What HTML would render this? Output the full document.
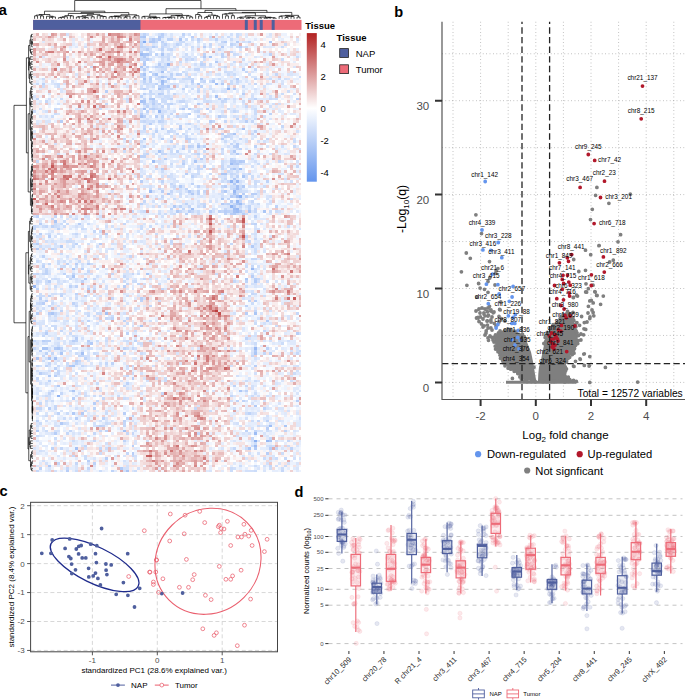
<!DOCTYPE html>
<html><head><meta charset="utf-8"><style>html,body{margin:0;padding:0;background:#fff;width:685px;height:700px;overflow:hidden}svg{display:block}</style></head><body>
<svg width="685" height="700" viewBox="0 0 685 700" font-family='"Liberation Sans", sans-serif'>
<g transform="translate(33.1,33.1) scale(2.98222,2.49432)" shape-rendering="crispEdges" fill="none">
<path stroke="#84abf1" d="M37 3.5h1"/>
<path stroke="#8bb0f2" d="M69 65.5h1M74 163.5h1"/>
<path stroke="#91b4f2" d="M65 22.5h1M66 59.5h1M66 69.5h1M8 145.5h1"/>
<path stroke="#98b8f3" d="M45 12.5h1M42 31.5h1M68 59.5h1M67 63.5h1M68 67.5h1M68 70.5h1M73 94.5h1M0 101.5h1M74 126.5h1M78 163.5h1"/>
<path stroke="#9ebdf4" d="M36 8.5h1M43 19.5h1M61 20.5h1M40 51.5h1M66 52.5h1M69 54.5h1M39 63.5h1M69 68.5h1M53 70.5h1M67 70.5h1M68 71.5h1M79 157.5h1M74 160.5h1M74 165.5h1"/>
<path stroke="#a5c1f4" d="M43 15.5h1M43 20.5h1M42 22.5h1M61 25.5h1M36 27.5h1M37 30.5h1M36 33.5h1M70 38.5h1M68 61.5h1M68 62.5h1M68 65.5h1M67 71.5h1M24 112.5h1M16 128.5h1M7 130.5h1M30 159.5h1M14 166.5h1"/>
<path stroke="#abc6f5" d="M37 1.5h1M49 2.5h1M37 8.5h2M43 8.5h1M59 9.5h1M36 13.5h1M37 16.5h1M41 16.5h1M43 17.5h1M37 18.5h1M45 18.5h1M40 26.5h1M37 27.5h1M67 40.5h1M37 42.5h1M55 45.5h1M42 47.5h1M54 51.5h1M67 54.5h1M63 56.5h2M70 57.5h1M45 64.5h1M67 64.5h1M68 68.5h1M72 71.5h1M77 71.5h1M7 75.5h1M13 94.5h1M38 96.5h1M13 97.5h1M71 98.5h1M6 112.5h1M74 112.5h1M36 117.5h1M3 126.5h2M8 126.5h1M9 128.5h1M74 128.5h1M1 130.5h1M5 130.5h1M13 133.5h1M13 143.5h1M69 143.5h1M84 157.5h1M79 163.5h1M72 166.5h1M31 175.5h1"/>
<path stroke="#b2caf6" d="M36 1.5h1M42 1.5h1M40 2.5h1M42 2.5h1M39 3.5h2M79 3.5h1M63 5.5h1M37 9.5h1M57 9.5h1M61 11.5h1M37 12.5h1M56 18.5h1M68 18.5h1M60 19.5h1M55 20.5h1M63 20.5h1M45 21.5h1M67 22.5h1M39 26.5h1M50 30.5h1M49 38.5h1M67 47.5h1M68 48.5h1M66 51.5h2M69 51.5h1M68 52.5h1M67 58.5h1M67 60.5h1M49 61.5h1M70 61.5h1M52 63.5h1M64 63.5h1M53 64.5h1M63 66.5h1M66 67.5h1M63 68.5h1M47 69.5h1M67 69.5h1M48 71.5h1M69 71.5h1M67 72.5h1M9 85.5h1M73 85.5h1M1 86.5h1M17 98.5h1M74 99.5h1M78 115.5h1M19 124.5h1M7 126.5h1M74 127.5h1M14 131.5h1M12 133.5h1M5 137.5h1M8 141.5h1M74 149.5h1M13 152.5h1M16 152.5h1M9 156.5h1M1 159.5h1M74 166.5h1M5 173.5h1M29 174.5h1"/>
<path stroke="#b8cef7" d="M43 0.5h1M53 1.5h1M64 3.5h1M68 3.5h1M40 5.5h1M57 5.5h1M69 5.5h1M38 6.5h1M38 10.5h1M37 11.5h1M42 12.5h1M37 14.5h1M70 14.5h1M39 18.5h1M53 19.5h1M43 21.5h1M37 22.5h1M24 23.5h1M42 24.5h1M70 24.5h1M62 26.5h1M37 28.5h1M40 28.5h1M55 28.5h1M40 30.5h1M52 30.5h1M58 30.5h1M36 32.5h1M52 32.5h1M37 33.5h1M41 33.5h1M62 33.5h1M9 35.5h1M59 35.5h1M71 35.5h1M39 36.5h1M49 37.5h1M43 38.5h1M63 40.5h1M43 42.5h1M63 42.5h1M68 44.5h1M68 45.5h1M50 46.5h1M44 50.5h1M56 50.5h1M70 51.5h1M50 52.5h1M67 52.5h1M57 53.5h1M43 54.5h1M51 56.5h1M36 59.5h1M64 61.5h1M43 63.5h1M70 64.5h1M73 64.5h2M66 65.5h1M52 71.5h1M59 71.5h1M64 71.5h1M66 72.5h1M70 72.5h1M2 76.5h1M15 76.5h1M2 80.5h1M24 80.5h1M5 81.5h1M1 84.5h1M22 84.5h1M14 92.5h1M18 92.5h1M16 94.5h1M73 97.5h1M74 98.5h1M5 99.5h1M30 101.5h1M18 102.5h1M2 106.5h1M36 106.5h1M4 107.5h1M74 107.5h1M3 108.5h1M1 112.5h1M5 112.5h1M71 112.5h1M0 115.5h1M4 120.5h1M88 120.5h1M14 122.5h1M3 123.5h1M13 123.5h1M18 123.5h1M2 127.5h1M74 133.5h1M2 136.5h1M7 137.5h1M33 138.5h1M6 143.5h1M13 146.5h1M88 147.5h1M20 148.5h1M5 150.5h1M30 152.5h1M14 154.5h1M78 158.5h1M7 160.5h1M33 165.5h1M79 166.5h1M33 168.5h1M78 168.5h1M24 170.5h1M18 171.5h1M11 175.5h1"/>
<path stroke="#bed3f8" d="M37 0.5h1M50 0.5h1M43 1.5h1M45 2.5h2M55 2.5h1M61 2.5h1M43 3.5h1M44 4.5h1M48 4.5h1M66 4.5h1M36 5.5h1M43 6.5h1M36 7.5h1M41 8.5h1M57 8.5h1M63 8.5h1M79 8.5h1M63 9.5h1M56 12.5h1M38 13.5h1M41 13.5h1M43 13.5h1M39 15.5h1M36 16.5h1M40 16.5h1M46 16.5h1M48 16.5h1M39 17.5h1M44 17.5h1M47 18.5h1M74 18.5h1M37 19.5h1M39 19.5h1M44 19.5h1M3 20.5h1M41 20.5h1M42 21.5h1M44 21.5h1M56 21.5h1M43 22.5h1M50 22.5h1M37 24.5h1M43 24.5h1M36 25.5h1M46 26.5h1M54 26.5h1M64 26.5h1M74 26.5h1M88 26.5h1M40 27.5h1M46 28.5h1M38 29.5h1M39 30.5h1M38 31.5h1M79 32.5h1M43 33.5h1M68 34.5h1M42 35.5h1M37 38.5h1M41 39.5h1M74 39.5h1M64 41.5h1M51 42.5h2M46 43.5h1M37 45.5h1M52 45.5h1M57 45.5h1M67 45.5h1M74 45.5h1M69 46.5h1M48 47.5h1M55 48.5h1M36 49.5h2M66 50.5h1M68 51.5h1M66 54.5h1M53 57.5h1M68 57.5h1M43 59.5h1M78 59.5h1M53 60.5h1M55 61.5h1M51 62.5h1M67 62.5h1M55 63.5h1M55 64.5h1M71 65.5h1M36 68.5h1M51 68.5h1M65 68.5h1M49 69.5h1M57 69.5h1M72 69.5h1M81 69.5h1M46 70.5h1M72 70.5h1M62 71.5h1M65 71.5h1M51 72.5h1M64 72.5h1M1 73.5h1M74 73.5h1M74 76.5h1M6 77.5h1M8 78.5h1M14 84.5h1M6 86.5h1M3 89.5h1M11 92.5h1M3 93.5h1M4 95.5h1M4 96.5h1M10 96.5h1M45 98.5h1M16 99.5h1M71 99.5h1M12 101.5h1M14 101.5h1M1 102.5h1M14 104.5h1M5 105.5h1M9 105.5h1M17 105.5h1M36 107.5h1M72 107.5h1M13 108.5h1M71 109.5h1M9 111.5h1M26 114.5h1M18 115.5h1M30 115.5h1M31 120.5h1M71 122.5h1M4 123.5h2M14 123.5h1M34 123.5h1M9 126.5h1M30 126.5h1M78 126.5h1M4 128.5h1M79 128.5h1M17 130.5h1M14 132.5h1M26 132.5h1M4 133.5h1M7 134.5h1M5 139.5h1M31 140.5h1M67 141.5h1M71 143.5h1M68 147.5h1M70 147.5h1M20 150.5h1M77 150.5h1M8 152.5h1M72 152.5h1M33 153.5h1M23 154.5h1M31 154.5h1M1 155.5h1M30 155.5h1M78 155.5h1M22 157.5h1M24 159.5h1M71 159.5h1M84 159.5h1M30 163.5h1M6 166.5h1M86 166.5h1M20 172.5h1M2 174.5h1M26 175.5h1"/>
<path stroke="#c5d7f8" d="M39 2.5h1M41 2.5h1M36 3.5h1M41 3.5h1M63 3.5h1M72 3.5h1M36 4.5h1M59 4.5h1M37 5.5h1M43 5.5h1M46 6.5h1M62 6.5h1M66 7.5h1M39 8.5h1M36 10.5h2M45 10.5h1M51 10.5h1M53 10.5h1M57 12.5h1M42 13.5h1M64 13.5h1M54 14.5h2M74 14.5h1M71 15.5h1M49 16.5h1M81 16.5h1M36 17.5h2M42 17.5h1M46 17.5h1M52 17.5h1M53 18.5h1M57 19.5h1M68 19.5h1M74 20.5h1M65 21.5h1M70 21.5h1M36 22.5h1M39 23.5h1M55 23.5h1M47 24.5h1M1 26.5h1M37 26.5h1M4 27.5h1M49 27.5h2M63 27.5h1M24 28.5h1M42 28.5h1M45 28.5h1M43 29.5h1M71 29.5h1M41 30.5h1M49 30.5h1M55 31.5h1M67 31.5h1M46 32.5h1M48 33.5h1M55 33.5h1M37 35.5h1M43 35.5h1M60 35.5h1M64 35.5h1M73 35.5h1M52 36.5h1M37 37.5h1M83 37.5h1M39 38.5h1M52 38.5h1M63 38.5h1M45 39.5h1M48 40.5h1M66 40.5h1M73 40.5h1M51 41.5h1M65 41.5h1M30 42.5h1M69 42.5h1M78 42.5h1M55 44.5h1M66 44.5h1M50 45.5h1M53 45.5h1M87 45.5h1M63 46.5h1M38 48.5h1M43 48.5h2M1 51.5h1M50 51.5h1M82 51.5h1M55 53.5h1M63 53.5h1M88 53.5h1M52 54.5h1M55 54.5h1M59 54.5h1M63 54.5h1M66 56.5h1M72 56.5h1M64 58.5h1M65 59.5h1M46 60.5h1M47 61.5h1M63 61.5h1M34 62.5h1M42 62.5h1M69 62.5h1M46 63.5h1M57 63.5h1M63 63.5h1M37 65.5h1M43 65.5h1M67 65.5h1M65 66.5h1M37 67.5h1M69 67.5h1M73 67.5h1M57 68.5h1M64 68.5h1M67 68.5h1M52 69.5h1M69 69.5h1M50 70.5h1M64 70.5h1M74 70.5h1M33 71.5h1M49 71.5h1M53 71.5h1M63 71.5h1M66 71.5h1M74 71.5h1M7 73.5h1M6 74.5h1M30 76.5h1M73 76.5h1M0 77.5h1M4 77.5h1M0 78.5h1M20 79.5h1M14 80.5h1M71 81.5h1M74 82.5h1M46 83.5h1M72 83.5h1M66 84.5h1M32 89.5h1M73 90.5h2M5 92.5h1M73 93.5h1M4 94.5h1M21 94.5h1M18 95.5h1M1 96.5h1M3 96.5h1M13 96.5h1M26 96.5h1M33 96.5h1M30 97.5h1M12 98.5h1M20 98.5h1M37 98.5h1M75 98.5h1M1 99.5h1M67 99.5h1M31 100.5h1M35 100.5h1M20 102.5h1M43 102.5h1M9 104.5h1M73 104.5h1M26 106.5h1M2 108.5h1M5 109.5h1M14 109.5h1M39 109.5h1M74 111.5h1M7 112.5h1M88 112.5h1M18 113.5h1M24 114.5h1M31 114.5h1M7 115.5h1M18 117.5h1M9 119.5h1M77 119.5h1M3 121.5h1M8 122.5h1M0 123.5h1M39 123.5h1M18 124.5h1M0 126.5h1M33 126.5h1M6 128.5h1M30 128.5h1M77 128.5h1M88 128.5h1M3 129.5h1M15 129.5h2M73 129.5h1M15 131.5h1M5 132.5h1M24 132.5h1M1 133.5h1M16 133.5h1M8 135.5h1M8 136.5h1M31 137.5h1M1 138.5h1M30 141.5h1M71 141.5h1M5 144.5h1M9 144.5h1M43 144.5h1M66 145.5h1M23 146.5h1M21 147.5h1M2 148.5h1M7 149.5h1M1 150.5h2M7 150.5h1M54 150.5h1M75 155.5h1M30 156.5h1M23 157.5h1M30 157.5h1M12 159.5h1M22 159.5h1M74 159.5h1M11 160.5h1M20 160.5h1M31 160.5h1M33 160.5h1M55 160.5h1M73 162.5h1M79 162.5h1M20 163.5h1M85 163.5h1M17 165.5h1M9 166.5h1M22 166.5h1M67 166.5h1M81 166.5h1M31 168.5h1M13 169.5h1M33 169.5h1M84 170.5h1M8 172.5h1M14 172.5h1M79 173.5h1M11 174.5h1M18 174.5h1M1 175.5h1M83 175.5h1"/>
<path stroke="#cbdcf9" d="M42 0.5h1M68 0.5h1M59 1.5h1M65 1.5h1M68 1.5h1M37 2.5h1M51 2.5h1M53 2.5h1M66 2.5h1M49 3.5h2M55 3.5h1M43 4.5h1M49 4.5h1M67 4.5h1M84 4.5h1M38 5.5h1M41 5.5h1M53 5.5h1M59 5.5h1M68 5.5h1M71 5.5h1M83 5.5h1M37 6.5h1M45 6.5h1M39 7.5h1M45 8.5h1M51 8.5h1M67 8.5h1M36 9.5h1M43 9.5h1M45 9.5h1M88 9.5h1M39 10.5h1M70 10.5h1M83 10.5h1M49 11.5h1M56 11.5h1M67 11.5h1M44 12.5h1M59 12.5h1M19 13.5h1M44 13.5h1M43 14.5h2M50 15.5h1M64 15.5h1M51 16.5h1M65 16.5h1M67 16.5h1M89 17.5h1M3 18.5h1M41 18.5h2M46 18.5h1M50 18.5h3M62 18.5h1M79 18.5h1M82 18.5h1M56 19.5h1M59 19.5h1M66 19.5h1M1 20.5h1M8 20.5h1M37 20.5h2M53 20.5h1M66 20.5h1M3 21.5h1M8 21.5h1M40 21.5h1M51 21.5h1M44 22.5h1M46 22.5h1M53 22.5h1M55 22.5h1M85 23.5h1M39 24.5h2M83 24.5h1M44 25.5h2M9 26.5h1M31 26.5h1M43 26.5h1M45 26.5h1M79 26.5h1M81 26.5h1M43 27.5h2M58 27.5h1M64 27.5h1M70 27.5h1M38 28.5h1M40 29.5h1M45 29.5h1M51 29.5h1M7 30.5h1M22 30.5h1M42 30.5h1M45 30.5h1M65 30.5h1M74 30.5h1M0 31.5h1M34 31.5h1M54 31.5h1M74 31.5h1M7 32.5h1M74 32.5h1M6 33.5h1M51 33.5h1M63 33.5h2M70 33.5h1M43 34.5h1M74 34.5h1M30 35.5h1M36 35.5h1M40 35.5h1M46 38.5h1M55 38.5h1M46 39.5h1M40 40.5h1M50 40.5h1M65 40.5h1M46 41.5h1M36 43.5h1M52 43.5h1M64 43.5h1M87 43.5h1M47 45.5h1M68 46.5h1M30 47.5h1M43 47.5h1M46 47.5h1M57 47.5h1M37 48.5h1M41 48.5h1M54 48.5h1M63 48.5h1M66 48.5h1M74 48.5h1M57 49.5h1M67 50.5h1M63 51.5h1M46 52.5h1M63 52.5h1M69 52.5h1M75 52.5h1M65 53.5h1M41 54.5h1M56 54.5h1M68 54.5h1M43 55.5h1M65 55.5h1M68 55.5h1M55 56.5h1M59 56.5h1M67 56.5h1M36 57.5h1M39 57.5h1M45 57.5h1M66 57.5h1M73 57.5h1M63 59.5h1M67 59.5h1M74 59.5h1M74 60.5h1M66 61.5h2M69 61.5h1M77 61.5h1M39 62.5h1M66 62.5h1M53 63.5h1M68 63.5h2M49 64.5h1M68 64.5h1M73 65.5h1M47 66.5h1M86 66.5h1M56 68.5h1M70 68.5h1M75 68.5h1M42 69.5h1M55 69.5h1M37 71.5h1M55 71.5h1M70 71.5h1M79 71.5h1M81 71.5h1M42 72.5h1M44 72.5h1M47 72.5h1M55 72.5h1M68 72.5h1M71 72.5h1M12 73.5h1M14 74.5h1M10 75.5h1M7 76.5h1M9 76.5h1M11 76.5h1M18 76.5h1M3 77.5h1M7 77.5h1M10 77.5h1M36 77.5h1M39 77.5h1M85 77.5h1M16 78.5h1M36 78.5h1M22 79.5h1M5 80.5h1M41 80.5h1M17 81.5h1M11 83.5h2M55 83.5h1M0 84.5h1M46 84.5h1M74 84.5h1M2 85.5h1M13 85.5h1M30 85.5h1M3 86.5h1M7 86.5h1M26 86.5h1M74 86.5h1M74 87.5h1M9 88.5h1M17 89.5h1M14 90.5h1M1 91.5h1M8 91.5h1M15 91.5h1M3 92.5h1M8 92.5h1M19 92.5h1M10 93.5h1M14 93.5h1M71 93.5h1M8 94.5h1M0 96.5h1M17 96.5h1M35 96.5h1M61 96.5h1M11 97.5h1M7 98.5h1M31 98.5h1M4 99.5h1M30 99.5h1M33 99.5h2M78 99.5h1M1 100.5h1M42 100.5h1M7 101.5h1M71 101.5h1M2 104.5h1M63 104.5h1M74 104.5h1M2 105.5h2M31 105.5h1M72 105.5h1M77 105.5h1M14 106.5h1M1 108.5h1M6 108.5h1M73 108.5h1M7 110.5h1M2 111.5h1M18 112.5h1M21 112.5h2M5 113.5h1M7 113.5h1M26 113.5h1M25 114.5h1M31 116.5h1M74 116.5h1M6 117.5h2M81 117.5h1M7 118.5h1M4 119.5h1M34 119.5h1M12 120.5h1M13 121.5h1M21 123.5h1M24 123.5h1M31 123.5h1M36 124.5h1M74 124.5h1M83 124.5h1M8 125.5h1M18 126.5h1M31 126.5h1M5 127.5h1M9 127.5h1M89 127.5h1M14 128.5h1M20 128.5h1M36 128.5h1M3 131.5h1M11 132.5h1M8 133.5h1M11 133.5h1M31 133.5h1M33 133.5h1M3 136.5h1M33 136.5h1M87 136.5h1M41 138.5h1M44 138.5h1M44 139.5h1M71 139.5h1M74 139.5h1M21 140.5h1M12 143.5h1M74 144.5h1M4 145.5h1M17 145.5h1M20 145.5h1M22 145.5h1M28 145.5h1M73 145.5h1M30 146.5h1M4 147.5h1M6 147.5h1M33 150.5h1M67 150.5h1M17 151.5h1M59 151.5h1M1 152.5h1M11 152.5h1M24 152.5h1M71 152.5h1M4 153.5h1M10 154.5h1M73 155.5h1M2 156.5h1M10 156.5h1M24 156.5h1M21 157.5h1M75 157.5h1M4 159.5h1M78 159.5h1M1 161.5h1M7 162.5h1M13 163.5h1M74 164.5h1M73 165.5h1M79 165.5h1M85 165.5h1M24 166.5h1M71 166.5h1M22 168.5h1M83 168.5h1M17 169.5h1M17 170.5h1M77 170.5h1M81 170.5h1M69 173.5h1M74 173.5h1M84 173.5h1M66 174.5h1M79 174.5h1M83 174.5h1M14 175.5h1M22 175.5h1M34 175.5h1M66 175.5h1M74 175.5h1"/>
<path stroke="#d2e0fa" d="M11 0.5h1M36 0.5h1M38 0.5h1M52 0.5h1M66 0.5h1M50 1.5h1M63 1.5h1M36 2.5h1M70 3.5h1M51 4.5h1M17 5.5h1M39 5.5h1M44 5.5h1M47 5.5h1M55 5.5h1M66 5.5h1M36 6.5h1M39 6.5h1M43 7.5h1M68 8.5h1M44 9.5h1M47 9.5h1M50 9.5h1M52 9.5h1M64 9.5h1M43 10.5h1M52 10.5h1M57 10.5h1M43 11.5h1M54 12.5h1M40 13.5h1M48 13.5h1M56 13.5h2M59 13.5h1M73 13.5h1M45 15.5h1M59 15.5h1M65 15.5h2M18 16.5h1M62 16.5h1M72 16.5h1M60 18.5h1M84 18.5h1M63 19.5h1M7 20.5h1M27 20.5h1M39 20.5h2M46 20.5h2M68 20.5h1M78 20.5h1M83 20.5h1M36 21.5h1M38 21.5h1M48 21.5h1M77 21.5h1M38 22.5h1M45 22.5h1M59 22.5h1M74 22.5h1M43 23.5h1M45 23.5h1M60 23.5h1M63 23.5h2M78 24.5h1M87 24.5h1M39 25.5h1M42 25.5h1M57 25.5h1M73 25.5h1M79 25.5h1M5 26.5h1M44 26.5h1M57 26.5h1M65 26.5h1M67 26.5h1M72 26.5h2M80 26.5h1M31 27.5h1M39 27.5h1M41 27.5h1M57 27.5h1M59 27.5h1M8 28.5h1M41 28.5h1M44 28.5h1M56 28.5h1M80 28.5h1M82 28.5h1M41 29.5h1M79 29.5h1M2 30.5h1M8 30.5h1M33 30.5h1M36 30.5h1M53 30.5h1M55 30.5h1M4 31.5h1M36 31.5h1M43 31.5h2M47 31.5h1M63 31.5h1M68 31.5h1M43 32.5h1M51 32.5h1M45 33.5h1M49 33.5h2M67 33.5h1M77 33.5h1M38 34.5h1M70 34.5h1M38 35.5h2M51 36.5h1M54 37.5h1M67 37.5h1M41 38.5h1M59 38.5h1M62 38.5h1M36 39.5h2M47 39.5h1M88 39.5h1M53 40.5h1M40 41.5h1M66 41.5h1M33 42.5h1M53 42.5h1M66 42.5h1M87 42.5h1M67 43.5h1M71 43.5h1M75 43.5h1M77 43.5h1M7 44.5h1M36 45.5h1M56 45.5h1M65 45.5h1M83 45.5h1M46 46.5h1M89 46.5h1M52 47.5h1M63 47.5h1M66 47.5h1M8 48.5h1M46 48.5h2M49 48.5h1M79 48.5h1M73 50.5h1M42 51.5h1M74 51.5h1M88 51.5h1M67 53.5h2M73 53.5h1M36 54.5h1M55 55.5h1M66 55.5h1M46 56.5h1M53 56.5h2M70 56.5h1M83 56.5h1M43 57.5h1M46 57.5h1M54 57.5h1M64 57.5h1M71 57.5h1M47 58.5h1M73 58.5h1M84 58.5h1M69 59.5h1M75 59.5h1M86 59.5h1M24 60.5h1M43 60.5h1M39 61.5h1M46 61.5h1M50 61.5h1M74 61.5h1M47 62.5h1M49 62.5h1M40 63.5h1M49 63.5h1M51 63.5h1M70 63.5h2M75 63.5h1M77 63.5h1M46 64.5h1M52 64.5h1M57 64.5h1M49 65.5h1M63 65.5h1M79 65.5h1M42 66.5h2M69 66.5h1M74 66.5h1M78 66.5h1M40 67.5h1M59 67.5h1M79 67.5h1M73 68.5h1M40 69.5h1M71 69.5h1M60 70.5h1M69 70.5h1M36 71.5h1M42 71.5h1M46 71.5h1M60 71.5h1M82 71.5h1M46 72.5h1M0 73.5h1M9 73.5h1M17 73.5h1M22 73.5h1M43 73.5h1M63 75.5h1M41 76.5h1M1 77.5h1M8 77.5h1M14 77.5h1M24 77.5h1M26 77.5h1M43 77.5h1M45 77.5h1M65 77.5h1M17 78.5h1M28 78.5h1M74 78.5h2M8 80.5h1M13 80.5h1M31 80.5h1M74 80.5h1M1 81.5h2M22 81.5h1M48 81.5h1M52 81.5h1M12 82.5h1M71 82.5h1M4 83.5h1M6 83.5h1M13 83.5h1M33 83.5h1M71 83.5h1M7 84.5h1M13 84.5h1M18 84.5h1M26 84.5h1M50 84.5h1M21 85.5h1M28 88.5h1M71 88.5h1M11 89.5h1M37 90.5h1M41 90.5h1M10 91.5h1M16 92.5h1M60 92.5h1M71 92.5h1M9 93.5h1M75 93.5h1M37 94.5h1M74 94.5h1M71 95.5h1M5 96.5h1M19 96.5h1M73 96.5h1M21 97.5h1M6 98.5h1M8 98.5h1M14 98.5h1M39 98.5h1M2 99.5h1M8 99.5h1M10 99.5h1M75 99.5h1M4 100.5h1M37 100.5h1M73 100.5h2M18 101.5h1M20 101.5h1M24 101.5h1M28 101.5h1M5 102.5h1M24 102.5h1M77 102.5h1M73 103.5h1M6 104.5h2M10 104.5h1M1 105.5h1M14 105.5h1M20 105.5h1M22 105.5h1M37 106.5h1M70 106.5h1M2 107.5h1M42 107.5h1M14 108.5h1M8 109.5h1M18 109.5h1M1 110.5h1M3 110.5h1M18 110.5h1M34 110.5h1M15 111.5h1M79 111.5h1M17 112.5h1M30 112.5h1M67 112.5h1M11 113.5h1M20 113.5h1M21 114.5h1M75 114.5h1M6 115.5h1M11 115.5h1M16 115.5h1M22 115.5h1M39 115.5h1M21 116.5h1M77 116.5h1M14 117.5h1M30 117.5h1M33 117.5h1M2 118.5h1M14 118.5h1M13 119.5h1M45 119.5h1M3 120.5h1M89 120.5h1M14 121.5h1M74 121.5h1M16 122.5h1M24 122.5h1M72 122.5h1M12 123.5h1M26 123.5h1M30 123.5h1M79 123.5h1M85 123.5h1M1 124.5h1M3 124.5h2M8 124.5h1M12 124.5h2M35 124.5h1M5 126.5h1M14 126.5h1M19 126.5h1M34 126.5h1M43 126.5h1M66 126.5h1M10 127.5h1M12 127.5h1M16 127.5h1M86 127.5h1M21 128.5h1M73 128.5h1M17 129.5h2M4 130.5h1M18 130.5h1M21 130.5h1M74 130.5h1M8 131.5h1M15 132.5h1M22 132.5h1M2 133.5h1M5 133.5h1M17 133.5h1M24 133.5h1M40 133.5h1M66 133.5h1M88 133.5h1M31 134.5h1M1 135.5h1M5 135.5h1M88 135.5h1M4 136.5h1M7 136.5h1M14 136.5h1M36 136.5h1M74 136.5h1M68 137.5h1M17 138.5h1M1 139.5h1M38 139.5h1M86 139.5h1M2 140.5h1M4 140.5h1M7 141.5h1M73 141.5h1M77 141.5h1M31 142.5h1M73 142.5h1M20 143.5h1M1 144.5h1M15 144.5h1M17 144.5h1M5 145.5h1M14 145.5h1M75 145.5h1M78 145.5h1M1 146.5h1M31 146.5h1M11 147.5h1M66 147.5h1M71 147.5h1M77 147.5h1M73 148.5h1M12 149.5h1M14 150.5h1M24 151.5h1M85 151.5h1M73 152.5h1M16 153.5h1M78 153.5h1M18 154.5h1M71 154.5h1M89 154.5h1M4 155.5h1M18 155.5h1M22 155.5h1M33 155.5h1M82 155.5h1M11 156.5h1M20 156.5h1M25 156.5h1M68 156.5h1M79 156.5h1M1 157.5h1M7 157.5h2M20 157.5h1M78 157.5h1M73 158.5h1M81 158.5h1M7 159.5h2M34 159.5h1M6 160.5h1M72 160.5h1M18 161.5h1M68 161.5h1M38 163.5h1M73 163.5h1M81 163.5h1M7 164.5h1M24 164.5h1M78 165.5h1M80 165.5h1M17 166.5h1M2 167.5h1M72 168.5h1M75 168.5h1M34 169.5h1M87 170.5h1M3 171.5h1M30 171.5h1M74 171.5h1M4 172.5h1M18 172.5h1M78 172.5h1M85 172.5h1M31 173.5h1M77 173.5h1M81 173.5h1M30 174.5h2M35 174.5h1M67 174.5h1M7 175.5h1M30 175.5h1M71 175.5h3"/>
<path stroke="#d8e4fa" d="M44 0.5h1M46 0.5h1M61 0.5h1M69 0.5h1M79 0.5h1M46 1.5h1M49 1.5h1M56 2.5h1M59 2.5h1M88 2.5h1M71 3.5h1M40 4.5h1M45 4.5h1M47 4.5h1M57 4.5h1M62 4.5h2M45 5.5h1M70 5.5h1M77 5.5h1M42 6.5h1M53 6.5h1M69 6.5h1M46 8.5h1M61 8.5h1M3 9.5h1M11 9.5h1M38 9.5h1M42 9.5h1M51 9.5h1M54 9.5h1M56 9.5h1M74 9.5h1M54 10.5h1M42 11.5h1M46 11.5h1M51 11.5h1M66 12.5h1M69 12.5h1M71 12.5h1M78 12.5h1M63 13.5h1M87 13.5h1M36 14.5h1M42 14.5h1M47 14.5h1M52 14.5h1M67 14.5h1M37 15.5h1M42 15.5h1M51 15.5h1M73 15.5h1M86 15.5h1M14 16.5h1M54 16.5h1M58 16.5h1M61 16.5h1M66 16.5h1M78 16.5h1M85 16.5h2M41 17.5h1M45 17.5h1M73 17.5h2M67 18.5h1M78 18.5h1M85 18.5h1M6 19.5h1M31 19.5h1M36 19.5h1M42 19.5h1M49 19.5h2M69 19.5h1M71 19.5h1M83 19.5h1M10 20.5h1M24 20.5h1M48 20.5h1M72 20.5h1M79 20.5h1M31 21.5h1M39 21.5h1M59 21.5h1M9 22.5h1M64 22.5h1M9 23.5h1M57 23.5h1M70 23.5h1M5 24.5h1M38 24.5h1M45 24.5h1M73 24.5h1M0 25.5h1M41 25.5h1M43 25.5h1M46 25.5h1M59 25.5h1M50 26.5h1M48 27.5h1M51 27.5h1M67 27.5h1M5 28.5h1M39 28.5h1M47 28.5h1M51 28.5h1M63 28.5h1M70 28.5h1M37 29.5h1M50 29.5h1M63 29.5h1M73 29.5h1M14 30.5h1M43 30.5h1M56 30.5h1M67 30.5h1M73 30.5h1M40 31.5h1M59 31.5h1M66 31.5h1M8 32.5h1M38 32.5h1M42 32.5h1M50 32.5h1M2 33.5h1M4 33.5h1M39 33.5h1M57 33.5h1M68 33.5h1M71 33.5h1M74 33.5h1M72 34.5h1M79 34.5h1M4 35.5h2M44 35.5h1M55 35.5h1M66 35.5h1M69 35.5h2M1 36.5h1M24 36.5h1M38 36.5h1M43 36.5h1M48 36.5h1M59 36.5h1M74 36.5h1M43 37.5h1M54 38.5h1M69 38.5h1M79 38.5h1M51 39.5h1M38 40.5h1M45 40.5h1M55 40.5h1M42 41.5h1M49 41.5h1M74 41.5h1M54 42.5h1M71 42.5h1M73 42.5h1M32 43.5h1M40 43.5h1M48 44.5h1M45 45.5h1M78 45.5h1M52 46.5h1M55 46.5h1M71 46.5h1M81 46.5h1M75 47.5h1M53 48.5h1M67 48.5h1M69 48.5h1M84 48.5h1M42 49.5h1M52 49.5h1M55 49.5h1M54 50.5h1M36 51.5h1M41 51.5h1M43 51.5h1M56 51.5h1M64 51.5h1M78 51.5h1M83 51.5h1M42 52.5h1M53 52.5h1M70 52.5h1M46 53.5h1M48 53.5h3M52 53.5h1M66 53.5h1M85 53.5h1M54 54.5h1M64 54.5h1M36 55.5h1M52 55.5h1M37 56.5h1M68 56.5h1M71 56.5h1M82 56.5h1M38 57.5h1M50 57.5h1M62 57.5h2M75 57.5h1M46 58.5h1M63 58.5h1M71 58.5h1M47 59.5h2M64 59.5h1M47 60.5h1M69 60.5h1M37 61.5h2M72 61.5h1M43 62.5h1M58 62.5h1M26 63.5h1M48 63.5h1M62 64.5h2M66 64.5h1M75 64.5h1M41 65.5h1M51 65.5h1M56 65.5h1M72 65.5h1M75 65.5h1M78 65.5h1M70 66.5h1M55 67.5h1M61 67.5h1M72 67.5h1M24 68.5h1M37 68.5h1M50 68.5h1M53 68.5h1M55 68.5h1M66 68.5h1M78 68.5h2M48 69.5h1M56 69.5h1M65 69.5h1M68 69.5h1M65 70.5h2M50 71.5h1M54 71.5h1M73 71.5h1M59 72.5h1M69 72.5h1M79 72.5h1M14 73.5h1M18 73.5h1M33 73.5h1M11 74.5h1M13 74.5h1M18 74.5h1M74 74.5h1M2 75.5h1M31 75.5h1M8 76.5h1M37 76.5h1M46 76.5h1M71 76.5h1M76 76.5h1M16 77.5h1M48 77.5h1M74 77.5h1M27 78.5h1M89 78.5h1M6 79.5h1M35 79.5h1M74 79.5h1M0 80.5h1M4 80.5h1M73 80.5h1M7 81.5h1M14 81.5h1M24 81.5h1M31 81.5h1M74 81.5h1M79 81.5h1M3 82.5h1M9 82.5h1M1 83.5h1M30 83.5h1M36 83.5h1M27 84.5h1M42 84.5h1M4 85.5h2M7 85.5h2M15 85.5h1M43 85.5h1M74 85.5h1M12 86.5h1M25 86.5h1M17 87.5h1M24 87.5h1M64 87.5h1M77 87.5h1M74 88.5h1M21 89.5h1M24 89.5h1M4 90.5h1M17 90.5h1M24 90.5h1M44 90.5h1M2 91.5h1M12 91.5h1M18 91.5h1M39 92.5h1M16 93.5h1M2 94.5h1M24 94.5h1M77 94.5h1M3 95.5h1M5 95.5h1M31 95.5h1M74 95.5h1M2 96.5h1M18 96.5h1M24 96.5h1M30 96.5h3M39 96.5h1M12 97.5h1M31 97.5h1M1 98.5h1M3 98.5h2M26 98.5h2M34 98.5h1M36 98.5h1M41 98.5h1M14 99.5h1M23 99.5h1M68 99.5h1M81 99.5h1M5 100.5h1M8 100.5h2M13 101.5h1M39 101.5h1M74 101.5h1M7 102.5h1M9 102.5h1M33 102.5h1M44 102.5h1M71 103.5h1M30 104.5h1M35 105.5h1M12 106.5h1M3 107.5h1M6 107.5h1M16 107.5h1M30 107.5h1M25 108.5h1M31 108.5h1M0 109.5h1M21 109.5h1M28 109.5h1M20 110.5h1M35 110.5h1M74 110.5h1M20 111.5h1M8 112.5h1M14 112.5h1M76 112.5h1M72 113.5h1M85 113.5h1M5 114.5h1M7 114.5h1M85 114.5h1M3 115.5h1M10 115.5h1M14 115.5h1M68 115.5h1M74 115.5h1M1 116.5h3M10 116.5h1M79 116.5h1M2 117.5h1M4 117.5h1M10 118.5h1M70 118.5h1M19 119.5h1M1 120.5h1M74 120.5h1M5 121.5h1M49 121.5h1M73 121.5h1M79 121.5h1M34 122.5h1M1 123.5h1M10 123.5h1M77 123.5h1M82 123.5h1M7 124.5h1M10 124.5h1M24 124.5h1M31 124.5h1M40 124.5h1M73 124.5h1M6 125.5h1M36 125.5h1M74 125.5h1M1 126.5h1M13 126.5h1M22 126.5h1M55 126.5h1M64 126.5h1M73 126.5h1M81 126.5h1M88 126.5h1M68 127.5h1M73 127.5h1M88 127.5h1M15 128.5h1M18 128.5h1M24 128.5h2M37 128.5h1M48 128.5h1M34 130.5h1M18 131.5h1M7 132.5h1M13 132.5h1M19 132.5h1M22 133.5h1M83 133.5h2M87 133.5h1M33 134.5h1M73 134.5h1M8 137.5h1M30 137.5h1M86 137.5h1M12 138.5h1M37 138.5h1M72 138.5h1M7 139.5h1M29 139.5h1M75 139.5h1M83 139.5h1M66 140.5h1M81 140.5h1M14 141.5h2M24 141.5h1M36 141.5h1M1 142.5h1M1 143.5h2M22 143.5h1M33 143.5h1M58 143.5h1M60 143.5h1M70 143.5h1M81 143.5h1M89 143.5h1M36 144.5h1M88 144.5h1M3 145.5h1M18 145.5h1M67 145.5h1M5 146.5h1M72 146.5h1M37 147.5h1M74 147.5h1M4 148.5h1M82 148.5h1M4 149.5h1M10 149.5h1M55 149.5h1M88 149.5h1M16 150.5h1M78 150.5h1M82 150.5h2M2 151.5h1M9 151.5h1M4 152.5h1M7 152.5h1M74 152.5h1M88 152.5h1M3 153.5h1M6 153.5h1M19 153.5h1M21 153.5h1M26 153.5h1M12 154.5h1M24 154.5h1M77 154.5h2M24 155.5h1M26 155.5h1M66 155.5h1M83 155.5h1M1 156.5h1M7 156.5h1M14 156.5h1M34 156.5h1M67 156.5h1M33 157.5h1M69 157.5h1M76 157.5h2M3 158.5h1M15 158.5h1M75 159.5h2M79 159.5h1M87 159.5h1M13 160.5h1M15 160.5h1M70 160.5h1M77 160.5h1M2 161.5h1M78 161.5h1M83 161.5h1M10 162.5h1M1 163.5h1M34 163.5h1M67 163.5h1M75 163.5h1M34 164.5h1M16 165.5h1M25 165.5h1M88 165.5h1M0 166.5h1M26 166.5h2M63 166.5h1M66 166.5h1M83 166.5h1M3 167.5h1M11 167.5h1M79 167.5h1M8 169.5h1M27 169.5h1M30 169.5h1M70 169.5h1M73 169.5h1M80 169.5h1M20 170.5h1M34 170.5h1M71 170.5h1M80 170.5h1M89 170.5h1M79 171.5h1M82 172.5h1M88 172.5h1M1 173.5h1M14 173.5h1M20 173.5h1M26 173.5h1M5 174.5h1M14 174.5h1M75 174.5h1M88 174.5h1M5 175.5h1M18 175.5h1M33 175.5h1M59 175.5h1M77 175.5h1"/>
<path stroke="#dfe9fb" d="M41 0.5h1M54 0.5h1M71 0.5h1M39 1.5h1M71 1.5h1M78 1.5h2M82 1.5h1M13 2.5h1M43 2.5h1M60 2.5h1M63 2.5h1M74 2.5h1M3 3.5h1M44 3.5h1M48 3.5h1M61 3.5h1M66 3.5h1M13 4.5h1M41 4.5h1M52 4.5h1M55 4.5h1M64 4.5h1M68 4.5h1M6 5.5h1M12 5.5h1M14 5.5h1M48 5.5h1M78 5.5h2M47 6.5h1M51 6.5h1M63 6.5h1M40 7.5h1M46 7.5h1M67 7.5h1M44 8.5h1M53 8.5h1M71 8.5h1M77 8.5h1M40 9.5h1M40 10.5h1M44 10.5h1M61 10.5h1M44 11.5h2M62 11.5h1M72 11.5h1M43 12.5h1M49 12.5h1M74 12.5h1M45 13.5h1M47 13.5h1M50 13.5h1M55 13.5h1M58 13.5h1M62 13.5h1M70 13.5h1M38 14.5h1M41 14.5h1M46 14.5h1M48 14.5h1M64 14.5h1M78 14.5h1M40 15.5h1M46 15.5h1M55 15.5h1M43 16.5h1M53 16.5h1M59 16.5h1M87 16.5h1M51 17.5h1M70 17.5h1M79 17.5h1M8 18.5h1M43 18.5h1M48 18.5h2M57 18.5h1M61 18.5h1M64 18.5h1M71 18.5h1M75 18.5h1M3 19.5h1M34 19.5h1M38 19.5h1M51 19.5h1M81 19.5h1M6 20.5h1M36 20.5h1M45 20.5h1M51 20.5h1M67 20.5h1M7 21.5h1M52 21.5h3M2 22.5h1M47 22.5h1M57 22.5h1M60 22.5h1M63 22.5h1M71 22.5h1M41 23.5h2M50 23.5h1M52 23.5h1M61 23.5h1M68 23.5h1M74 23.5h1M41 24.5h1M48 24.5h1M51 24.5h1M69 25.5h2M82 25.5h1M22 26.5h1M30 26.5h1M52 26.5h1M55 26.5h1M63 26.5h1M75 26.5h4M2 27.5h1M5 27.5h1M52 27.5h1M60 27.5h2M73 27.5h1M1 28.5h1M78 28.5h1M39 29.5h1M42 29.5h1M62 29.5h1M68 29.5h1M70 29.5h1M74 29.5h1M81 29.5h1M15 30.5h1M54 30.5h1M66 30.5h1M71 30.5h1M77 30.5h1M80 30.5h1M3 31.5h1M46 31.5h1M82 31.5h1M37 32.5h1M63 32.5h1M86 32.5h2M47 33.5h1M61 33.5h1M73 33.5h1M37 34.5h1M41 34.5h1M46 34.5h1M54 34.5h1M1 35.5h1M4 36.5h1M31 36.5h1M42 36.5h1M44 36.5h1M46 36.5h1M53 36.5h1M76 36.5h1M31 37.5h1M44 38.5h1M48 38.5h1M57 38.5h1M68 38.5h1M75 38.5h1M83 38.5h1M0 39.5h1M27 39.5h1M34 39.5h1M61 39.5h1M68 39.5h1M73 39.5h1M36 40.5h1M42 40.5h1M44 40.5h1M47 40.5h1M51 40.5h1M4 41.5h1M63 41.5h1M68 41.5h1M73 41.5h1M18 42.5h1M42 42.5h1M56 42.5h1M30 43.5h1M37 43.5h1M45 43.5h1M78 43.5h1M36 44.5h1M41 44.5h1M53 44.5h1M69 44.5h1M30 45.5h1M32 45.5h1M40 45.5h1M43 45.5h1M46 45.5h1M81 45.5h1M88 45.5h1M36 46.5h1M43 46.5h1M49 46.5h1M53 46.5h1M56 46.5h1M66 46.5h2M26 47.5h1M37 47.5h1M40 47.5h1M55 47.5h1M18 48.5h1M34 48.5h1M45 48.5h1M48 48.5h1M50 48.5h1M85 48.5h1M46 49.5h3M51 49.5h1M38 50.5h1M43 50.5h1M51 50.5h1M57 50.5h1M46 51.5h3M51 51.5h1M53 51.5h1M55 51.5h1M57 51.5h1M65 51.5h1M73 51.5h1M37 52.5h1M39 52.5h1M43 52.5h1M64 52.5h1M71 52.5h2M77 52.5h1M88 52.5h1M53 53.5h1M60 53.5h1M42 54.5h1M70 54.5h1M37 55.5h1M40 55.5h1M63 55.5h1M78 55.5h1M88 55.5h1M33 56.5h1M36 56.5h1M43 56.5h2M65 56.5h1M34 57.5h1M47 57.5h1M55 57.5h2M58 57.5h1M67 57.5h1M53 58.5h1M68 58.5h1M32 59.5h1M38 59.5h1M42 59.5h1M45 59.5h1M70 59.5h1M66 60.5h1M36 61.5h1M40 61.5h1M54 61.5h1M56 61.5h2M73 61.5h1M50 62.5h1M63 62.5h1M70 62.5h1M80 62.5h1M82 62.5h1M54 63.5h1M60 63.5h1M65 63.5h1M54 64.5h1M65 64.5h1M24 65.5h1M27 65.5h1M39 65.5h1M46 65.5h1M53 65.5h1M55 65.5h1M57 65.5h1M60 65.5h1M64 65.5h1M70 65.5h1M45 66.5h1M48 66.5h1M61 66.5h1M49 67.5h1M51 67.5h1M53 67.5h1M31 68.5h1M38 68.5h1M41 68.5h1M43 68.5h2M46 68.5h1M72 68.5h1M74 68.5h1M38 69.5h1M50 69.5h2M62 69.5h3M74 69.5h2M78 69.5h1M52 70.5h1M61 70.5h1M71 70.5h1M35 71.5h1M45 71.5h1M51 71.5h1M57 71.5h1M83 71.5h1M88 71.5h1M40 72.5h1M53 72.5h1M65 72.5h1M82 72.5h1M26 73.5h1M34 73.5h1M2 74.5h2M22 74.5h1M72 74.5h1M76 74.5h2M73 75.5h1M78 75.5h1M16 76.5h1M24 76.5h1M53 76.5h1M2 77.5h1M13 77.5h1M15 77.5h1M21 77.5h1M35 77.5h1M9 78.5h1M12 78.5h1M14 78.5h1M24 78.5h1M38 78.5h1M50 78.5h1M62 78.5h1M77 78.5h1M9 80.5h1M15 80.5h1M36 80.5h1M52 80.5h1M29 81.5h1M43 81.5h1M68 81.5h1M6 82.5h1M26 82.5h1M31 82.5h1M41 82.5h1M43 82.5h1M76 82.5h1M5 83.5h1M7 83.5h1M9 83.5h2M16 83.5h1M19 83.5h1M37 83.5h1M74 83.5h2M33 84.5h1M37 84.5h1M75 84.5h1M0 85.5h1M3 85.5h1M11 85.5h1M72 85.5h1M75 85.5h1M24 86.5h1M77 86.5h1M7 87.5h1M36 87.5h1M71 87.5h1M2 89.5h1M20 89.5h1M31 89.5h1M64 89.5h1M88 89.5h1M9 90.5h1M11 90.5h1M13 90.5h1M29 90.5h2M71 90.5h1M75 90.5h1M9 91.5h1M31 91.5h1M61 91.5h1M41 92.5h1M73 92.5h2M12 93.5h1M31 93.5h1M56 93.5h1M77 93.5h1M3 94.5h1M5 94.5h1M14 94.5h1M18 94.5h1M30 94.5h1M68 94.5h1M75 94.5h1M9 95.5h1M13 95.5h1M35 95.5h1M44 95.5h1M56 95.5h1M8 96.5h2M14 96.5h1M16 96.5h1M68 96.5h1M75 96.5h1M2 97.5h1M32 97.5h1M13 98.5h1M15 98.5h1M33 98.5h1M67 98.5h1M73 98.5h1M76 98.5h1M9 99.5h1M11 99.5h1M15 99.5h1M44 99.5h1M59 99.5h1M83 99.5h1M12 100.5h1M22 100.5h1M76 100.5h1M87 100.5h1M1 101.5h1M5 101.5h1M16 101.5h1M33 101.5h1M36 101.5h1M75 101.5h2M82 101.5h1M84 101.5h1M12 102.5h1M31 102.5h1M12 103.5h1M72 103.5h1M8 104.5h1M18 104.5h1M24 104.5h1M31 104.5h1M33 104.5h1M89 104.5h1M6 105.5h1M24 105.5h1M74 105.5h1M85 105.5h1M4 106.5h1M10 106.5h1M21 106.5h1M34 106.5h1M63 106.5h1M71 106.5h2M9 107.5h1M17 107.5h1M53 107.5h1M84 107.5h1M7 108.5h1M20 108.5h1M83 108.5h1M1 109.5h2M6 109.5h1M13 109.5h1M24 109.5h1M30 109.5h1M37 109.5h1M9 110.5h1M72 110.5h1M11 111.5h1M34 111.5h1M11 112.5h1M29 112.5h1M66 112.5h1M0 113.5h1M13 113.5h1M25 113.5h1M78 113.5h1M6 114.5h1M14 114.5h1M66 114.5h1M88 114.5h1M2 115.5h1M5 115.5h1M8 115.5h1M41 115.5h1M14 116.5h1M33 116.5h1M76 116.5h1M0 117.5h1M35 117.5h1M75 117.5h1M5 118.5h1M18 118.5h1M14 119.5h1M37 119.5h1M70 119.5h1M78 119.5h1M85 119.5h1M2 120.5h1M7 120.5h1M10 120.5h1M19 120.5h1M33 120.5h2M84 120.5h1M1 121.5h1M6 121.5h2M11 121.5h1M71 121.5h1M7 122.5h1M42 122.5h1M73 122.5h2M2 123.5h1M7 123.5h2M19 123.5h1M32 123.5h1M46 123.5h1M73 123.5h1M83 123.5h1M86 123.5h2M0 124.5h1M14 124.5h1M21 124.5h1M33 124.5h1M71 124.5h1M80 124.5h1M82 124.5h1M86 124.5h2M7 125.5h1M24 125.5h1M33 125.5h1M76 125.5h1M11 126.5h1M16 126.5h2M21 126.5h1M26 126.5h1M32 126.5h1M53 126.5h1M71 126.5h1M75 126.5h1M79 126.5h1M83 126.5h1M18 127.5h1M71 127.5h1M80 127.5h1M1 128.5h1M3 128.5h1M8 128.5h1M12 128.5h1M87 128.5h1M89 128.5h1M6 129.5h1M11 129.5h2M42 129.5h1M66 129.5h1M6 130.5h1M8 130.5h2M33 130.5h1M45 130.5h1M54 130.5h1M75 130.5h1M86 130.5h1M0 131.5h1M7 131.5h1M41 131.5h1M68 131.5h1M74 131.5h1M4 132.5h1M30 132.5h1M49 132.5h1M73 132.5h1M18 133.5h2M26 133.5h1M71 133.5h2M8 134.5h1M10 134.5h1M15 134.5h1M9 135.5h2M13 135.5h1M5 136.5h1M18 136.5h1M78 136.5h1M82 136.5h1M85 136.5h1M88 136.5h2M9 137.5h1M12 137.5h1M20 137.5h1M9 138.5h1M14 138.5h1M20 138.5h1M2 139.5h1M25 139.5h1M43 139.5h1M67 139.5h1M72 139.5h1M5 140.5h1M14 140.5h1M32 140.5h1M82 140.5h1M4 141.5h1M26 141.5h1M31 141.5h1M37 141.5h1M74 141.5h1M89 141.5h1M7 142.5h1M9 142.5h1M11 142.5h1M22 142.5h1M32 142.5h1M87 142.5h2M5 143.5h1M7 143.5h1M27 143.5h1M74 143.5h1M87 143.5h1M0 144.5h1M6 144.5h1M66 144.5h1M71 144.5h1M79 144.5h1M26 145.5h1M72 145.5h1M79 145.5h1M81 145.5h1M37 146.5h1M69 146.5h1M5 147.5h1M9 147.5h1M12 147.5h1M14 147.5h1M78 149.5h1M15 150.5h1M18 150.5h1M25 150.5h1M71 150.5h1M73 150.5h1M79 150.5h1M6 151.5h1M71 151.5h1M75 151.5h1M83 151.5h1M88 151.5h1M14 152.5h1M18 152.5h1M20 152.5h1M27 152.5h1M67 152.5h1M84 152.5h1M15 153.5h1M18 153.5h1M66 153.5h1M8 154.5h1M59 154.5h1M7 155.5h1M77 155.5h1M89 155.5h1M17 156.5h1M23 156.5h1M55 156.5h1M80 156.5h1M88 156.5h2M26 157.5h1M60 157.5h1M63 157.5h1M71 157.5h2M88 157.5h2M1 158.5h1M33 158.5h1M3 159.5h1M88 159.5h1M4 160.5h2M8 160.5h1M71 160.5h1M3 161.5h1M13 161.5h1M24 161.5h1M33 161.5h2M71 161.5h1M77 161.5h1M78 162.5h1M14 163.5h1M16 163.5h1M19 163.5h1M31 163.5h1M56 163.5h1M83 163.5h1M89 163.5h1M2 164.5h1M13 164.5h2M30 164.5h1M73 164.5h1M87 164.5h1M3 165.5h2M11 166.5h1M34 166.5h1M59 166.5h1M78 166.5h1M13 167.5h1M23 167.5h2M88 167.5h1M1 168.5h1M4 168.5h1M89 168.5h1M79 169.5h1M87 169.5h1M10 170.5h1M14 170.5h1M23 171.5h1M59 171.5h1M63 171.5h1M72 171.5h1M2 172.5h1M30 172.5h2M33 172.5h1M67 172.5h1M8 173.5h1M75 173.5h1M88 173.5h1M77 174.5h1M87 174.5h1M4 175.5h1M9 175.5h1M17 175.5h1M27 175.5h1M58 175.5h1M63 175.5h1M88 175.5h1"/>
<path stroke="#e5edfc" d="M51 0.5h1M59 0.5h1M64 0.5h1M40 1.5h1M44 1.5h2M66 1.5h1M47 2.5h1M54 2.5h1M62 2.5h1M64 2.5h1M67 2.5h2M83 2.5h1M13 3.5h1M19 3.5h1M38 3.5h1M53 3.5h1M69 3.5h1M88 3.5h1M17 4.5h1M37 4.5h1M46 4.5h1M74 4.5h1M50 5.5h2M58 5.5h1M65 5.5h1M80 5.5h1M57 6.5h1M61 6.5h1M88 6.5h1M50 7.5h1M53 7.5h1M61 7.5h1M63 7.5h1M76 7.5h1M42 8.5h1M50 8.5h1M55 8.5h1M62 8.5h1M69 8.5h1M78 8.5h1M88 8.5h1M41 9.5h1M53 9.5h1M58 9.5h1M67 9.5h1M75 9.5h1M11 10.5h1M78 11.5h1M87 11.5h1M31 12.5h1M41 12.5h1M53 12.5h1M55 12.5h1M67 12.5h1M70 12.5h1M1 13.5h1M37 13.5h1M39 13.5h1M54 13.5h1M60 13.5h1M79 13.5h1M81 13.5h1M51 14.5h1M53 14.5h1M57 14.5h1M41 15.5h1M56 15.5h1M67 15.5h2M74 15.5h1M78 15.5h1M44 16.5h2M47 16.5h1M64 16.5h1M68 16.5h1M80 16.5h1M83 16.5h1M88 16.5h1M0 17.5h1M38 17.5h1M40 17.5h1M63 17.5h1M65 17.5h1M67 17.5h1M2 18.5h1M38 18.5h1M59 18.5h1M63 18.5h1M65 18.5h2M70 18.5h1M81 18.5h1M87 18.5h2M1 19.5h1M14 19.5h1M19 19.5h1M22 19.5h1M45 19.5h1M52 19.5h1M67 19.5h1M0 20.5h1M14 20.5h1M54 20.5h1M57 20.5h1M62 20.5h1M30 21.5h1M73 21.5h1M83 21.5h2M40 22.5h1M58 22.5h1M66 22.5h1M68 22.5h1M70 22.5h1M73 22.5h1M75 22.5h1M87 22.5h1M10 23.5h1M40 23.5h1M62 23.5h1M66 23.5h1M49 24.5h1M53 24.5h1M57 24.5h1M74 24.5h1M31 25.5h1M37 25.5h1M51 25.5h1M86 25.5h1M0 26.5h1M7 26.5h1M17 26.5h1M23 26.5h1M53 26.5h1M59 26.5h1M66 26.5h1M68 26.5h1M10 27.5h1M46 27.5h1M62 27.5h1M87 27.5h1M36 28.5h1M61 28.5h2M66 28.5h2M16 29.5h1M21 29.5h1M49 29.5h1M59 29.5h1M66 29.5h1M24 30.5h1M44 30.5h1M47 30.5h1M61 30.5h2M82 30.5h1M45 31.5h1M53 31.5h1M62 31.5h1M78 31.5h1M83 31.5h1M34 32.5h1M44 32.5h2M49 32.5h1M55 32.5h1M58 32.5h1M83 32.5h1M3 33.5h1M42 33.5h1M56 33.5h1M59 33.5h1M66 33.5h1M5 34.5h1M36 34.5h1M39 34.5h1M42 34.5h1M62 34.5h1M73 34.5h1M2 35.5h1M7 35.5h1M21 35.5h1M31 35.5h1M41 35.5h1M46 35.5h1M72 35.5h1M78 35.5h1M83 35.5h1M26 36.5h1M37 36.5h1M40 36.5h1M49 36.5h1M20 37.5h1M22 37.5h1M41 37.5h1M53 37.5h1M55 37.5h1M72 37.5h1M2 38.5h1M24 38.5h1M72 38.5h1M13 39.5h1M22 39.5h1M40 39.5h1M54 39.5h2M71 39.5h1M77 39.5h1M32 40.5h1M37 40.5h1M39 40.5h1M69 40.5h1M71 40.5h1M79 40.5h1M0 41.5h1M43 41.5h1M48 41.5h1M50 41.5h1M52 41.5h1M67 41.5h1M45 42.5h1M64 42.5h1M70 42.5h1M4 43.5h1M22 43.5h1M54 43.5h1M63 43.5h1M65 43.5h1M68 43.5h1M70 43.5h1M40 44.5h1M64 44.5h1M67 44.5h1M19 45.5h1M22 45.5h1M28 45.5h2M38 45.5h1M44 45.5h1M64 45.5h1M66 45.5h1M14 46.5h1M74 46.5h1M84 46.5h1M20 47.5h1M41 47.5h1M82 47.5h1M85 47.5h1M3 48.5h1M51 48.5h1M56 48.5h1M59 48.5h1M61 48.5h1M76 48.5h1M43 49.5h1M45 49.5h1M73 49.5h2M25 50.5h1M39 50.5h1M45 50.5h1M49 50.5h1M53 50.5h1M64 50.5h1M37 51.5h1M72 51.5h1M44 52.5h1M51 52.5h1M57 52.5h1M59 52.5h1M74 52.5h1M40 53.5h1M45 53.5h1M54 53.5h1M64 53.5h1M76 53.5h1M39 54.5h1M74 54.5h1M77 54.5h1M18 55.5h1M42 55.5h1M44 55.5h1M48 55.5h1M67 55.5h1M69 55.5h2M73 55.5h2M28 56.5h2M47 56.5h1M89 56.5h1M48 57.5h1M77 57.5h1M37 58.5h1M40 58.5h1M58 58.5h2M66 58.5h1M88 58.5h1M37 59.5h1M40 59.5h1M46 59.5h1M53 59.5h1M57 59.5h1M62 59.5h1M84 59.5h1M22 60.5h1M27 60.5h1M49 60.5h2M52 60.5h1M68 60.5h1M14 61.5h1M30 61.5h1M48 61.5h1M52 61.5h1M60 61.5h2M65 61.5h1M75 61.5h2M55 62.5h1M71 62.5h1M41 63.5h1M47 63.5h1M50 63.5h1M72 63.5h1M74 63.5h1M87 63.5h1M36 64.5h2M50 64.5h1M60 64.5h2M47 65.5h1M52 65.5h1M59 65.5h1M61 65.5h2M65 65.5h1M31 66.5h1M40 66.5h1M54 66.5h1M59 66.5h1M68 66.5h1M89 66.5h1M48 67.5h1M52 67.5h1M67 67.5h1M83 67.5h1M52 68.5h1M85 68.5h2M36 69.5h1M39 69.5h1M45 69.5h2M60 69.5h1M70 69.5h1M84 69.5h1M63 70.5h1M22 71.5h1M43 71.5h1M47 71.5h1M86 71.5h1M22 72.5h1M36 72.5h4M43 72.5h1M54 72.5h1M56 72.5h1M60 72.5h2M74 72.5h2M78 72.5h1M21 73.5h1M37 73.5h1M62 73.5h1M72 73.5h1M75 73.5h1M9 74.5h1M17 74.5h1M23 74.5h1M40 74.5h1M75 74.5h1M16 75.5h2M26 75.5h1M43 75.5h1M3 76.5h1M14 76.5h1M19 76.5h1M43 76.5h2M63 76.5h1M5 77.5h1M9 77.5h1M12 77.5h1M37 77.5h1M68 77.5h1M3 78.5h1M5 78.5h1M7 78.5h1M19 78.5h1M30 78.5h1M43 78.5h1M66 78.5h1M79 78.5h1M5 79.5h1M16 79.5h2M30 79.5h1M37 79.5h1M20 80.5h3M33 80.5h1M45 80.5h1M55 80.5h1M62 80.5h1M9 81.5h1M13 81.5h1M20 81.5h1M54 81.5h1M1 82.5h1M5 82.5h1M22 82.5h1M67 82.5h1M8 83.5h1M15 83.5h1M20 83.5h1M35 83.5h1M79 83.5h1M82 83.5h1M5 84.5h1M11 84.5h1M21 84.5h1M31 84.5h1M40 84.5h1M73 84.5h1M1 85.5h1M12 85.5h1M38 85.5h1M41 85.5h1M50 85.5h1M19 86.5h1M22 86.5h1M30 86.5h2M39 86.5h1M54 86.5h1M73 86.5h1M75 86.5h1M2 87.5h1M22 87.5h1M30 87.5h2M73 87.5h1M73 88.5h1M0 89.5h1M34 89.5h1M1 90.5h1M6 90.5h1M22 90.5h1M59 90.5h1M14 91.5h1M33 91.5h1M48 91.5h1M73 91.5h1M77 91.5h1M0 92.5h1M4 92.5h1M17 92.5h1M20 92.5h1M27 92.5h1M63 92.5h1M76 92.5h1M79 92.5h1M2 93.5h1M22 93.5h1M46 93.5h1M55 93.5h1M42 94.5h1M45 94.5h1M10 95.5h1M27 95.5h1M43 95.5h1M15 96.5h1M55 96.5h1M67 96.5h1M72 96.5h1M3 97.5h1M5 97.5h1M7 97.5h1M22 97.5h1M40 97.5h1M44 97.5h1M74 97.5h1M76 97.5h1M2 98.5h1M21 98.5h1M53 98.5h1M0 99.5h1M17 99.5h1M43 99.5h1M52 99.5h1M73 99.5h1M2 100.5h1M8 101.5h1M52 101.5h2M72 101.5h2M3 102.5h1M23 102.5h1M46 102.5h1M82 102.5h1M11 103.5h1M17 103.5h1M19 103.5h1M77 103.5h1M20 104.5h1M35 104.5h1M11 105.5h1M18 105.5h1M21 105.5h1M39 105.5h1M16 106.5h2M30 106.5h1M83 106.5h1M1 107.5h1M15 107.5h1M39 107.5h1M83 107.5h1M85 107.5h1M10 108.5h1M16 108.5h1M24 108.5h1M75 108.5h1M10 109.5h1M68 109.5h1M88 109.5h1M2 110.5h1M14 110.5h1M21 110.5h1M78 110.5h1M4 111.5h1M6 111.5h1M14 111.5h1M22 111.5h1M24 111.5h1M84 111.5h1M6 113.5h1M8 113.5h1M29 113.5h1M73 113.5h1M79 113.5h1M84 113.5h1M10 114.5h1M17 114.5h1M20 114.5h1M29 114.5h1M41 114.5h1M71 114.5h1M78 114.5h1M82 114.5h1M13 115.5h1M19 115.5h1M33 115.5h1M37 115.5h1M45 115.5h1M70 115.5h1M82 115.5h1M9 116.5h1M11 116.5h1M17 116.5h1M20 116.5h1M78 116.5h1M10 117.5h1M20 117.5h1M39 117.5h1M43 117.5h1M53 117.5h1M15 118.5h1M78 118.5h1M17 119.5h1M24 119.5h1M26 119.5h1M31 119.5h1M75 119.5h1M5 120.5h2M39 120.5h1M42 120.5h1M64 120.5h1M69 120.5h1M72 120.5h1M85 120.5h1M0 121.5h1M12 121.5h1M15 121.5h2M27 121.5h2M33 121.5h1M35 121.5h1M11 122.5h1M13 122.5h1M30 122.5h1M83 122.5h1M9 123.5h1M16 123.5h1M29 123.5h1M43 123.5h1M70 123.5h2M75 123.5h1M84 123.5h1M2 124.5h1M15 124.5h1M17 124.5h1M45 124.5h1M72 124.5h1M81 124.5h1M85 124.5h1M1 125.5h2M9 125.5h1M29 125.5h1M40 125.5h1M50 125.5h1M89 125.5h1M6 126.5h1M29 126.5h1M69 126.5h1M72 126.5h1M84 126.5h1M7 127.5h2M79 127.5h1M84 127.5h1M2 128.5h1M32 128.5h2M75 128.5h2M85 128.5h1M7 129.5h1M10 129.5h1M26 129.5h1M29 129.5h1M41 129.5h1M3 130.5h1M11 130.5h1M19 130.5h1M24 130.5h1M26 130.5h1M37 130.5h1M24 131.5h1M73 131.5h1M79 131.5h1M82 131.5h1M9 132.5h1M16 132.5h1M77 132.5h2M89 132.5h1M9 133.5h1M14 133.5h1M20 133.5h1M36 133.5h1M5 134.5h1M16 134.5h1M2 135.5h3M33 135.5h1M51 135.5h1M1 136.5h1M12 136.5h1M20 136.5h1M83 136.5h1M0 137.5h1M10 137.5h1M69 137.5h1M71 137.5h1M3 138.5h1M13 138.5h1M22 138.5h1M8 139.5h1M13 139.5h2M24 139.5h1M63 139.5h1M70 139.5h1M81 139.5h1M87 139.5h1M3 140.5h1M17 140.5h1M30 140.5h1M68 140.5h1M73 140.5h2M0 141.5h1M12 141.5h1M18 141.5h1M32 141.5h1M81 141.5h1M71 142.5h1M79 142.5h1M0 143.5h1M9 143.5h1M15 143.5h1M17 143.5h1M37 143.5h1M48 143.5h1M4 144.5h1M10 144.5h1M13 144.5h1M28 144.5h1M1 145.5h2M33 145.5h1M74 145.5h1M82 145.5h1M85 145.5h1M87 145.5h1M9 146.5h1M11 146.5h1M81 146.5h1M88 146.5h1M2 147.5h1M10 147.5h1M16 147.5h1M73 147.5h1M75 147.5h1M6 148.5h1M22 148.5h1M75 148.5h1M6 149.5h1M14 149.5h1M30 149.5h1M36 149.5h1M40 149.5h1M71 149.5h1M81 149.5h1M87 149.5h1M3 150.5h1M6 150.5h1M26 150.5h1M30 150.5h1M66 150.5h1M72 150.5h1M74 150.5h2M5 151.5h1M7 151.5h1M12 151.5h1M21 151.5h1M26 151.5h2M31 151.5h1M68 151.5h1M73 151.5h1M77 151.5h1M82 151.5h1M10 152.5h1M81 152.5h1M83 152.5h1M2 153.5h1M9 153.5h1M27 153.5h1M73 153.5h1M84 153.5h1M86 153.5h1M89 153.5h1M1 154.5h1M3 154.5h1M9 154.5h1M15 154.5h1M33 154.5h2M67 154.5h1M69 154.5h1M79 154.5h1M81 154.5h1M6 155.5h1M15 155.5h1M17 155.5h1M21 155.5h1M31 155.5h2M88 155.5h1M5 156.5h1M8 156.5h1M72 156.5h3M76 156.5h1M83 156.5h1M2 157.5h1M11 157.5h2M24 157.5h1M45 157.5h1M73 157.5h1M28 158.5h1M47 158.5h1M10 159.5h1M13 159.5h1M29 159.5h1M67 159.5h1M81 159.5h1M85 159.5h1M2 160.5h1M14 160.5h1M17 160.5h1M26 160.5h1M59 160.5h1M69 160.5h1M79 160.5h1M87 160.5h1M22 161.5h1M70 161.5h1M82 161.5h1M87 161.5h1M59 162.5h1M7 163.5h1M12 163.5h1M27 163.5h1M54 163.5h1M66 163.5h1M69 163.5h1M72 163.5h1M82 163.5h1M86 163.5h1M10 164.5h1M16 164.5h1M58 164.5h1M63 164.5h1M78 164.5h2M84 164.5h1M89 164.5h1M1 165.5h1M7 165.5h1M22 165.5h1M24 165.5h1M83 165.5h1M1 166.5h1M8 166.5h1M10 166.5h1M30 166.5h2M35 166.5h1M62 166.5h1M70 166.5h1M76 166.5h2M84 166.5h1M87 166.5h1M1 167.5h1M16 167.5h1M66 167.5h1M2 168.5h1M12 168.5h1M87 168.5h1M16 169.5h1M59 169.5h1M78 169.5h1M5 170.5h1M19 170.5h1M23 170.5h1M78 170.5h1M7 171.5h1M31 171.5h1M86 171.5h1M16 172.5h1M24 172.5h1M34 172.5h1M69 172.5h1M13 173.5h1M59 173.5h1M64 173.5h1M66 173.5h1M72 173.5h2M78 173.5h1M4 174.5h1M10 174.5h1M12 174.5h2M20 174.5h1M24 174.5h1M42 174.5h1M59 174.5h1M69 174.5h1M71 174.5h1M74 174.5h1M82 174.5h1M85 174.5h1M2 175.5h1M13 175.5h1M23 175.5h1M70 175.5h1M80 175.5h2"/>
<path stroke="#ecf2fd" d="M40 0.5h1M45 0.5h1M47 0.5h2M57 0.5h1M78 0.5h1M83 0.5h2M57 1.5h1M61 1.5h1M16 2.5h1M19 2.5h1M31 2.5h1M44 2.5h1M72 2.5h1M77 2.5h1M82 2.5h1M47 3.5h1M51 3.5h2M56 3.5h1M67 3.5h1M73 3.5h1M14 4.5h1M53 4.5h1M61 4.5h1M79 4.5h1M13 5.5h1M19 5.5h1M46 5.5h1M54 5.5h1M72 5.5h1M74 5.5h1M82 5.5h1M12 6.5h1M33 6.5h1M41 6.5h1M44 6.5h1M54 6.5h1M59 6.5h1M64 6.5h1M85 6.5h1M38 7.5h1M78 7.5h1M85 7.5h1M60 8.5h1M64 8.5h1M72 8.5h1M85 8.5h1M89 8.5h1M1 9.5h1M46 9.5h1M49 9.5h1M66 9.5h1M77 9.5h1M81 9.5h1M87 9.5h1M89 9.5h1M19 10.5h1M50 10.5h1M62 10.5h2M52 11.5h1M63 11.5h1M70 11.5h1M3 12.5h1M5 12.5h1M17 12.5h1M61 12.5h1M64 12.5h1M77 12.5h1M3 13.5h1M8 13.5h1M16 13.5h1M46 13.5h1M82 13.5h2M5 14.5h1M8 14.5h1M13 14.5h1M26 14.5h1M61 14.5h1M68 14.5h1M73 14.5h1M80 14.5h1M48 15.5h1M54 15.5h1M62 15.5h1M69 15.5h1M77 15.5h1M42 16.5h1M69 16.5h1M14 17.5h1M56 17.5h1M69 17.5h1M83 17.5h1M86 17.5h1M5 18.5h1M24 18.5h1M54 18.5h1M58 18.5h1M80 18.5h1M7 19.5h1M62 19.5h1M70 19.5h1M72 19.5h1M87 19.5h1M4 20.5h2M31 20.5h1M42 20.5h1M44 20.5h1M49 20.5h2M58 20.5h1M69 20.5h2M22 21.5h1M46 21.5h1M50 21.5h1M63 21.5h1M71 21.5h2M75 21.5h1M5 22.5h1M39 22.5h1M49 22.5h1M61 22.5h2M78 22.5h1M86 22.5h1M48 23.5h1M54 23.5h1M75 23.5h1M79 23.5h1M23 24.5h1M26 24.5h1M36 24.5h1M46 24.5h1M50 24.5h1M55 24.5h1M75 24.5h1M82 24.5h1M2 25.5h1M8 25.5h1M49 25.5h1M52 25.5h1M67 25.5h1M78 25.5h1M80 25.5h1M4 26.5h1M36 26.5h1M38 26.5h1M42 26.5h1M48 26.5h2M51 26.5h1M58 26.5h1M61 26.5h1M70 26.5h1M83 26.5h1M86 26.5h1M1 27.5h1M8 27.5h1M22 27.5h1M38 27.5h1M53 27.5h1M55 27.5h1M66 27.5h1M69 27.5h1M77 27.5h1M9 28.5h1M43 28.5h1M48 28.5h2M53 28.5h1M59 28.5h1M79 28.5h1M84 28.5h1M5 29.5h1M57 29.5h1M69 29.5h1M25 30.5h1M29 30.5h1M46 30.5h1M63 30.5h1M68 30.5h3M79 30.5h1M87 30.5h2M61 31.5h1M71 31.5h1M73 31.5h1M1 32.5h1M40 32.5h2M54 32.5h1M66 32.5h1M70 32.5h1M73 32.5h1M76 32.5h1M5 33.5h1M24 33.5h1M38 33.5h1M88 33.5h1M3 34.5h2M8 34.5h1M40 34.5h1M52 34.5h1M56 34.5h1M17 35.5h1M34 35.5h1M47 35.5h1M54 35.5h1M67 35.5h2M30 36.5h1M50 36.5h1M55 36.5h1M57 36.5h1M66 36.5h1M79 36.5h2M51 37.5h1M59 37.5h1M64 37.5h1M50 38.5h1M56 38.5h1M81 38.5h1M42 39.5h3M52 39.5h1M75 39.5h2M89 39.5h1M33 41.5h2M54 41.5h1M56 41.5h1M85 41.5h1M4 42.5h1M25 42.5h1M46 42.5h1M68 42.5h1M20 43.5h1M42 43.5h1M50 43.5h1M55 43.5h1M60 43.5h1M69 43.5h1M76 43.5h1M88 43.5h1M13 44.5h1M24 44.5h1M30 44.5h1M37 44.5h1M39 44.5h1M52 44.5h1M57 44.5h1M59 44.5h1M70 44.5h1M86 44.5h1M21 45.5h1M48 45.5h2M54 45.5h1M59 45.5h1M63 45.5h1M71 45.5h1M76 45.5h1M44 46.5h1M47 46.5h1M54 46.5h1M61 46.5h1M65 46.5h1M72 46.5h1M83 46.5h1M5 47.5h1M12 47.5h1M39 47.5h1M45 47.5h1M49 47.5h1M58 47.5h1M10 48.5h1M14 48.5h1M82 48.5h2M53 49.5h1M64 49.5h1M67 49.5h1M4 50.5h1M37 50.5h1M46 50.5h1M68 50.5h1M71 50.5h1M74 50.5h1M78 50.5h2M44 51.5h1M59 51.5h2M75 51.5h1M80 51.5h1M86 51.5h1M65 52.5h1M79 52.5h1M39 53.5h1M42 53.5h1M70 53.5h1M74 53.5h1M87 53.5h1M22 54.5h1M37 54.5h1M40 54.5h1M53 54.5h1M62 54.5h1M78 54.5h1M83 54.5h2M89 54.5h1M45 55.5h1M50 55.5h1M83 55.5h1M22 56.5h1M24 56.5h1M30 56.5h1M42 56.5h1M52 56.5h1M61 56.5h1M73 56.5h1M75 56.5h1M80 56.5h1M84 57.5h1M4 58.5h1M51 58.5h1M69 58.5h1M44 59.5h1M61 59.5h1M73 59.5h1M76 59.5h1M61 60.5h1M70 60.5h2M77 60.5h2M88 60.5h1M62 61.5h1M88 61.5h1M41 62.5h1M46 62.5h1M53 62.5h1M56 62.5h1M61 62.5h1M74 62.5h1M87 62.5h1M25 63.5h1M42 63.5h1M45 63.5h1M42 64.5h2M59 64.5h1M77 64.5h2M84 64.5h1M87 64.5h1M31 65.5h1M40 65.5h1M54 65.5h1M74 65.5h1M77 65.5h1M88 65.5h2M55 66.5h1M57 66.5h1M62 66.5h1M64 66.5h1M79 66.5h1M39 67.5h1M54 67.5h1M62 67.5h1M82 67.5h1M1 68.5h1M40 68.5h1M54 68.5h1M60 68.5h1M82 68.5h1M54 69.5h1M73 69.5h1M83 69.5h1M31 70.5h1M36 70.5h1M54 70.5h1M70 70.5h1M73 70.5h1M87 70.5h1M39 71.5h1M56 71.5h1M61 71.5h1M76 71.5h1M32 72.5h1M41 72.5h1M45 72.5h1M73 72.5h1M85 72.5h1M3 73.5h3M13 73.5h1M15 73.5h1M29 73.5h1M31 73.5h1M35 73.5h1M42 73.5h1M73 73.5h1M28 74.5h1M34 74.5h1M42 74.5h3M5 75.5h1M9 75.5h1M20 75.5h1M28 75.5h2M32 75.5h2M36 75.5h1M41 75.5h1M46 75.5h1M20 76.5h1M42 76.5h1M45 76.5h1M50 76.5h2M77 76.5h1M88 76.5h1M19 77.5h1M28 77.5h1M32 77.5h3M54 77.5h1M64 77.5h1M77 77.5h1M83 77.5h1M4 78.5h1M22 78.5h1M25 78.5h1M55 78.5h1M71 78.5h2M14 79.5h1M34 79.5h1M6 80.5h1M12 80.5h1M50 80.5h1M67 80.5h1M71 80.5h1M76 80.5h1M0 81.5h1M10 81.5h1M15 81.5h1M18 81.5h2M33 81.5h1M37 81.5h1M39 81.5h1M64 81.5h1M73 81.5h1M8 82.5h1M10 82.5h1M24 82.5h1M37 82.5h1M39 82.5h1M51 82.5h1M56 82.5h1M75 82.5h1M84 82.5h1M14 83.5h1M27 83.5h1M51 83.5h2M81 83.5h1M3 84.5h1M35 84.5h1M6 85.5h1M27 85.5h1M89 85.5h1M4 86.5h1M10 86.5h1M13 86.5h1M15 86.5h1M21 86.5h1M27 86.5h1M71 86.5h2M1 87.5h1M3 87.5h1M38 87.5h1M42 87.5h2M66 87.5h1M86 87.5h1M2 88.5h2M12 88.5h1M4 89.5h1M9 89.5h2M12 89.5h1M27 89.5h2M30 89.5h1M36 89.5h1M46 89.5h1M33 90.5h1M61 90.5h1M69 90.5h1M72 90.5h1M83 90.5h1M30 91.5h1M72 91.5h1M74 91.5h1M81 91.5h1M2 92.5h1M9 92.5h1M12 92.5h1M15 92.5h1M34 92.5h1M50 92.5h1M52 92.5h1M75 92.5h1M77 92.5h2M5 93.5h1M17 93.5h1M39 93.5h1M62 93.5h1M6 94.5h1M19 94.5h1M67 94.5h1M22 95.5h2M39 95.5h1M55 95.5h1M73 95.5h1M34 96.5h1M49 96.5h1M51 96.5h1M1 97.5h1M33 97.5h1M43 97.5h1M9 98.5h1M16 98.5h1M18 98.5h2M23 98.5h3M43 98.5h1M63 98.5h1M86 98.5h1M6 99.5h1M13 99.5h1M18 99.5h1M21 99.5h1M31 99.5h1M39 99.5h1M42 99.5h1M47 99.5h1M53 99.5h1M24 100.5h1M33 100.5h1M66 100.5h1M71 100.5h1M3 101.5h1M44 101.5h1M11 102.5h1M13 102.5h1M19 102.5h1M40 102.5h1M7 103.5h1M5 104.5h1M11 104.5h2M23 104.5h1M32 104.5h1M45 104.5h1M64 104.5h1M76 104.5h2M12 105.5h1M15 105.5h1M30 105.5h1M63 105.5h1M73 105.5h1M75 105.5h1M19 106.5h1M27 106.5h1M68 106.5h1M74 106.5h1M0 107.5h1M12 107.5h1M14 107.5h1M75 107.5h1M35 108.5h1M46 108.5h1M4 109.5h1M9 109.5h1M12 109.5h1M15 109.5h1M20 109.5h1M25 109.5h1M54 109.5h1M66 109.5h1M69 109.5h2M72 109.5h1M74 109.5h1M86 109.5h1M4 110.5h1M19 110.5h1M22 110.5h1M26 110.5h1M51 110.5h1M71 110.5h1M76 110.5h1M1 111.5h1M7 111.5h1M27 111.5h1M30 111.5h1M67 111.5h1M4 112.5h1M19 112.5h1M33 112.5h1M81 112.5h1M9 113.5h2M71 113.5h1M75 113.5h1M3 114.5h1M12 114.5h1M30 114.5h1M51 114.5h1M73 114.5h2M1 115.5h1M17 115.5h1M38 115.5h1M71 115.5h1M79 115.5h1M5 116.5h1M25 116.5h1M8 117.5h2M12 117.5h2M28 117.5h1M51 117.5h1M77 117.5h1M83 117.5h2M20 118.5h1M24 118.5h1M53 118.5h1M71 118.5h1M10 119.5h2M30 119.5h1M43 119.5h1M67 119.5h1M71 119.5h1M74 119.5h1M0 120.5h1M14 120.5h1M18 120.5h1M54 120.5h1M77 120.5h1M4 121.5h1M39 121.5h1M44 121.5h1M82 121.5h1M4 122.5h1M37 122.5h1M15 123.5h1M20 123.5h1M33 123.5h1M38 123.5h1M40 123.5h1M78 123.5h1M6 124.5h1M11 124.5h1M28 124.5h1M5 125.5h1M32 125.5h1M78 125.5h1M85 125.5h1M87 125.5h1M41 126.5h2M70 126.5h1M87 126.5h1M0 127.5h2M4 127.5h1M11 127.5h1M15 127.5h1M17 127.5h1M34 127.5h1M75 127.5h1M78 127.5h1M44 128.5h1M66 128.5h1M82 128.5h1M0 129.5h2M15 130.5h1M20 130.5h1M22 130.5h1M30 130.5h1M44 130.5h1M49 130.5h1M71 130.5h1M73 130.5h1M4 131.5h1M9 131.5h1M22 131.5h1M29 131.5h1M40 131.5h1M81 131.5h1M6 132.5h1M0 133.5h1M10 133.5h1M15 133.5h1M25 133.5h1M30 133.5h1M43 133.5h1M45 133.5h1M78 133.5h2M85 133.5h1M1 134.5h1M6 134.5h1M13 134.5h1M17 134.5h1M20 134.5h1M30 134.5h1M22 135.5h1M34 135.5h1M43 135.5h1M81 135.5h1M10 136.5h1M37 136.5h1M41 136.5h1M69 136.5h1M72 136.5h1M33 137.5h1M43 137.5h1M70 137.5h1M77 137.5h2M83 137.5h1M5 138.5h1M23 138.5h1M71 138.5h1M77 138.5h1M79 138.5h1M3 139.5h2M9 139.5h2M18 139.5h1M31 139.5h1M59 139.5h1M68 139.5h1M73 139.5h1M79 139.5h1M20 140.5h1M33 140.5h1M37 140.5h1M77 140.5h1M11 141.5h1M16 141.5h1M19 141.5h1M21 141.5h1M55 141.5h1M66 141.5h1M78 141.5h1M80 141.5h1M84 141.5h1M88 141.5h1M0 142.5h1M2 142.5h1M10 142.5h1M13 142.5h1M18 142.5h1M27 142.5h1M67 142.5h2M76 142.5h1M84 142.5h1M14 143.5h1M18 143.5h1M34 143.5h1M66 143.5h1M68 143.5h1M77 143.5h1M82 143.5h1M24 144.5h1M27 144.5h1M29 144.5h1M69 144.5h1M73 144.5h1M75 144.5h1M9 145.5h1M15 145.5h1M24 145.5h2M30 145.5h1M32 145.5h1M57 145.5h1M64 145.5h1M70 145.5h1M84 145.5h1M89 145.5h1M3 146.5h1M6 146.5h1M67 146.5h1M8 147.5h1M17 147.5h2M67 147.5h1M87 147.5h1M14 148.5h1M69 148.5h1M71 148.5h1M74 148.5h1M79 148.5h1M1 149.5h1M26 149.5h1M31 149.5h1M51 149.5h1M66 149.5h1M80 149.5h1M12 150.5h2M17 150.5h1M24 150.5h1M31 150.5h1M34 150.5h1M61 150.5h1M85 150.5h1M89 150.5h1M3 151.5h1M72 151.5h1M74 151.5h1M80 151.5h1M12 152.5h1M19 152.5h1M23 152.5h1M49 152.5h1M66 152.5h1M1 153.5h1M8 153.5h1M14 153.5h1M30 153.5h1M32 153.5h1M71 153.5h1M79 153.5h1M19 154.5h1M73 154.5h1M88 154.5h1M11 155.5h1M13 155.5h1M25 155.5h1M27 155.5h1M34 155.5h2M85 155.5h1M87 155.5h1M4 156.5h1M15 156.5h1M22 156.5h1M60 156.5h1M78 156.5h1M38 157.5h1M43 157.5h1M68 157.5h1M74 157.5h1M80 157.5h1M82 157.5h1M8 158.5h1M10 158.5h1M18 158.5h1M30 158.5h1M11 159.5h1M15 159.5h1M23 159.5h1M33 159.5h1M50 159.5h1M68 159.5h2M3 160.5h1M12 160.5h1M21 160.5h1M34 160.5h1M43 160.5h1M61 160.5h2M67 160.5h1M73 160.5h1M76 160.5h1M78 160.5h1M80 160.5h1M5 161.5h1M15 161.5h1M19 161.5h2M69 161.5h1M74 161.5h1M1 162.5h1M28 162.5h1M68 162.5h1M0 163.5h1M2 163.5h1M9 163.5h1M15 163.5h1M17 163.5h2M21 163.5h1M45 163.5h1M68 163.5h1M71 163.5h1M88 163.5h1M5 164.5h1M9 164.5h1M11 164.5h1M15 164.5h1M22 164.5h1M27 164.5h1M31 164.5h1M13 165.5h1M21 165.5h1M70 165.5h1M89 165.5h1M4 166.5h1M13 166.5h1M60 166.5h1M82 166.5h1M88 166.5h1M4 167.5h1M14 167.5h1M59 167.5h1M77 167.5h1M85 167.5h1M3 168.5h1M6 168.5h2M9 168.5h1M11 168.5h1M28 168.5h1M34 168.5h1M57 168.5h1M73 168.5h1M3 169.5h2M8 170.5h2M18 170.5h1M27 170.5h1M2 171.5h1M4 171.5h1M10 171.5h1M21 171.5h1M26 171.5h1M80 171.5h1M89 171.5h1M5 172.5h1M11 172.5h1M76 172.5h1M86 172.5h2M3 173.5h1M6 173.5h1M18 173.5h1M23 173.5h1M28 173.5h1M63 173.5h1M70 173.5h1M0 174.5h1M6 174.5h1M33 174.5h1M62 174.5h1M68 174.5h1M16 175.5h1M21 175.5h1M24 175.5h1M82 175.5h1M89 175.5h1"/>
<path stroke="#f2f6fe" d="M5 0.5h1M24 0.5h1M49 0.5h1M58 0.5h1M65 0.5h1M67 0.5h1M74 0.5h1M8 1.5h1M11 1.5h1M15 1.5h1M52 1.5h1M64 1.5h1M73 1.5h2M84 1.5h2M50 2.5h1M65 2.5h1M71 2.5h1M73 2.5h1M75 2.5h1M42 3.5h1M62 3.5h1M50 4.5h1M58 4.5h1M71 4.5h1M0 5.5h1M61 5.5h1M64 5.5h1M67 5.5h1M4 6.5h1M40 6.5h1M67 6.5h1M74 6.5h1M44 7.5h2M49 7.5h1M52 7.5h1M54 7.5h1M13 8.5h1M49 8.5h1M52 8.5h1M58 8.5h2M76 8.5h1M81 8.5h1M4 9.5h1M13 9.5h1M39 9.5h1M60 9.5h1M71 9.5h1M78 9.5h1M8 10.5h1M42 10.5h1M46 10.5h2M60 10.5h1M73 10.5h1M86 10.5h1M39 11.5h1M47 11.5h1M50 11.5h1M54 11.5h1M58 11.5h1M66 11.5h1M71 11.5h1M80 11.5h1M4 12.5h1M20 12.5h1M40 12.5h1M60 12.5h1M82 12.5h1M14 13.5h1M49 13.5h1M53 13.5h1M66 13.5h1M68 13.5h1M40 14.5h1M63 14.5h1M66 14.5h1M69 14.5h1M71 14.5h1M83 14.5h1M0 15.5h1M38 15.5h1M47 15.5h1M52 15.5h2M70 15.5h1M82 15.5h3M88 15.5h1M11 16.5h1M23 16.5h1M38 16.5h1M50 16.5h1M55 16.5h1M57 16.5h1M63 16.5h1M77 16.5h1M84 16.5h1M6 17.5h1M34 17.5h1M47 17.5h1M54 17.5h1M59 17.5h1M61 17.5h2M88 17.5h1M1 18.5h1M10 18.5h1M22 18.5h1M31 18.5h1M44 18.5h1M69 18.5h1M83 18.5h1M2 19.5h1M24 19.5h1M30 19.5h1M40 19.5h2M47 19.5h1M65 19.5h1M79 19.5h1M82 19.5h1M84 19.5h1M88 19.5h2M2 20.5h1M17 20.5h1M22 20.5h1M52 20.5h1M56 20.5h1M59 20.5h1M80 20.5h2M5 21.5h1M9 21.5h2M24 21.5h1M29 21.5h1M37 21.5h1M62 21.5h1M78 21.5h1M81 21.5h1M85 21.5h1M89 21.5h1M0 22.5h1M16 22.5h1M25 22.5h2M31 22.5h1M52 22.5h1M72 22.5h1M76 22.5h1M82 22.5h1M89 22.5h1M4 23.5h1M33 23.5h1M37 23.5h1M44 23.5h1M49 23.5h1M53 23.5h1M59 23.5h1M71 23.5h1M78 23.5h1M87 23.5h1M0 24.5h2M3 24.5h1M21 24.5h1M44 24.5h1M54 24.5h1M59 24.5h1M61 24.5h1M67 24.5h1M5 25.5h1M11 25.5h1M38 25.5h1M60 25.5h1M74 25.5h1M10 26.5h1M12 26.5h1M41 26.5h1M71 26.5h1M47 27.5h1M56 27.5h1M65 27.5h1M68 27.5h1M71 27.5h1M86 27.5h1M7 28.5h1M54 28.5h1M73 28.5h1M85 28.5h1M2 29.5h1M13 29.5h1M36 29.5h1M47 29.5h1M75 29.5h1M11 30.5h1M16 30.5h1M30 30.5h1M32 30.5h1M38 30.5h1M51 30.5h1M59 30.5h1M72 30.5h1M75 30.5h1M1 31.5h1M6 31.5h1M41 31.5h1M50 31.5h1M79 31.5h1M4 32.5h1M6 32.5h1M61 32.5h1M75 32.5h1M85 32.5h1M88 32.5h1M9 33.5h1M12 33.5h1M25 33.5h1M31 33.5h1M46 33.5h1M54 33.5h1M72 33.5h1M78 33.5h2M82 33.5h1M84 33.5h1M7 34.5h1M30 34.5h1M48 34.5h1M51 34.5h1M53 34.5h1M64 34.5h1M66 34.5h1M78 34.5h1M45 35.5h1M48 35.5h2M51 35.5h1M61 35.5h1M63 35.5h1M74 35.5h1M34 36.5h1M36 36.5h1M41 36.5h1M67 36.5h1M72 36.5h2M13 37.5h1M36 37.5h1M52 37.5h1M71 37.5h1M79 37.5h1M81 37.5h1M88 37.5h1M5 38.5h1M14 38.5h1M35 38.5h2M47 38.5h1M51 38.5h1M53 38.5h1M65 38.5h2M74 38.5h1M82 38.5h1M87 38.5h1M48 39.5h1M53 39.5h1M59 39.5h1M67 39.5h1M69 39.5h1M79 39.5h1M83 39.5h1M22 40.5h1M25 40.5h1M34 40.5h1M43 40.5h1M70 40.5h1M74 40.5h1M17 41.5h1M30 41.5h1M38 41.5h1M41 41.5h1M53 41.5h1M57 41.5h1M79 41.5h1M84 41.5h1M88 41.5h1M1 42.5h1M22 42.5h1M32 42.5h1M34 42.5h1M36 42.5h1M40 42.5h2M44 42.5h1M49 42.5h1M55 42.5h1M67 42.5h1M89 42.5h1M21 43.5h1M56 43.5h1M59 43.5h1M66 43.5h1M9 44.5h1M33 44.5h1M44 44.5h2M50 44.5h1M54 44.5h1M9 45.5h1M25 45.5h1M27 45.5h1M39 45.5h1M58 45.5h1M70 45.5h1M75 45.5h1M82 45.5h1M84 45.5h1M31 46.5h1M37 46.5h1M41 46.5h1M48 46.5h1M33 47.5h1M50 47.5h1M68 47.5h2M78 47.5h1M83 47.5h1M88 47.5h1M9 48.5h1M24 48.5h1M40 48.5h1M42 48.5h1M52 48.5h1M64 48.5h1M73 48.5h1M77 48.5h1M65 49.5h2M70 49.5h1M88 49.5h1M36 50.5h1M48 50.5h1M65 50.5h1M69 50.5h2M22 51.5h1M77 51.5h1M9 52.5h1M49 52.5h1M55 52.5h1M27 53.5h1M31 53.5h1M36 53.5h1M47 53.5h1M89 53.5h1M47 54.5h1M57 54.5h1M79 54.5h1M88 54.5h1M25 55.5h1M35 55.5h1M38 55.5h1M46 55.5h1M49 55.5h1M53 55.5h1M56 55.5h2M14 56.5h1M45 56.5h1M50 56.5h1M58 56.5h1M74 56.5h1M81 56.5h1M88 56.5h1M74 57.5h1M78 57.5h1M89 57.5h1M52 58.5h1M56 58.5h1M70 58.5h1M76 58.5h1M79 58.5h1M81 58.5h1M17 59.5h1M27 59.5h1M51 59.5h2M55 59.5h2M77 59.5h1M79 59.5h1M82 59.5h1M85 59.5h1M37 60.5h2M45 60.5h1M51 60.5h1M64 60.5h1M79 60.5h1M57 62.5h1M65 62.5h1M30 63.5h1M33 63.5h1M37 63.5h1M61 63.5h1M66 63.5h1M79 63.5h1M29 64.5h1M33 64.5h1M40 64.5h1M47 64.5h1M51 64.5h1M82 64.5h1M42 65.5h1M44 65.5h1M28 66.5h1M32 66.5h1M37 66.5h1M50 66.5h1M52 66.5h1M60 66.5h1M42 67.5h1M45 67.5h1M78 67.5h1M30 68.5h1M33 68.5h1M49 68.5h1M61 68.5h1M71 68.5h1M81 68.5h1M27 69.5h1M33 69.5h1M43 69.5h1M53 69.5h1M76 69.5h1M82 69.5h1M86 69.5h1M49 70.5h1M55 70.5h1M59 70.5h1M79 70.5h1M84 70.5h1M5 71.5h1M13 71.5h2M24 71.5h1M31 71.5h1M34 71.5h1M89 71.5h1M12 72.5h1M16 73.5h1M27 73.5h1M36 73.5h1M38 73.5h1M46 73.5h1M51 73.5h1M77 73.5h2M88 73.5h1M1 74.5h1M5 74.5h1M7 74.5h1M15 74.5h1M24 74.5h1M33 74.5h1M45 74.5h1M84 74.5h2M18 75.5h1M52 75.5h1M57 75.5h1M60 75.5h1M74 75.5h1M81 75.5h1M87 75.5h1M4 76.5h1M39 76.5h1M55 76.5h1M61 76.5h1M82 76.5h1M18 77.5h1M31 77.5h1M40 77.5h1M42 77.5h1M52 77.5h1M86 77.5h1M88 77.5h1M2 78.5h1M13 78.5h1M33 78.5h1M45 78.5h1M48 78.5h1M51 78.5h1M53 78.5h1M84 78.5h1M19 79.5h1M27 79.5h1M1 80.5h1M3 80.5h1M7 80.5h1M17 80.5h2M34 80.5h1M37 80.5h1M44 80.5h1M63 80.5h1M75 80.5h1M79 80.5h1M84 80.5h1M6 81.5h1M11 81.5h2M26 81.5h1M38 81.5h1M57 81.5h1M62 81.5h1M75 81.5h1M82 81.5h1M84 81.5h1M88 81.5h1M14 82.5h2M34 82.5h1M42 82.5h1M61 82.5h1M88 82.5h1M23 83.5h2M48 83.5h1M8 84.5h1M34 84.5h1M36 84.5h1M65 84.5h1M71 84.5h1M81 84.5h1M88 84.5h1M14 85.5h1M26 85.5h1M63 85.5h1M77 85.5h1M79 85.5h1M82 85.5h1M86 85.5h1M88 85.5h1M9 86.5h1M11 86.5h1M37 86.5h1M20 87.5h1M26 87.5h1M29 87.5h1M32 87.5h1M50 87.5h1M63 87.5h1M1 88.5h1M10 88.5h1M18 88.5h1M26 88.5h1M44 88.5h1M75 88.5h1M5 89.5h1M8 89.5h1M26 89.5h1M38 89.5h1M42 89.5h1M68 89.5h1M3 90.5h1M34 90.5h1M48 90.5h1M57 90.5h1M7 91.5h1M11 91.5h1M13 91.5h1M21 91.5h1M58 91.5h1M1 92.5h1M7 92.5h1M36 92.5h2M42 92.5h1M58 92.5h1M8 93.5h1M18 93.5h1M10 94.5h1M23 94.5h1M31 94.5h1M33 94.5h1M41 94.5h1M46 94.5h1M71 94.5h2M6 95.5h1M14 95.5h1M17 95.5h1M24 95.5h1M38 95.5h1M45 95.5h1M54 95.5h1M75 95.5h1M77 95.5h1M7 96.5h1M12 96.5h1M21 96.5h3M63 96.5h1M77 96.5h1M6 97.5h1M8 97.5h1M17 97.5h1M20 97.5h1M26 97.5h1M29 97.5h1M61 97.5h1M79 97.5h1M82 97.5h1M0 98.5h1M10 98.5h1M28 98.5h1M30 98.5h1M44 98.5h1M48 98.5h1M51 98.5h1M79 98.5h1M88 98.5h1M3 99.5h1M7 99.5h1M36 99.5h1M50 99.5h1M62 99.5h1M14 100.5h1M25 100.5h1M43 100.5h1M83 100.5h2M11 101.5h1M17 101.5h1M21 101.5h1M77 101.5h1M85 101.5h1M88 101.5h1M14 102.5h1M21 102.5h1M68 102.5h1M71 102.5h1M74 102.5h1M5 103.5h1M9 103.5h1M15 103.5h1M76 103.5h1M0 104.5h1M13 104.5h1M50 104.5h1M58 104.5h1M75 104.5h1M79 104.5h1M82 104.5h1M10 105.5h1M33 105.5h1M82 105.5h1M86 105.5h1M1 106.5h1M3 106.5h1M15 106.5h1M32 106.5h1M75 106.5h1M13 107.5h1M31 107.5h1M0 108.5h1M8 108.5h1M15 108.5h1M32 108.5h1M72 108.5h1M76 108.5h1M79 108.5h1M23 109.5h1M27 109.5h1M36 109.5h1M62 109.5h1M73 109.5h1M75 109.5h2M84 109.5h1M5 110.5h1M50 110.5h1M8 111.5h1M19 111.5h1M31 111.5h1M37 111.5h1M43 111.5h1M45 111.5h1M70 111.5h1M86 111.5h2M0 112.5h1M26 112.5h1M44 112.5h1M54 112.5h1M79 112.5h1M1 113.5h1M3 113.5h1M12 113.5h1M14 113.5h2M17 113.5h1M19 113.5h1M52 113.5h1M55 113.5h1M74 113.5h1M1 114.5h1M16 114.5h1M18 114.5h1M39 114.5h2M28 115.5h1M50 115.5h1M63 115.5h1M87 115.5h1M7 116.5h2M15 116.5h1M19 116.5h1M22 116.5h1M88 116.5h1M1 117.5h1M17 117.5h1M23 117.5h2M29 117.5h1M66 117.5h1M71 117.5h1M73 117.5h1M3 118.5h2M32 118.5h1M38 118.5h1M66 118.5h1M88 118.5h1M3 119.5h1M21 119.5h1M86 119.5h1M15 120.5h1M81 120.5h1M2 121.5h1M9 121.5h1M20 121.5h1M38 121.5h1M78 121.5h1M15 122.5h1M17 122.5h2M20 122.5h1M22 122.5h1M33 122.5h1M66 122.5h1M70 122.5h1M87 122.5h1M6 123.5h1M11 123.5h1M22 123.5h2M28 123.5h1M48 123.5h1M69 123.5h1M74 123.5h1M5 124.5h1M26 124.5h1M79 124.5h1M45 125.5h1M51 125.5h1M66 125.5h1M73 125.5h1M86 125.5h1M10 126.5h1M12 126.5h1M15 126.5h1M20 126.5h1M24 126.5h2M39 126.5h1M46 126.5h1M62 126.5h1M67 126.5h1M77 126.5h1M85 126.5h1M3 127.5h1M21 127.5h1M5 128.5h1M13 128.5h1M19 128.5h1M23 128.5h1M28 128.5h1M35 128.5h1M67 128.5h1M72 128.5h1M84 128.5h1M4 129.5h1M37 129.5h1M54 129.5h1M35 130.5h1M79 130.5h1M81 130.5h1M84 130.5h1M88 130.5h1M36 131.5h1M38 131.5h1M3 132.5h1M21 132.5h1M23 132.5h1M25 132.5h1M27 132.5h1M37 132.5h1M53 132.5h1M74 132.5h1M3 133.5h1M6 133.5h1M27 133.5h2M70 133.5h1M73 133.5h1M82 133.5h1M86 133.5h1M89 133.5h1M28 134.5h1M55 134.5h1M78 134.5h1M80 134.5h1M0 135.5h1M67 135.5h1M71 135.5h2M0 136.5h1M9 136.5h1M19 136.5h1M21 136.5h1M24 136.5h1M4 137.5h1M14 137.5h1M18 137.5h1M25 137.5h1M32 137.5h1M87 137.5h2M0 138.5h1M26 138.5h1M31 138.5h1M74 138.5h1M76 138.5h1M6 139.5h1M21 139.5h1M27 139.5h1M50 139.5h1M60 139.5h1M6 140.5h1M41 140.5h1M65 140.5h1M71 140.5h1M75 140.5h1M83 140.5h1M5 141.5h1M28 141.5h1M39 141.5h1M61 141.5h1M64 141.5h1M70 141.5h1M76 141.5h1M79 141.5h1M85 141.5h1M6 142.5h1M8 142.5h1M12 142.5h1M16 142.5h1M24 142.5h1M36 142.5h1M74 142.5h1M83 142.5h1M89 142.5h1M3 143.5h1M8 143.5h1M10 143.5h2M21 143.5h1M46 143.5h1M73 143.5h1M84 143.5h2M88 143.5h1M3 144.5h1M11 144.5h1M14 144.5h1M18 144.5h1M37 144.5h1M52 144.5h1M61 144.5h2M68 144.5h1M70 144.5h1M87 144.5h1M6 145.5h2M12 145.5h2M19 145.5h1M21 145.5h1M27 145.5h1M36 145.5h1M40 145.5h2M62 145.5h1M69 145.5h1M88 145.5h1M14 146.5h1M33 146.5h1M43 146.5h1M82 146.5h1M1 147.5h1M7 147.5h1M19 147.5h1M24 147.5h1M5 148.5h1M8 148.5h1M19 148.5h1M25 148.5h1M81 148.5h1M83 148.5h1M88 148.5h1M5 149.5h1M15 149.5h1M17 149.5h2M20 149.5h1M68 149.5h2M11 150.5h1M41 150.5h1M65 150.5h1M68 150.5h1M88 150.5h1M29 151.5h2M34 151.5h1M60 151.5h1M65 151.5h1M70 151.5h1M22 152.5h1M25 152.5h1M35 152.5h1M37 152.5h1M10 153.5h1M24 153.5h1M72 153.5h1M74 153.5h1M88 153.5h1M11 154.5h1M13 154.5h1M46 154.5h1M52 154.5h1M70 154.5h1M76 154.5h1M84 154.5h3M0 155.5h1M2 155.5h1M5 155.5h1M14 155.5h1M23 155.5h1M60 155.5h1M67 155.5h1M74 155.5h1M84 155.5h1M6 156.5h1M12 156.5h1M66 156.5h1M71 156.5h1M84 156.5h1M86 156.5h1M0 157.5h1M9 157.5h1M40 157.5h1M64 157.5h1M67 157.5h1M26 158.5h1M56 158.5h1M2 159.5h1M16 159.5h1M28 159.5h1M73 159.5h1M77 159.5h1M80 159.5h1M35 160.5h1M75 160.5h1M85 160.5h1M0 161.5h1M6 161.5h1M10 161.5h1M14 161.5h1M37 161.5h1M63 161.5h1M79 161.5h1M84 161.5h3M5 162.5h1M14 162.5h1M22 162.5h1M36 162.5h1M67 162.5h1M70 162.5h2M3 163.5h2M25 163.5h1M28 163.5h1M1 164.5h1M26 164.5h1M59 164.5h1M66 164.5h1M72 164.5h1M6 165.5h1M14 165.5h1M68 165.5h1M12 166.5h1M68 166.5h1M73 166.5h1M89 166.5h1M32 167.5h1M34 167.5h1M64 167.5h1M67 167.5h1M75 167.5h1M82 167.5h1M87 167.5h1M18 168.5h1M25 168.5h2M67 168.5h1M80 168.5h1M85 168.5h1M7 169.5h1M69 169.5h1M75 169.5h1M11 170.5h3M21 170.5h1M59 170.5h1M75 170.5h1M5 171.5h1M8 171.5h1M29 171.5h1M57 171.5h1M77 171.5h1M83 171.5h1M13 172.5h1M17 172.5h1M26 172.5h1M35 172.5h1M46 172.5h1M68 172.5h1M71 172.5h1M74 172.5h1M10 173.5h1M24 173.5h1M29 173.5h1M37 173.5h1M46 173.5h1M55 173.5h1M68 173.5h1M86 173.5h1M89 173.5h1M17 174.5h1M70 174.5h1M78 174.5h1M84 174.5h1M3 175.5h1M8 175.5h1M10 175.5h1M20 175.5h1M37 175.5h1M41 175.5h1M43 175.5h1M84 175.5h1M87 175.5h1"/>
<path stroke="#f9fbfe" d="M55 0.5h1M60 0.5h1M62 0.5h1M10 1.5h1M38 1.5h1M41 1.5h1M48 1.5h1M55 1.5h1M58 1.5h1M70 1.5h1M72 1.5h1M75 1.5h1M87 1.5h1M89 1.5h1M7 2.5h1M15 2.5h1M20 2.5h1M79 2.5h1M84 2.5h2M9 3.5h1M45 3.5h1M59 3.5h2M65 3.5h1M42 4.5h1M54 4.5h1M56 4.5h1M75 4.5h1M89 4.5h1M73 5.5h1M8 6.5h1M11 6.5h1M49 6.5h1M65 6.5h1M37 7.5h1M48 7.5h1M51 7.5h1M74 7.5h1M81 7.5h1M83 7.5h2M29 8.5h1M75 8.5h1M17 9.5h1M62 9.5h1M79 9.5h1M82 9.5h2M86 9.5h1M41 10.5h1M56 10.5h1M71 10.5h1M84 10.5h1M36 11.5h1M41 11.5h1M59 11.5h1M86 11.5h1M89 11.5h1M1 12.5h1M9 12.5h1M16 12.5h1M35 12.5h1M38 12.5h1M84 12.5h1M89 12.5h1M5 13.5h1M35 13.5h1M51 13.5h1M61 13.5h1M84 13.5h1M50 14.5h1M72 14.5h1M75 14.5h1M84 14.5h1M14 15.5h1M36 15.5h1M44 15.5h1M57 15.5h1M63 15.5h1M89 15.5h1M21 16.5h1M27 16.5h1M31 16.5h1M73 16.5h2M2 17.5h2M72 17.5h1M75 17.5h1M36 18.5h1M27 19.5h1M32 19.5h1M61 19.5h1M74 19.5h1M26 20.5h1M60 20.5h1M64 20.5h1M75 20.5h1M6 21.5h1M12 21.5h1M33 21.5h1M41 21.5h1M57 21.5h1M60 21.5h1M79 21.5h2M17 22.5h1M22 22.5h1M29 22.5h1M41 22.5h1M48 22.5h1M54 22.5h1M80 22.5h2M8 23.5h1M14 23.5h1M17 23.5h1M35 23.5h1M38 23.5h1M46 23.5h2M67 23.5h1M73 23.5h1M4 24.5h1M69 24.5h1M10 25.5h1M17 25.5h1M33 25.5h1M40 25.5h1M53 25.5h2M56 25.5h1M63 25.5h1M75 25.5h2M87 25.5h2M6 26.5h1M8 26.5h1M24 26.5h1M28 26.5h1M82 26.5h1M7 27.5h1M25 27.5h1M45 27.5h1M54 27.5h1M79 27.5h1M81 27.5h1M84 27.5h1M25 28.5h1M30 28.5h1M68 28.5h1M7 29.5h1M10 29.5h1M19 29.5h1M35 29.5h1M44 29.5h1M46 29.5h1M52 29.5h1M56 29.5h1M78 29.5h1M4 30.5h1M48 30.5h1M84 30.5h1M9 31.5h1M33 31.5h1M37 31.5h1M60 31.5h1M65 31.5h1M70 31.5h1M81 31.5h1M5 32.5h1M22 32.5h1M24 32.5h1M47 32.5h1M59 32.5h1M62 32.5h1M68 32.5h2M78 32.5h1M1 33.5h1M7 33.5h1M44 33.5h1M65 33.5h1M81 33.5h1M50 34.5h1M76 34.5h1M6 35.5h1M33 35.5h1M50 35.5h1M57 35.5h2M80 35.5h1M86 35.5h1M89 35.5h1M11 36.5h1M17 36.5h1M25 36.5h1M45 36.5h1M47 36.5h1M70 36.5h2M83 36.5h1M86 36.5h1M88 36.5h2M5 37.5h1M9 37.5h1M32 37.5h1M39 37.5h1M42 37.5h1M61 37.5h1M63 37.5h1M69 37.5h1M78 37.5h1M17 38.5h1M25 38.5h1M31 38.5h1M38 38.5h1M42 38.5h1M71 38.5h1M73 38.5h1M80 38.5h1M31 39.5h1M57 39.5h1M27 40.5h1M59 40.5h1M64 40.5h1M84 40.5h1M5 41.5h1M7 41.5h1M26 41.5h1M29 41.5h1M36 41.5h1M55 41.5h1M58 41.5h1M60 41.5h1M69 41.5h1M75 41.5h1M78 41.5h1M89 41.5h1M23 42.5h2M27 42.5h1M31 42.5h1M48 42.5h1M65 42.5h1M74 42.5h1M77 42.5h1M80 42.5h1M15 43.5h1M29 43.5h1M84 43.5h1M31 44.5h1M43 44.5h1M56 44.5h1M61 44.5h3M79 44.5h1M13 45.5h1M20 45.5h1M24 45.5h1M41 45.5h2M69 45.5h1M20 46.5h1M34 46.5h1M57 46.5h1M73 46.5h1M22 47.5h1M36 47.5h1M47 47.5h1M51 47.5h1M62 47.5h1M64 47.5h1M71 47.5h1M73 47.5h2M77 47.5h1M80 47.5h1M2 48.5h1M65 48.5h1M78 48.5h1M88 48.5h1M30 49.5h1M41 49.5h1M61 49.5h1M12 50.5h1M41 50.5h1M59 50.5h1M88 50.5h1M31 51.5h1M45 51.5h1M62 51.5h1M76 51.5h1M85 51.5h1M89 51.5h1M8 52.5h1M19 52.5h1M40 52.5h1M47 52.5h1M52 52.5h1M56 52.5h1M58 52.5h1M73 52.5h1M82 52.5h1M58 53.5h1M69 53.5h1M80 53.5h1M83 53.5h1M38 54.5h1M46 54.5h1M50 54.5h2M65 54.5h1M72 54.5h2M28 55.5h1M39 55.5h1M62 55.5h1M75 55.5h1M85 55.5h1M40 56.5h1M49 56.5h1M77 56.5h1M42 57.5h1M51 57.5h2M57 57.5h1M61 57.5h1M65 57.5h1M69 57.5h1M50 58.5h1M65 58.5h1M24 59.5h1M30 59.5h1M35 59.5h1M49 59.5h2M54 59.5h1M60 59.5h1M83 59.5h1M28 60.5h1M40 60.5h1M42 60.5h1M54 60.5h2M73 60.5h1M80 60.5h1M13 61.5h1M17 61.5h1M29 61.5h1M41 61.5h1M45 61.5h1M53 61.5h1M71 61.5h1M79 61.5h1M82 61.5h1M1 62.5h1M5 62.5h1M24 62.5h1M38 62.5h1M62 62.5h1M72 62.5h1M78 62.5h1M5 63.5h1M22 63.5h1M36 63.5h1M59 63.5h1M73 63.5h1M83 63.5h1M30 64.5h2M41 64.5h1M56 64.5h1M86 64.5h1M30 65.5h1M50 65.5h1M27 66.5h1M35 66.5h1M38 66.5h1M44 66.5h1M49 66.5h1M67 66.5h1M76 66.5h1M81 66.5h2M30 67.5h2M46 67.5h1M63 67.5h1M65 67.5h1M74 67.5h2M81 67.5h1M85 67.5h1M11 68.5h1M32 68.5h1M34 68.5h1M42 68.5h1M48 68.5h1M76 68.5h2M83 68.5h2M34 69.5h1M58 69.5h1M61 69.5h1M77 69.5h1M79 69.5h1M13 70.5h1M24 70.5h1M33 70.5h1M40 70.5h1M42 70.5h3M56 70.5h1M88 70.5h2M18 71.5h1M30 71.5h1M58 71.5h1M75 71.5h1M80 71.5h1M48 72.5h1M50 72.5h1M52 72.5h1M63 72.5h1M76 72.5h1M87 72.5h1M44 73.5h1M65 73.5h1M76 73.5h1M4 74.5h1M29 74.5h2M41 74.5h1M62 74.5h1M73 74.5h1M88 74.5h1M3 75.5h1M15 75.5h1M21 75.5h1M27 75.5h1M35 75.5h1M48 75.5h1M51 75.5h1M62 75.5h1M77 75.5h1M13 76.5h1M17 76.5h1M22 76.5h1M26 76.5h1M32 76.5h1M34 76.5h1M40 76.5h1M65 76.5h2M81 76.5h1M83 76.5h1M53 77.5h1M71 77.5h1M75 77.5h1M11 78.5h1M18 78.5h1M20 78.5h1M26 78.5h1M41 78.5h1M47 78.5h1M54 78.5h1M83 78.5h1M88 78.5h1M0 79.5h1M2 79.5h1M4 79.5h1M12 79.5h2M26 79.5h1M31 79.5h1M36 79.5h1M78 79.5h1M40 80.5h1M49 80.5h1M64 80.5h1M77 80.5h1M89 80.5h1M4 81.5h1M23 81.5h1M30 81.5h1M32 81.5h1M42 81.5h1M45 81.5h1M67 81.5h1M76 81.5h1M89 81.5h1M4 82.5h1M19 82.5h1M25 82.5h1M33 82.5h1M50 82.5h1M2 83.5h1M17 83.5h1M40 83.5h1M45 83.5h1M66 83.5h1M76 83.5h1M30 84.5h1M43 84.5h1M51 84.5h1M53 84.5h1M55 84.5h1M77 84.5h1M16 85.5h1M20 85.5h1M24 85.5h1M31 85.5h1M34 85.5h1M46 85.5h1M69 85.5h1M84 85.5h1M16 86.5h1M34 86.5h1M43 86.5h1M63 86.5h1M8 87.5h1M13 87.5h1M15 87.5h1M19 87.5h1M41 87.5h1M45 87.5h1M51 87.5h1M76 87.5h1M4 88.5h1M11 88.5h1M19 88.5h1M31 88.5h1M76 88.5h1M1 89.5h1M14 89.5h1M16 89.5h1M43 89.5h1M56 89.5h1M72 89.5h1M74 89.5h1M0 90.5h1M2 90.5h1M10 90.5h1M19 90.5h1M35 90.5h1M62 90.5h1M70 90.5h1M32 91.5h1M67 91.5h1M76 91.5h1M86 91.5h1M21 92.5h2M31 92.5h1M43 92.5h1M46 92.5h1M48 92.5h1M88 92.5h1M6 93.5h1M11 93.5h1M13 93.5h1M15 93.5h1M21 93.5h1M32 93.5h2M42 93.5h1M1 94.5h1M20 94.5h1M22 94.5h1M35 94.5h1M43 94.5h1M62 94.5h1M64 94.5h1M76 94.5h1M79 94.5h1M2 95.5h1M7 95.5h1M36 95.5h1M41 95.5h1M11 96.5h1M20 96.5h1M29 96.5h1M64 96.5h1M74 96.5h1M79 96.5h1M82 96.5h1M84 96.5h1M88 96.5h1M4 97.5h1M9 97.5h1M14 97.5h1M19 97.5h1M23 97.5h1M34 97.5h1M38 97.5h1M65 97.5h1M70 97.5h1M35 98.5h1M42 98.5h1M46 98.5h1M60 98.5h1M62 98.5h1M70 98.5h1M72 98.5h1M78 98.5h1M12 99.5h1M22 99.5h1M24 99.5h1M35 99.5h1M37 99.5h1M51 99.5h1M70 99.5h1M84 99.5h1M11 100.5h1M13 100.5h1M15 100.5h1M29 100.5h1M38 100.5h1M40 100.5h1M52 100.5h1M81 100.5h1M6 101.5h1M10 101.5h1M32 101.5h1M0 102.5h1M26 102.5h1M87 102.5h2M21 103.5h1M24 103.5h1M36 103.5h1M27 104.5h1M37 104.5h1M43 104.5h1M60 104.5h1M78 104.5h1M8 105.5h1M13 105.5h1M28 105.5h1M43 105.5h1M45 105.5h1M52 105.5h1M62 105.5h1M65 105.5h1M71 105.5h1M87 105.5h1M11 106.5h1M23 106.5h1M31 106.5h1M40 106.5h1M47 106.5h1M78 106.5h1M7 107.5h2M10 107.5h2M18 107.5h1M32 107.5h1M46 107.5h1M70 107.5h1M76 107.5h1M11 108.5h1M19 108.5h1M23 108.5h1M26 108.5h1M44 108.5h1M66 108.5h1M71 108.5h1M74 108.5h1M3 109.5h1M22 109.5h1M26 109.5h1M34 109.5h1M42 109.5h1M67 109.5h1M77 109.5h1M13 110.5h1M28 110.5h1M33 110.5h1M44 110.5h1M67 110.5h1M89 110.5h1M3 111.5h1M17 111.5h1M21 111.5h1M25 111.5h1M75 111.5h1M16 112.5h1M32 112.5h1M37 112.5h1M68 112.5h1M84 112.5h1M27 113.5h1M30 113.5h2M38 113.5h1M42 113.5h1M77 113.5h1M80 113.5h1M87 113.5h2M19 114.5h1M27 114.5h1M70 114.5h1M9 115.5h1M25 115.5h1M44 115.5h1M51 115.5h1M62 115.5h1M86 115.5h1M88 115.5h1M6 116.5h1M12 116.5h2M23 116.5h1M67 116.5h1M71 116.5h1M89 116.5h1M19 117.5h1M21 117.5h1M27 117.5h1M34 117.5h1M40 117.5h1M42 117.5h1M44 117.5h2M67 117.5h2M70 117.5h1M72 117.5h1M79 117.5h1M21 118.5h1M30 118.5h1M76 118.5h1M1 119.5h1M7 119.5h1M40 119.5h1M44 119.5h1M46 119.5h1M50 119.5h1M57 119.5h1M72 119.5h1M9 120.5h1M21 120.5h1M25 120.5h1M35 120.5h2M8 121.5h1M17 121.5h2M22 121.5h1M30 121.5h2M36 121.5h2M40 121.5h1M42 121.5h1M66 121.5h1M68 121.5h1M77 121.5h1M5 122.5h1M12 122.5h1M27 122.5h1M31 122.5h1M35 122.5h1M43 122.5h1M55 122.5h2M81 122.5h1M84 122.5h1M89 122.5h1M17 123.5h1M41 123.5h1M44 123.5h2M51 123.5h1M64 123.5h1M68 123.5h1M16 124.5h1M50 124.5h1M57 124.5h1M75 124.5h1M77 124.5h1M89 124.5h1M3 125.5h2M10 125.5h1M34 125.5h1M72 125.5h1M81 125.5h1M83 125.5h2M2 126.5h1M68 126.5h1M28 127.5h1M31 127.5h1M33 127.5h1M10 128.5h1M26 128.5h1M29 128.5h1M38 128.5h1M41 128.5h1M54 128.5h1M62 128.5h2M68 128.5h1M71 128.5h1M2 129.5h1M25 129.5h1M78 129.5h1M25 130.5h1M42 130.5h1M46 130.5h1M80 130.5h1M5 131.5h1M72 131.5h1M80 131.5h1M89 131.5h1M8 132.5h1M20 132.5h1M28 132.5h2M38 132.5h1M76 132.5h1M7 133.5h1M34 133.5h1M49 133.5h1M51 133.5h2M81 133.5h1M19 134.5h1M32 134.5h1M72 134.5h1M77 134.5h1M79 134.5h1M7 135.5h1M31 135.5h1M69 135.5h2M83 135.5h1M89 135.5h1M6 136.5h1M16 136.5h2M73 136.5h1M1 137.5h2M6 137.5h1M22 137.5h1M24 137.5h1M42 137.5h1M54 137.5h1M67 137.5h1M73 137.5h1M11 138.5h1M19 138.5h1M35 138.5h1M45 138.5h1M55 138.5h1M68 138.5h2M73 138.5h1M88 138.5h1M12 139.5h1M19 139.5h1M28 139.5h1M33 139.5h1M37 139.5h1M47 139.5h1M82 139.5h1M11 140.5h1M38 140.5h2M78 140.5h1M1 141.5h3M9 141.5h1M17 141.5h1M20 141.5h1M22 141.5h1M34 141.5h1M62 141.5h1M68 141.5h1M83 141.5h1M5 142.5h1M60 142.5h1M69 142.5h2M82 142.5h1M4 143.5h1M24 143.5h1M40 143.5h1M42 143.5h1M62 143.5h1M64 143.5h1M79 143.5h1M83 143.5h1M86 143.5h1M7 144.5h1M12 144.5h1M32 144.5h2M59 144.5h1M63 144.5h1M76 144.5h1M78 144.5h1M0 145.5h1M16 145.5h1M29 145.5h1M47 145.5h1M63 145.5h1M65 145.5h1M83 145.5h1M0 146.5h1M8 146.5h1M10 146.5h1M18 146.5h1M20 146.5h1M27 146.5h1M54 146.5h1M70 146.5h1M78 146.5h1M83 146.5h1M29 147.5h2M33 147.5h1M35 147.5h1M0 148.5h1M7 148.5h1M18 148.5h1M29 148.5h1M66 148.5h1M70 148.5h1M72 148.5h1M80 148.5h1M85 148.5h1M34 149.5h1M37 149.5h1M42 149.5h1M67 149.5h1M82 149.5h1M89 149.5h1M9 150.5h2M32 150.5h1M76 150.5h1M80 150.5h1M86 150.5h1M13 151.5h2M37 151.5h1M44 151.5h1M78 151.5h2M81 151.5h1M3 152.5h1M5 152.5h1M9 152.5h1M17 152.5h1M32 152.5h1M50 152.5h1M62 152.5h1M64 152.5h1M11 153.5h1M31 153.5h1M35 153.5h1M49 153.5h1M59 153.5h1M61 153.5h1M69 153.5h2M77 153.5h1M83 153.5h1M4 154.5h1M6 154.5h1M17 154.5h1M22 154.5h1M61 154.5h1M72 154.5h1M74 154.5h1M80 154.5h1M87 154.5h1M16 155.5h1M68 155.5h1M3 156.5h1M19 156.5h1M21 156.5h1M82 156.5h1M5 157.5h2M10 157.5h1M14 157.5h2M19 157.5h1M35 157.5h2M61 157.5h1M85 157.5h1M2 158.5h1M5 158.5h1M20 158.5h1M27 158.5h1M66 158.5h1M68 158.5h1M71 158.5h1M74 158.5h1M83 158.5h1M88 158.5h1M26 159.5h2M32 159.5h1M35 159.5h1M45 159.5h1M64 159.5h1M72 159.5h1M65 160.5h1M82 160.5h2M88 160.5h1M16 161.5h1M25 161.5h1M32 161.5h1M42 161.5h1M66 161.5h1M81 161.5h1M3 162.5h2M8 162.5h1M18 162.5h2M63 162.5h1M74 162.5h1M10 163.5h2M32 163.5h1M36 163.5h2M52 163.5h1M80 163.5h1M84 163.5h1M23 164.5h1M28 164.5h1M60 164.5h1M64 164.5h1M71 164.5h1M2 165.5h1M18 165.5h1M31 165.5h2M35 165.5h1M62 165.5h1M65 165.5h3M77 165.5h1M64 166.5h1M75 166.5h1M21 167.5h1M27 167.5h2M80 167.5h1M5 168.5h1M24 168.5h1M27 168.5h1M29 168.5h1M32 168.5h1M68 168.5h1M74 168.5h1M81 168.5h1M2 169.5h1M9 169.5h1M20 169.5h1M35 169.5h1M68 169.5h1M88 169.5h1M0 170.5h1M16 170.5h1M25 170.5h1M29 170.5h1M32 170.5h1M36 170.5h1M66 170.5h1M76 170.5h1M85 170.5h1M1 171.5h1M6 171.5h1M13 171.5h1M19 171.5h1M25 171.5h1M27 171.5h1M35 171.5h1M76 171.5h1M82 171.5h1M84 171.5h1M87 171.5h2M0 172.5h2M9 172.5h1M21 172.5h1M25 172.5h1M52 172.5h1M59 172.5h1M64 172.5h1M15 173.5h1M17 173.5h1M21 173.5h1M25 173.5h1M58 173.5h1M61 173.5h1M67 173.5h1M21 174.5h1M81 174.5h1M86 174.5h1M25 175.5h1M75 175.5h2M78 175.5h2"/>
<path stroke="#ffffff" d="M2 0.5h1M15 0.5h1M53 0.5h1M85 0.5h1M87 0.5h2M17 1.5h1M51 1.5h1M76 1.5h1M11 2.5h1M30 2.5h1M52 2.5h1M81 2.5h1M87 2.5h1M0 3.5h2M11 3.5h1M17 3.5h1M34 3.5h1M46 3.5h1M54 3.5h1M57 3.5h1M74 3.5h1M76 3.5h2M80 3.5h1M89 3.5h1M8 4.5h1M31 4.5h1M65 4.5h1M70 4.5h1M86 4.5h1M2 5.5h1M4 5.5h1M26 5.5h1M49 5.5h1M60 5.5h1M85 5.5h1M87 5.5h3M17 6.5h1M52 6.5h1M58 6.5h1M68 6.5h1M70 6.5h1M73 6.5h1M76 6.5h1M80 6.5h1M82 6.5h1M84 6.5h1M89 6.5h1M12 7.5h1M41 7.5h2M56 7.5h1M59 7.5h1M71 7.5h1M9 8.5h1M27 8.5h1M40 8.5h1M47 8.5h1M54 8.5h1M70 8.5h1M74 8.5h1M16 9.5h1M20 9.5h1M55 9.5h1M68 9.5h1M9 10.5h1M14 10.5h1M48 10.5h1M64 10.5h1M75 10.5h2M85 10.5h1M89 10.5h1M3 11.5h1M33 11.5h1M38 11.5h1M53 11.5h1M55 11.5h1M60 11.5h1M65 11.5h1M81 11.5h1M88 11.5h1M21 12.5h1M39 12.5h1M68 12.5h1M76 12.5h1M9 13.5h1M18 13.5h1M26 13.5h1M71 13.5h1M21 14.5h1M31 14.5h1M39 14.5h1M59 14.5h1M81 14.5h1M86 14.5h3M49 15.5h1M75 15.5h2M79 15.5h1M12 16.5h1M39 16.5h1M70 16.5h2M8 17.5h1M16 17.5h2M53 17.5h1M55 17.5h1M60 17.5h1M64 17.5h1M68 17.5h1M87 17.5h1M9 18.5h1M19 18.5h1M30 18.5h1M40 18.5h1M55 18.5h1M5 19.5h1M8 19.5h2M23 19.5h1M46 19.5h1M48 19.5h1M54 19.5h2M58 19.5h1M13 20.5h1M84 20.5h1M87 20.5h1M64 21.5h1M68 21.5h1M74 21.5h1M88 21.5h1M7 22.5h1M14 22.5h2M33 22.5h2M51 22.5h1M0 23.5h1M36 23.5h1M51 23.5h1M69 23.5h1M82 23.5h1M6 24.5h1M22 24.5h1M32 24.5h1M52 24.5h1M60 24.5h1M62 24.5h2M66 24.5h1M85 24.5h2M4 25.5h1M14 25.5h1M16 25.5h1M22 25.5h1M25 25.5h1M27 25.5h1M64 25.5h1M68 25.5h1M2 26.5h2M14 26.5h1M33 26.5h1M60 26.5h1M87 26.5h1M3 27.5h1M13 27.5h1M21 27.5h1M27 27.5h1M35 27.5h1M42 27.5h1M80 27.5h1M83 27.5h1M26 28.5h1M32 28.5h1M50 28.5h1M52 28.5h1M65 28.5h1M69 28.5h1M86 28.5h1M4 29.5h1M6 29.5h1M8 29.5h1M32 29.5h1M53 29.5h1M65 29.5h1M88 29.5h1M6 30.5h1M10 30.5h1M26 30.5h1M76 30.5h1M83 30.5h1M86 30.5h1M22 31.5h1M24 31.5h1M48 31.5h2M51 31.5h2M57 31.5h2M72 31.5h1M84 31.5h1M86 31.5h1M0 32.5h1M27 32.5h1M33 32.5h1M53 32.5h1M60 32.5h1M65 32.5h1M77 32.5h1M82 32.5h1M13 33.5h1M32 33.5h1M40 33.5h1M52 33.5h2M60 33.5h1M85 33.5h3M11 34.5h1M22 34.5h1M55 34.5h1M60 34.5h1M63 34.5h1M12 35.5h2M53 35.5h1M56 35.5h1M62 35.5h1M75 35.5h1M79 35.5h1M84 35.5h1M7 36.5h1M9 36.5h1M60 36.5h1M68 36.5h1M81 36.5h1M40 37.5h1M46 37.5h1M82 37.5h1M0 38.5h2M15 38.5h1M33 38.5h1M45 38.5h1M1 39.5h1M30 39.5h1M50 39.5h1M66 39.5h1M70 39.5h1M46 40.5h1M49 40.5h1M52 40.5h1M60 40.5h1M89 40.5h1M3 41.5h1M37 41.5h1M44 41.5h2M59 41.5h1M61 41.5h1M13 42.5h1M35 42.5h1M38 42.5h1M60 42.5h1M82 42.5h1M88 42.5h1M24 43.5h1M33 43.5h1M43 43.5h1M47 43.5h1M53 43.5h1M62 43.5h1M73 43.5h1M81 43.5h1M10 44.5h1M18 44.5h1M23 44.5h1M42 44.5h1M49 44.5h1M73 44.5h1M78 44.5h1M81 44.5h1M88 44.5h1M1 45.5h1M3 45.5h2M14 45.5h1M35 45.5h1M73 45.5h1M77 45.5h1M86 45.5h1M89 45.5h1M2 46.5h1M11 46.5h1M38 46.5h1M40 46.5h1M64 46.5h1M78 46.5h2M86 46.5h1M6 47.5h1M53 47.5h1M70 47.5h1M79 47.5h1M4 48.5h1M13 48.5h1M29 48.5h1M25 49.5h1M27 49.5h1M34 49.5h1M50 49.5h1M56 49.5h1M63 49.5h1M68 49.5h1M76 49.5h1M28 50.5h1M32 50.5h1M47 50.5h1M52 50.5h1M39 51.5h1M52 51.5h1M61 51.5h1M71 51.5h1M87 51.5h1M0 52.5h1M36 52.5h1M41 52.5h1M45 52.5h1M60 52.5h3M80 52.5h1M83 52.5h1M24 53.5h1M33 53.5h1M51 53.5h1M59 53.5h1M78 53.5h1M13 54.5h2M33 54.5h1M48 54.5h1M71 54.5h1M85 54.5h1M22 55.5h1M31 55.5h1M47 55.5h1M54 55.5h1M58 55.5h2M71 55.5h1M76 55.5h2M38 56.5h1M41 56.5h1M48 56.5h1M57 56.5h1M60 56.5h1M79 56.5h1M87 56.5h1M5 57.5h1M40 57.5h1M59 57.5h1M79 57.5h1M81 57.5h1M20 58.5h1M34 58.5h1M36 58.5h1M44 58.5h1M48 58.5h2M54 58.5h2M22 59.5h2M26 59.5h1M31 59.5h1M33 59.5h1M39 59.5h1M41 59.5h1M71 59.5h1M87 59.5h1M89 59.5h1M25 60.5h1M48 60.5h1M56 60.5h1M59 60.5h1M63 60.5h1M75 60.5h1M15 61.5h1M26 61.5h1M34 61.5h1M43 61.5h1M84 61.5h1M12 62.5h1M22 62.5h1M52 62.5h1M54 62.5h1M73 62.5h1M75 62.5h1M77 62.5h1M84 62.5h1M23 63.5h1M34 63.5h1M38 63.5h1M56 63.5h1M78 63.5h1M81 63.5h1M35 64.5h1M48 64.5h1M64 64.5h1M71 64.5h1M86 65.5h1M30 66.5h1M51 66.5h1M66 66.5h1M72 66.5h2M77 66.5h1M11 67.5h1M35 67.5h1M41 67.5h1M71 67.5h1M76 67.5h1M89 67.5h1M5 68.5h1M23 68.5h1M59 68.5h1M87 68.5h1M31 69.5h1M80 69.5h1M89 69.5h1M37 70.5h1M39 70.5h1M41 70.5h1M45 70.5h1M62 70.5h1M25 71.5h1M87 71.5h1M24 72.5h1M62 72.5h1M77 72.5h1M86 72.5h1M88 72.5h1M2 73.5h1M8 73.5h1M10 73.5h1M19 73.5h1M39 73.5h2M52 73.5h1M60 73.5h1M63 73.5h2M67 73.5h1M83 73.5h1M0 74.5h1M10 74.5h1M20 74.5h1M81 74.5h1M14 75.5h1M19 75.5h1M30 75.5h1M42 75.5h1M55 75.5h1M72 75.5h1M88 75.5h1M5 76.5h1M10 76.5h1M25 76.5h1M28 76.5h1M38 76.5h1M68 76.5h1M75 76.5h1M79 76.5h1M87 76.5h1M17 77.5h1M22 77.5h2M57 77.5h1M72 77.5h2M81 77.5h1M15 78.5h1M31 78.5h2M39 78.5h1M76 78.5h1M86 78.5h1M3 79.5h1M9 79.5h1M21 79.5h1M56 79.5h1M68 79.5h1M71 79.5h1M82 79.5h1M89 79.5h1M10 80.5h2M16 80.5h1M25 80.5h1M27 80.5h1M30 80.5h1M35 80.5h1M47 80.5h1M57 80.5h1M61 80.5h1M72 80.5h1M78 80.5h1M80 80.5h1M8 81.5h1M16 81.5h1M21 81.5h1M27 81.5h1M44 81.5h1M46 81.5h2M83 81.5h1M18 82.5h1M32 82.5h1M35 82.5h1M40 82.5h1M82 82.5h1M18 83.5h1M21 83.5h2M25 83.5h1M42 83.5h1M53 83.5h1M60 83.5h1M15 84.5h1M17 84.5h1M20 84.5h1M24 84.5h1M58 84.5h1M63 84.5h1M86 84.5h1M17 85.5h1M32 85.5h2M71 85.5h1M78 85.5h1M81 85.5h1M20 86.5h1M23 86.5h1M35 86.5h1M47 86.5h1M5 87.5h1M10 87.5h1M16 87.5h1M23 87.5h1M25 87.5h1M28 87.5h1M35 87.5h1M57 87.5h1M72 87.5h1M78 87.5h1M80 87.5h1M84 87.5h1M0 88.5h1M5 88.5h1M14 88.5h2M25 88.5h1M34 88.5h1M58 88.5h1M60 88.5h1M77 88.5h1M86 88.5h2M22 89.5h1M25 89.5h1M35 89.5h1M73 89.5h1M77 89.5h1M7 90.5h1M23 90.5h1M26 90.5h1M36 90.5h1M39 90.5h1M53 90.5h1M55 90.5h1M78 90.5h1M0 91.5h1M3 91.5h1M5 91.5h1M19 91.5h1M26 91.5h1M36 91.5h2M43 91.5h1M46 91.5h1M80 91.5h1M28 92.5h1M44 92.5h1M67 92.5h1M70 92.5h1M24 93.5h1M52 93.5h1M74 93.5h1M0 94.5h1M7 94.5h1M17 94.5h1M50 94.5h2M63 94.5h1M78 94.5h1M0 95.5h1M21 95.5h1M25 95.5h1M34 95.5h1M50 95.5h1M70 95.5h1M42 96.5h2M66 96.5h1M71 96.5h1M81 96.5h1M10 97.5h1M35 97.5h2M46 97.5h1M53 97.5h1M63 97.5h1M67 97.5h1M69 97.5h1M71 97.5h1M78 97.5h1M5 98.5h1M11 98.5h1M69 98.5h1M19 99.5h1M27 99.5h2M40 99.5h1M79 99.5h1M82 99.5h1M3 100.5h1M10 100.5h1M26 100.5h1M30 100.5h1M34 100.5h1M41 100.5h1M50 100.5h1M61 100.5h1M63 100.5h1M69 100.5h1M77 100.5h1M79 100.5h1M2 101.5h1M38 101.5h1M59 101.5h1M67 101.5h1M89 101.5h1M2 102.5h1M32 102.5h1M34 102.5h1M37 102.5h3M48 102.5h1M75 102.5h2M8 103.5h1M14 103.5h1M45 103.5h1M51 103.5h1M59 103.5h1M1 104.5h1M17 104.5h1M34 104.5h1M46 104.5h1M52 104.5h1M57 104.5h1M59 104.5h1M72 104.5h1M83 104.5h1M0 105.5h1M19 105.5h1M27 105.5h1M50 105.5h1M58 105.5h1M67 105.5h1M8 106.5h1M18 106.5h1M20 106.5h1M33 106.5h1M27 107.5h1M35 107.5h1M50 107.5h1M58 107.5h1M71 107.5h1M5 108.5h1M40 108.5h1M68 108.5h1M82 108.5h1M17 109.5h1M33 109.5h1M40 109.5h1M46 109.5h1M79 109.5h1M10 110.5h1M15 110.5h2M70 110.5h1M16 111.5h1M35 111.5h1M76 111.5h1M88 111.5h2M3 112.5h1M13 112.5h1M34 112.5h1M38 112.5h1M50 112.5h1M55 112.5h1M69 112.5h1M72 112.5h1M82 112.5h1M85 112.5h1M89 112.5h1M24 113.5h1M35 113.5h1M50 113.5h1M68 113.5h1M81 113.5h2M4 114.5h1M33 114.5h1M43 114.5h1M72 114.5h1M87 114.5h1M4 115.5h1M12 115.5h1M20 115.5h1M24 115.5h1M27 115.5h1M40 115.5h1M42 115.5h1M54 115.5h1M57 115.5h1M4 116.5h1M18 116.5h1M26 116.5h1M32 116.5h1M49 116.5h1M75 116.5h1M82 116.5h3M5 117.5h1M26 117.5h1M32 117.5h1M46 117.5h1M59 117.5h1M74 117.5h1M80 117.5h1M0 118.5h2M6 118.5h1M11 118.5h1M13 118.5h1M19 118.5h1M43 118.5h2M72 118.5h1M83 118.5h2M38 119.5h1M41 119.5h1M69 119.5h1M76 119.5h1M23 120.5h2M27 120.5h2M30 120.5h1M32 120.5h1M37 120.5h2M40 120.5h1M45 120.5h1M60 120.5h1M70 120.5h1M73 120.5h1M75 120.5h1M79 120.5h1M83 120.5h1M24 121.5h1M26 121.5h1M32 121.5h1M48 121.5h1M62 121.5h1M88 121.5h2M0 122.5h4M10 122.5h1M21 122.5h1M23 122.5h1M29 122.5h1M67 122.5h2M78 122.5h1M85 122.5h1M42 123.5h1M81 123.5h1M88 123.5h1M27 124.5h1M34 124.5h1M43 124.5h1M47 124.5h1M70 124.5h1M76 124.5h1M78 124.5h1M84 124.5h1M13 125.5h3M19 125.5h1M47 125.5h1M68 125.5h1M70 125.5h2M75 125.5h1M79 125.5h1M80 126.5h1M82 126.5h1M13 127.5h2M19 127.5h2M25 127.5h1M70 127.5h1M72 127.5h1M81 127.5h1M85 127.5h1M0 128.5h1M17 128.5h1M8 129.5h1M14 129.5h1M20 129.5h1M32 129.5h3M45 129.5h1M52 129.5h1M67 129.5h1M71 129.5h1M75 129.5h1M77 129.5h1M79 129.5h1M84 129.5h1M86 129.5h1M88 129.5h1M13 130.5h1M40 130.5h1M53 130.5h1M76 130.5h1M83 130.5h1M87 130.5h1M89 130.5h1M11 131.5h2M20 131.5h2M0 132.5h3M10 132.5h1M32 132.5h2M39 132.5h1M69 132.5h1M71 132.5h1M85 132.5h1M88 132.5h1M42 133.5h1M50 133.5h1M58 133.5h1M68 133.5h1M4 134.5h1M9 134.5h1M18 134.5h1M48 134.5h1M52 134.5h1M57 134.5h1M76 134.5h1M14 135.5h2M21 135.5h1M24 135.5h1M28 135.5h1M37 135.5h1M73 135.5h1M13 136.5h1M15 136.5h1M30 136.5h1M55 136.5h1M64 136.5h1M66 136.5h1M70 136.5h1M75 136.5h1M79 136.5h1M84 136.5h1M3 137.5h1M11 137.5h1M35 137.5h1M44 137.5h1M2 138.5h1M7 138.5h2M29 138.5h1M64 138.5h3M78 138.5h1M89 138.5h1M32 139.5h1M34 139.5h1M64 139.5h1M76 139.5h1M78 139.5h1M85 139.5h1M7 140.5h1M12 140.5h1M15 140.5h1M23 140.5h1M35 140.5h1M43 140.5h1M58 140.5h1M79 140.5h1M10 141.5h1M29 141.5h1M46 141.5h1M75 141.5h1M87 141.5h1M4 142.5h1M17 142.5h1M28 142.5h1M37 142.5h1M43 142.5h1M66 142.5h1M78 142.5h1M16 143.5h1M26 143.5h1M35 143.5h1M43 143.5h1M59 143.5h1M75 143.5h1M80 143.5h1M2 144.5h1M8 144.5h1M19 144.5h1M56 144.5h1M67 144.5h1M72 144.5h1M80 144.5h2M83 144.5h1M85 144.5h1M89 144.5h1M56 145.5h1M7 146.5h1M12 146.5h1M21 146.5h1M35 146.5h1M38 146.5h1M40 146.5h1M68 146.5h1M71 146.5h1M87 146.5h1M26 147.5h1M36 147.5h1M41 147.5h1M54 147.5h1M64 147.5h1M72 147.5h1M76 147.5h1M78 147.5h1M81 147.5h1M10 148.5h1M13 148.5h1M16 148.5h1M30 148.5h2M84 148.5h1M22 149.5h1M32 149.5h1M53 149.5h1M63 149.5h1M75 149.5h1M79 149.5h1M4 150.5h1M21 150.5h1M28 150.5h2M37 150.5h1M45 150.5h1M51 150.5h1M70 150.5h1M87 150.5h1M8 151.5h1M10 151.5h2M33 151.5h1M66 151.5h1M2 152.5h1M31 152.5h1M38 152.5h1M79 152.5h2M86 152.5h1M7 153.5h1M13 153.5h1M45 153.5h1M68 153.5h1M76 153.5h1M82 153.5h1M87 153.5h1M0 154.5h1M2 154.5h1M7 154.5h1M16 154.5h1M26 154.5h1M30 154.5h1M41 154.5h1M64 154.5h1M75 154.5h1M3 155.5h1M12 155.5h1M55 155.5h1M62 155.5h1M71 155.5h1M80 155.5h1M86 155.5h1M18 156.5h1M31 156.5h1M58 156.5h1M63 156.5h1M69 156.5h1M77 156.5h1M16 157.5h1M18 157.5h1M25 157.5h1M29 157.5h1M37 157.5h1M49 157.5h1M65 157.5h2M4 158.5h1M9 158.5h1M12 158.5h1M59 158.5h1M64 158.5h1M76 158.5h1M79 158.5h1M9 159.5h1M14 159.5h1M70 159.5h1M86 159.5h1M89 159.5h1M1 160.5h1M9 160.5h1M18 160.5h1M23 160.5h3M27 160.5h1M53 160.5h1M89 160.5h1M4 161.5h1M7 161.5h1M17 161.5h1M21 161.5h1M36 161.5h1M50 161.5h2M62 161.5h1M65 161.5h1M73 161.5h1M75 161.5h1M2 162.5h1M6 162.5h1M11 162.5h1M24 162.5h1M26 162.5h1M33 162.5h1M75 162.5h1M81 162.5h1M6 163.5h1M24 163.5h1M35 163.5h1M39 163.5h1M46 163.5h1M49 163.5h1M59 163.5h1M65 163.5h1M76 163.5h2M3 164.5h2M8 164.5h1M32 164.5h1M36 164.5h1M82 164.5h2M5 165.5h1M9 165.5h3M20 165.5h1M34 165.5h1M60 165.5h1M3 166.5h1M5 166.5h1M36 166.5h1M39 166.5h1M41 166.5h1M54 166.5h1M61 166.5h1M8 167.5h2M17 167.5h1M31 167.5h1M33 167.5h1M70 167.5h1M8 168.5h1M15 168.5h1M17 168.5h1M59 168.5h1M65 168.5h1M71 168.5h1M86 168.5h1M1 169.5h1M11 169.5h1M15 169.5h1M21 169.5h3M26 169.5h1M29 169.5h1M36 169.5h1M64 169.5h1M66 169.5h1M81 169.5h1M2 170.5h1M4 170.5h1M30 170.5h1M35 170.5h1M45 170.5h1M63 170.5h1M83 170.5h1M86 170.5h1M88 170.5h1M11 171.5h1M16 171.5h2M33 171.5h1M66 171.5h2M70 171.5h1M73 171.5h1M6 172.5h1M73 172.5h1M75 172.5h1M43 173.5h1M50 173.5h1M57 173.5h1M62 173.5h1M65 173.5h1M71 173.5h1M76 173.5h1M3 174.5h1M7 174.5h2M22 174.5h1M25 174.5h1M45 174.5h1M51 174.5h1M61 174.5h1M64 174.5h1M73 174.5h1M89 174.5h1M38 175.5h1M53 175.5h1M60 175.5h1M64 175.5h1M67 175.5h1"/>
<path stroke="#fcf6f6" d="M14 0.5h1M39 0.5h1M77 0.5h1M14 1.5h1M21 1.5h1M67 1.5h1M77 1.5h1M83 1.5h1M2 2.5h1M21 2.5h2M78 2.5h1M89 2.5h1M7 3.5h2M14 3.5h1M24 3.5h1M58 3.5h1M75 3.5h1M78 3.5h1M86 3.5h1M16 4.5h1M21 4.5h1M78 4.5h1M88 4.5h1M5 5.5h1M15 5.5h1M42 5.5h1M52 5.5h1M76 5.5h1M81 5.5h1M86 5.5h1M13 6.5h3M19 6.5h1M31 6.5h1M34 6.5h1M50 6.5h1M56 6.5h1M77 6.5h2M83 6.5h1M86 6.5h1M1 7.5h1M47 7.5h1M68 7.5h1M70 7.5h1M11 8.5h1M21 8.5h1M31 8.5h1M66 8.5h1M14 9.5h1M61 9.5h1M70 9.5h1M72 9.5h2M84 9.5h1M2 10.5h1M15 10.5h1M21 10.5h1M59 10.5h1M74 10.5h1M79 10.5h1M9 11.5h1M12 11.5h1M14 11.5h1M0 12.5h1M13 12.5h1M27 12.5h1M47 12.5h1M58 12.5h1M63 12.5h1M72 12.5h1M10 13.5h1M22 13.5h1M33 13.5h1M74 13.5h1M85 13.5h1M14 14.5h1M17 14.5h1M45 14.5h1M49 14.5h1M56 14.5h1M58 14.5h1M60 14.5h1M65 14.5h1M1 15.5h5M7 15.5h1M16 15.5h1M19 15.5h1M61 15.5h1M19 16.5h1M75 16.5h1M79 16.5h1M89 16.5h1M12 17.5h1M48 17.5h2M0 18.5h1M13 18.5h1M17 18.5h1M20 18.5h1M33 18.5h1M72 18.5h2M89 18.5h1M12 19.5h1M20 19.5h1M26 19.5h1M29 19.5h1M77 19.5h1M71 20.5h1M77 20.5h1M86 20.5h1M89 20.5h1M1 21.5h1M17 21.5h2M35 21.5h1M49 21.5h1M61 21.5h1M1 22.5h1M6 22.5h1M12 22.5h1M24 22.5h1M30 22.5h1M56 22.5h1M69 22.5h1M79 22.5h1M83 22.5h1M85 22.5h1M15 23.5h1M22 23.5h1M89 23.5h1M2 24.5h1M56 24.5h1M64 24.5h2M72 24.5h1M80 24.5h1M84 24.5h1M88 24.5h1M7 25.5h1M30 25.5h1M72 25.5h1M83 25.5h1M13 26.5h1M15 26.5h1M47 26.5h1M84 26.5h1M15 27.5h1M17 27.5h1M19 27.5h1M34 27.5h1M74 27.5h1M3 28.5h1M6 28.5h1M23 28.5h1M31 28.5h1M34 28.5h1M57 28.5h1M64 28.5h1M72 28.5h1M88 28.5h1M9 29.5h1M14 29.5h1M27 29.5h1M29 29.5h2M33 29.5h1M48 29.5h1M77 29.5h1M84 29.5h1M89 29.5h1M1 30.5h1M5 30.5h1M13 30.5h1M57 30.5h1M85 30.5h1M2 31.5h1M8 31.5h1M18 31.5h1M23 31.5h1M69 31.5h1M2 32.5h1M9 32.5h2M19 32.5h1M39 32.5h1M67 32.5h1M72 32.5h1M80 32.5h1M8 33.5h1M11 33.5h1M23 33.5h1M75 33.5h1M80 33.5h1M1 34.5h2M47 34.5h1M57 34.5h1M65 34.5h1M69 34.5h1M82 34.5h1M84 34.5h1M86 34.5h1M0 35.5h1M10 35.5h1M16 35.5h1M26 35.5h2M77 35.5h1M82 35.5h1M85 35.5h1M20 36.5h1M33 36.5h1M63 36.5h1M65 36.5h1M69 36.5h1M77 36.5h1M85 36.5h1M25 37.5h1M27 37.5h1M47 37.5h2M50 37.5h1M80 37.5h1M10 38.5h2M30 38.5h1M34 38.5h1M40 38.5h1M64 38.5h1M67 38.5h1M78 38.5h1M84 38.5h3M89 38.5h1M9 39.5h1M24 39.5h1M26 39.5h1M39 39.5h1M49 39.5h1M62 39.5h1M86 39.5h1M14 40.5h2M31 40.5h1M41 40.5h1M54 40.5h1M78 40.5h1M82 40.5h2M86 40.5h1M13 41.5h1M18 41.5h1M27 41.5h1M62 41.5h1M71 41.5h2M81 41.5h3M14 42.5h1M50 42.5h1M59 42.5h1M72 42.5h1M75 42.5h1M83 42.5h1M85 42.5h1M13 43.5h1M38 43.5h1M41 43.5h1M49 43.5h1M58 43.5h1M74 43.5h1M82 43.5h1M86 43.5h1M20 44.5h1M25 44.5h1M51 44.5h1M65 44.5h1M85 44.5h1M26 45.5h1M72 45.5h1M80 45.5h1M85 45.5h1M4 46.5h1M10 46.5h1M29 46.5h1M70 46.5h1M9 47.5h1M13 47.5h1M19 47.5h1M24 47.5h1M44 47.5h1M56 47.5h1M76 47.5h1M84 47.5h1M5 48.5h1M12 48.5h1M27 48.5h1M35 48.5h2M70 48.5h1M86 48.5h1M89 48.5h1M2 49.5h1M14 49.5h1M28 49.5h1M62 49.5h1M69 49.5h1M71 49.5h1M79 49.5h1M83 49.5h1M7 50.5h1M14 50.5h1M40 50.5h1M62 50.5h1M75 50.5h2M83 50.5h1M2 51.5h1M25 51.5h1M38 51.5h1M79 51.5h1M14 52.5h1M24 52.5h1M27 52.5h1M38 52.5h1M54 52.5h1M76 52.5h1M81 52.5h1M61 53.5h1M72 53.5h1M75 53.5h1M79 53.5h1M81 53.5h1M84 53.5h1M24 54.5h1M26 54.5h1M30 54.5h1M75 54.5h2M82 54.5h1M87 54.5h1M41 55.5h1M86 55.5h1M7 56.5h1M56 56.5h1M69 56.5h1M84 56.5h1M18 57.5h1M24 57.5h1M31 57.5h1M33 57.5h1M37 57.5h1M41 57.5h1M49 57.5h1M72 57.5h1M83 57.5h1M62 58.5h1M75 58.5h1M5 59.5h1M58 59.5h1M80 59.5h1M17 60.5h1M31 60.5h2M35 60.5h1M41 60.5h1M5 61.5h1M32 61.5h2M51 61.5h1M87 61.5h1M89 61.5h1M25 62.5h1M30 62.5h1M36 62.5h1M40 62.5h1M59 62.5h1M64 62.5h1M79 62.5h1M86 62.5h1M15 63.5h1M27 63.5h1M31 63.5h1M85 63.5h1M89 63.5h1M3 64.5h2M20 64.5h1M34 64.5h1M39 64.5h1M69 64.5h1M79 64.5h3M88 64.5h1M0 65.5h1M25 65.5h1M36 65.5h1M45 65.5h1M84 65.5h1M87 65.5h1M1 66.5h1M34 66.5h1M46 66.5h1M56 66.5h1M58 66.5h1M84 66.5h1M34 67.5h1M38 67.5h1M56 67.5h1M58 67.5h1M60 67.5h1M87 67.5h1M2 68.5h1M29 68.5h1M45 68.5h1M80 68.5h1M88 68.5h1M13 69.5h1M16 69.5h1M22 69.5h1M25 69.5h2M37 69.5h1M85 69.5h1M87 69.5h1M47 70.5h1M51 70.5h1M76 70.5h2M11 71.5h1M20 71.5h1M28 71.5h1M41 71.5h1M78 71.5h1M84 71.5h1M29 72.5h1M35 72.5h1M57 72.5h1M80 72.5h1M20 73.5h1M24 73.5h2M32 73.5h1M48 73.5h1M57 73.5h1M68 73.5h1M71 73.5h1M79 73.5h1M81 73.5h2M19 74.5h1M31 74.5h1M38 74.5h1M57 74.5h1M63 74.5h1M71 74.5h1M79 74.5h1M0 75.5h1M11 75.5h1M37 75.5h1M53 75.5h1M64 75.5h1M0 76.5h2M12 76.5h1M21 76.5h1M23 76.5h1M31 76.5h1M33 76.5h1M56 76.5h1M69 76.5h1M80 76.5h1M11 77.5h1M20 77.5h1M38 77.5h1M41 77.5h1M55 77.5h1M58 77.5h1M63 77.5h1M69 77.5h1M76 77.5h1M1 78.5h1M23 78.5h1M34 78.5h1M37 78.5h1M44 78.5h1M46 78.5h1M57 78.5h1M61 78.5h1M63 78.5h1M68 78.5h1M73 78.5h1M78 78.5h1M81 78.5h2M7 79.5h1M10 79.5h2M15 79.5h1M18 79.5h1M33 79.5h1M44 79.5h2M51 79.5h1M63 79.5h1M72 79.5h2M77 79.5h1M87 79.5h1M26 80.5h1M32 80.5h1M43 80.5h1M51 80.5h1M53 80.5h1M34 81.5h1M40 81.5h1M49 81.5h1M53 81.5h1M78 81.5h1M7 82.5h1M23 82.5h1M36 82.5h1M45 82.5h1M53 82.5h3M65 82.5h2M72 82.5h1M81 82.5h1M87 82.5h1M31 83.5h1M47 83.5h1M50 83.5h1M73 83.5h1M87 83.5h2M12 84.5h1M19 84.5h1M32 84.5h1M52 84.5h1M67 84.5h1M10 85.5h1M37 85.5h1M40 85.5h1M66 85.5h1M83 85.5h1M14 86.5h1M33 86.5h1M38 86.5h1M41 86.5h1M52 86.5h1M57 86.5h1M69 86.5h1M76 86.5h1M79 86.5h4M86 86.5h1M6 87.5h1M14 87.5h1M33 87.5h2M37 87.5h1M40 87.5h1M46 87.5h1M59 87.5h1M62 87.5h1M67 87.5h1M87 87.5h1M16 88.5h1M32 88.5h1M45 88.5h1M82 88.5h1M6 89.5h2M13 89.5h1M71 89.5h1M83 89.5h2M25 90.5h1M77 90.5h1M79 90.5h1M81 90.5h1M4 91.5h1M17 91.5h1M34 91.5h2M41 91.5h1M45 91.5h1M47 91.5h1M51 91.5h1M55 91.5h1M68 91.5h1M75 91.5h1M82 91.5h1M6 92.5h1M24 92.5h1M33 92.5h1M45 92.5h1M55 92.5h1M62 92.5h1M4 93.5h1M34 93.5h2M37 93.5h1M47 93.5h1M50 93.5h1M59 93.5h1M69 93.5h2M72 93.5h1M27 94.5h1M29 94.5h1M58 94.5h2M8 95.5h1M16 95.5h1M68 95.5h1M72 95.5h1M6 96.5h1M28 96.5h1M36 96.5h1M40 96.5h2M50 96.5h1M78 96.5h1M83 96.5h1M87 96.5h1M89 96.5h1M24 97.5h1M60 97.5h1M68 98.5h1M81 98.5h1M87 98.5h1M25 99.5h1M32 99.5h1M45 99.5h1M72 99.5h1M76 99.5h1M80 99.5h1M88 99.5h1M18 100.5h1M27 100.5h2M46 100.5h1M59 100.5h1M67 100.5h1M72 100.5h1M86 100.5h1M89 100.5h1M15 101.5h1M23 101.5h1M25 101.5h1M29 101.5h1M34 101.5h2M43 101.5h1M49 101.5h1M54 101.5h1M63 101.5h1M78 101.5h1M81 101.5h1M8 102.5h1M15 102.5h1M17 102.5h1M22 102.5h1M25 102.5h1M59 102.5h1M72 102.5h2M79 102.5h1M0 103.5h1M2 103.5h3M6 103.5h1M16 103.5h1M28 103.5h1M31 103.5h1M89 103.5h1M3 104.5h1M28 104.5h2M81 104.5h1M7 105.5h1M23 105.5h1M29 105.5h1M40 105.5h3M53 105.5h1M56 105.5h1M80 105.5h1M5 106.5h1M9 106.5h1M13 106.5h1M28 106.5h1M44 106.5h1M52 106.5h2M62 106.5h1M79 106.5h1M86 106.5h1M21 107.5h1M25 107.5h1M4 108.5h1M22 108.5h1M30 108.5h1M34 108.5h1M43 108.5h1M54 108.5h1M61 108.5h1M31 109.5h1M45 109.5h1M48 109.5h1M82 109.5h1M12 110.5h1M31 110.5h1M36 110.5h1M43 110.5h1M48 110.5h1M65 110.5h1M73 110.5h1M80 110.5h1M82 110.5h1M84 110.5h1M10 111.5h1M26 111.5h1M28 111.5h1M33 111.5h1M81 111.5h1M83 111.5h1M85 111.5h1M12 112.5h1M20 112.5h1M39 112.5h1M42 112.5h1M49 112.5h1M73 112.5h1M75 112.5h1M77 112.5h1M86 112.5h1M2 113.5h1M4 113.5h1M28 113.5h1M36 113.5h1M57 113.5h1M2 114.5h1M13 114.5h1M23 114.5h1M34 114.5h1M38 114.5h1M53 114.5h1M67 114.5h1M69 114.5h1M84 114.5h1M89 114.5h1M34 115.5h1M43 115.5h1M67 115.5h1M75 115.5h1M81 115.5h1M85 115.5h1M35 116.5h1M63 116.5h1M72 116.5h2M85 116.5h1M3 117.5h1M16 117.5h1M31 117.5h1M78 117.5h1M86 117.5h1M8 118.5h1M26 118.5h1M36 118.5h2M54 118.5h2M75 118.5h1M79 118.5h1M81 118.5h1M87 118.5h1M0 119.5h1M16 119.5h1M20 119.5h1M23 119.5h1M28 119.5h1M47 119.5h1M63 119.5h1M68 119.5h1M73 119.5h1M11 120.5h1M13 120.5h1M16 120.5h1M52 120.5h1M55 120.5h1M71 120.5h1M82 120.5h1M87 120.5h1M10 121.5h1M19 121.5h1M41 121.5h1M52 121.5h1M56 121.5h1M67 121.5h1M81 121.5h1M83 121.5h1M26 122.5h1M45 122.5h1M69 122.5h1M80 122.5h1M36 123.5h1M52 123.5h1M59 123.5h1M9 124.5h1M20 124.5h1M23 124.5h1M30 124.5h1M46 124.5h1M52 124.5h1M68 124.5h1M88 124.5h1M20 125.5h1M22 125.5h1M30 125.5h1M35 125.5h1M39 125.5h1M80 125.5h1M36 126.5h1M54 126.5h1M63 126.5h1M89 126.5h1M22 127.5h1M27 127.5h1M30 127.5h1M42 127.5h1M82 127.5h1M7 128.5h1M22 128.5h1M31 128.5h1M40 128.5h1M51 128.5h1M80 128.5h2M19 129.5h1M44 129.5h1M46 129.5h2M56 129.5h1M62 129.5h1M12 130.5h1M16 130.5h1M39 130.5h1M43 130.5h1M48 130.5h1M77 130.5h1M1 131.5h1M17 131.5h1M19 131.5h1M23 131.5h1M26 131.5h1M30 131.5h1M34 131.5h1M43 131.5h1M75 131.5h1M83 131.5h1M18 132.5h1M40 132.5h1M42 132.5h1M83 132.5h1M23 133.5h1M29 133.5h1M75 133.5h1M80 133.5h1M2 134.5h1M14 134.5h1M26 134.5h2M40 134.5h1M42 134.5h1M44 134.5h1M66 134.5h2M75 134.5h1M84 134.5h1M20 135.5h1M25 135.5h1M52 135.5h1M55 135.5h1M68 135.5h1M77 135.5h1M85 135.5h1M87 135.5h1M26 136.5h1M34 136.5h2M39 136.5h1M45 136.5h1M63 136.5h1M67 136.5h2M77 136.5h1M17 137.5h1M21 137.5h1M23 137.5h1M57 137.5h1M72 137.5h1M79 137.5h2M82 137.5h1M4 138.5h1M6 138.5h1M15 138.5h1M18 138.5h1M24 138.5h1M67 138.5h1M70 138.5h1M80 138.5h1M84 138.5h1M16 139.5h1M35 139.5h1M56 139.5h1M0 140.5h2M13 140.5h1M22 140.5h1M24 140.5h2M36 140.5h1M61 140.5h1M84 140.5h1M23 141.5h1M25 141.5h1M41 141.5h1M59 141.5h1M72 141.5h1M86 141.5h1M3 142.5h1M15 142.5h1M23 142.5h1M44 142.5h3M59 142.5h1M61 142.5h1M75 142.5h1M86 142.5h1M23 143.5h1M30 143.5h1M44 143.5h1M50 143.5h1M53 143.5h2M67 143.5h1M72 143.5h1M76 143.5h1M21 144.5h1M31 144.5h1M34 144.5h1M77 144.5h1M10 145.5h1M23 145.5h1M31 145.5h1M44 145.5h1M48 145.5h1M54 145.5h1M60 145.5h2M76 145.5h1M22 146.5h1M34 146.5h1M55 146.5h1M3 147.5h1M25 147.5h1M31 147.5h1M34 147.5h1M51 147.5h1M59 147.5h1M69 147.5h1M83 147.5h1M86 147.5h1M3 148.5h1M9 148.5h1M17 148.5h1M35 148.5h1M59 148.5h1M76 148.5h1M87 148.5h1M0 149.5h1M11 149.5h1M13 149.5h1M24 149.5h1M83 149.5h1M8 150.5h1M19 150.5h1M22 150.5h1M38 150.5h1M42 150.5h1M59 150.5h1M63 150.5h1M84 150.5h1M4 151.5h1M19 151.5h1M22 151.5h1M32 151.5h1M62 151.5h1M86 151.5h1M6 152.5h1M21 152.5h1M29 152.5h1M63 152.5h1M69 152.5h1M75 152.5h1M82 152.5h1M0 153.5h1M22 153.5h1M28 153.5h2M34 153.5h1M60 153.5h1M63 153.5h1M85 153.5h1M27 154.5h1M29 154.5h1M45 154.5h1M51 154.5h1M58 154.5h1M63 154.5h1M68 154.5h1M9 155.5h2M28 155.5h1M46 155.5h1M76 155.5h1M79 155.5h1M13 156.5h1M36 156.5h1M38 156.5h1M40 156.5h1M46 156.5h1M54 156.5h1M27 157.5h1M31 157.5h1M59 157.5h1M70 157.5h1M7 158.5h1M13 158.5h1M24 158.5h1M77 158.5h1M80 158.5h1M85 158.5h1M5 159.5h1M20 159.5h1M37 159.5h1M39 159.5h1M48 159.5h1M51 159.5h1M58 159.5h1M63 159.5h1M82 159.5h1M10 160.5h1M19 160.5h1M39 160.5h1M57 160.5h1M81 160.5h1M8 161.5h1M29 161.5h1M40 161.5h1M43 161.5h1M53 161.5h1M60 161.5h1M64 161.5h1M25 162.5h1M27 162.5h1M32 162.5h1M88 162.5h1M29 163.5h1M61 163.5h1M63 163.5h1M70 163.5h1M87 163.5h1M0 164.5h1M20 164.5h1M29 164.5h1M35 164.5h1M37 164.5h1M52 164.5h1M55 164.5h1M75 164.5h1M80 164.5h1M85 164.5h2M8 165.5h1M15 165.5h1M27 165.5h1M46 165.5h1M49 165.5h1M59 165.5h1M76 165.5h1M87 165.5h1M32 166.5h1M37 166.5h1M55 166.5h1M6 167.5h1M19 167.5h2M29 167.5h1M58 167.5h1M73 167.5h2M76 167.5h1M78 167.5h1M83 167.5h1M89 167.5h1M20 168.5h1M30 168.5h1M76 168.5h2M84 168.5h1M6 169.5h1M44 169.5h1M71 169.5h1M74 169.5h1M82 169.5h1M84 169.5h2M7 170.5h1M15 170.5h1M40 170.5h1M68 170.5h2M82 170.5h1M14 171.5h1M45 171.5h1M71 171.5h1M15 172.5h1M28 172.5h2M55 172.5h1M62 172.5h2M72 172.5h1M80 172.5h2M22 173.5h1M80 173.5h1M82 173.5h1M1 174.5h1M23 174.5h1M26 174.5h2M34 174.5h1M58 174.5h1M60 174.5h1M72 174.5h1M76 174.5h1M12 175.5h1M28 175.5h1M35 175.5h1M56 175.5h1M85 175.5h1"/>
<path stroke="#f9eded" d="M8 0.5h1M13 0.5h1M17 0.5h1M70 0.5h1M80 0.5h1M86 0.5h1M89 0.5h1M22 1.5h1M47 1.5h1M80 1.5h1M1 2.5h1M17 2.5h1M24 2.5h1M38 2.5h1M48 2.5h1M86 2.5h1M2 3.5h1M12 3.5h1M16 3.5h1M29 3.5h1M81 3.5h2M85 3.5h1M39 4.5h1M60 4.5h1M82 4.5h2M87 4.5h1M3 5.5h1M11 5.5h1M21 5.5h1M24 5.5h1M56 5.5h1M62 5.5h1M84 5.5h1M30 6.5h1M66 6.5h1M79 6.5h1M81 6.5h1M3 7.5h1M14 7.5h1M17 7.5h1M23 7.5h1M33 7.5h1M55 7.5h1M62 7.5h1M89 7.5h1M5 8.5h1M7 8.5h1M14 8.5h1M16 8.5h1M35 8.5h1M73 8.5h1M82 8.5h1M5 9.5h1M12 9.5h1M23 9.5h1M31 9.5h1M35 9.5h1M48 9.5h1M12 10.5h1M34 10.5h1M55 10.5h1M66 10.5h4M72 10.5h1M78 10.5h1M87 10.5h1M0 11.5h1M8 11.5h1M16 11.5h1M40 11.5h1M82 11.5h1M12 12.5h1M50 12.5h1M52 12.5h1M75 12.5h1M86 12.5h3M2 13.5h1M4 13.5h1M80 13.5h1M86 13.5h1M1 14.5h1M19 14.5h1M77 14.5h1M79 14.5h1M24 15.5h1M4 16.5h1M7 16.5h1M17 16.5h1M34 16.5h1M60 16.5h1M50 17.5h1M57 17.5h1M77 17.5h2M84 17.5h2M4 18.5h1M6 18.5h2M12 18.5h1M23 18.5h1M35 18.5h1M86 18.5h1M13 19.5h1M35 19.5h1M75 19.5h1M85 19.5h1M18 20.5h1M29 20.5h1M32 20.5h2M35 20.5h1M73 20.5h1M85 20.5h1M58 21.5h1M66 21.5h1M69 21.5h1M76 21.5h1M11 22.5h1M84 22.5h1M3 23.5h1M6 23.5h2M23 23.5h1M25 23.5h1M34 23.5h1M56 23.5h1M65 23.5h1M83 23.5h2M86 23.5h1M7 24.5h1M9 24.5h2M24 24.5h1M68 24.5h1M79 24.5h1M9 25.5h1M13 25.5h1M50 25.5h1M62 25.5h1M65 25.5h1M71 25.5h1M11 26.5h1M18 26.5h1M85 26.5h1M6 27.5h1M9 27.5h1M12 27.5h1M82 27.5h1M88 27.5h1M12 28.5h1M33 28.5h1M60 28.5h1M74 28.5h1M76 28.5h1M87 28.5h1M1 29.5h1M3 29.5h1M17 29.5h1M55 29.5h1M58 29.5h1M61 29.5h1M67 29.5h1M80 29.5h1M82 29.5h2M3 30.5h1M23 30.5h1M27 30.5h2M34 30.5h1M64 30.5h1M10 31.5h1M39 31.5h1M56 31.5h1M85 31.5h1M88 31.5h2M3 32.5h1M16 32.5h2M25 32.5h2M31 32.5h1M64 32.5h1M81 32.5h1M10 33.5h1M29 33.5h1M6 34.5h1M9 34.5h1M26 34.5h1M44 34.5h1M58 34.5h2M67 34.5h1M80 34.5h1M52 35.5h1M65 35.5h1M81 35.5h1M3 36.5h1M8 36.5h1M14 36.5h1M54 36.5h1M64 36.5h1M84 36.5h1M16 37.5h3M34 37.5h1M38 37.5h1M44 37.5h2M56 37.5h1M73 37.5h2M84 37.5h2M4 39.5h3M8 39.5h1M10 39.5h1M12 39.5h1M15 39.5h1M20 39.5h1M33 39.5h1M80 39.5h1M85 39.5h1M87 39.5h1M8 40.5h1M12 40.5h1M33 40.5h1M58 40.5h1M61 40.5h1M68 40.5h1M76 40.5h2M80 40.5h1M85 40.5h1M88 40.5h1M8 41.5h1M20 41.5h1M22 41.5h1M32 41.5h1M39 41.5h1M70 41.5h1M87 41.5h1M2 42.5h1M5 42.5h1M12 42.5h1M61 42.5h1M6 43.5h1M8 43.5h1M14 43.5h1M18 43.5h1M23 43.5h1M25 43.5h2M28 43.5h1M39 43.5h1M6 44.5h1M19 44.5h1M21 44.5h1M29 44.5h1M46 44.5h1M74 44.5h1M87 44.5h1M0 45.5h1M8 45.5h1M15 45.5h1M60 45.5h1M62 45.5h1M79 45.5h1M8 46.5h1M15 46.5h1M24 46.5h1M42 46.5h1M51 46.5h1M62 46.5h1M82 46.5h1M85 46.5h1M18 47.5h1M28 47.5h1M34 47.5h1M59 47.5h1M61 47.5h1M6 48.5h1M16 48.5h1M23 48.5h1M30 48.5h3M39 48.5h1M72 48.5h1M87 48.5h1M10 49.5h1M23 49.5h1M26 49.5h1M33 49.5h1M39 49.5h1M44 49.5h1M54 49.5h1M58 49.5h1M78 49.5h1M84 49.5h2M89 49.5h1M21 50.5h1M26 50.5h1M61 50.5h1M12 51.5h1M27 51.5h2M32 51.5h2M49 51.5h1M84 51.5h1M22 52.5h1M48 52.5h1M85 52.5h1M22 53.5h1M32 53.5h1M71 53.5h1M82 53.5h1M16 54.5h1M19 54.5h1M34 54.5h1M49 54.5h1M20 55.5h1M32 55.5h1M34 55.5h1M17 56.5h1M21 56.5h1M26 56.5h1M13 57.5h1M26 57.5h1M29 57.5h1M76 57.5h1M80 57.5h1M7 58.5h1M12 58.5h1M27 58.5h1M30 58.5h2M41 58.5h1M57 58.5h1M72 58.5h1M74 58.5h1M86 58.5h2M1 59.5h1M3 59.5h1M25 59.5h1M34 59.5h1M81 59.5h1M26 60.5h1M30 60.5h1M44 60.5h1M81 60.5h1M80 61.5h1M83 61.5h1M86 61.5h1M45 62.5h1M89 62.5h1M19 63.5h1M24 63.5h1M28 63.5h1M32 63.5h1M44 63.5h1M62 63.5h1M88 63.5h1M6 64.5h1M38 64.5h1M72 64.5h1M89 64.5h1M2 65.5h1M34 65.5h1M48 65.5h1M76 65.5h1M81 65.5h1M85 65.5h1M39 66.5h1M71 66.5h1M88 66.5h1M16 67.5h1M26 67.5h1M36 67.5h1M47 67.5h1M70 67.5h1M77 67.5h1M84 67.5h1M6 68.5h1M39 68.5h1M47 68.5h1M58 68.5h1M62 68.5h1M7 69.5h1M30 69.5h1M32 69.5h1M88 69.5h1M22 70.5h1M57 70.5h1M75 70.5h1M78 70.5h1M82 70.5h1M16 71.5h1M40 71.5h1M44 71.5h1M85 71.5h1M15 72.5h1M19 72.5h1M26 72.5h1M28 72.5h1M58 72.5h1M72 72.5h1M84 72.5h1M89 72.5h1M28 73.5h1M50 73.5h1M61 73.5h1M89 73.5h1M8 74.5h1M12 74.5h1M26 74.5h1M36 74.5h1M46 74.5h1M82 74.5h2M8 75.5h1M12 75.5h2M22 75.5h1M38 75.5h2M45 75.5h1M67 75.5h1M71 75.5h1M76 75.5h1M84 75.5h1M27 76.5h1M52 76.5h1M64 76.5h1M84 76.5h1M25 77.5h1M27 77.5h1M29 77.5h2M44 77.5h1M46 77.5h1M50 77.5h2M61 77.5h2M79 77.5h1M89 77.5h1M6 78.5h1M10 78.5h1M35 78.5h1M64 78.5h1M80 78.5h1M85 78.5h1M87 78.5h1M8 79.5h1M24 79.5h1M28 79.5h1M41 79.5h1M48 79.5h2M53 79.5h1M76 79.5h1M84 79.5h1M19 80.5h1M42 80.5h1M46 80.5h1M60 80.5h1M25 81.5h1M28 81.5h1M35 81.5h1M51 81.5h1M66 81.5h1M0 82.5h1M11 82.5h1M13 82.5h1M28 82.5h2M52 82.5h1M58 82.5h1M64 82.5h1M73 82.5h1M77 82.5h2M29 83.5h1M38 83.5h2M54 83.5h1M69 83.5h1M83 83.5h1M4 84.5h1M9 84.5h2M25 84.5h1M39 84.5h1M60 84.5h1M69 84.5h1M87 84.5h1M19 85.5h1M22 85.5h1M25 85.5h1M36 85.5h1M42 85.5h1M52 85.5h1M68 85.5h1M87 85.5h1M8 86.5h1M17 86.5h1M28 86.5h1M51 86.5h1M53 86.5h1M61 86.5h1M66 86.5h1M70 86.5h1M0 87.5h1M11 87.5h2M27 87.5h1M39 87.5h1M53 87.5h1M69 87.5h1M88 87.5h1M6 88.5h2M13 88.5h1M21 88.5h1M24 88.5h1M27 88.5h1M66 88.5h1M18 89.5h1M29 89.5h1M37 89.5h1M40 89.5h1M44 89.5h1M48 89.5h1M59 89.5h1M81 89.5h1M12 90.5h1M16 90.5h1M18 90.5h1M28 90.5h1M31 90.5h1M40 90.5h1M42 90.5h1M47 90.5h1M52 90.5h1M82 90.5h1M6 91.5h1M16 91.5h1M20 91.5h1M22 91.5h4M44 91.5h1M53 91.5h1M63 91.5h1M66 91.5h1M13 92.5h1M23 92.5h1M25 92.5h2M32 92.5h1M54 92.5h1M83 92.5h1M89 92.5h1M7 93.5h1M19 93.5h1M30 93.5h1M36 93.5h1M38 93.5h1M45 93.5h1M53 93.5h1M63 93.5h1M66 93.5h1M68 93.5h1M76 93.5h1M78 93.5h1M12 94.5h1M34 94.5h1M44 94.5h1M49 94.5h1M61 94.5h1M66 94.5h1M69 94.5h1M82 94.5h1M84 94.5h1M86 94.5h1M1 95.5h1M11 95.5h1M20 95.5h1M29 95.5h1M32 95.5h1M37 95.5h1M47 95.5h1M65 95.5h1M67 95.5h1M85 95.5h1M37 96.5h1M45 96.5h1M56 96.5h1M86 96.5h1M27 97.5h1M37 97.5h1M59 97.5h1M75 97.5h1M77 97.5h1M81 97.5h1M84 97.5h2M22 98.5h1M32 98.5h1M40 98.5h1M47 98.5h1M49 98.5h1M52 98.5h1M77 98.5h1M82 98.5h1M84 98.5h1M89 98.5h1M26 99.5h1M38 99.5h1M54 99.5h1M56 99.5h1M64 99.5h2M0 100.5h1M6 100.5h2M17 100.5h1M19 100.5h1M21 100.5h1M23 100.5h1M44 100.5h1M49 100.5h1M56 100.5h1M68 100.5h1M75 100.5h1M78 100.5h1M4 101.5h1M9 101.5h1M26 101.5h2M55 101.5h1M65 101.5h1M83 101.5h1M6 102.5h1M10 102.5h1M57 102.5h1M62 102.5h1M13 103.5h1M27 103.5h1M32 103.5h3M64 103.5h1M66 103.5h1M74 103.5h1M87 103.5h1M16 104.5h1M22 104.5h1M36 104.5h1M56 104.5h1M71 104.5h1M34 105.5h1M46 105.5h2M68 105.5h1M78 105.5h2M0 106.5h1M24 106.5h1M66 106.5h2M76 106.5h2M88 106.5h1M5 107.5h1M23 107.5h1M26 107.5h1M28 107.5h1M33 107.5h1M40 107.5h1M48 107.5h1M60 107.5h1M64 107.5h2M88 107.5h1M12 108.5h1M18 108.5h1M21 108.5h1M33 108.5h1M36 108.5h1M39 108.5h1M45 108.5h1M53 108.5h1M62 108.5h1M65 108.5h1M80 108.5h2M87 108.5h2M16 109.5h1M32 109.5h1M53 109.5h1M81 109.5h1M0 110.5h1M8 110.5h1M27 110.5h1M39 110.5h1M66 110.5h1M68 110.5h1M75 110.5h1M18 111.5h1M29 111.5h1M42 111.5h1M53 111.5h3M10 112.5h1M15 112.5h1M40 112.5h1M45 112.5h1M51 112.5h1M53 112.5h1M58 112.5h1M80 112.5h1M21 113.5h1M23 113.5h1M37 113.5h1M41 113.5h1M67 113.5h1M70 113.5h1M45 114.5h1M21 115.5h1M29 115.5h1M35 115.5h1M53 115.5h1M55 115.5h2M76 115.5h2M80 115.5h1M24 116.5h1M28 116.5h1M30 116.5h1M38 116.5h1M41 116.5h1M45 116.5h2M86 116.5h1M22 117.5h1M41 117.5h1M49 117.5h1M63 117.5h1M69 117.5h1M22 118.5h1M27 118.5h1M45 118.5h1M67 118.5h1M74 118.5h1M6 119.5h1M8 119.5h1M22 119.5h1M25 119.5h1M35 119.5h1M66 119.5h1M82 119.5h1M89 119.5h1M49 120.5h1M56 120.5h1M68 120.5h1M86 120.5h1M21 121.5h1M45 121.5h1M59 121.5h1M69 121.5h1M6 122.5h1M39 122.5h1M41 122.5h1M58 122.5h1M62 122.5h1M88 122.5h1M27 123.5h1M54 123.5h1M67 123.5h1M72 123.5h1M80 123.5h1M25 124.5h1M41 124.5h2M44 124.5h1M48 124.5h1M51 124.5h1M62 124.5h1M66 124.5h1M0 125.5h1M26 125.5h1M28 125.5h1M64 125.5h1M23 126.5h1M27 126.5h1M35 126.5h1M45 126.5h1M47 126.5h2M51 126.5h1M65 126.5h1M76 126.5h1M37 127.5h1M40 127.5h1M44 127.5h1M76 127.5h1M83 127.5h1M87 127.5h1M27 128.5h1M42 128.5h1M53 128.5h1M70 128.5h1M9 129.5h1M13 129.5h1M27 129.5h1M31 129.5h1M35 129.5h1M50 129.5h1M72 129.5h1M29 130.5h1M32 130.5h1M52 130.5h1M66 130.5h4M72 130.5h1M25 131.5h1M52 131.5h1M56 131.5h1M66 131.5h1M77 131.5h2M87 131.5h1M12 132.5h1M17 132.5h1M44 132.5h1M59 132.5h1M67 132.5h1M72 132.5h1M75 132.5h1M82 132.5h1M84 132.5h1M87 132.5h1M39 133.5h1M47 133.5h1M59 133.5h1M76 133.5h1M3 134.5h1M22 134.5h1M43 134.5h1M68 134.5h1M11 135.5h1M18 135.5h1M26 135.5h2M29 135.5h1M59 135.5h1M79 135.5h1M11 136.5h1M22 136.5h1M38 136.5h1M53 136.5h1M71 136.5h1M80 136.5h1M16 137.5h1M28 137.5h1M59 137.5h1M62 137.5h1M74 137.5h2M81 137.5h1M10 138.5h1M16 138.5h1M21 138.5h1M32 138.5h1M34 138.5h1M48 138.5h1M52 138.5h1M75 138.5h1M82 138.5h1M11 139.5h1M15 139.5h1M17 139.5h1M26 139.5h1M30 139.5h1M69 139.5h1M84 139.5h1M8 140.5h2M18 140.5h1M29 140.5h1M34 140.5h1M62 140.5h1M35 141.5h1M38 141.5h1M42 141.5h3M51 141.5h1M82 141.5h1M20 142.5h1M25 142.5h1M30 142.5h1M52 142.5h1M63 142.5h1M77 142.5h1M85 142.5h1M25 143.5h1M28 143.5h1M32 143.5h1M45 143.5h1M56 143.5h1M20 144.5h1M22 144.5h1M38 144.5h1M41 144.5h1M47 144.5h1M65 144.5h1M11 145.5h1M52 145.5h1M2 146.5h1M17 146.5h1M19 146.5h1M39 146.5h1M60 146.5h2M13 147.5h1M20 147.5h1M22 147.5h1M28 147.5h1M32 147.5h1M40 147.5h1M43 147.5h1M48 147.5h1M62 147.5h2M79 147.5h1M85 147.5h1M11 148.5h1M27 148.5h1M34 148.5h1M37 148.5h1M42 148.5h1M68 148.5h1M3 149.5h1M19 149.5h1M21 149.5h1M28 149.5h1M73 149.5h1M85 149.5h1M40 150.5h1M52 150.5h2M64 150.5h1M1 151.5h1M18 151.5h1M23 151.5h1M28 151.5h1M46 151.5h1M69 151.5h1M76 151.5h1M87 151.5h1M0 152.5h1M28 152.5h1M36 152.5h1M46 152.5h1M56 152.5h1M65 152.5h1M85 152.5h1M87 152.5h1M12 153.5h1M40 153.5h1M52 153.5h2M67 153.5h1M75 153.5h1M80 153.5h1M21 154.5h1M25 154.5h1M43 154.5h1M60 154.5h1M83 154.5h1M20 155.5h1M29 155.5h1M39 155.5h1M43 155.5h1M50 155.5h1M52 155.5h1M16 156.5h1M28 156.5h1M33 156.5h1M35 156.5h1M42 156.5h1M52 156.5h2M62 156.5h1M81 156.5h1M85 156.5h1M3 157.5h1M17 157.5h1M28 157.5h1M50 157.5h1M56 157.5h2M81 157.5h1M83 157.5h1M11 158.5h1M14 158.5h1M31 158.5h1M42 158.5h2M53 158.5h1M63 158.5h1M67 158.5h1M75 158.5h1M84 158.5h1M87 158.5h1M0 159.5h1M6 159.5h1M18 159.5h1M59 159.5h1M61 159.5h1M16 160.5h1M30 160.5h1M32 160.5h1M37 160.5h1M63 160.5h1M86 160.5h1M11 161.5h2M26 161.5h3M30 161.5h2M46 161.5h1M55 161.5h1M61 161.5h1M72 161.5h1M80 161.5h1M89 161.5h1M9 162.5h1M21 162.5h1M23 162.5h1M46 162.5h1M57 162.5h1M66 162.5h1M76 162.5h2M84 162.5h1M23 163.5h1M26 163.5h1M33 163.5h1M53 163.5h1M57 163.5h1M60 163.5h1M6 164.5h1M17 164.5h1M21 164.5h1M46 164.5h1M53 164.5h1M67 164.5h1M19 165.5h1M26 165.5h1M30 165.5h1M42 165.5h1M64 165.5h1M72 165.5h1M75 165.5h1M86 165.5h1M2 166.5h1M20 166.5h1M23 166.5h1M29 166.5h1M42 166.5h2M58 166.5h1M65 166.5h1M69 166.5h1M5 167.5h1M10 167.5h1M18 167.5h1M81 167.5h1M35 168.5h1M64 168.5h1M70 168.5h1M0 169.5h1M5 169.5h1M10 169.5h1M19 169.5h1M24 169.5h1M31 169.5h1M65 169.5h1M72 169.5h1M83 169.5h1M89 169.5h1M22 170.5h1M28 170.5h1M31 170.5h1M33 170.5h1M43 170.5h2M46 170.5h1M67 170.5h1M74 170.5h1M12 171.5h1M28 171.5h1M62 171.5h1M65 171.5h1M75 171.5h1M81 171.5h1M3 172.5h1M19 172.5h1M32 172.5h1M53 172.5h1M61 172.5h1M66 172.5h1M70 172.5h1M77 172.5h1M83 172.5h1M12 173.5h1M27 173.5h1M35 173.5h1M53 173.5h1M83 173.5h1M85 173.5h1M19 174.5h1M32 174.5h1M36 174.5h1M49 174.5h1M63 174.5h1M19 175.5h1M32 175.5h1M36 175.5h1M46 175.5h1M48 175.5h1M51 175.5h1M65 175.5h1"/>
<path stroke="#f5e3e3" d="M0 0.5h1M4 0.5h1M16 0.5h1M63 0.5h1M75 0.5h1M16 1.5h1M31 1.5h1M54 1.5h1M56 1.5h1M69 1.5h1M4 2.5h1M8 2.5h1M12 2.5h1M14 2.5h1M57 2.5h2M69 2.5h1M76 2.5h1M80 2.5h1M4 3.5h3M10 3.5h1M15 3.5h1M87 3.5h1M2 4.5h2M9 4.5h1M26 4.5h1M33 4.5h1M38 4.5h1M72 4.5h1M77 4.5h1M85 4.5h1M16 5.5h1M18 5.5h1M20 5.5h1M5 6.5h1M24 6.5h1M27 6.5h1M48 6.5h1M60 6.5h1M57 7.5h1M69 7.5h1M73 7.5h1M80 7.5h1M86 7.5h1M1 8.5h2M6 8.5h1M48 8.5h1M6 9.5h1M9 9.5h1M33 9.5h1M76 9.5h1M3 10.5h1M6 10.5h2M13 10.5h1M17 10.5h1M58 10.5h1M82 10.5h1M2 11.5h1M6 11.5h1M24 11.5h1M34 11.5h2M57 11.5h1M64 11.5h1M68 11.5h1M73 11.5h1M84 11.5h2M2 12.5h1M10 12.5h1M15 12.5h1M24 12.5h1M30 12.5h1M36 12.5h1M51 12.5h1M65 12.5h1M81 12.5h1M83 12.5h1M0 13.5h1M24 13.5h1M67 13.5h1M69 13.5h1M77 13.5h2M11 14.5h1M16 14.5h1M32 14.5h1M76 14.5h1M72 15.5h1M9 16.5h1M13 16.5h1M16 16.5h1M25 16.5h1M35 16.5h1M52 16.5h1M56 16.5h1M82 16.5h1M5 17.5h1M20 17.5h1M25 17.5h1M32 17.5h1M58 17.5h1M66 17.5h1M80 17.5h2M11 18.5h1M16 18.5h1M21 18.5h1M27 18.5h2M32 18.5h1M0 19.5h1M33 19.5h1M73 19.5h1M76 19.5h1M78 19.5h1M28 20.5h1M82 20.5h1M88 20.5h1M16 21.5h1M19 21.5h1M34 21.5h1M3 22.5h2M13 22.5h1M23 22.5h1M27 22.5h2M35 22.5h1M13 23.5h1M26 23.5h1M30 23.5h1M58 23.5h1M72 23.5h1M77 23.5h1M20 24.5h1M77 24.5h1M1 25.5h1M18 25.5h2M35 25.5h1M48 25.5h1M66 25.5h1M77 25.5h1M84 25.5h1M25 26.5h1M27 26.5h1M34 26.5h2M56 26.5h1M24 27.5h1M30 27.5h1M33 27.5h1M89 27.5h1M16 28.5h1M19 28.5h2M77 28.5h1M83 28.5h1M0 29.5h1M11 29.5h1M25 29.5h1M64 29.5h1M86 29.5h2M0 30.5h1M18 30.5h2M78 30.5h1M81 30.5h1M14 31.5h1M19 31.5h1M21 31.5h1M35 31.5h1M35 32.5h1M16 33.5h1M18 33.5h1M21 33.5h1M27 33.5h1M69 33.5h1M83 33.5h1M0 34.5h1M17 34.5h1M19 34.5h1M61 34.5h1M77 34.5h1M85 34.5h1M87 34.5h1M14 35.5h1M20 35.5h1M23 35.5h1M25 35.5h1M35 35.5h1M87 35.5h1M2 36.5h1M12 36.5h1M32 36.5h1M35 36.5h1M56 36.5h1M58 36.5h1M62 36.5h1M7 37.5h2M11 37.5h1M14 37.5h1M23 37.5h1M35 37.5h1M58 37.5h1M6 38.5h1M22 38.5h1M88 38.5h1M60 39.5h1M63 39.5h1M78 39.5h1M2 40.5h2M9 40.5h1M11 40.5h1M20 40.5h2M23 40.5h1M28 40.5h1M30 40.5h1M57 40.5h1M24 41.5h1M47 41.5h1M77 41.5h1M86 41.5h1M3 42.5h1M26 42.5h1M57 42.5h1M62 42.5h1M1 43.5h1M5 43.5h1M44 43.5h1M61 43.5h1M79 43.5h1M83 43.5h1M85 43.5h1M2 44.5h2M8 44.5h1M27 44.5h1M47 44.5h1M60 44.5h1M71 44.5h2M75 44.5h1M82 44.5h1M7 45.5h1M11 45.5h2M18 45.5h1M23 45.5h1M31 45.5h1M33 45.5h1M51 45.5h1M61 45.5h1M25 46.5h1M59 46.5h1M75 46.5h1M77 46.5h1M87 46.5h1M4 47.5h1M25 47.5h1M29 47.5h1M31 47.5h1M60 47.5h1M86 47.5h2M1 48.5h1M17 48.5h1M26 48.5h1M28 48.5h1M57 48.5h1M81 48.5h1M24 49.5h1M29 49.5h1M38 49.5h1M40 49.5h1M72 49.5h1M0 50.5h1M9 50.5h1M29 50.5h1M50 50.5h1M55 50.5h1M77 50.5h1M89 50.5h1M5 51.5h1M14 51.5h1M17 51.5h1M23 51.5h2M30 51.5h1M81 51.5h1M5 52.5h1M13 52.5h1M29 52.5h1M35 52.5h1M37 53.5h1M43 53.5h1M56 53.5h1M4 54.5h1M8 54.5h1M15 54.5h1M17 54.5h2M23 54.5h1M25 54.5h1M45 54.5h1M13 55.5h1M30 55.5h1M79 55.5h1M11 56.5h1M25 56.5h1M32 56.5h1M39 56.5h1M14 57.5h1M44 57.5h1M60 57.5h1M24 58.5h1M39 58.5h1M45 58.5h1M82 58.5h1M28 59.5h1M1 60.5h1M34 60.5h1M36 60.5h1M39 60.5h1M57 60.5h2M65 60.5h1M28 61.5h1M10 62.5h1M13 62.5h1M20 62.5h1M44 62.5h1M60 62.5h1M83 62.5h1M88 62.5h1M29 63.5h1M82 63.5h1M84 63.5h1M23 64.5h1M5 65.5h1M11 65.5h1M23 65.5h1M58 65.5h1M80 65.5h1M82 65.5h1M13 66.5h1M25 66.5h1M29 66.5h1M75 66.5h1M87 66.5h1M14 67.5h1M43 67.5h1M50 67.5h1M57 67.5h1M9 68.5h1M20 68.5h1M26 68.5h1M14 69.5h1M23 69.5h1M41 69.5h1M44 69.5h1M25 70.5h1M34 70.5h2M38 70.5h1M86 70.5h1M3 71.5h1M23 71.5h1M26 71.5h1M14 72.5h1M31 72.5h1M33 72.5h1M81 72.5h1M83 72.5h1M6 73.5h1M11 73.5h1M30 73.5h1M47 73.5h1M69 73.5h1M25 74.5h1M32 74.5h1M47 74.5h1M50 74.5h1M53 74.5h1M55 74.5h1M61 74.5h1M66 74.5h2M69 74.5h1M1 75.5h1M23 75.5h1M34 75.5h1M50 75.5h1M54 75.5h1M75 75.5h1M82 75.5h1M6 76.5h1M35 76.5h2M54 76.5h1M57 76.5h1M72 76.5h1M49 77.5h1M60 77.5h1M84 77.5h1M52 78.5h1M56 78.5h1M69 78.5h1M1 79.5h1M29 79.5h1M38 79.5h1M50 79.5h1M80 79.5h1M86 79.5h1M39 80.5h1M81 80.5h1M83 80.5h1M86 80.5h1M3 81.5h1M36 81.5h1M56 81.5h1M61 81.5h1M63 81.5h1M85 81.5h1M87 81.5h1M16 82.5h2M30 82.5h1M46 82.5h1M80 82.5h1M3 83.5h1M32 83.5h1M43 83.5h1M49 83.5h1M57 83.5h1M61 83.5h1M65 83.5h1M80 83.5h1M86 83.5h1M6 84.5h1M16 84.5h1M38 84.5h1M44 84.5h2M61 84.5h1M78 84.5h1M18 85.5h1M35 85.5h1M54 85.5h1M61 85.5h1M2 86.5h1M32 86.5h1M40 86.5h1M50 86.5h1M64 86.5h2M78 86.5h1M83 86.5h1M85 86.5h1M21 87.5h1M54 87.5h2M75 87.5h1M79 87.5h1M8 88.5h1M17 88.5h1M20 88.5h1M30 88.5h1M33 88.5h1M42 88.5h1M47 88.5h1M54 88.5h1M19 89.5h1M39 89.5h1M54 89.5h2M66 89.5h2M78 89.5h2M86 89.5h2M8 90.5h1M15 90.5h1M27 90.5h1M58 90.5h1M88 90.5h1M27 91.5h1M29 91.5h1M42 91.5h1M59 91.5h1M69 91.5h1M10 92.5h1M40 92.5h1M49 92.5h1M59 92.5h1M64 92.5h2M72 92.5h1M80 92.5h1M84 92.5h1M26 93.5h1M43 93.5h1M48 93.5h1M51 93.5h1M65 93.5h1M86 93.5h1M11 94.5h1M25 94.5h1M28 94.5h1M40 94.5h1M60 94.5h1M83 94.5h1M87 94.5h1M12 95.5h1M30 95.5h1M33 95.5h1M40 95.5h1M61 95.5h2M76 95.5h1M83 95.5h1M87 95.5h1M27 96.5h1M44 96.5h1M47 96.5h1M57 96.5h1M69 96.5h1M15 97.5h1M18 97.5h1M28 97.5h1M41 97.5h2M50 97.5h1M66 97.5h1M72 97.5h1M87 97.5h1M89 97.5h1M55 98.5h1M65 98.5h1M20 99.5h1M55 99.5h1M77 99.5h1M86 99.5h1M89 99.5h1M32 100.5h1M45 100.5h1M62 100.5h1M31 101.5h1M45 101.5h1M57 101.5h1M64 101.5h1M69 101.5h2M79 101.5h1M28 102.5h2M41 102.5h1M66 102.5h1M78 102.5h1M10 103.5h1M22 103.5h2M37 103.5h2M67 103.5h2M88 103.5h1M26 104.5h1M42 104.5h1M44 104.5h1M48 104.5h1M67 104.5h2M84 104.5h1M88 104.5h1M4 105.5h1M25 105.5h2M36 105.5h1M44 105.5h1M54 105.5h1M83 105.5h2M39 106.5h1M56 106.5h1M69 106.5h1M22 107.5h1M24 107.5h1M37 107.5h1M41 107.5h1M45 107.5h1M47 107.5h1M56 107.5h1M67 107.5h1M73 107.5h1M77 107.5h1M87 107.5h1M9 108.5h1M27 108.5h1M29 108.5h1M37 108.5h1M48 108.5h1M50 108.5h1M63 108.5h1M7 109.5h1M11 109.5h1M29 109.5h1M41 109.5h1M49 109.5h1M83 109.5h1M11 110.5h1M17 110.5h1M37 110.5h1M40 110.5h1M53 110.5h1M5 111.5h1M39 111.5h1M41 111.5h1M72 111.5h2M77 111.5h1M80 111.5h1M23 112.5h1M27 112.5h1M64 112.5h1M78 112.5h1M87 112.5h1M16 113.5h1M32 113.5h1M34 113.5h1M59 113.5h1M76 113.5h1M8 114.5h2M11 114.5h1M15 114.5h1M44 114.5h1M50 114.5h1M77 114.5h1M31 115.5h1M69 115.5h1M72 115.5h1M83 115.5h1M36 116.5h1M39 116.5h1M53 116.5h1M68 116.5h1M87 116.5h1M48 117.5h1M50 117.5h1M89 117.5h1M9 118.5h1M16 118.5h1M23 118.5h1M29 118.5h1M31 118.5h1M33 118.5h1M39 118.5h1M42 118.5h1M63 118.5h1M65 118.5h1M68 118.5h2M77 118.5h1M82 118.5h1M89 118.5h1M2 119.5h1M12 119.5h1M27 119.5h1M32 119.5h1M36 119.5h1M56 119.5h1M83 119.5h2M8 120.5h1M17 120.5h1M26 120.5h1M43 120.5h1M47 120.5h1M80 120.5h1M25 121.5h1M43 121.5h1M54 121.5h1M70 121.5h1M85 121.5h1M9 122.5h1M19 122.5h1M28 122.5h1M53 122.5h2M75 122.5h1M25 123.5h1M35 123.5h1M37 123.5h1M66 123.5h1M29 124.5h1M53 124.5h1M60 124.5h2M64 124.5h2M21 125.5h1M31 125.5h1M58 125.5h1M60 125.5h1M82 125.5h1M37 126.5h2M52 126.5h1M6 127.5h1M32 127.5h1M46 127.5h1M52 127.5h1M54 127.5h1M11 128.5h1M43 128.5h1M60 128.5h1M65 128.5h1M69 128.5h1M78 128.5h1M22 129.5h2M30 129.5h1M68 129.5h1M14 130.5h1M31 130.5h1M51 130.5h1M56 130.5h1M78 130.5h1M85 130.5h1M16 131.5h1M32 131.5h1M47 131.5h1M55 131.5h1M63 131.5h1M76 131.5h1M84 131.5h1M31 132.5h1M34 132.5h1M36 132.5h1M41 132.5h1M55 132.5h1M61 132.5h1M65 132.5h1M80 132.5h1M37 133.5h1M53 133.5h3M57 133.5h1M64 133.5h1M69 133.5h1M0 134.5h1M24 134.5h2M70 134.5h2M74 134.5h1M86 134.5h1M35 135.5h1M47 135.5h1M60 135.5h1M74 135.5h1M46 136.5h1M51 136.5h1M15 137.5h1M41 137.5h1M49 137.5h2M63 137.5h1M89 137.5h1M36 138.5h1M43 138.5h1M46 138.5h1M57 138.5h1M63 138.5h1M0 139.5h1M36 139.5h1M41 139.5h1M48 139.5h1M62 139.5h1M66 139.5h1M77 139.5h1M89 139.5h1M16 140.5h1M49 140.5h1M51 140.5h1M64 140.5h1M67 140.5h1M72 140.5h1M85 140.5h2M88 140.5h1M6 141.5h1M52 141.5h1M63 141.5h1M14 142.5h1M19 142.5h1M26 142.5h1M29 142.5h1M33 142.5h2M40 142.5h2M54 142.5h1M57 142.5h1M64 142.5h1M81 142.5h1M19 143.5h1M49 143.5h1M55 143.5h1M25 144.5h1M30 144.5h1M40 144.5h1M42 144.5h1M54 144.5h1M82 144.5h1M86 144.5h1M34 145.5h1M37 145.5h1M42 145.5h1M68 145.5h1M77 145.5h1M4 146.5h1M24 146.5h1M32 146.5h1M41 146.5h1M63 146.5h1M66 146.5h1M75 146.5h1M85 146.5h1M27 147.5h1M38 147.5h1M84 147.5h1M89 147.5h1M21 148.5h1M43 148.5h1M50 148.5h1M52 148.5h2M60 148.5h1M78 148.5h1M9 149.5h1M33 149.5h1M35 149.5h1M39 149.5h1M44 149.5h1M48 149.5h1M59 149.5h2M77 149.5h1M43 150.5h1M58 150.5h1M62 150.5h1M69 150.5h1M0 151.5h1M15 151.5h2M20 151.5h1M35 151.5h1M84 151.5h1M89 151.5h1M26 152.5h1M40 152.5h3M45 152.5h1M68 152.5h1M70 152.5h1M77 152.5h2M89 152.5h1M5 153.5h1M57 153.5h2M62 153.5h1M81 153.5h1M5 154.5h1M38 154.5h1M42 154.5h1M44 154.5h1M50 154.5h1M65 154.5h1M82 154.5h1M58 155.5h1M69 155.5h2M72 155.5h1M81 155.5h1M0 156.5h1M26 156.5h1M39 156.5h1M47 156.5h2M50 156.5h1M75 156.5h1M4 157.5h1M13 157.5h1M39 157.5h1M46 157.5h1M51 157.5h2M0 158.5h1M16 158.5h2M35 158.5h1M41 158.5h1M72 158.5h1M82 158.5h1M21 159.5h1M47 159.5h1M54 159.5h2M60 159.5h1M65 159.5h1M22 160.5h1M42 160.5h1M48 160.5h1M84 160.5h1M23 161.5h1M88 161.5h1M12 162.5h1M15 162.5h1M34 162.5h1M38 162.5h1M58 162.5h1M62 162.5h1M5 163.5h1M8 163.5h1M22 163.5h1M42 163.5h1M55 163.5h1M12 164.5h1M33 164.5h1M40 164.5h1M44 164.5h1M49 164.5h1M65 164.5h1M68 164.5h3M77 164.5h1M0 165.5h1M28 165.5h1M43 165.5h1M56 165.5h1M63 165.5h1M15 166.5h1M18 166.5h2M33 166.5h1M44 166.5h1M51 166.5h1M85 166.5h1M0 167.5h1M12 167.5h1M26 167.5h1M42 167.5h1M60 167.5h2M14 168.5h1M16 168.5h1M19 168.5h1M38 168.5h1M40 168.5h1M43 168.5h1M56 168.5h1M66 168.5h1M88 168.5h1M18 169.5h1M25 169.5h1M32 169.5h1M37 169.5h1M60 169.5h1M67 169.5h1M76 169.5h1M3 170.5h1M72 170.5h1M9 171.5h1M20 171.5h1M37 171.5h1M68 171.5h1M12 172.5h1M22 172.5h2M36 172.5h1M40 172.5h1M43 172.5h1M51 172.5h1M56 172.5h1M58 172.5h1M65 172.5h1M84 172.5h1M2 173.5h1M4 173.5h1M7 173.5h1M9 173.5h1M30 173.5h1M32 173.5h3M36 173.5h1M41 173.5h1M45 173.5h1M87 173.5h1M9 174.5h1M15 174.5h1M39 174.5h1M56 174.5h1M62 175.5h1M68 175.5h1"/>
<path stroke="#f2dada" d="M3 0.5h1M12 0.5h1M20 0.5h1M22 0.5h1M31 0.5h1M56 0.5h1M82 0.5h1M1 1.5h1M3 1.5h1M7 1.5h1M25 1.5h1M27 1.5h1M62 1.5h1M81 1.5h1M6 2.5h1M9 2.5h1M29 2.5h1M33 2.5h1M70 2.5h1M18 3.5h1M20 3.5h2M84 3.5h1M4 4.5h1M6 4.5h1M10 4.5h1M15 4.5h1M25 4.5h1M1 5.5h1M8 5.5h1M22 5.5h1M25 5.5h1M32 5.5h1M6 6.5h1M16 6.5h1M20 6.5h1M72 6.5h1M87 6.5h1M30 7.5h1M72 7.5h1M82 7.5h1M87 7.5h1M8 8.5h1M12 8.5h1M18 8.5h1M22 8.5h1M32 8.5h2M56 8.5h1M80 8.5h1M84 8.5h1M86 8.5h1M7 9.5h2M15 9.5h1M19 9.5h1M30 9.5h1M34 9.5h1M65 9.5h1M1 10.5h1M4 10.5h1M16 10.5h1M18 10.5h1M20 10.5h1M65 10.5h1M88 10.5h1M13 11.5h1M18 11.5h2M48 11.5h1M75 11.5h1M77 11.5h1M83 11.5h1M48 12.5h1M6 13.5h2M13 13.5h1M27 13.5h1M31 13.5h1M65 13.5h1M76 13.5h1M2 14.5h1M18 14.5h1M23 14.5h1M10 15.5h1M13 15.5h1M15 15.5h1M17 15.5h1M20 15.5h1M30 15.5h1M81 15.5h1M85 15.5h1M2 16.5h1M10 16.5h1M20 16.5h1M32 16.5h1M9 17.5h1M19 17.5h1M31 17.5h1M15 18.5h1M18 18.5h1M77 18.5h1M4 19.5h1M18 19.5h1M25 19.5h1M64 19.5h1M9 20.5h1M0 21.5h1M4 21.5h1M14 21.5h1M23 21.5h1M25 21.5h1M28 21.5h1M55 21.5h1M8 22.5h1M10 22.5h1M77 22.5h1M88 22.5h1M2 23.5h1M31 23.5h1M76 23.5h1M80 23.5h1M25 24.5h1M71 24.5h1M6 25.5h1M24 25.5h1M26 25.5h1M32 25.5h1M47 25.5h1M85 25.5h1M89 25.5h1M16 26.5h1M19 26.5h2M14 27.5h1M2 28.5h1M11 28.5h1M17 28.5h1M27 28.5h1M29 28.5h1M75 28.5h1M34 29.5h1M72 29.5h1M12 30.5h1M17 30.5h1M35 30.5h1M27 31.5h1M29 31.5h1M31 31.5h1M76 31.5h1M87 31.5h1M12 32.5h1M29 32.5h1M56 32.5h1M71 32.5h1M84 32.5h1M89 32.5h1M22 33.5h1M26 33.5h1M28 33.5h1M35 33.5h1M89 33.5h1M10 34.5h1M14 34.5h1M24 34.5h1M31 34.5h1M45 34.5h1M49 34.5h1M71 34.5h1M89 34.5h1M3 35.5h1M0 36.5h1M5 36.5h1M16 36.5h1M18 36.5h1M10 37.5h1M24 37.5h1M26 37.5h1M57 37.5h1M68 37.5h1M70 37.5h1M87 37.5h1M89 37.5h1M9 38.5h1M12 38.5h1M26 38.5h1M61 38.5h1M2 39.5h1M14 39.5h1M21 39.5h1M29 39.5h1M38 39.5h1M72 39.5h1M81 39.5h1M56 40.5h1M81 40.5h1M11 41.5h2M31 41.5h1M76 41.5h1M80 41.5h1M8 42.5h3M17 42.5h1M39 42.5h1M79 42.5h1M81 42.5h1M10 43.5h1M48 43.5h1M57 43.5h1M80 43.5h1M1 44.5h1M5 44.5h1M16 44.5h1M32 44.5h1M34 44.5h1M80 44.5h1M16 45.5h1M34 45.5h1M13 46.5h1M22 46.5h1M28 46.5h1M88 46.5h1M10 47.5h1M16 47.5h1M35 47.5h1M38 47.5h1M65 47.5h1M25 48.5h1M62 48.5h1M75 48.5h1M7 49.5h1M31 49.5h1M49 49.5h1M59 49.5h1M81 49.5h1M1 50.5h1M8 50.5h1M22 50.5h1M42 50.5h1M63 50.5h1M72 50.5h1M81 50.5h1M8 51.5h1M58 51.5h1M26 52.5h1M32 52.5h2M86 52.5h1M15 53.5h1M17 53.5h1M62 53.5h1M2 54.5h1M61 54.5h1M51 55.5h1M60 55.5h2M64 55.5h1M72 55.5h1M2 56.5h1M10 56.5h1M18 56.5h1M78 56.5h1M85 56.5h1M16 57.5h1M22 57.5h2M28 57.5h1M43 58.5h1M89 58.5h1M0 59.5h1M6 59.5h1M72 59.5h1M88 59.5h1M3 60.5h1M14 60.5h1M72 60.5h1M76 60.5h1M82 60.5h1M89 60.5h1M35 61.5h1M59 61.5h1M7 62.5h1M14 62.5h1M28 62.5h2M37 62.5h1M76 62.5h1M13 63.5h2M1 64.5h1M13 64.5h2M24 64.5h1M26 64.5h1M44 64.5h1M76 64.5h1M83 64.5h1M3 65.5h1M10 65.5h1M12 65.5h1M28 65.5h1M5 66.5h1M8 66.5h1M22 66.5h1M80 66.5h1M83 66.5h1M21 67.5h2M64 67.5h1M86 67.5h1M88 67.5h1M0 68.5h1M12 68.5h1M22 68.5h1M25 68.5h1M28 68.5h1M89 68.5h1M0 69.5h1M59 69.5h1M0 70.5h2M4 70.5h1M15 70.5h1M48 70.5h1M58 70.5h1M0 71.5h2M4 71.5h1M10 71.5h1M12 71.5h1M71 71.5h1M2 72.5h1M6 72.5h1M23 72.5h1M49 72.5h1M45 73.5h1M49 73.5h1M58 73.5h1M66 73.5h1M49 74.5h1M52 74.5h1M54 74.5h1M78 74.5h1M87 74.5h1M89 74.5h1M6 75.5h1M40 75.5h1M44 75.5h1M65 75.5h1M79 75.5h1M29 76.5h1M48 76.5h1M78 76.5h1M56 77.5h1M66 77.5h1M78 77.5h1M87 77.5h1M42 78.5h1M49 78.5h1M65 78.5h1M25 79.5h1M32 79.5h1M42 79.5h1M61 79.5h1M66 79.5h1M88 79.5h1M29 80.5h1M54 80.5h1M68 80.5h2M87 80.5h2M72 81.5h1M77 81.5h1M86 81.5h1M21 82.5h1M27 82.5h1M86 82.5h1M26 83.5h1M28 83.5h1M41 83.5h1M64 83.5h1M68 83.5h1M2 84.5h1M29 84.5h1M68 84.5h1M84 84.5h1M23 85.5h1M28 85.5h2M39 85.5h1M44 85.5h1M48 85.5h1M51 85.5h1M53 85.5h1M56 85.5h1M62 85.5h1M67 85.5h1M80 85.5h1M45 86.5h1M68 86.5h1M84 86.5h1M89 86.5h1M61 87.5h1M70 87.5h1M23 88.5h1M29 88.5h1M37 88.5h1M40 88.5h1M49 88.5h1M70 88.5h1M72 88.5h1M89 88.5h1M23 89.5h1M57 89.5h2M5 90.5h1M32 90.5h1M46 90.5h1M50 90.5h1M63 90.5h2M38 91.5h1M56 91.5h1M71 91.5h1M85 91.5h1M89 91.5h1M47 92.5h1M57 92.5h1M61 92.5h1M87 92.5h1M0 93.5h1M25 93.5h1M82 93.5h1M88 93.5h1M15 94.5h1M38 94.5h2M54 94.5h1M19 95.5h1M26 95.5h1M42 95.5h1M52 95.5h1M57 95.5h1M63 95.5h1M79 95.5h1M84 95.5h1M88 95.5h1M59 96.5h1M70 96.5h1M80 96.5h1M85 96.5h1M16 97.5h1M45 97.5h1M64 97.5h1M80 97.5h1M29 98.5h1M50 98.5h1M54 98.5h1M80 98.5h1M83 98.5h1M29 99.5h1M41 99.5h1M48 99.5h1M58 99.5h1M69 99.5h1M87 99.5h1M39 100.5h1M54 100.5h1M65 100.5h1M82 100.5h1M60 101.5h1M62 101.5h1M4 102.5h1M35 102.5h1M51 102.5h1M53 102.5h1M58 102.5h1M60 102.5h2M64 102.5h1M70 102.5h1M80 102.5h1M83 102.5h1M44 103.5h1M65 103.5h1M84 103.5h1M4 104.5h1M19 104.5h1M41 104.5h1M53 104.5h2M70 104.5h1M86 104.5h1M16 105.5h1M32 105.5h1M38 105.5h1M48 105.5h1M66 105.5h1M88 105.5h1M6 106.5h1M22 106.5h1M35 106.5h1M45 106.5h1M49 106.5h1M65 106.5h1M73 106.5h1M80 106.5h1M82 106.5h1M43 107.5h2M68 107.5h1M79 107.5h1M82 107.5h1M86 107.5h1M41 108.5h1M56 108.5h1M58 108.5h1M69 108.5h2M19 109.5h1M38 109.5h1M44 109.5h1M57 109.5h1M63 109.5h1M78 109.5h1M80 109.5h1M30 110.5h1M52 110.5h1M81 110.5h1M83 110.5h1M87 110.5h1M0 111.5h1M12 111.5h2M36 111.5h1M38 111.5h1M44 111.5h1M50 111.5h1M52 111.5h1M57 111.5h1M62 111.5h1M66 111.5h1M69 111.5h1M71 111.5h1M9 112.5h1M35 112.5h2M52 112.5h1M63 112.5h1M65 112.5h1M83 112.5h1M61 113.5h1M66 113.5h1M86 113.5h1M0 114.5h1M37 114.5h1M47 114.5h1M54 114.5h1M63 114.5h1M80 114.5h1M86 114.5h1M23 115.5h1M32 115.5h1M47 115.5h1M59 115.5h1M84 115.5h1M27 116.5h1M29 116.5h1M40 116.5h1M43 116.5h1M48 116.5h1M52 116.5h1M64 116.5h1M80 116.5h1M15 117.5h1M25 117.5h1M37 117.5h1M54 117.5h2M62 117.5h1M65 117.5h1M51 118.5h2M5 119.5h1M33 119.5h1M53 119.5h1M61 119.5h1M79 119.5h1M81 119.5h1M88 119.5h1M44 120.5h1M46 120.5h1M48 120.5h1M66 120.5h1M55 121.5h1M65 121.5h1M87 121.5h1M47 122.5h2M52 122.5h1M49 123.5h1M56 123.5h2M60 123.5h1M63 123.5h1M76 123.5h1M89 123.5h1M22 124.5h1M55 124.5h1M67 124.5h1M11 125.5h2M17 125.5h1M23 125.5h1M41 125.5h1M43 125.5h1M46 125.5h1M61 125.5h1M67 125.5h1M69 125.5h1M40 126.5h1M44 126.5h1M49 126.5h2M26 127.5h1M43 127.5h1M34 128.5h1M45 128.5h2M49 128.5h1M55 128.5h2M24 129.5h1M36 129.5h1M43 129.5h1M49 129.5h1M82 129.5h1M85 129.5h1M0 130.5h1M2 130.5h1M10 130.5h1M23 130.5h1M2 131.5h1M31 131.5h1M33 131.5h1M37 131.5h1M44 131.5h3M57 131.5h1M64 131.5h1M71 131.5h1M86 131.5h1M47 132.5h1M67 133.5h1M35 134.5h1M41 134.5h1M82 134.5h1M85 134.5h1M88 134.5h2M12 135.5h1M19 135.5h1M42 135.5h1M48 135.5h2M65 135.5h1M25 136.5h1M28 136.5h1M40 136.5h1M47 136.5h1M60 136.5h2M81 136.5h1M13 137.5h1M26 137.5h2M29 137.5h1M37 137.5h1M39 137.5h1M46 137.5h1M51 137.5h1M58 137.5h1M25 138.5h1M50 138.5h1M81 138.5h1M23 139.5h1M40 139.5h1M46 139.5h1M54 139.5h2M58 139.5h1M26 140.5h1M48 140.5h1M50 140.5h1M59 140.5h1M89 140.5h1M27 141.5h1M33 141.5h1M45 141.5h1M50 141.5h1M54 141.5h1M57 141.5h1M65 141.5h1M69 141.5h1M48 142.5h2M55 142.5h1M58 142.5h1M62 142.5h1M72 142.5h1M29 143.5h1M31 143.5h1M36 143.5h1M78 143.5h1M16 144.5h1M35 144.5h1M39 144.5h1M45 144.5h1M51 144.5h1M53 144.5h1M57 144.5h1M39 145.5h1M58 145.5h1M71 145.5h1M16 146.5h1M25 146.5h1M42 146.5h1M64 146.5h1M79 146.5h2M15 147.5h1M23 147.5h1M44 147.5h2M50 147.5h1M52 147.5h1M80 147.5h1M82 147.5h1M12 148.5h1M61 148.5h1M64 148.5h2M2 149.5h1M8 149.5h1M16 149.5h1M25 149.5h1M54 149.5h1M61 149.5h1M64 149.5h1M0 150.5h1M27 150.5h1M35 150.5h1M46 150.5h2M50 150.5h1M57 150.5h1M60 150.5h1M81 150.5h1M25 151.5h1M47 151.5h1M49 151.5h1M52 151.5h1M52 152.5h1M58 152.5h3M76 152.5h1M20 153.5h1M25 153.5h1M43 153.5h1M50 153.5h1M64 153.5h2M53 154.5h2M66 154.5h1M38 155.5h1M48 155.5h1M51 155.5h1M53 155.5h1M56 155.5h1M63 155.5h1M45 156.5h1M51 156.5h1M61 156.5h1M70 156.5h1M87 156.5h1M32 157.5h1M42 157.5h1M48 157.5h1M58 157.5h1M86 157.5h2M22 158.5h1M32 158.5h1M34 158.5h1M48 158.5h1M60 158.5h1M69 158.5h2M86 158.5h1M89 158.5h1M17 159.5h1M19 159.5h1M36 159.5h1M43 159.5h2M46 159.5h1M57 159.5h1M83 159.5h1M0 160.5h1M28 160.5h2M36 160.5h1M45 160.5h1M47 160.5h1M50 160.5h1M64 160.5h1M68 160.5h1M9 161.5h1M13 162.5h1M30 162.5h2M40 162.5h1M82 162.5h1M85 162.5h2M47 163.5h1M50 163.5h1M64 163.5h1M19 164.5h1M42 164.5h1M48 164.5h1M50 164.5h1M76 164.5h1M81 164.5h1M88 164.5h1M23 165.5h1M50 165.5h1M58 165.5h1M69 165.5h1M82 165.5h1M7 166.5h1M21 166.5h1M28 166.5h1M49 166.5h1M52 166.5h2M56 166.5h1M43 167.5h1M45 167.5h1M50 167.5h1M53 167.5h1M62 167.5h2M71 167.5h2M0 168.5h1M10 168.5h1M23 168.5h1M36 168.5h2M45 168.5h1M55 168.5h1M61 168.5h1M79 168.5h1M43 169.5h1M46 169.5h1M49 169.5h1M53 169.5h1M58 169.5h1M77 169.5h1M86 169.5h1M1 170.5h1M37 170.5h2M51 170.5h1M58 170.5h1M64 170.5h1M73 170.5h1M24 171.5h1M36 171.5h1M44 171.5h1M60 171.5h1M78 171.5h1M37 172.5h2M60 172.5h1M89 172.5h1M11 173.5h1M16 173.5h1M40 173.5h1M65 174.5h1M80 174.5h1M0 175.5h1M39 175.5h1M61 175.5h1M69 175.5h1"/>
<path stroke="#efd1d1" d="M19 0.5h1M72 0.5h2M0 1.5h1M13 1.5h1M20 1.5h1M24 1.5h1M33 1.5h1M86 1.5h1M88 1.5h1M5 2.5h1M25 2.5h1M27 2.5h1M33 3.5h1M19 4.5h2M35 4.5h1M34 5.5h1M1 6.5h1M7 6.5h1M18 6.5h1M23 6.5h1M25 6.5h1M7 7.5h1M20 7.5h1M31 7.5h1M79 7.5h1M88 7.5h1M15 8.5h1M24 8.5h1M87 8.5h1M0 9.5h1M18 9.5h1M24 9.5h1M85 9.5h1M22 10.5h1M31 10.5h1M49 10.5h1M81 10.5h1M4 11.5h1M79 11.5h1M7 12.5h1M18 12.5h2M62 12.5h1M73 12.5h1M79 12.5h1M85 12.5h1M11 13.5h1M52 13.5h1M89 13.5h1M4 14.5h1M28 14.5h1M89 14.5h1M8 15.5h1M11 15.5h1M22 15.5h1M25 15.5h1M31 15.5h1M58 15.5h1M60 15.5h1M80 15.5h1M0 16.5h1M15 16.5h1M22 16.5h1M76 16.5h1M13 17.5h1M23 17.5h1M30 17.5h1M35 17.5h1M14 18.5h1M15 19.5h2M21 19.5h1M86 19.5h1M12 20.5h1M20 20.5h1M23 20.5h1M76 20.5h1M15 21.5h1M20 21.5h2M67 21.5h1M1 23.5h1M16 23.5h1M88 23.5h1M17 24.5h1M34 24.5h1M58 24.5h1M55 25.5h1M58 25.5h1M29 26.5h1M0 27.5h1M23 27.5h1M28 27.5h1M75 27.5h1M0 28.5h1M10 28.5h1M71 28.5h1M81 28.5h1M24 29.5h1M26 29.5h1M31 29.5h1M60 29.5h1M9 30.5h1M20 30.5h1M13 31.5h1M25 31.5h1M32 31.5h1M64 31.5h1M75 31.5h1M80 31.5h1M18 32.5h1M32 32.5h1M0 33.5h1M58 33.5h1M13 34.5h1M27 34.5h1M33 34.5h1M81 34.5h1M83 34.5h1M24 35.5h1M76 35.5h1M88 35.5h1M75 36.5h1M82 36.5h1M0 37.5h1M4 37.5h1M12 37.5h1M21 37.5h1M66 37.5h1M77 37.5h1M4 38.5h1M8 38.5h1M19 38.5h1M60 38.5h1M77 38.5h1M17 39.5h1M32 39.5h1M65 39.5h1M82 39.5h1M84 39.5h1M0 40.5h2M18 40.5h1M72 40.5h1M9 41.5h1M16 41.5h1M23 41.5h1M25 41.5h1M35 41.5h1M7 42.5h1M16 42.5h1M76 42.5h1M84 42.5h1M86 42.5h1M0 43.5h1M2 43.5h1M9 43.5h1M35 43.5h1M72 43.5h1M0 44.5h1M26 44.5h1M38 44.5h1M84 44.5h1M2 45.5h1M10 45.5h1M5 46.5h1M9 46.5h1M21 46.5h1M35 46.5h1M0 47.5h1M11 47.5h1M54 47.5h1M0 48.5h1M7 48.5h1M20 48.5h1M22 48.5h1M60 48.5h1M6 49.5h1M11 49.5h1M84 50.5h2M15 51.5h1M34 51.5h1M1 52.5h2M7 52.5h1M12 52.5h1M31 52.5h1M34 52.5h1M78 52.5h1M87 52.5h1M2 53.5h1M5 53.5h1M21 53.5h1M25 53.5h1M30 53.5h1M34 53.5h2M38 53.5h1M44 53.5h1M77 53.5h1M0 54.5h1M10 54.5h1M58 54.5h1M11 55.5h1M26 55.5h2M89 55.5h1M4 56.5h1M8 56.5h1M13 56.5h1M31 56.5h1M34 56.5h1M62 56.5h1M76 56.5h1M17 57.5h1M85 57.5h2M15 58.5h1M26 58.5h1M33 58.5h1M35 58.5h1M38 58.5h1M78 58.5h1M2 59.5h1M7 59.5h1M11 59.5h3M16 59.5h1M59 59.5h1M6 60.5h1M18 60.5h1M62 60.5h1M84 60.5h3M1 61.5h4M11 61.5h1M20 61.5h1M42 61.5h1M44 61.5h1M58 61.5h1M78 61.5h1M85 61.5h1M23 62.5h1M27 62.5h1M81 62.5h1M1 63.5h1M6 63.5h1M12 63.5h1M18 63.5h1M35 63.5h1M76 63.5h1M80 63.5h1M8 64.5h1M22 64.5h1M7 65.5h1M14 65.5h1M22 65.5h1M26 65.5h1M19 66.5h1M26 66.5h1M33 66.5h1M53 66.5h1M0 67.5h1M2 67.5h1M7 67.5h1M24 67.5h1M29 67.5h1M15 68.5h2M9 69.5h1M29 69.5h1M35 69.5h1M9 70.5h1M14 70.5h1M32 70.5h1M80 70.5h1M85 70.5h1M8 72.5h1M20 72.5h1M30 72.5h1M34 72.5h1M41 73.5h1M53 73.5h1M55 73.5h1M86 73.5h2M35 74.5h1M64 74.5h1M4 75.5h1M61 75.5h1M83 75.5h1M89 75.5h1M58 76.5h1M89 76.5h1M82 77.5h1M21 78.5h1M29 78.5h1M43 79.5h1M46 79.5h2M64 79.5h1M83 79.5h1M38 80.5h1M48 80.5h1M82 80.5h1M85 80.5h1M41 81.5h1M50 81.5h1M81 81.5h1M2 82.5h1M20 82.5h1M38 82.5h1M44 82.5h1M63 82.5h1M69 82.5h1M0 83.5h1M58 83.5h1M63 83.5h1M70 83.5h1M78 83.5h1M23 84.5h1M28 84.5h1M57 84.5h1M72 84.5h1M79 84.5h1M83 84.5h1M89 84.5h1M64 85.5h1M0 86.5h1M5 86.5h1M44 86.5h1M49 86.5h1M55 86.5h2M88 86.5h1M9 87.5h1M48 87.5h1M82 87.5h1M89 87.5h1M22 88.5h1M35 88.5h1M39 88.5h1M41 88.5h1M48 88.5h1M59 88.5h1M63 88.5h1M69 88.5h1M88 88.5h1M33 89.5h1M51 89.5h3M21 90.5h1M43 90.5h1M51 90.5h1M67 90.5h2M76 90.5h1M86 90.5h2M28 91.5h1M52 91.5h1M57 91.5h1M60 91.5h1M64 91.5h1M83 91.5h1M87 91.5h2M30 92.5h1M51 92.5h1M53 92.5h1M85 92.5h1M20 93.5h1M29 93.5h1M44 93.5h1M83 93.5h2M53 94.5h1M70 94.5h1M85 94.5h1M15 95.5h1M48 95.5h1M53 95.5h1M59 95.5h1M66 95.5h1M78 95.5h1M54 96.5h1M58 96.5h1M76 96.5h1M49 97.5h1M52 97.5h1M54 97.5h1M38 98.5h1M59 98.5h1M61 98.5h1M64 98.5h1M66 98.5h1M85 98.5h1M49 99.5h1M57 99.5h1M61 99.5h1M47 100.5h2M80 100.5h1M88 100.5h1M19 101.5h1M37 101.5h1M42 101.5h1M56 101.5h1M58 101.5h1M61 101.5h1M66 101.5h1M87 101.5h1M16 102.5h1M30 102.5h1M63 102.5h1M67 102.5h1M41 103.5h1M61 103.5h1M78 103.5h1M15 104.5h1M21 104.5h1M38 104.5h2M61 104.5h1M65 104.5h1M69 104.5h1M51 105.5h1M76 105.5h1M43 106.5h1M46 106.5h1M57 106.5h1M19 107.5h2M52 107.5h1M55 107.5h1M78 107.5h1M89 107.5h1M28 108.5h1M38 108.5h1M55 108.5h1M57 108.5h1M78 108.5h1M86 108.5h1M35 109.5h1M43 109.5h1M51 109.5h1M55 109.5h1M87 109.5h1M29 110.5h1M32 110.5h1M41 110.5h1M63 110.5h1M69 110.5h1M79 110.5h1M86 110.5h1M40 111.5h1M48 111.5h1M51 111.5h1M68 111.5h1M78 111.5h1M82 111.5h1M2 112.5h1M31 112.5h1M48 112.5h1M70 112.5h1M22 113.5h1M33 113.5h1M45 113.5h1M69 113.5h1M83 113.5h1M55 114.5h1M65 114.5h1M79 114.5h1M48 115.5h1M65 115.5h2M73 115.5h1M89 115.5h1M0 116.5h1M16 116.5h1M47 116.5h1M55 116.5h1M69 116.5h2M81 116.5h1M11 117.5h1M85 117.5h1M88 117.5h1M12 118.5h1M34 118.5h2M40 118.5h1M46 118.5h1M49 118.5h2M60 118.5h1M80 118.5h1M86 118.5h1M15 119.5h1M39 119.5h1M59 119.5h1M22 120.5h1M63 120.5h1M76 120.5h1M23 121.5h1M51 121.5h1M84 121.5h1M25 122.5h1M40 122.5h1M46 122.5h1M61 122.5h1M63 122.5h1M50 123.5h1M62 123.5h1M65 123.5h1M69 124.5h1M25 125.5h1M27 125.5h1M53 125.5h2M59 125.5h1M63 125.5h1M36 127.5h1M49 127.5h1M51 127.5h1M53 127.5h1M58 127.5h1M69 127.5h1M47 128.5h1M61 128.5h1M64 128.5h1M5 129.5h1M48 129.5h1M69 129.5h1M74 129.5h1M27 130.5h1M50 130.5h1M61 130.5h1M65 130.5h1M70 130.5h1M82 130.5h1M13 131.5h1M35 131.5h1M42 131.5h1M53 131.5h1M59 131.5h1M61 131.5h1M69 131.5h1M35 132.5h1M43 132.5h1M56 132.5h1M63 132.5h1M79 132.5h1M81 132.5h1M21 133.5h1M44 133.5h1M46 133.5h1M48 133.5h1M11 134.5h2M23 134.5h1M17 135.5h1M23 135.5h1M30 135.5h1M41 135.5h1M44 135.5h2M62 135.5h1M66 135.5h1M27 136.5h1M42 136.5h3M54 136.5h1M57 136.5h1M65 136.5h1M86 136.5h1M36 137.5h1M40 137.5h1M47 137.5h2M55 137.5h1M61 137.5h1M65 137.5h2M85 137.5h1M27 138.5h1M42 138.5h1M58 138.5h1M60 138.5h2M86 138.5h1M22 139.5h1M57 139.5h1M88 139.5h1M19 140.5h1M45 140.5h1M53 140.5h1M56 140.5h1M70 140.5h1M76 140.5h1M80 140.5h1M56 141.5h1M35 142.5h1M38 142.5h2M51 142.5h1M56 142.5h1M39 143.5h1M41 143.5h1M52 143.5h1M26 144.5h1M46 144.5h1M64 144.5h1M51 145.5h1M53 145.5h1M59 145.5h1M86 145.5h1M26 146.5h1M29 146.5h1M53 146.5h1M73 146.5h2M46 147.5h2M56 147.5h1M1 148.5h1M15 148.5h1M26 148.5h1M28 148.5h1M38 148.5h2M48 148.5h1M55 148.5h2M86 148.5h1M23 149.5h1M38 149.5h1M49 149.5h1M86 149.5h1M56 150.5h1M40 151.5h1M45 151.5h1M51 151.5h1M57 151.5h2M15 152.5h1M33 152.5h2M43 152.5h1M47 152.5h1M51 152.5h1M61 152.5h1M17 153.5h1M23 153.5h1M42 153.5h1M46 153.5h1M28 154.5h1M35 154.5h2M8 155.5h1M19 155.5h1M36 155.5h2M42 155.5h1M65 155.5h1M29 156.5h1M37 156.5h1M41 156.5h1M64 156.5h2M34 157.5h1M29 158.5h1M45 158.5h1M52 158.5h1M62 158.5h1M31 159.5h1M40 159.5h1M42 159.5h1M41 160.5h1M46 160.5h1M41 161.5h1M45 161.5h1M58 161.5h1M17 162.5h1M20 162.5h1M35 162.5h1M43 162.5h1M45 162.5h1M48 162.5h1M52 162.5h1M64 162.5h2M72 162.5h1M83 162.5h1M41 163.5h1M44 163.5h1M25 164.5h1M45 164.5h1M61 164.5h1M12 165.5h1M29 165.5h1M40 165.5h1M51 165.5h1M55 165.5h1M71 165.5h1M84 165.5h1M16 166.5h1M38 166.5h1M40 166.5h1M7 167.5h1M48 167.5h1M65 167.5h1M21 168.5h1M52 168.5h1M58 168.5h1M82 168.5h1M12 169.5h1M56 169.5h1M61 169.5h3M42 170.5h1M48 170.5h1M60 170.5h1M65 170.5h1M0 171.5h1M22 171.5h1M32 171.5h1M34 171.5h1M50 171.5h1M69 171.5h1M39 172.5h1M42 172.5h1M45 172.5h1M51 173.5h1M37 174.5h2M46 174.5h1M52 174.5h1M54 174.5h1M15 175.5h1M40 175.5h1M45 175.5h1M49 175.5h1M54 175.5h1M86 175.5h1"/>
<path stroke="#ecc8c8" d="M30 0.5h1M33 0.5h1M81 0.5h1M2 1.5h1M4 1.5h1M9 1.5h1M18 1.5h1M34 1.5h1M3 2.5h1M22 3.5h1M25 3.5h1M30 3.5h1M83 3.5h1M11 4.5h2M28 4.5h1M30 4.5h1M73 4.5h1M27 5.5h1M31 5.5h1M35 5.5h1M75 5.5h1M2 6.5h2M10 6.5h1M32 6.5h1M35 6.5h1M55 6.5h1M9 7.5h1M16 7.5h1M18 7.5h1M22 7.5h1M58 7.5h1M64 7.5h1M77 7.5h1M3 8.5h1M26 8.5h1M30 8.5h1M29 9.5h1M5 10.5h1M26 10.5h1M80 10.5h1M5 11.5h1M25 11.5h1M69 11.5h1M6 12.5h1M46 12.5h1M34 13.5h1M75 13.5h1M88 13.5h1M3 14.5h1M62 14.5h1M82 14.5h1M85 14.5h1M26 15.5h1M87 15.5h1M1 16.5h1M3 16.5h1M5 16.5h1M24 16.5h1M29 16.5h1M1 17.5h1M4 17.5h1M10 17.5h1M28 17.5h2M71 17.5h1M26 18.5h1M34 18.5h1M76 18.5h1M10 19.5h1M65 20.5h1M2 21.5h1M27 21.5h1M86 21.5h1M32 22.5h1M15 24.5h1M29 24.5h1M33 24.5h1M35 24.5h1M20 25.5h1M29 25.5h1M34 25.5h1M11 27.5h1M29 27.5h1M78 27.5h1M85 27.5h1M4 28.5h1M58 28.5h1M54 29.5h1M76 29.5h1M21 30.5h1M60 30.5h1M5 31.5h1M7 31.5h1M15 31.5h1M20 31.5h1M13 32.5h1M20 32.5h1M28 32.5h1M48 32.5h1M57 32.5h1M14 33.5h1M20 33.5h1M30 33.5h1M33 33.5h1M23 34.5h1M32 34.5h1M8 35.5h1M19 36.5h1M21 36.5h2M28 36.5h2M1 37.5h1M15 37.5h1M30 37.5h1M33 37.5h1M65 37.5h1M7 38.5h1M13 38.5h1M23 38.5h1M32 38.5h1M7 39.5h1M11 39.5h1M16 39.5h1M56 39.5h1M10 40.5h1M62 40.5h1M87 40.5h1M1 41.5h1M28 42.5h1M47 42.5h1M16 43.5h1M27 43.5h1M51 43.5h1M89 43.5h1M22 44.5h1M77 44.5h1M83 44.5h1M89 44.5h1M3 46.5h1M16 46.5h1M23 46.5h1M39 46.5h1M45 46.5h1M60 46.5h1M80 46.5h1M7 47.5h1M32 47.5h1M21 48.5h1M33 48.5h1M58 48.5h1M80 48.5h1M0 49.5h1M3 49.5h1M16 49.5h1M19 49.5h2M22 49.5h1M80 49.5h1M87 49.5h1M2 50.5h1M10 50.5h1M20 50.5h1M31 50.5h1M35 50.5h1M60 50.5h1M82 50.5h1M86 50.5h1M3 51.5h1M35 51.5h1M21 52.5h1M30 52.5h1M84 52.5h1M26 53.5h1M41 53.5h1M60 54.5h1M80 54.5h2M86 54.5h1M23 55.5h1M82 55.5h1M1 56.5h1M9 56.5h1M15 56.5h1M23 56.5h1M27 56.5h1M2 57.5h1M8 57.5h2M87 57.5h2M5 58.5h1M22 58.5h2M29 58.5h1M77 58.5h1M83 58.5h1M8 59.5h1M29 59.5h1M12 60.5h1M16 60.5h1M19 60.5h1M23 60.5h1M29 60.5h1M60 60.5h1M87 60.5h1M7 61.5h1M12 61.5h1M25 61.5h1M27 61.5h1M3 62.5h2M8 62.5h2M11 62.5h1M17 62.5h1M21 62.5h1M32 62.5h2M35 62.5h1M48 62.5h1M85 62.5h1M4 63.5h1M7 63.5h1M12 64.5h1M19 64.5h1M28 64.5h1M32 64.5h1M13 65.5h1M7 66.5h1M20 66.5h2M36 66.5h1M41 66.5h1M3 67.5h1M5 67.5h1M18 67.5h1M33 67.5h1M80 67.5h1M7 68.5h1M17 68.5h1M27 68.5h1M35 68.5h1M3 69.5h1M18 69.5h1M26 70.5h1M28 70.5h1M81 70.5h1M83 70.5h1M6 71.5h1M9 71.5h1M21 71.5h1M29 71.5h1M3 72.5h1M5 72.5h1M56 73.5h1M21 74.5h1M27 74.5h1M48 74.5h1M80 74.5h1M86 74.5h1M56 75.5h1M58 75.5h1M80 75.5h1M86 75.5h1M60 76.5h1M62 76.5h1M86 76.5h1M80 77.5h1M58 78.5h1M67 78.5h1M70 78.5h1M52 79.5h1M58 79.5h1M67 79.5h1M56 80.5h1M66 80.5h1M60 81.5h1M49 82.5h1M83 82.5h1M85 82.5h1M34 83.5h1M56 83.5h1M89 83.5h1M41 84.5h1M64 84.5h1M82 84.5h1M45 85.5h1M49 85.5h1M55 85.5h1M57 85.5h1M18 86.5h1M29 86.5h1M58 86.5h1M60 86.5h1M67 86.5h1M4 87.5h1M81 87.5h1M85 87.5h1M43 88.5h1M46 88.5h1M50 88.5h1M53 88.5h1M55 88.5h1M67 88.5h1M79 88.5h1M83 88.5h1M41 89.5h1M50 89.5h1M61 89.5h2M75 89.5h2M80 89.5h1M85 89.5h1M38 90.5h1M45 90.5h1M80 90.5h1M84 90.5h1M49 91.5h1M54 91.5h1M84 91.5h1M28 93.5h1M40 93.5h2M32 94.5h1M65 94.5h1M81 94.5h1M88 94.5h1M49 95.5h1M58 95.5h1M25 96.5h1M48 96.5h1M52 96.5h1M0 97.5h1M39 97.5h1M55 97.5h4M57 98.5h2M63 99.5h1M36 100.5h1M57 100.5h1M60 100.5h1M64 100.5h1M40 101.5h1M50 101.5h2M36 102.5h1M47 102.5h1M50 102.5h1M52 102.5h1M65 102.5h1M1 103.5h1M26 103.5h1M30 103.5h1M42 103.5h1M48 103.5h1M53 103.5h1M55 103.5h1M40 104.5h1M49 104.5h1M55 104.5h1M66 104.5h1M80 104.5h1M64 105.5h1M7 106.5h1M29 106.5h1M42 106.5h1M54 106.5h2M38 107.5h1M57 107.5h1M61 107.5h1M81 107.5h1M17 108.5h1M47 108.5h1M84 108.5h1M89 108.5h1M50 109.5h1M64 109.5h1M45 110.5h2M49 110.5h1M56 110.5h1M62 110.5h1M77 110.5h1M47 111.5h1M41 112.5h1M43 112.5h1M56 112.5h1M60 112.5h1M40 113.5h1M44 113.5h1M48 113.5h1M53 113.5h1M22 114.5h1M32 114.5h1M56 114.5h1M59 114.5h1M68 114.5h1M15 115.5h1M58 115.5h1M34 116.5h1M50 116.5h1M54 116.5h1M58 116.5h1M62 116.5h1M38 117.5h1M47 117.5h1M56 117.5h2M61 117.5h1M82 117.5h1M17 118.5h1M48 118.5h1M18 119.5h1M29 119.5h1M55 119.5h1M58 119.5h1M65 119.5h1M87 119.5h1M41 120.5h1M50 120.5h1M67 120.5h1M50 121.5h1M57 121.5h1M72 121.5h1M75 121.5h1M80 121.5h1M32 122.5h1M50 122.5h1M64 122.5h1M77 122.5h1M79 122.5h1M55 123.5h1M32 124.5h1M39 124.5h1M49 124.5h1M56 124.5h1M58 124.5h1M52 125.5h1M88 125.5h1M59 126.5h1M24 127.5h1M41 127.5h1M60 127.5h1M64 127.5h1M66 127.5h1M57 128.5h2M86 128.5h1M59 129.5h1M65 129.5h1M70 129.5h1M76 129.5h1M89 129.5h1M47 130.5h1M28 131.5h1M88 131.5h1M51 132.5h2M66 132.5h1M86 132.5h1M38 133.5h1M41 133.5h1M60 133.5h1M77 133.5h1M39 134.5h1M51 134.5h1M63 134.5h1M83 134.5h1M6 135.5h1M16 135.5h1M36 135.5h1M63 135.5h2M78 135.5h1M84 135.5h1M86 135.5h1M29 136.5h1M32 136.5h1M62 136.5h1M19 137.5h1M52 137.5h1M64 137.5h1M84 137.5h1M28 138.5h1M30 138.5h1M49 138.5h1M51 138.5h1M59 138.5h1M62 138.5h1M20 139.5h1M39 139.5h1M51 139.5h1M63 140.5h1M69 140.5h1M47 141.5h1M49 141.5h1M53 141.5h1M42 142.5h1M47 142.5h1M38 143.5h1M61 143.5h1M63 143.5h1M23 144.5h1M48 144.5h1M55 144.5h1M58 144.5h1M84 144.5h1M35 145.5h1M45 145.5h1M50 145.5h1M80 145.5h1M15 146.5h1M28 146.5h1M44 146.5h1M58 146.5h1M84 146.5h1M86 146.5h1M42 147.5h1M23 148.5h2M40 148.5h1M46 148.5h1M51 148.5h1M67 148.5h1M41 149.5h1M46 149.5h1M50 149.5h1M72 149.5h1M76 149.5h1M84 149.5h1M23 150.5h1M36 150.5h1M49 150.5h1M55 150.5h1M36 151.5h1M43 151.5h1M48 151.5h1M61 151.5h1M36 153.5h1M38 153.5h1M56 153.5h1M37 154.5h1M39 154.5h1M48 154.5h1M27 156.5h1M32 156.5h1M43 156.5h2M56 156.5h2M59 156.5h1M44 157.5h1M25 158.5h1M36 158.5h2M49 158.5h1M61 158.5h1M52 159.5h1M62 159.5h1M66 159.5h1M44 160.5h1M49 160.5h1M51 160.5h1M60 160.5h1M47 161.5h1M49 161.5h1M67 161.5h1M37 162.5h1M51 162.5h1M61 162.5h1M89 162.5h1M51 163.5h1M47 164.5h1M62 164.5h1M41 165.5h1M44 165.5h1M57 165.5h1M57 166.5h1M52 167.5h1M86 167.5h1M13 168.5h1M42 168.5h1M51 168.5h1M53 168.5h1M40 169.5h1M51 169.5h2M6 170.5h1M52 170.5h1M55 170.5h1M70 170.5h1M79 170.5h1M51 171.5h1M47 172.5h1M79 172.5h1M52 173.5h1M60 173.5h1M40 174.5h1M44 174.5h1M47 174.5h1M53 174.5h1M55 174.5h1M6 175.5h1M57 175.5h1"/>
<path stroke="#e9bfbf" d="M9 0.5h2M23 0.5h1M32 0.5h1M12 1.5h1M35 1.5h1M0 2.5h1M18 2.5h1M34 2.5h2M18 4.5h1M23 4.5h1M32 4.5h1M76 4.5h1M81 4.5h1M7 5.5h1M9 5.5h1M23 5.5h1M28 6.5h1M71 6.5h1M2 7.5h1M21 7.5h1M35 7.5h1M65 7.5h1M75 7.5h1M4 8.5h1M20 8.5h1M25 8.5h1M34 8.5h1M65 8.5h1M83 8.5h1M28 9.5h1M69 9.5h1M7 11.5h1M10 11.5h2M20 11.5h1M11 12.5h1M14 12.5h1M32 12.5h1M17 13.5h1M25 13.5h1M10 14.5h1M25 14.5h1M29 14.5h1M34 14.5h1M6 15.5h1M9 15.5h1M29 15.5h1M33 15.5h1M30 16.5h1M15 17.5h1M22 17.5h1M24 17.5h1M33 17.5h1M82 17.5h1M28 19.5h1M80 19.5h1M15 20.5h1M19 20.5h1M30 20.5h1M34 20.5h1M11 21.5h1M32 21.5h1M82 21.5h1M20 22.5h1M11 23.5h2M8 24.5h1M14 24.5h1M16 24.5h1M18 24.5h2M27 24.5h1M15 25.5h1M23 25.5h1M81 25.5h1M21 26.5h1M69 26.5h1M89 26.5h1M20 27.5h1M72 27.5h1M13 28.5h2M31 30.5h1M89 30.5h1M11 31.5h1M17 31.5h1M26 31.5h1M14 32.5h1M30 32.5h1M34 33.5h1M16 34.5h1M20 34.5h1M29 34.5h1M11 35.5h1M22 35.5h1M6 36.5h1M15 36.5h1M27 36.5h1M61 36.5h1M2 37.5h1M20 38.5h1M3 39.5h1M35 39.5h1M58 39.5h1M64 39.5h1M4 40.5h1M6 40.5h1M16 40.5h1M24 40.5h1M29 40.5h1M2 41.5h1M19 41.5h1M11 42.5h1M15 42.5h1M29 42.5h1M11 43.5h1M17 43.5h1M34 43.5h1M14 44.5h1M76 44.5h1M5 45.5h1M17 45.5h1M0 46.5h1M6 46.5h2M12 46.5h1M2 47.5h1M8 47.5h1M81 47.5h1M15 48.5h1M1 49.5h1M12 49.5h1M75 49.5h1M82 49.5h1M6 50.5h1M16 50.5h1M18 50.5h1M23 50.5h1M33 50.5h2M58 50.5h1M0 51.5h1M4 51.5h1M16 51.5h1M11 52.5h1M18 52.5h1M89 52.5h1M8 53.5h1M16 53.5h1M29 53.5h1M86 53.5h1M27 54.5h1M29 54.5h1M44 54.5h1M5 55.5h1M12 55.5h1M84 55.5h1M12 56.5h1M35 56.5h1M25 57.5h1M30 57.5h1M32 57.5h1M35 57.5h1M8 58.5h1M42 58.5h1M60 58.5h2M85 58.5h1M14 59.5h1M5 60.5h1M8 60.5h1M83 60.5h1M8 61.5h1M2 62.5h1M31 62.5h1M9 63.5h2M17 63.5h1M20 63.5h1M58 63.5h1M58 64.5h1M85 64.5h1M1 65.5h1M9 65.5h1M17 65.5h1M19 65.5h1M29 65.5h1M33 65.5h1M83 65.5h1M11 66.5h1M15 66.5h1M24 66.5h1M85 66.5h1M13 67.5h1M27 67.5h1M8 68.5h1M10 68.5h1M13 68.5h1M21 68.5h1M4 69.5h1M10 69.5h1M19 69.5h1M24 69.5h1M3 70.5h1M5 70.5h1M11 70.5h1M20 70.5h1M8 71.5h1M19 71.5h1M27 71.5h1M4 72.5h1M54 73.5h1M39 74.5h1M56 74.5h1M24 75.5h1M66 75.5h1M85 75.5h1M67 76.5h1M85 76.5h1M67 77.5h1M39 79.5h2M62 79.5h1M65 79.5h1M23 80.5h1M58 80.5h1M60 82.5h1M62 82.5h1M89 82.5h1M62 83.5h1M67 83.5h1M47 84.5h2M56 84.5h1M59 84.5h1M62 84.5h1M80 84.5h1M85 84.5h1M47 85.5h1M60 85.5h1M76 85.5h1M36 86.5h1M18 87.5h1M58 87.5h1M60 87.5h1M38 88.5h1M62 88.5h1M15 89.5h1M47 89.5h1M49 89.5h1M63 89.5h1M65 89.5h1M69 89.5h1M82 89.5h1M89 89.5h1M54 90.5h1M40 91.5h1M62 91.5h1M65 91.5h1M79 91.5h1M35 92.5h1M1 93.5h1M27 93.5h1M54 93.5h1M79 93.5h1M47 94.5h1M55 94.5h1M89 94.5h1M82 95.5h1M46 96.5h1M60 96.5h1M62 96.5h1M25 97.5h1M48 97.5h1M51 97.5h1M86 97.5h1M88 97.5h1M46 99.5h1M66 99.5h1M53 100.5h1M58 100.5h1M70 100.5h1M22 101.5h1M41 101.5h1M47 101.5h1M68 101.5h1M86 101.5h1M27 102.5h1M42 102.5h1M45 102.5h1M54 102.5h1M89 102.5h1M25 103.5h1M50 103.5h1M52 103.5h1M56 103.5h1M69 103.5h1M75 103.5h1M81 103.5h1M83 103.5h1M86 103.5h1M25 104.5h1M47 104.5h1M37 105.5h1M55 105.5h1M59 105.5h1M89 105.5h1M48 106.5h1M64 106.5h1M84 106.5h1M34 107.5h1M49 107.5h1M66 107.5h1M69 107.5h1M80 107.5h1M51 108.5h1M67 108.5h1M77 108.5h1M85 108.5h1M61 109.5h1M65 109.5h1M23 110.5h1M25 110.5h1M42 110.5h1M85 110.5h1M88 110.5h1M32 111.5h1M64 111.5h2M25 112.5h1M57 112.5h1M51 113.5h1M54 113.5h1M35 114.5h2M49 114.5h1M58 114.5h1M61 114.5h1M81 114.5h1M83 114.5h1M36 115.5h1M46 115.5h1M60 115.5h2M37 116.5h1M42 116.5h1M44 116.5h1M56 116.5h1M59 116.5h1M61 116.5h1M66 116.5h1M60 117.5h1M76 117.5h1M87 117.5h1M41 118.5h1M57 118.5h1M52 119.5h1M60 119.5h1M20 120.5h1M58 120.5h1M61 120.5h1M58 121.5h1M61 121.5h1M63 121.5h1M36 122.5h1M38 122.5h1M49 122.5h1M86 122.5h1M37 124.5h2M54 124.5h1M59 124.5h1M37 125.5h2M44 125.5h1M55 125.5h1M57 125.5h1M61 126.5h1M86 126.5h1M23 127.5h1M59 127.5h1M63 127.5h1M39 128.5h1M50 128.5h1M21 129.5h1M28 129.5h1M39 129.5h2M51 129.5h1M61 129.5h1M63 129.5h1M87 129.5h1M41 130.5h1M57 130.5h1M60 130.5h1M62 130.5h3M6 131.5h1M10 131.5h1M48 131.5h1M50 131.5h1M46 132.5h1M32 133.5h1M63 133.5h1M37 134.5h2M47 134.5h1M53 134.5h1M62 134.5h1M81 134.5h1M87 134.5h1M56 135.5h1M31 136.5h1M59 136.5h1M45 137.5h1M53 137.5h1M76 137.5h1M53 138.5h1M83 138.5h1M45 139.5h1M49 139.5h1M27 140.5h2M40 140.5h1M42 140.5h1M44 140.5h1M46 140.5h1M54 140.5h2M13 141.5h1M40 141.5h1M58 141.5h1M47 143.5h1M65 143.5h1M60 144.5h1M38 145.5h1M49 146.5h1M59 146.5h1M76 146.5h2M39 147.5h1M61 147.5h1M65 147.5h1M41 148.5h1M54 148.5h1M57 148.5h2M62 148.5h2M77 148.5h1M56 149.5h1M58 149.5h1M65 149.5h1M70 149.5h1M39 151.5h1M53 151.5h1M63 151.5h1M39 152.5h1M57 152.5h1M39 153.5h1M40 154.5h1M47 154.5h1M62 154.5h1M57 155.5h1M49 156.5h1M47 157.5h1M6 158.5h1M23 158.5h1M38 158.5h2M50 158.5h1M65 158.5h1M38 159.5h1M53 159.5h1M56 159.5h1M40 160.5h1M66 160.5h1M35 161.5h1M38 161.5h1M48 161.5h1M39 162.5h1M47 162.5h1M87 162.5h1M40 163.5h1M18 164.5h1M39 164.5h1M41 164.5h1M43 164.5h1M54 164.5h1M61 165.5h1M25 166.5h1M22 167.5h1M25 167.5h1M35 167.5h2M55 167.5h1M57 167.5h1M69 167.5h1M84 167.5h1M48 168.5h1M50 168.5h1M54 168.5h1M62 168.5h2M69 168.5h1M14 169.5h1M28 169.5h1M39 170.5h1M41 170.5h1M49 170.5h1M56 170.5h1M62 170.5h1M15 171.5h1M42 171.5h1M52 171.5h1M55 171.5h1M44 172.5h1M38 173.5h1M16 174.5h1M50 174.5h1M42 175.5h1M47 175.5h1M52 175.5h1M55 175.5h1"/>
<path stroke="#e5b5b5" d="M1 0.5h1M18 0.5h1M6 1.5h1M26 1.5h1M27 3.5h1M31 3.5h1M5 4.5h1M27 4.5h1M69 4.5h1M21 6.5h1M29 6.5h1M75 6.5h1M8 7.5h1M10 7.5h1M13 7.5h1M19 7.5h1M29 7.5h1M28 8.5h1M27 9.5h1M0 10.5h1M24 10.5h1M32 10.5h1M77 10.5h1M17 11.5h1M21 11.5h1M74 11.5h1M22 12.5h1M28 12.5h1M33 12.5h1M12 13.5h1M15 13.5h1M23 13.5h1M29 13.5h1M6 14.5h1M9 14.5h1M12 14.5h1M24 14.5h1M27 14.5h1M18 15.5h1M28 15.5h1M6 16.5h1M8 16.5h1M11 17.5h1M47 21.5h1M5 23.5h1M27 23.5h3M30 24.5h2M81 24.5h1M89 24.5h1M3 25.5h1M26 27.5h1M76 27.5h1M22 28.5h1M28 28.5h1M89 28.5h1M12 29.5h1M18 29.5h1M22 29.5h1M15 32.5h1M21 32.5h1M17 33.5h1M76 33.5h1M75 34.5h1M88 34.5h1M18 35.5h1M10 36.5h1M23 36.5h1M78 36.5h1M3 37.5h1M6 37.5h1M29 37.5h1M3 38.5h1M16 38.5h1M18 38.5h1M27 38.5h1M19 39.5h1M25 39.5h1M5 40.5h1M7 40.5h1M6 41.5h1M14 41.5h1M21 41.5h1M19 42.5h1M21 42.5h1M58 42.5h1M7 43.5h1M12 43.5h1M31 43.5h1M15 44.5h1M17 44.5h1M58 44.5h1M6 45.5h1M1 46.5h1M32 46.5h2M76 46.5h1M14 47.5h1M21 47.5h1M27 47.5h1M89 47.5h1M19 48.5h1M18 49.5h1M32 49.5h1M35 49.5h1M77 49.5h1M5 50.5h1M27 50.5h1M11 51.5h1M29 51.5h1M16 52.5h1M28 52.5h1M1 54.5h1M3 54.5h1M20 54.5h1M31 54.5h1M35 54.5h1M1 55.5h3M8 55.5h1M14 55.5h1M24 55.5h1M29 55.5h1M81 55.5h1M87 55.5h1M86 56.5h1M7 57.5h1M13 58.5h1M28 58.5h1M20 59.5h2M9 60.5h1M11 60.5h1M13 60.5h1M15 60.5h1M20 60.5h1M9 61.5h1M23 61.5h1M81 61.5h1M15 62.5h2M0 63.5h1M86 63.5h1M9 64.5h2M18 64.5h1M27 64.5h1M4 66.5h1M6 66.5h1M9 66.5h2M14 66.5h1M17 66.5h1M23 67.5h1M32 67.5h1M44 67.5h1M3 68.5h1M19 68.5h1M8 69.5h1M15 69.5h1M20 69.5h1M28 69.5h1M7 70.5h1M10 70.5h1M12 70.5h1M23 70.5h1M1 72.5h1M16 72.5h1M27 72.5h1M37 74.5h1M49 75.5h1M47 76.5h1M47 77.5h1M40 78.5h1M55 79.5h1M60 79.5h1M69 79.5h1M79 79.5h1M81 79.5h1M85 79.5h1M55 81.5h1M58 81.5h2M65 81.5h1M48 82.5h1M68 82.5h1M49 84.5h1M54 84.5h1M76 84.5h1M65 85.5h1M85 85.5h1M42 86.5h1M46 86.5h1M47 87.5h1M49 87.5h1M56 87.5h1M65 87.5h1M68 87.5h1M51 88.5h1M56 88.5h1M61 88.5h1M64 88.5h2M68 88.5h1M78 88.5h1M60 89.5h1M70 89.5h1M20 90.5h1M56 90.5h1M85 90.5h1M50 91.5h1M56 92.5h1M86 92.5h1M57 93.5h2M61 93.5h1M64 93.5h1M67 93.5h1M85 93.5h1M48 94.5h1M28 95.5h1M46 95.5h1M51 95.5h1M69 95.5h1M65 96.5h1M47 97.5h1M62 97.5h1M60 99.5h1M85 99.5h1M55 100.5h1M46 101.5h1M80 101.5h1M49 102.5h1M84 102.5h2M20 103.5h1M35 103.5h1M60 103.5h1M51 104.5h1M62 104.5h1M87 104.5h1M49 105.5h1M70 105.5h1M50 106.5h1M89 106.5h1M63 107.5h1M42 108.5h1M49 108.5h1M64 108.5h1M60 109.5h1M85 109.5h1M6 110.5h1M24 110.5h1M47 110.5h1M54 110.5h1M58 110.5h1M58 111.5h1M63 111.5h1M28 112.5h1M59 112.5h1M39 113.5h1M49 113.5h1M28 114.5h1M52 114.5h1M76 114.5h1M49 115.5h1M64 115.5h1M51 116.5h1M52 117.5h1M28 118.5h1M73 118.5h1M42 119.5h1M80 119.5h1M29 120.5h1M59 120.5h1M65 120.5h1M46 121.5h2M53 121.5h1M57 122.5h1M53 123.5h1M61 123.5h1M63 124.5h1M49 125.5h1M62 125.5h1M65 125.5h1M57 126.5h1M29 127.5h1M38 127.5h2M48 127.5h1M50 127.5h1M61 127.5h1M77 127.5h1M59 128.5h1M83 128.5h1M38 129.5h1M81 129.5h1M28 130.5h1M36 130.5h1M59 130.5h1M49 131.5h1M67 131.5h1M70 131.5h1M70 132.5h1M35 133.5h1M65 133.5h1M21 134.5h1M36 134.5h1M45 134.5h2M32 135.5h1M38 135.5h1M61 135.5h1M75 135.5h1M82 135.5h1M49 136.5h1M56 136.5h1M58 136.5h1M76 136.5h1M60 137.5h1M38 138.5h1M85 138.5h1M42 139.5h1M53 139.5h1M80 139.5h1M52 140.5h1M60 140.5h1M53 142.5h1M46 145.5h1M51 146.5h1M56 146.5h1M62 146.5h1M0 147.5h1M53 147.5h1M58 147.5h1M32 148.5h2M47 148.5h1M89 148.5h1M27 149.5h1M29 149.5h1M47 149.5h1M52 149.5h1M57 149.5h1M62 149.5h1M39 150.5h1M44 150.5h1M48 150.5h1M38 151.5h1M54 151.5h3M64 151.5h1M44 152.5h1M53 152.5h1M44 153.5h1M47 153.5h1M44 155.5h1M59 155.5h1M64 155.5h1M41 157.5h1M62 157.5h1M58 158.5h1M25 159.5h1M41 159.5h1M49 159.5h1M56 160.5h1M16 162.5h1M42 162.5h1M49 162.5h1M54 162.5h1M56 162.5h1M51 164.5h1M57 164.5h1M37 165.5h2M52 165.5h1M81 165.5h1M47 167.5h1M51 167.5h1M46 168.5h2M60 168.5h1M47 170.5h1M53 170.5h2M61 170.5h1M38 171.5h1M46 171.5h1M48 171.5h1M49 172.5h1M0 173.5h1M39 173.5h1M44 173.5h1M28 174.5h1"/>
<path stroke="#e2acac" d="M7 0.5h1M29 0.5h1M23 1.5h1M60 1.5h1M10 2.5h1M26 2.5h1M23 3.5h1M26 3.5h1M28 3.5h1M0 4.5h1M7 4.5h1M22 4.5h1M24 4.5h1M80 4.5h1M30 5.5h1M60 7.5h1M0 8.5h1M10 8.5h1M17 8.5h1M2 9.5h1M10 9.5h1M26 9.5h1M33 10.5h1M35 10.5h1M32 11.5h1M76 11.5h1M21 13.5h1M30 13.5h1M0 14.5h1M15 14.5h1M22 14.5h1M21 15.5h1M35 15.5h1M26 16.5h1M25 18.5h1M11 19.5h1M11 20.5h1M13 21.5h1M87 21.5h1M18 22.5h1M21 22.5h1M18 23.5h1M21 23.5h1M12 24.5h1M28 24.5h1M28 25.5h1M26 26.5h1M18 28.5h1M21 28.5h1M28 29.5h1M12 31.5h1M15 33.5h1M28 34.5h1M34 34.5h2M29 35.5h1M19 37.5h1M60 37.5h1M28 38.5h1M76 38.5h1M18 39.5h1M13 40.5h1M19 40.5h1M26 40.5h1M75 40.5h1M15 41.5h1M19 43.5h1M4 44.5h1M11 44.5h2M28 44.5h1M18 46.5h2M27 46.5h1M30 46.5h1M3 47.5h1M11 48.5h1M60 49.5h1M11 50.5h1M13 50.5h1M17 50.5h1M24 50.5h1M30 50.5h1M80 50.5h1M19 51.5h1M21 51.5h1M3 52.5h1M25 52.5h1M4 53.5h1M9 53.5h1M18 53.5h1M28 53.5h1M28 54.5h1M10 55.5h1M15 55.5h1M21 55.5h1M80 55.5h1M3 56.5h1M1 57.5h1M82 57.5h1M2 58.5h1M21 58.5h1M32 58.5h1M9 59.5h1M0 61.5h1M6 61.5h1M18 61.5h1M22 61.5h1M31 61.5h1M3 63.5h1M0 64.5h1M2 64.5h1M5 64.5h1M11 64.5h1M25 64.5h1M6 65.5h1M16 65.5h1M18 65.5h1M20 65.5h1M35 65.5h1M38 65.5h1M18 66.5h1M23 66.5h1M8 67.5h1M20 67.5h1M25 67.5h1M14 68.5h1M2 69.5h1M5 69.5h1M12 69.5h1M17 69.5h1M2 71.5h1M7 71.5h1M15 71.5h1M0 72.5h1M9 72.5h2M18 72.5h1M23 73.5h1M80 73.5h1M85 73.5h1M16 74.5h1M51 74.5h1M65 74.5h1M68 74.5h1M25 75.5h1M47 75.5h1M68 75.5h1M59 77.5h1M57 79.5h1M28 80.5h1M65 80.5h1M69 81.5h1M57 82.5h1M79 82.5h1M44 83.5h1M77 83.5h1M85 83.5h1M70 84.5h1M87 86.5h1M44 87.5h1M45 89.5h1M49 90.5h1M60 90.5h1M66 90.5h1M39 91.5h1M78 91.5h1M66 92.5h1M68 92.5h2M81 92.5h2M87 93.5h1M89 93.5h1M9 94.5h1M36 94.5h1M57 94.5h1M64 95.5h1M81 95.5h1M16 100.5h1M20 100.5h1M85 100.5h1M48 101.5h1M56 102.5h1M86 102.5h1M18 103.5h1M43 103.5h1M46 103.5h1M57 103.5h1M79 103.5h1M82 103.5h1M57 105.5h1M81 105.5h1M25 106.5h1M51 106.5h1M58 106.5h1M29 107.5h1M47 109.5h1M56 109.5h1M89 109.5h1M38 110.5h1M64 110.5h1M49 111.5h1M46 112.5h2M61 112.5h1M60 113.5h1M63 113.5h1M42 114.5h1M60 114.5h1M26 115.5h1M56 118.5h1M62 118.5h1M85 118.5h1M54 119.5h1M53 120.5h1M62 120.5h1M29 121.5h1M64 121.5h1M86 121.5h1M82 122.5h1M58 123.5h1M18 125.5h1M28 126.5h1M58 126.5h1M35 127.5h1M47 127.5h1M56 127.5h1M67 127.5h1M53 129.5h1M57 129.5h1M80 129.5h1M83 129.5h1M55 130.5h1M27 131.5h1M39 131.5h1M54 131.5h1M62 131.5h1M65 131.5h1M45 132.5h1M48 132.5h1M50 132.5h1M58 132.5h1M68 132.5h1M56 133.5h1M61 133.5h2M29 134.5h1M34 134.5h1M50 134.5h1M56 134.5h1M39 135.5h2M50 135.5h1M76 135.5h1M48 136.5h1M52 136.5h1M34 137.5h1M39 138.5h1M54 138.5h1M61 139.5h1M65 139.5h1M87 140.5h1M48 141.5h1M60 141.5h1M50 142.5h1M51 143.5h1M43 145.5h1M49 145.5h1M36 146.5h1M45 146.5h2M57 146.5h1M55 147.5h1M60 147.5h1M45 148.5h1M43 149.5h1M41 151.5h1M41 153.5h1M20 154.5h1M32 154.5h1M45 155.5h1M49 155.5h1M54 155.5h1M53 157.5h1M55 157.5h1M19 158.5h1M38 160.5h1M57 161.5h1M59 161.5h1M0 162.5h1M29 162.5h1M50 162.5h1M69 162.5h1M80 162.5h1M48 163.5h1M62 163.5h1M56 164.5h1M36 165.5h1M45 165.5h1M45 166.5h3M50 166.5h1M80 166.5h1M30 167.5h1M38 167.5h1M40 167.5h2M44 167.5h1M39 168.5h1M42 169.5h1M47 169.5h2M57 169.5h1M50 170.5h1M39 171.5h1M47 171.5h1M53 171.5h1M56 171.5h1M64 171.5h1M85 171.5h1M10 172.5h1M50 172.5h1M42 173.5h1M48 173.5h2M43 174.5h1M48 174.5h1M57 174.5h1"/>
<path stroke="#dfa3a3" d="M21 0.5h1M35 0.5h1M30 1.5h1M32 1.5h1M23 2.5h1M28 2.5h1M32 3.5h1M35 3.5h1M1 4.5h1M34 4.5h1M33 5.5h1M9 6.5h1M26 6.5h1M0 7.5h1M4 7.5h1M24 7.5h1M26 7.5h2M19 8.5h1M23 8.5h1M32 9.5h1M80 9.5h1M23 10.5h1M23 11.5h1M26 11.5h2M30 11.5h1M25 12.5h2M29 12.5h1M28 13.5h1M72 13.5h1M20 14.5h1M12 15.5h1M23 15.5h1M28 16.5h1M7 17.5h1M18 17.5h1M16 20.5h1M25 20.5h1M19 23.5h1M32 23.5h1M11 24.5h1M13 24.5h1M21 25.5h1M32 27.5h1M15 28.5h1M85 29.5h1M16 31.5h1M77 31.5h1M11 32.5h1M19 33.5h1M21 34.5h1M19 35.5h1M28 35.5h1M32 35.5h1M13 36.5h1M75 37.5h1M23 39.5h1M28 39.5h1M10 41.5h1M6 42.5h1M3 43.5h1M17 46.5h1M26 46.5h1M1 47.5h1M17 47.5h1M72 47.5h1M5 49.5h1M13 49.5h1M15 49.5h1M86 49.5h1M19 50.5h1M87 50.5h1M7 51.5h1M13 51.5h1M18 51.5h1M4 52.5h1M7 53.5h1M12 53.5h1M23 53.5h1M6 54.5h1M9 54.5h1M11 54.5h2M21 54.5h1M17 55.5h1M19 55.5h1M0 56.5h1M5 56.5h1M16 56.5h1M4 57.5h1M21 57.5h1M27 57.5h1M3 58.5h1M9 58.5h1M14 58.5h1M16 58.5h1M15 59.5h1M19 59.5h1M4 60.5h1M33 60.5h1M24 61.5h1M19 62.5h1M26 62.5h1M2 63.5h1M16 63.5h1M21 64.5h1M4 65.5h1M2 66.5h2M4 67.5h1M28 67.5h1M18 68.5h1M1 69.5h1M8 70.5h1M32 71.5h1M70 73.5h1M60 74.5h1M69 75.5h1M49 76.5h1M70 76.5h1M59 78.5h2M23 79.5h1M54 79.5h1M70 79.5h1M47 82.5h1M59 82.5h1M58 85.5h1M48 86.5h1M62 86.5h1M83 87.5h1M36 88.5h1M52 88.5h1M81 88.5h1M84 88.5h1M38 92.5h1M23 93.5h1M60 93.5h1M80 93.5h2M89 95.5h1M53 96.5h1M51 100.5h1M39 103.5h1M47 103.5h1M58 103.5h1M70 103.5h1M38 106.5h1M59 106.5h1M51 107.5h1M59 107.5h1M62 107.5h1M59 108.5h1M60 110.5h1M23 111.5h1M46 111.5h1M59 111.5h1M46 113.5h2M48 114.5h1M57 114.5h1M62 114.5h1M64 117.5h1M25 118.5h1M64 119.5h1M51 120.5h1M78 120.5h1M34 121.5h1M76 121.5h1M44 122.5h1M59 122.5h1M76 122.5h1M47 123.5h1M16 125.5h1M42 125.5h1M56 126.5h1M55 127.5h1M57 127.5h1M52 128.5h1M57 132.5h1M62 132.5h1M49 134.5h1M60 134.5h2M46 135.5h1M54 135.5h1M58 135.5h1M80 135.5h1M40 138.5h1M56 138.5h1M87 138.5h1M10 140.5h1M21 142.5h1M80 142.5h1M50 144.5h1M89 146.5h1M42 151.5h1M50 151.5h1M67 151.5h1M54 152.5h1M37 153.5h1M49 154.5h1M57 158.5h1M52 160.5h1M39 161.5h1M54 161.5h1M76 161.5h1M53 162.5h1M55 162.5h1M60 162.5h1M58 163.5h1M47 165.5h1M48 166.5h1M15 167.5h1M37 167.5h1M68 167.5h1M41 168.5h1M41 169.5h1M45 169.5h1M54 169.5h2M41 171.5h1M58 171.5h1M7 172.5h1M27 172.5h1M56 173.5h1M29 175.5h1M44 175.5h1M50 175.5h1"/>
<path stroke="#dc9a9a" d="M6 0.5h1M26 0.5h2M76 0.5h1M5 1.5h1M29 4.5h1M0 6.5h1M11 7.5h1M15 7.5h1M21 9.5h1M30 10.5h1M22 11.5h1M29 11.5h1M31 11.5h1M23 12.5h1M80 12.5h1M30 14.5h1M33 14.5h1M32 15.5h1M26 17.5h1M76 17.5h1M29 18.5h1M21 20.5h1M26 21.5h1M19 22.5h1M81 23.5h1M76 24.5h1M32 26.5h1M23 29.5h1M23 32.5h1M15 34.5h1M15 35.5h1M62 37.5h1M76 37.5h1M21 38.5h1M17 40.5h1M35 44.5h1M4 49.5h1M8 49.5h1M21 49.5h1M15 50.5h1M6 51.5h1M9 51.5h1M20 51.5h1M20 52.5h1M23 52.5h1M1 53.5h1M3 53.5h1M13 53.5h2M20 53.5h1M32 54.5h1M9 55.5h1M16 55.5h1M3 57.5h1M10 59.5h1M0 60.5h1M7 60.5h1M10 60.5h1M10 61.5h1M6 62.5h1M11 63.5h1M15 64.5h1M17 64.5h1M21 65.5h1M32 65.5h1M12 66.5h1M16 66.5h1M1 67.5h1M6 67.5h1M10 67.5h1M12 67.5h1M11 69.5h1M6 70.5h1M19 70.5h1M17 71.5h1M38 71.5h1M11 72.5h1M84 73.5h1M58 74.5h1M75 79.5h1M70 80.5h1M80 81.5h1M70 82.5h1M84 83.5h1M59 85.5h1M59 86.5h1M57 88.5h1M80 88.5h1M89 90.5h1M60 95.5h1M80 95.5h1M55 102.5h1M69 102.5h1M41 106.5h1M61 106.5h1M60 108.5h1M52 109.5h1M55 110.5h1M56 111.5h1M65 113.5h1M89 113.5h1M46 114.5h1M64 114.5h1M60 116.5h1M65 116.5h1M58 118.5h2M49 119.5h1M62 119.5h1M60 121.5h1M60 122.5h1M77 125.5h1M64 129.5h1M60 131.5h1M60 132.5h1M64 132.5h1M54 134.5h1M58 134.5h1M57 135.5h1M50 136.5h1M56 137.5h1M47 138.5h1M52 139.5h1M57 140.5h1M48 146.5h1M65 146.5h1M36 148.5h1M44 148.5h1M49 148.5h1M45 149.5h1M55 152.5h1M48 153.5h1M55 154.5h1M57 154.5h1M40 155.5h1M54 157.5h1M21 158.5h1M40 158.5h1M44 158.5h1M54 158.5h1M58 160.5h1M56 161.5h1M43 163.5h1M38 164.5h1M39 165.5h1M54 165.5h1M49 168.5h1M26 170.5h1M43 171.5h1M49 171.5h1M54 171.5h1M41 172.5h1M54 172.5h1M57 172.5h1M41 174.5h1"/>
<path stroke="#d89090" d="M28 0.5h1M34 0.5h1M10 5.5h1M25 7.5h1M10 10.5h1M25 10.5h1M27 10.5h1M1 11.5h1M8 12.5h1M33 16.5h1M21 17.5h1M27 17.5h1M16 27.5h1M18 27.5h1M15 29.5h1M87 36.5h1M28 37.5h1M86 37.5h1M29 38.5h1M58 38.5h1M0 42.5h1M20 42.5h1M23 47.5h1M0 53.5h1M7 55.5h1M6 57.5h1M15 57.5h1M19 58.5h1M80 58.5h1M4 59.5h1M21 63.5h1M7 64.5h1M16 64.5h1M15 65.5h1M2 70.5h1M21 70.5h1M27 70.5h1M21 72.5h1M25 72.5h1M59 75.5h1M59 80.5h1M59 83.5h1M70 91.5h1M29 92.5h1M49 93.5h1M52 94.5h1M83 97.5h1M56 98.5h1M29 103.5h1M40 103.5h1M62 103.5h1M80 103.5h1M85 104.5h1M61 105.5h1M54 107.5h1M52 108.5h1M58 109.5h1M52 115.5h1M47 118.5h1M61 118.5h1M48 119.5h1M51 119.5h1M57 120.5h1M65 122.5h1M45 127.5h1M62 127.5h1M60 129.5h1M85 131.5h1M38 137.5h1M47 140.5h1M65 142.5h1M49 144.5h1M55 145.5h1M50 146.5h1M52 146.5h1M49 147.5h1M48 152.5h1M54 153.5h1M41 155.5h1M47 155.5h1M61 155.5h1M46 158.5h1M51 158.5h1M55 158.5h1M54 160.5h1M44 161.5h1M52 161.5h1M44 162.5h1M53 165.5h1M49 167.5h1M56 167.5h1M44 168.5h1M50 169.5h1M48 172.5h1"/>
<path stroke="#d58787" d="M19 1.5h1M29 1.5h1M34 7.5h1M34 12.5h1M20 13.5h1M17 19.5h1M12 25.5h1M28 31.5h1M30 31.5h1M12 34.5h1M35 40.5h1M28 41.5h1M15 47.5h1M71 48.5h1M9 49.5h1M3 50.5h1M26 51.5h1M15 52.5h1M17 52.5h1M10 53.5h2M0 55.5h1M6 56.5h1M20 56.5h1M0 57.5h1M20 57.5h1M1 58.5h1M10 58.5h1M2 60.5h1M21 60.5h1M16 61.5h1M19 61.5h1M21 61.5h1M8 63.5h1M9 67.5h1M17 70.5h1M30 70.5h1M7 72.5h1M13 72.5h1M70 77.5h1M70 85.5h1M65 90.5h1M26 94.5h1M56 94.5h1M81 102.5h1M49 103.5h1M69 105.5h1M57 110.5h1M56 113.5h1M58 113.5h1M64 113.5h1M57 116.5h1M58 117.5h1M64 118.5h1M51 122.5h1M48 125.5h1M60 126.5h1M65 127.5h1M38 130.5h1M51 131.5h1M59 134.5h1M69 134.5h1M23 136.5h1M57 143.5h1M57 147.5h1M51 153.5h1M41 162.5h1M54 167.5h1M61 171.5h1M19 173.5h1M47 173.5h1M54 173.5h1"/>
<path stroke="#d27e7e" d="M25 0.5h1M28 1.5h1M32 2.5h1M5 7.5h2M32 7.5h1M22 9.5h1M28 10.5h2M35 14.5h1M35 28.5h1M58 46.5h1M10 51.5h1M6 52.5h1M19 53.5h1M7 54.5h1M4 55.5h1M19 56.5h1M11 57.5h1M18 58.5h1M0 62.5h1M8 65.5h1M15 67.5h1M6 69.5h1M21 69.5h1M16 70.5h1M18 70.5h1M29 70.5h1M17 72.5h1M85 88.5h1M68 97.5h1M63 103.5h1M60 105.5h1M81 106.5h1M61 110.5h1M56 125.5h1M58 129.5h1M58 130.5h1M58 131.5h1M65 134.5h1M53 135.5h1M44 144.5h1M55 153.5h1M56 154.5h1M57 170.5h1M40 171.5h1"/>
<path stroke="#cf7575" d="M28 5.5h2M28 7.5h1M15 11.5h1M28 11.5h1M32 13.5h1M7 14.5h1M34 15.5h1M18 34.5h1M25 34.5h1M17 49.5h1M10 52.5h1M5 54.5h1M6 55.5h1M33 55.5h1M12 57.5h1M0 58.5h1M18 59.5h1M17 67.5h1M19 67.5h1M59 73.5h1M52 87.5h1M80 94.5h1M86 95.5h1M54 103.5h1M85 103.5h1M85 106.5h1M59 109.5h1M59 110.5h1M43 113.5h1M55 129.5h1M54 132.5h1M47 146.5h1M48 165.5h1M39 167.5h1M46 167.5h1"/>
<path stroke="#cc6c6c" d="M22 6.5h1M20 29.5h1M10 57.5h1M19 57.5h1M11 58.5h1M17 58.5h1M18 62.5h1M4 68.5h1M60 106.5h1M62 113.5h1"/>
<path stroke="#c86262" d="M25 9.5h1M27 15.5h1M20 23.5h1M6 58.5h1M60 111.5h1M64 134.5h1M38 169.5h1"/>
<path stroke="#c55959" d="M6 53.5h1M25 58.5h1M0 66.5h1M70 74.5h1M70 75.5h1M59 76.5h1M59 79.5h1M70 81.5h1M87 106.5h1M39 169.5h1"/>
<path stroke="#c25050" d="M59 74.5h1M62 112.5h1"/>
<path stroke="#bc3e3e" d="M61 111.5h1"/>
</g>
<rect x="33.1" y="19.9" width="268.4" height="10" fill="#ed6b78"/>
<rect x="33.1" y="19.9" width="107.36" height="10" fill="#4f5f9e"/>
<rect x="244.84" y="19.9" width="2.98" height="10" fill="#4f5f9e"/>
<rect x="253.78" y="19.9" width="2.98" height="10" fill="#4f5f9e"/>
<rect x="259.75" y="19.9" width="2.98" height="10" fill="#4f5f9e"/>
<rect x="271.68" y="19.9" width="2.98" height="10" fill="#4f5f9e"/>
<path fill="none" stroke="#000" stroke-width="0.7" d="M34.59 18.8V15.86H37.57V18.8M40.56 18.8V15.95H43.54V18.8M36.08 15.86V15.12H42.05V15.95M49.5 18.8V17.19H52.48V18.8M50.99 17.19V16.93H55.47V18.8M46.52 18.8V16.25H53.23V16.93M39.06 15.12V14.5H49.88V16.25M58.45 18.8V17.71H61.43V18.8M59.94 17.71V17.33H64.41V18.8M62.18 17.33V16.71H67.4V18.8M70.38 18.8V15.87H73.36V18.8M64.79 16.71V15.62H71.87V15.87M76.34 18.8V17.02H79.32V18.8M82.31 18.8V17.95H85.29V18.8M83.8 17.95V17.62H88.27V18.8M77.83 17.02V16.68H86.03V17.62M91.25 18.8V16.79H94.24V18.8M81.93 16.68V15.69H92.74V16.79M103.18 18.8V16.5H106.16V18.8M100.2 18.8V16.34H104.67V16.5M97.22 18.8V15.67H102.44V16.34M87.34 15.69V14.35H99.83V15.67M68.33 15.62V13.43H93.58V14.35M109.15 18.8V16.85H112.13V18.8M118.09 18.8V16.97H121.08V18.8M115.11 18.8V16.59H119.58V16.97M110.64 16.85V16.44H117.35V16.59M124.06 18.8V17.3H127.04V18.8M125.55 17.3V16.1H130.02V18.8M113.99 16.44V15.92H127.79V16.1M133 18.8V17.03H135.99V18.8M134.5 17.03V15.75H138.97V18.8M120.89 15.92V14.77H136.73V15.75M80.96 13.43V12.6H128.81V14.77M44.47 14.5V11.2H104.88V12.6M141.95 18.8V16.72H144.93V18.8M147.92 18.8V17.78H150.9V18.8M153.88 18.8V17.94H156.86V18.8M149.41 17.78V17.63H155.37V17.94M152.39 17.63V17.46H159.84V18.8M143.44 16.72V16.3H156.12V17.46M162.83 18.8V17.55H165.81V18.8M168.79 18.8V17.81H171.77V18.8M164.32 17.55V17.44H170.28V17.81M167.3 17.44V17.12H174.76V18.8M180.72 18.8V17.3H183.7V18.8M177.74 18.8V15.98H182.21V17.3M171.03 17.12V15.62H179.97V15.98M189.67 18.8V17.02H192.65V18.8M186.68 18.8V16.03H191.16V17.02M175.5 15.62V15.43H188.92V16.03M149.78 16.3V13.9H182.21V15.43M198.61 18.8V16.01H201.6V18.8M195.63 18.8V14.53H200.1V16.01M204.58 18.8V17.38H207.56V18.8M206.07 17.38V16.48H210.54V18.8M216.51 18.8V16.67H219.49V18.8M213.52 18.8V15.61H218V16.67M208.31 16.48V15.15H215.76V15.61M197.87 14.53V12.49H212.03V15.15M225.45 18.8V15.88H228.44V18.8M222.47 18.8V14.16H226.94V15.88M231.42 18.8V15.62H234.4V18.8M224.71 14.16V13.73H232.91V15.62M240.36 18.8V18.12H243.35V18.8M237.38 18.8V17.73H241.86V18.12M246.33 18.8V18.14H249.31V18.8M252.29 18.8V17.75H255.28V18.8M247.82 18.14V17.67H253.78V17.75M239.62 17.73V17.06H250.8V17.67M258.26 18.8V17.89H261.24V18.8M264.22 18.8V18.08H267.2V18.8M265.71 18.08V17.74H270.19V18.8M273.17 18.8V18.12H276.15V18.8M267.95 17.74V17.62H274.66V18.12M259.75 17.89V17.19H271.31V17.62M245.21 17.06V15.76H265.53V17.19M228.81 13.73V12.89H255.37V15.76M279.13 18.8V16.34H282.12V18.8M285.1 18.8V17.45H288.08V18.8M291.06 18.8V16.56H294.04V18.8M286.59 17.45V16.35H292.55V16.56M280.62 16.34V15.89H289.57V16.35M297.03 18.8V17.05H300.01V18.8M285.1 15.89V15.35H298.52V17.05M242.09 12.89V12.42H291.81V15.35M204.95 12.49V10.4H266.95V12.42M166 13.9V8.7H235.95V10.4M74.68 11.2V0.5H200.97V8.7"/>
<path fill="none" stroke="#000" stroke-width="0.7" d="M32.8 34.35H31.46V36.84H32.8M32.8 41.83H32.33V44.32H32.8M32.8 39.34H32.03V43.08H32.33M32.03 41.21H31.7V46.82H32.8M31.46 35.59H30.82V44.01H31.7M32.8 51.81H31.41V54.3H32.8M32.8 49.31H30.49V53.05H31.41M30.82 39.8H29.95V51.18H30.49M32.8 56.8H30.08V59.29H32.8M32.8 61.78H31.08V64.28H32.8M32.8 66.77H31.2V69.27H32.8M31.08 63.03H30.24V68.02H31.2M30.08 58.04H29.56V65.53H30.24M32.8 76.75H31.48V79.24H32.8M32.8 74.26H31.12V78H31.48M32.8 71.76H30.54V76.13H31.12M32.8 81.74H30.98V84.23H32.8M30.54 73.94H29.71V82.99H30.98M29.56 61.78H28.97V78.47H29.71M29.95 45.49H28.6V70.13H28.97M32.8 86.73H31.29V89.22H32.8M32.8 96.71H32.04V99.2H32.8M32.8 94.21H31.54V97.95H32.04M32.8 91.72H31.04V96.08H31.54M31.29 87.97H30.9V93.9H31.04M32.8 101.69H30.98V104.19H32.8M30.98 102.94H30.76V106.68H32.8M30.9 90.94H30.1V104.81H30.76M32.8 111.67H32.3V114.17H32.8M32.8 109.18H32.03V112.92H32.3M32.8 116.66H32.08V119.15H32.8M32.03 111.05H31.61V117.91H32.08M32.8 121.65H31.7V124.14H32.8M31.61 114.48H31.03V122.9H31.7M32.8 126.64H31.79V129.13H32.8M32.8 131.63H32.27V134.12H32.8M32.8 136.61H32.39V139.11H32.8M32.27 132.87H32.23V137.86H32.39M31.79 127.88H31.72V135.37H32.23M32.8 141.6H32.36V144.1H32.8M32.36 142.85H32.13V146.59H32.8M32.8 149.09H32.25V151.58H32.8M32.8 154.07H32.41V156.57H32.8M32.8 159.06H32.21V161.56H32.8M32.41 155.32H32.14V160.31H32.21M32.25 150.33H31.83V157.82H32.14M32.13 144.72H31.63V154.07H31.83M31.72 131.63H31.4V149.4H31.63M31.03 118.69H30.54V140.51H31.4M30.1 97.87H29.88V129.6H30.54M32.8 169.04H32.45V171.53H32.8M32.8 166.55H32.25V170.29H32.45M32.8 164.05H32.06V168.42H32.25M32.8 174.03H32.1V176.52H32.8M32.06 166.23H31.42V175.28H32.1M32.8 179.02H32.32V181.51H32.8M32.8 184.01H32.15V186.5H32.8M32.32 180.26H32.06V185.25H32.15M32.8 188.99H32.03V191.49H32.8M32.06 182.76H31.79V190.24H32.03M31.42 170.76H31.01V186.5H31.79M32.8 193.98H32.41V196.48H32.8M32.8 201.47H32.63V203.96H32.8M32.63 202.71H32.54V206.46H32.8M32.8 198.97H32.3V204.58H32.54M32.41 195.23H32.09V201.78H32.3M32.8 208.95H32.04V211.44H32.8M32.04 210.2H31.81V213.94H32.8M32.09 198.5H31.46V212.07H31.81M31.01 178.63H30.43V205.29H31.46M29.88 113.74H28.2V191.96H30.43M28.6 57.81H26.4V152.85H28.2M32.8 218.93H31.66V221.42H32.8M32.8 216.43H31.5V220.17H31.66M31.5 218.3H30.36V223.92H32.8M32.8 226.41H32.39V228.9H32.8M32.39 227.66H32.21V231.4H32.8M32.21 229.53H31.72V233.89H32.8M32.8 236.39H32.24V238.88H32.8M32.24 237.63H31.71V241.38H32.8M31.72 231.71H31.42V239.5H31.71M32.8 243.87H31.49V246.36H32.8M32.8 248.86H31.76V251.35H32.8M31.49 245.12H31.31V250.11H31.76M31.42 235.61H30.66V247.61H31.31M30.36 221.11H29.64V241.61H30.66M32.8 253.85H31.54V256.34H32.8M32.8 258.84H31.56V261.33H32.8M31.54 255.09H31.03V260.08H31.56M31.03 257.59H30.37V263.82H32.8M32.8 266.32H31.57V268.81H32.8M31.57 267.57H30.8V271.31H32.8M30.37 260.71H30.08V269.44H30.8M32.8 276.3H31.9V278.79H32.8M32.8 281.28H32.03V283.78H32.8M31.9 277.54H31.71V282.53H32.03M32.8 273.8H31.06V280.04H31.71M32.8 286.27H31.21V288.77H32.8M31.21 287.52H31.11V291.26H32.8M31.06 276.92H30.24V289.39H31.11M30.08 265.07H28.83V283.16H30.24M29.64 231.36H28.4V274.11H28.83M32.8 296.25H31.87V298.74H32.8M32.8 293.76H31.72V297.5H31.87M31.72 295.63H31.1V301.24H32.8M32.8 303.73H31.82V306.23H32.8M32.8 308.72H31.66V311.22H32.8M31.82 304.98H31.29V309.97H31.66M31.1 298.43H30.68V307.48H31.29M32.8 313.71H32.03V316.21H32.8M32.03 314.96H31.61V318.7H32.8M32.8 321.19H31.43V323.69H32.8M31.61 316.83H30.9V322.44H31.43M30.68 302.95H30.48V319.63H30.9M32.8 326.18H32.39V328.68H32.8M32.39 327.43H32.13V331.17H32.8M32.8 333.67H32.04V336.16H32.8M32.13 329.3H31.73V334.91H32.04M32.8 338.65H32.39V341.15H32.8M32.8 343.64H32.39V346.14H32.8M32.39 339.9H32.09V344.89H32.39M32.8 348.63H32.38V351.13H32.8M32.8 353.62H32.07V356.11H32.8M32.38 349.88H32.02V354.87H32.07M32.09 342.4H31.84V352.37H32.02M31.73 332.11H31.66V347.38H31.84M32.8 358.61H32.4V361.1H32.8M32.8 363.6H32.22V366.09H32.8M32.4 359.86H32.01V364.84H32.22M32.8 368.59H32.18V371.08H32.8M32.8 373.57H32.17V376.07H32.8M32.8 378.56H32.27V381.06H32.8M32.17 374.82H32.11V379.81H32.27M32.18 369.83H32.04V377.32H32.11M32.01 362.35H31.95V373.57H32.04M32.8 383.55H32.38V386.05H32.8M32.8 391.03H32.51V393.53H32.8M32.8 396.02H32.52V398.52H32.8M32.51 392.28H32.4V397.27H32.52M32.8 388.54H32.34V394.78H32.4M32.38 384.8H32.22V391.66H32.34M32.8 401.01H32.54V403.51H32.8M32.8 408.49H32.71V410.99H32.8M32.8 406H32.66V409.74H32.71M32.66 407.87H32.55V413.48H32.8M32.54 402.26H32.49V410.68H32.55M32.8 415.98H32.5V418.47H32.8M32.5 417.23H32.4V420.97H32.8M32.49 406.47H32.23V419.1H32.4M32.22 388.23H32.05V412.78H32.23M31.95 367.96H31.52V400.51H32.05M31.66 339.75H30.61V384.23H31.52M30.48 311.29H29.19V361.99H30.61M32.8 425.96H31.67V428.45H32.8M32.8 423.46H31.24V427.2H31.67M32.8 430.94H30.87V433.44H32.8M32.8 435.93H30.95V438.43H32.8M30.87 432.19H30.62V437.18H30.95M31.24 425.33H30.41V434.69H30.62M32.8 440.92H30.26V443.42H32.8M32.8 445.91H30.3V448.4H32.8M30.26 442.17H30.02V447.16H30.3M30.41 430.01H29.26V444.66H30.02M32.8 450.9H32.04V453.39H32.8M32.8 455.89H31.98V458.38H32.8M32.04 452.15H31.6V457.13H31.98M32.8 460.88H32.16V463.37H32.8M32.16 462.12H31.59V465.86H32.8M32.8 468.36H31.76V470.85H32.8M31.59 463.99H30.94V469.61H31.76M31.6 454.64H30.51V466.8H30.94M29.26 437.34H28.77V460.72H30.51M29.19 336.64H28V449.03H28.77M28.4 252.74H25.9V392.83H28M26.4 105.33H14V322.79H25.9"/>
<text x="-1.2" y="15" font-size="14.6" font-weight="bold">a</text>
<text x="305.2" y="29.2" font-size="9.5" font-weight="bold">Tissue</text>
<defs><linearGradient id="cb" x1="0" y1="0" x2="0" y2="1"><stop offset="0" stop-color="#b22222"/><stop offset="0.5055" stop-color="#ffffff"/><stop offset="1" stop-color="#6495ed"/></linearGradient></defs>
<rect x="306.8" y="33.1" width="10" height="148.6" fill="url(#cb)"/>
<text x="320.4" y="48.4" font-size="9.5">4</text>
<text x="320.4" y="80.2" font-size="9.5">2</text>
<text x="320.4" y="111.6" font-size="9.5">0</text>
<text x="320.4" y="143.9" font-size="9.5">-2</text>
<text x="320.4" y="175.7" font-size="9.5">-4</text>
<text x="336.6" y="41" font-size="9.5" font-weight="bold">Tissue</text>
<rect x="339.7" y="48.6" width="8.8" height="8.8" fill="#4f5f9e" stroke="#222" stroke-width="0.8"/>
<rect x="339.7" y="64.8" width="8.8" height="8.8" fill="#ed6b78" stroke="#222" stroke-width="0.8"/>
<text x="355.7" y="56.7" font-size="9.5">NAP</text>
<text x="355.7" y="72.7" font-size="9.5">Tumor</text>
<text x="394.2" y="17.1" font-size="14.6" font-weight="bold">b</text>
<path d="M453 21.8V399.5M480.6 21.8V399.5M508.2 21.8V399.5M535.8 21.8V399.5M563.4 21.8V399.5M591 21.8V399.5M618.6 21.8V399.5M646.2 21.8V399.5M673.8 21.8V399.5M442 382.4H685M442 335.45H685M442 288.5H685M442 241.55H685M442 194.6H685M442 147.65H685M442 100.7H685M442 53.75H685" stroke="#a2a2a2" stroke-width="0.8" stroke-dasharray="0.8 2.6" fill="none"/>
<polygon fill="#7f7f7f" points="494,337 498,332 504,330 511,330 517,332 522,335 527,342 531,352 533.5,364 535,374 536.3,381 524.5,380.5 519.5,376 514.5,372 508.5,368 503.5,363 499.5,356 495.5,346"/>
<polygon fill="#7f7f7f" points="538,381 538.3,374 539,367 541,360 542.5,352 544.5,343 546,335 550,329 556,323 562,317 566,313 570,315 574,321 576,327 578,333 577.5,343 573,352.5 568,359 565.5,366 565.5,374 570,379 576,381"/>
<polygon fill="#7f7f7f" points="506,380.8 576,380.8 576,383.8 506,383.8"/>
<path fill="none" stroke="#7f7f7f" stroke-width="3.8" stroke-linecap="round" d="M494.25 337.48h0M496.59 335.38h0M498.48 332.84h0M500.06 330.93h0M504.89 330.3h0M508.3 329.23h0M510.94 329.49h0M514.09 331.15h0M516.03 331.43h0M519.06 334.33h0M522.53 334.32h0M524.26 336.61h0M525.57 338.92h0M535.3 381.74h0M532.77 380.31h0M531.36 381.49h0M527.03 381.55h0M524.58 380.86h0M521.41 379.13h0M519.88 376.93h0M517.79 373.6h0M514.22 371.33h0M510.79 369.13h0M508.1 368.21h0M505.01 365.86h0M503.18 362.62h0M502.8 360.63h0M500.46 358.3h0M499.91 355.11h0M499.45 352.55h0M498 351.69h0M495.54 349.08h0M495.23 346.16h0M494.02 342.09h0M493.86 340.91h0M543.89 343.51h0M545.86 341.22h0M545.19 337.38h0M546.05 335.55h0M547.22 332.5h0M550.59 329.72h0M551.07 327.89h0M553.18 324.68h0M556.22 323.84h0M557.68 321.85h0M560.09 318.62h0M561.63 316.35h0M563.16 314.3h0M566.38 313.99h0M569.32 314.1h0M572.97 318.07h0M573.81 320.47h0M575.19 324.65h0M575.91 326.84h0M576.11 330.83h0M577.07 332.99h0M578.51 335.59h0M578.13 340.57h0M577.76 343.58h0M575.59 345.24h0M574.55 348.44h0M573.71 350.03h0M574 353.2h0M572.29 354.57h0M569.64 357.29h0M567.96 358.58h0M566.56 361.79h0M565.25 366.98h0M566.42 368.92h0M565.5 371.01h0M564.68 373.54h0M568.31 377.23h0M569.72 379.57h0M573.55 380.39h0M576.33 381.52h0M573.01 381.41h0M570.13 380.97h0M568.4 381.38h0M564.73 381.89h0M562.73 381.16h0M558.74 381.09h0M556.5 381.34h0M554.21 381.63h0M551.87 381.6h0M548.55 381.29h0M546.62 381.66h0M543.13 381.69h0M541.45 381.38h0M475.9 214.8h0M481.5 233.6h0M466.3 253h0M470.3 258.3h0M596.9 187.4h0M595.6 195.3h0M630.3 194.2h0M608.9 203.3h0M592.3 209.3h0M590.5 219.6h0M620.6 234.7h0M618 241.8h0M599.2 245.6h0M585.5 250.2h0M590.7 254.7h0M613.3 260.2h0M609.6 262h0M585.5 270.3h0M578.8 271.5h0M573.7 259.5h0M598.9 245.7h0M586 283.8h0M593 285.2h0M588.3 288.7h0M586.6 292.2h0M594.8 291.7h0M576.6 295.2h0M573.2 297.5h0M597.1 295.5h0M591.3 300.4h0M489.5 261.6h0M461.4 271.8h0M497.9 268.6h0M496.1 271h0M495.6 273.3h0M489.7 278h0M488 281.5h0M466.9 285.3h0M478.6 283.5h0M495 285h0M480.1 288.1h0M484.5 289.3h0M488 292.3h0M476.9 297.2h0M500.8 301.9h0M489.5 306.3h0M499.6 309.5h0M478 317.5h0M480.4 316.9h0M483.9 312.8h0M487.4 311.7h0M490.9 311.1h0M493.2 312.8h0M488.5 315.2h0M485 315.8h0M481.5 323.9h0M487.4 321h0M490.9 319.9h0M494.4 323.4h0M487.4 325.1h0M486.2 331h0M490.9 328h0M485 335h0M488.5 340.3h0M492 337.4h0M495.5 335h0M499 316.4h0M501.4 318.7h0M504.9 321h0M500.2 309.9h0M476.5 318h0M479 321.5h0M483 327h0M585.7 292h0M595.2 292h0M603.3 296.1h0M596.6 295.4h0M589.8 300.9h0M593.2 302.9h0M600.6 304.3h0M588.4 306.3h0M577.5 296.1h0M573.5 297.5h0M593.8 315.8h0M589.8 318.5h0M581.6 316.5h0M584.3 322.6h0M576.9 322.6h0M579.6 325.3h0M585.7 329.4h0M576.9 332.8h0M583.6 334.8h0M584.3 353.8h0M589.8 356.6h0M580.3 359.3h0M575.5 361.3h0M573.5 366.1h0M584.3 365.4h0M589.1 366.1h0M605.4 367.4h0M589.8 382.4h0M637.7 382.1h0M583.8 354.1h0M580 359h0M589.3 365.8h0M574 366.4h0M534 367.2h0M512.4 378.4h0M567.6 311.5h0M565 315h0M562 319h0M560.4 323.7h0M593.1 312.5h0M590 317h0M587 322h0M584 328.8h0M580.9 334h0M580.9 340h0M592 310h0M588 313h0M573 312.5h0M570 314h0M476 311h0M479 309h0M482 308h0M485 309h0M488 308h0M491 310h0M494 312h0M480 313h0M484 314h0M488 316h0M492 317h0M478 318h0M483 319h0M487 321h0M491 322h0M484 326h0M488 328h0M492 330h0M486 333h0M490 336h0M493 340h0M488 338h0M496 326h0M499 322h0"/>
<path fill="none" stroke="#b2182b" stroke-width="3.8" stroke-linecap="round" d="M642.5 86.1h0M641.2 118.8h0M588.3 154.5h0M594.7 160.4h0M604.5 181.2h0M580.1 187.4h0M600.5 197.5h0M594.1 223.6h0M603.4 256.9h0M604.3 272.1h0M591.4 274.8h0M591.3 285.5h0M571.7 254.6h0M567.3 257.8h0M568.5 261.3h0M559.4 262.8h0M563 275.3h0M567.5 275.3h0M562.3 279.4h0M568.8 282.1h0M563.6 283.5h0M570.2 285.2h0M554.5 285.5h0M562.3 289.3h0M569 292.8h0M569.6 296h0M556.8 298.7h0M563.5 299.8h0M560.9 305.5h0M564.1 309h0M566.1 317.8h0M570.2 316h0M565 315.4h0M561.5 325.4h0M574.9 326h0M558.5 330h0M560.9 331.2h0M551.5 333h0M555 334.7h0M553.9 338.8h0M557.4 338.8h0M550.4 341.7h0M552.7 344h0M555 345.2h0M552.1 347h0M566.7 351.6h0M549.5 336h0M551 339.5h0M556 336.5h0M558 341h0M554 349h0"/>
<path fill="none" stroke="#6495ed" stroke-width="3.8" stroke-linecap="round" d="M485.2 181.5h0M482 230h0M498.3 242.5h0M482.9 249.9h0M490.8 250.4h0M501.8 257.7h0M492.6 274.1h0M486.4 284.2h0M497.9 284.7h0M513.1 286.5h0M499.1 294h0M512.1 297h0M509.3 301.3h0M488.3 303.7h0M508.4 315.8h0M515.4 314.6h0M513.1 317.5h0M511.9 323.4h0M514.8 323.4h0M497.9 324.5h0M496.1 328h0M518.3 330.4h0M517.7 337.4h0M520.1 340.3h0M511.9 339.7h0M515 345h0M519 349h0"/>
<text x="642.5" y="80" font-size="6.4" text-anchor="middle">chr21_137</text>
<text x="641.2" y="112.9" font-size="6.4" text-anchor="middle">chr8_215</text>
<text x="588.3" y="148.5" font-size="6.4" text-anchor="middle">chr9_245</text>
<text x="598" y="162.2" font-size="6.4" text-anchor="start">chr7_42</text>
<text x="604.3" y="175.2" font-size="6.4" text-anchor="middle">chr2_23</text>
<text x="579.7" y="181.4" font-size="6.4" text-anchor="middle">chr3_467</text>
<text x="605.3" y="199.3" font-size="6.4" text-anchor="start">chr3_201</text>
<text x="598.9" y="225.4" font-size="6.4" text-anchor="start">chr6_718</text>
<text x="613.3" y="253.3" font-size="6.4" text-anchor="middle">chr1_892</text>
<text x="609.6" y="266.9" font-size="6.4" text-anchor="middle">chr2_666</text>
<text x="591.4" y="279.7" font-size="6.4" text-anchor="middle">chr1_618</text>
<text x="571.2" y="248.8" font-size="6.4" text-anchor="middle">chr8_441</text>
<text x="559.1" y="257.6" font-size="6.4" text-anchor="middle">chr1_849</text>
<text x="562.3" y="269.5" font-size="6.4" text-anchor="middle">chr7_141</text>
<text x="563" y="277.9" font-size="6.4" text-anchor="middle">chr4_715</text>
<text x="568.5" y="287.6" font-size="6.4" text-anchor="middle">chr6_323</text>
<text x="562.6" y="294" font-size="6.4" text-anchor="middle">chr4_716</text>
<text x="565" y="307.1" font-size="6.4" text-anchor="middle">chr3_980</text>
<text x="565.6" y="317.2" font-size="6.4" text-anchor="middle">chr1_669</text>
<text x="552.1" y="324.3" font-size="6.4" text-anchor="middle">chr1_821</text>
<text x="560.9" y="330.4" font-size="6.4" text-anchor="middle">chr2_190</text>
<text x="549.8" y="335.9" font-size="6.4" text-anchor="middle">chr4_645</text>
<text x="560.3" y="345.3" font-size="6.4" text-anchor="middle">chr1_841</text>
<text x="549.8" y="353.5" font-size="6.4" text-anchor="middle">chr2_621</text>
<text x="552.7" y="363.4" font-size="6.4" text-anchor="middle">chr6_324</text>
<text x="484.7" y="177.2" font-size="6.4" text-anchor="middle">chr1_142</text>
<text x="482" y="225.4" font-size="6.4" text-anchor="middle">chr4_339</text>
<text x="498.3" y="238.2" font-size="6.4" text-anchor="middle">chr3_228</text>
<text x="482.9" y="245.7" font-size="6.4" text-anchor="middle">chr3_416</text>
<text x="501.4" y="253.8" font-size="6.4" text-anchor="middle">chr3_411</text>
<text x="492.6" y="269.5" font-size="6.4" text-anchor="middle">chr21_6</text>
<text x="486.2" y="278.2" font-size="6.4" text-anchor="middle">chr3_415</text>
<text x="511.9" y="291.4" font-size="6.4" text-anchor="middle">chr2_657</text>
<text x="488" y="298.5" font-size="6.4" text-anchor="middle">chr2_654</text>
<text x="507.8" y="306" font-size="6.4" text-anchor="middle">chr1_226</text>
<text x="516.6" y="313.5" font-size="6.4" text-anchor="middle">chr19_88</text>
<text x="507.8" y="322.2" font-size="6.4" text-anchor="middle">chr8_807</text>
<text x="516.6" y="331.6" font-size="6.4" text-anchor="middle">chr1_836</text>
<text x="517.2" y="342.1" font-size="6.4" text-anchor="middle">chr1_635</text>
<text x="516" y="350.6" font-size="6.4" text-anchor="middle">chr2_376</text>
<text x="516" y="360.8" font-size="6.4" text-anchor="middle">chr4_354</text>
<path d="M522 21.8V399.5M549.6 21.8V399.5" stroke="#222" stroke-width="1.3" stroke-dasharray="6.4 3.24" stroke-dashoffset="4.2" fill="none"/>
<path d="M442 363.62H685" stroke="#222" stroke-width="1.3" stroke-dasharray="6.4 3.24" fill="none"/>
<path d="M442 21.8V399.5H685" stroke="#555" stroke-width="1.2" fill="none"/>
<path d="M435 382.4H442M435 288.5H442M435 194.6H442M435 100.7H442M480.6 399.5V406M535.8 399.5V406M591 399.5V406M646.2 399.5V406" stroke="#333" stroke-width="2" fill="none"/>
<text x="429.2" y="391.5" font-size="11.5" fill="#4d4d4d" text-anchor="end">0</text>
<text x="429.2" y="297.6" font-size="11.5" fill="#4d4d4d" text-anchor="end">10</text>
<text x="429.2" y="203.7" font-size="11.5" fill="#4d4d4d" text-anchor="end">20</text>
<text x="429.2" y="109.8" font-size="11.5" fill="#4d4d4d" text-anchor="end">30</text>
<text x="480.6" y="420.4" font-size="11.5" fill="#4d4d4d" text-anchor="middle">-2</text>
<text x="535.8" y="420.4" font-size="11.5" fill="#4d4d4d" text-anchor="middle">0</text>
<text x="591" y="420.4" font-size="11.5" fill="#4d4d4d" text-anchor="middle">2</text>
<text x="646.2" y="420.4" font-size="11.5" fill="#4d4d4d" text-anchor="middle">4</text>
<text transform="translate(406.2,209) rotate(-90)" font-size="12.2" text-anchor="middle">-Log<tspan font-size="8" dy="2.5">10</tspan><tspan dy="-2.5">(q)</tspan></text>
<text x="565.5" y="439.3" font-size="11.5" text-anchor="middle">Log<tspan font-size="8" dy="2.5">2</tspan><tspan dy="-2.5"> fold change</tspan></text>
<text x="577.6" y="396.5" font-size="10.2">Total = 12572 variables</text>
<circle cx="478.1" cy="454.2" r="3.1" fill="#6495ed"/>
<text x="486.9" y="458.2" font-size="11.2">Down-regulated</text>
<circle cx="579.7" cy="454.2" r="3.1" fill="#b2182b"/>
<text x="587.6" y="458.2" font-size="11.2">Up-regulated</text>
<circle cx="527.2" cy="470.5" r="3.1" fill="#808080"/>
<text x="535.3" y="474.5" font-size="11.2">Not signficant</text>
<text x="-0.4" y="495.8" font-size="14.6" font-weight="bold">c</text>
<path d="M92.4 502.3V651.8M157.3 502.3V651.8M222.2 502.3V651.8M30.6 505.7H277.5M30.6 534.65H277.5M30.6 563.6H277.5M30.6 592.55H277.5M30.6 621.5H277.5M30.6 650.45H277.5" stroke="#d4d4d4" stroke-width="0.9" stroke-dasharray="4 2.6" fill="none"/>
<ellipse cx="94.6" cy="564.9" rx="48.5" ry="18" transform="rotate(26 94.6 564.9)" fill="none" stroke="#1f2b8c" stroke-width="1.3"/>
<ellipse cx="208" cy="561.3" rx="55" ry="51" transform="rotate(-45 208 561.3)" fill="none" stroke="#ea5f6e" stroke-width="1.1"/>
<path fill="none" stroke="#4f5f9e" stroke-width="3.8" stroke-linecap="round" d="M41.8 553.3h0M50.9 553.3h0M52.2 540h0M69.7 538.9h0M65.1 548.4h0M76.3 549h0M78.8 546.3h0M81.2 545.5h0M78.6 553.9h0M68.9 556.6h0M70.8 558.5h0M82.2 557.9h0M85.8 557.9h0M71.6 564.1h0M75.5 569.8h0M71.8 573.6h0M90.7 544.2h0M96.8 545.7h0M101.6 528.5h0M95.5 553.7h0M96.4 562.6h0M88.6 568.3h0M105.9 564h0M111.2 564.9h0M106.1 570.2h0M106.9 574.6h0M95.5 573.1h0M93.2 575.9h0M88.8 576.9h0M97.9 578.4h0M100.4 585h0M127.7 553.7h0M123.4 582.6h0M139.7 588.3h0M116.2 594.3h0M127.9 595.3h0M161.8 593.6h0M182.6 593h0M134.5 607h0"/>
<circle cx="144.3" cy="530.7" r="1.9" fill="none" stroke="#ea5f6e" stroke-width="0.75"/>
<circle cx="128.7" cy="576.5" r="1.9" fill="none" stroke="#ea5f6e" stroke-width="0.75"/>
<circle cx="149.6" cy="572.1" r="1.9" fill="none" stroke="#ea5f6e" stroke-width="0.75"/>
<circle cx="155.8" cy="572.1" r="1.9" fill="none" stroke="#ea5f6e" stroke-width="0.75"/>
<circle cx="156.4" cy="560" r="1.9" fill="none" stroke="#ea5f6e" stroke-width="0.75"/>
<circle cx="153.4" cy="582" r="1.9" fill="none" stroke="#ea5f6e" stroke-width="0.75"/>
<circle cx="153.4" cy="584.5" r="1.9" fill="none" stroke="#ea5f6e" stroke-width="0.75"/>
<circle cx="158.5" cy="592.4" r="1.9" fill="none" stroke="#ea5f6e" stroke-width="0.75"/>
<circle cx="170.3" cy="514" r="1.9" fill="none" stroke="#ea5f6e" stroke-width="0.75"/>
<circle cx="185.1" cy="515.2" r="1.9" fill="none" stroke="#ea5f6e" stroke-width="0.75"/>
<circle cx="199.7" cy="511.4" r="1.9" fill="none" stroke="#ea5f6e" stroke-width="0.75"/>
<circle cx="204.7" cy="522.6" r="1.9" fill="none" stroke="#ea5f6e" stroke-width="0.75"/>
<circle cx="184.2" cy="533.8" r="1.9" fill="none" stroke="#ea5f6e" stroke-width="0.75"/>
<circle cx="169.7" cy="541" r="1.9" fill="none" stroke="#ea5f6e" stroke-width="0.75"/>
<circle cx="227.4" cy="521.3" r="1.9" fill="none" stroke="#ea5f6e" stroke-width="0.75"/>
<circle cx="219.3" cy="525.2" r="1.9" fill="none" stroke="#ea5f6e" stroke-width="0.75"/>
<circle cx="218.3" cy="526.6" r="1.9" fill="none" stroke="#ea5f6e" stroke-width="0.75"/>
<circle cx="221.2" cy="528.5" r="1.9" fill="none" stroke="#ea5f6e" stroke-width="0.75"/>
<circle cx="224" cy="529" r="1.9" fill="none" stroke="#ea5f6e" stroke-width="0.75"/>
<circle cx="220.6" cy="532.6" r="1.9" fill="none" stroke="#ea5f6e" stroke-width="0.75"/>
<circle cx="243.9" cy="524.3" r="1.9" fill="none" stroke="#ea5f6e" stroke-width="0.75"/>
<circle cx="251.2" cy="530.4" r="1.9" fill="none" stroke="#ea5f6e" stroke-width="0.75"/>
<circle cx="244.9" cy="534.2" r="1.9" fill="none" stroke="#ea5f6e" stroke-width="0.75"/>
<circle cx="237.9" cy="537" r="1.9" fill="none" stroke="#ea5f6e" stroke-width="0.75"/>
<circle cx="241.5" cy="537" r="1.9" fill="none" stroke="#ea5f6e" stroke-width="0.75"/>
<circle cx="248.7" cy="536.1" r="1.9" fill="none" stroke="#ea5f6e" stroke-width="0.75"/>
<circle cx="267.1" cy="539.3" r="1.9" fill="none" stroke="#ea5f6e" stroke-width="0.75"/>
<circle cx="230.7" cy="545.5" r="1.9" fill="none" stroke="#ea5f6e" stroke-width="0.75"/>
<circle cx="252.1" cy="545.5" r="1.9" fill="none" stroke="#ea5f6e" stroke-width="0.75"/>
<circle cx="264.4" cy="551.6" r="1.9" fill="none" stroke="#ea5f6e" stroke-width="0.75"/>
<circle cx="156.6" cy="560" r="1.9" fill="none" stroke="#ea5f6e" stroke-width="0.75"/>
<circle cx="186.4" cy="559.4" r="1.9" fill="none" stroke="#ea5f6e" stroke-width="0.75"/>
<circle cx="219.3" cy="566.4" r="1.9" fill="none" stroke="#ea5f6e" stroke-width="0.75"/>
<circle cx="150" cy="572.1" r="1.9" fill="none" stroke="#ea5f6e" stroke-width="0.75"/>
<circle cx="162.9" cy="578.8" r="1.9" fill="none" stroke="#ea5f6e" stroke-width="0.75"/>
<circle cx="194.2" cy="574.6" r="1.9" fill="none" stroke="#ea5f6e" stroke-width="0.75"/>
<circle cx="192.7" cy="579.7" r="1.9" fill="none" stroke="#ea5f6e" stroke-width="0.75"/>
<circle cx="241.1" cy="570.2" r="1.9" fill="none" stroke="#ea5f6e" stroke-width="0.75"/>
<circle cx="232.6" cy="575.9" r="1.9" fill="none" stroke="#ea5f6e" stroke-width="0.75"/>
<circle cx="225.9" cy="579.3" r="1.9" fill="none" stroke="#ea5f6e" stroke-width="0.75"/>
<circle cx="230.7" cy="579.3" r="1.9" fill="none" stroke="#ea5f6e" stroke-width="0.75"/>
<circle cx="179.4" cy="587.3" r="1.9" fill="none" stroke="#ea5f6e" stroke-width="0.75"/>
<circle cx="188.5" cy="587.3" r="1.9" fill="none" stroke="#ea5f6e" stroke-width="0.75"/>
<circle cx="205.4" cy="595.3" r="1.9" fill="none" stroke="#ea5f6e" stroke-width="0.75"/>
<circle cx="211.1" cy="599.6" r="1.9" fill="none" stroke="#ea5f6e" stroke-width="0.75"/>
<circle cx="250.6" cy="599.1" r="1.9" fill="none" stroke="#ea5f6e" stroke-width="0.75"/>
<circle cx="244.5" cy="625.2" r="1.9" fill="none" stroke="#ea5f6e" stroke-width="0.75"/>
<circle cx="202.8" cy="628.8" r="1.9" fill="none" stroke="#ea5f6e" stroke-width="0.75"/>
<circle cx="216.4" cy="632.8" r="1.9" fill="none" stroke="#ea5f6e" stroke-width="0.75"/>
<circle cx="214.1" cy="635.4" r="1.9" fill="none" stroke="#ea5f6e" stroke-width="0.75"/>
<circle cx="237.3" cy="645.7" r="1.9" fill="none" stroke="#ea5f6e" stroke-width="0.75"/>
<rect x="30.6" y="502.3" width="246.9" height="149.5" fill="none" stroke="#444" stroke-width="1"/>
<path d="M27.1 505.7H30.6M27.1 534.65H30.6M27.1 563.6H30.6M27.1 592.55H30.6M27.1 621.5H30.6M27.1 650.45H30.6M92.4 651.8V655.3M157.3 651.8V655.3M222.2 651.8V655.3" stroke="#444" stroke-width="0.9" fill="none"/>
<text x="24.6" y="508.6" font-size="8" fill="#4d4d4d" text-anchor="end">2</text>
<text x="24.6" y="537.55" font-size="8" fill="#4d4d4d" text-anchor="end">1</text>
<text x="24.6" y="566.5" font-size="8" fill="#4d4d4d" text-anchor="end">0</text>
<text x="24.6" y="595.45" font-size="8" fill="#4d4d4d" text-anchor="end">-1</text>
<text x="24.6" y="624.4" font-size="8" fill="#4d4d4d" text-anchor="end">-2</text>
<text x="24.6" y="653.35" font-size="8" fill="#4d4d4d" text-anchor="end">-3</text>
<text x="92.4" y="663.2" font-size="8" fill="#4d4d4d" text-anchor="middle">-1</text>
<text x="157.3" y="663.2" font-size="8" fill="#4d4d4d" text-anchor="middle">0</text>
<text x="222.2" y="663.2" font-size="8" fill="#4d4d4d" text-anchor="middle">1</text>
<text x="154.1" y="673.4" font-size="8" text-anchor="middle">standardized PC1 (28.6% explained var.)</text>
<text transform="translate(13.6,577.1) rotate(-90)" font-size="8" text-anchor="middle">standardized PC2 (8.4% explained var.)</text>
<path d="M111 685.1H124.9" stroke="#4f5f9e" stroke-width="1"/><circle cx="118" cy="685.1" r="1.9" fill="#4f5f9e"/>
<text x="131.1" y="688" font-size="8">NAP</text>
<path d="M154.8 685.1H168.7" stroke="#ea5f6e" stroke-width="1"/><circle cx="161.8" cy="685.1" r="1.9" fill="#fff" stroke="#ea5f6e" stroke-width="0.75"/>
<text x="174.9" y="688" font-size="8">Tumor</text>
<text x="294.6" y="497.1" font-size="14.6" font-weight="bold">d</text>
<path d="M328.5 498.8H682.5M328.5 515.3H682.5M328.5 536.5H682.5M328.5 552.3H682.5M328.5 568.5H682.5M328.5 589.3H682.5M328.5 605.2H682.5M328.5 643.6H682.5" stroke="#c4c4c4" stroke-width="1" stroke-dasharray="4 4" fill="none"/>
<path d="M325.3 498.8H328.5M325.3 515.3H328.5M325.3 536.5H328.5M325.3 552.3H328.5M325.3 568.5H328.5M325.3 589.3H328.5M325.3 605.2H328.5M325.3 643.6H328.5" stroke="#333" stroke-width="1" fill="none"/>
<text x="323.5" y="500.9" font-size="6" fill="#4d4d4d" text-anchor="end">500</text>
<text x="323.5" y="517.4" font-size="6" fill="#4d4d4d" text-anchor="end">250</text>
<text x="323.5" y="538.6" font-size="6" fill="#4d4d4d" text-anchor="end">100</text>
<text x="323.5" y="554.4" font-size="6" fill="#4d4d4d" text-anchor="end">50</text>
<text x="323.5" y="570.6" font-size="6" fill="#4d4d4d" text-anchor="end">25</text>
<text x="323.5" y="591.4" font-size="6" fill="#4d4d4d" text-anchor="end">10</text>
<text x="323.5" y="607.3" font-size="6" fill="#4d4d4d" text-anchor="end">5</text>
<text x="323.5" y="645.7" font-size="6" fill="#4d4d4d" text-anchor="end">0</text>
<text transform="translate(309,571) rotate(-90)" font-size="7.6" text-anchor="middle">Normalized counts (log<tspan font-size="5.3" dy="1.8">10</tspan><tspan dy="-1.8">)</tspan></text>
<circle cx="338.79" cy="518.6" r="2.1" fill="#4f5f9e" fill-opacity="0.15" stroke="#4f5f9e" stroke-opacity="0.2" stroke-width="0.55"/>
<circle cx="341.92" cy="541.48" r="2.1" fill="#4f5f9e" fill-opacity="0.15" stroke="#4f5f9e" stroke-opacity="0.2" stroke-width="0.55"/>
<circle cx="342.37" cy="542.38" r="2.1" fill="#4f5f9e" fill-opacity="0.15" stroke="#4f5f9e" stroke-opacity="0.2" stroke-width="0.55"/>
<circle cx="340.86" cy="512.81" r="2.1" fill="#4f5f9e" fill-opacity="0.15" stroke="#4f5f9e" stroke-opacity="0.2" stroke-width="0.55"/>
<circle cx="343.84" cy="519.97" r="2.1" fill="#4f5f9e" fill-opacity="0.15" stroke="#4f5f9e" stroke-opacity="0.2" stroke-width="0.55"/>
<circle cx="338.55" cy="532.33" r="2.1" fill="#4f5f9e" fill-opacity="0.15" stroke="#4f5f9e" stroke-opacity="0.2" stroke-width="0.55"/>
<circle cx="342.68" cy="528.17" r="2.1" fill="#4f5f9e" fill-opacity="0.15" stroke="#4f5f9e" stroke-opacity="0.2" stroke-width="0.55"/>
<circle cx="344.02" cy="546.04" r="2.1" fill="#4f5f9e" fill-opacity="0.15" stroke="#4f5f9e" stroke-opacity="0.2" stroke-width="0.55"/>
<circle cx="343.4" cy="532.97" r="2.1" fill="#4f5f9e" fill-opacity="0.15" stroke="#4f5f9e" stroke-opacity="0.2" stroke-width="0.55"/>
<circle cx="338.35" cy="519.44" r="2.1" fill="#4f5f9e" fill-opacity="0.15" stroke="#4f5f9e" stroke-opacity="0.2" stroke-width="0.55"/>
<circle cx="340.02" cy="532" r="2.1" fill="#4f5f9e" fill-opacity="0.15" stroke="#4f5f9e" stroke-opacity="0.2" stroke-width="0.55"/>
<circle cx="345.22" cy="543.81" r="2.1" fill="#4f5f9e" fill-opacity="0.15" stroke="#4f5f9e" stroke-opacity="0.2" stroke-width="0.55"/>
<circle cx="340.86" cy="542.06" r="2.1" fill="#4f5f9e" fill-opacity="0.15" stroke="#4f5f9e" stroke-opacity="0.2" stroke-width="0.55"/>
<circle cx="341.25" cy="512.51" r="2.1" fill="#4f5f9e" fill-opacity="0.15" stroke="#4f5f9e" stroke-opacity="0.2" stroke-width="0.55"/>
<circle cx="342.73" cy="542.76" r="2.1" fill="#4f5f9e" fill-opacity="0.15" stroke="#4f5f9e" stroke-opacity="0.2" stroke-width="0.55"/>
<circle cx="345.3" cy="536.39" r="2.1" fill="#4f5f9e" fill-opacity="0.15" stroke="#4f5f9e" stroke-opacity="0.2" stroke-width="0.55"/>
<circle cx="338.32" cy="529.6" r="2.1" fill="#4f5f9e" fill-opacity="0.15" stroke="#4f5f9e" stroke-opacity="0.2" stroke-width="0.55"/>
<circle cx="338.33" cy="512.4" r="2.1" fill="#4f5f9e" fill-opacity="0.15" stroke="#4f5f9e" stroke-opacity="0.2" stroke-width="0.55"/>
<circle cx="341.21" cy="528.12" r="2.1" fill="#4f5f9e" fill-opacity="0.15" stroke="#4f5f9e" stroke-opacity="0.2" stroke-width="0.55"/>
<circle cx="338.4" cy="537.1" r="2.1" fill="#4f5f9e" fill-opacity="0.15" stroke="#4f5f9e" stroke-opacity="0.2" stroke-width="0.55"/>
<circle cx="342.84" cy="515.1" r="2.1" fill="#4f5f9e" fill-opacity="0.15" stroke="#4f5f9e" stroke-opacity="0.2" stroke-width="0.55"/>
<circle cx="342.37" cy="542.06" r="2.1" fill="#4f5f9e" fill-opacity="0.15" stroke="#4f5f9e" stroke-opacity="0.2" stroke-width="0.55"/>
<circle cx="339.91" cy="514.7" r="2.1" fill="#4f5f9e" fill-opacity="0.15" stroke="#4f5f9e" stroke-opacity="0.2" stroke-width="0.55"/>
<circle cx="338.64" cy="553.48" r="2.1" fill="#4f5f9e" fill-opacity="0.15" stroke="#4f5f9e" stroke-opacity="0.2" stroke-width="0.55"/>
<circle cx="339.64" cy="528.65" r="2.1" fill="#4f5f9e" fill-opacity="0.15" stroke="#4f5f9e" stroke-opacity="0.2" stroke-width="0.55"/>
<circle cx="340.75" cy="512.85" r="2.1" fill="#4f5f9e" fill-opacity="0.15" stroke="#4f5f9e" stroke-opacity="0.2" stroke-width="0.55"/>
<circle cx="344.26" cy="522.37" r="2.1" fill="#4f5f9e" fill-opacity="0.15" stroke="#4f5f9e" stroke-opacity="0.2" stroke-width="0.55"/>
<circle cx="345.03" cy="533.63" r="2.1" fill="#4f5f9e" fill-opacity="0.15" stroke="#4f5f9e" stroke-opacity="0.2" stroke-width="0.55"/>
<circle cx="341.06" cy="519.95" r="2.1" fill="#4f5f9e" fill-opacity="0.15" stroke="#4f5f9e" stroke-opacity="0.2" stroke-width="0.55"/>
<circle cx="337.76" cy="548.35" r="2.1" fill="#4f5f9e" fill-opacity="0.15" stroke="#4f5f9e" stroke-opacity="0.2" stroke-width="0.55"/>
<circle cx="341.33" cy="545.38" r="2.1" fill="#4f5f9e" fill-opacity="0.15" stroke="#4f5f9e" stroke-opacity="0.2" stroke-width="0.55"/>
<circle cx="340.39" cy="534.78" r="2.1" fill="#4f5f9e" fill-opacity="0.15" stroke="#4f5f9e" stroke-opacity="0.2" stroke-width="0.55"/>
<circle cx="338.49" cy="536.99" r="2.1" fill="#4f5f9e" fill-opacity="0.15" stroke="#4f5f9e" stroke-opacity="0.2" stroke-width="0.55"/>
<circle cx="344.31" cy="541.71" r="2.1" fill="#4f5f9e" fill-opacity="0.15" stroke="#4f5f9e" stroke-opacity="0.2" stroke-width="0.55"/>
<circle cx="343.7" cy="547.42" r="2.1" fill="#4f5f9e" fill-opacity="0.15" stroke="#4f5f9e" stroke-opacity="0.2" stroke-width="0.55"/>
<circle cx="341.26" cy="538.28" r="2.1" fill="#4f5f9e" fill-opacity="0.15" stroke="#4f5f9e" stroke-opacity="0.2" stroke-width="0.55"/>
<circle cx="341.05" cy="540.97" r="2.1" fill="#4f5f9e" fill-opacity="0.15" stroke="#4f5f9e" stroke-opacity="0.2" stroke-width="0.55"/>
<circle cx="340.78" cy="539.73" r="2.1" fill="#4f5f9e" fill-opacity="0.15" stroke="#4f5f9e" stroke-opacity="0.2" stroke-width="0.55"/>
<circle cx="344.85" cy="515.08" r="2.1" fill="#4f5f9e" fill-opacity="0.15" stroke="#4f5f9e" stroke-opacity="0.2" stroke-width="0.55"/>
<circle cx="345.99" cy="530.1" r="2.1" fill="#4f5f9e" fill-opacity="0.15" stroke="#4f5f9e" stroke-opacity="0.2" stroke-width="0.55"/>
<circle cx="341.25" cy="510.1" r="2.1" fill="#4f5f9e" fill-opacity="0.15" stroke="#4f5f9e" stroke-opacity="0.2" stroke-width="0.55"/>
<circle cx="342.79" cy="561.2" r="2.1" fill="#4f5f9e" fill-opacity="0.15" stroke="#4f5f9e" stroke-opacity="0.2" stroke-width="0.55"/>
<path d="M341.9 512.1V529.5M341.9 541.4V553.5" stroke="#4f5f9e" stroke-width="1.15"/>
<rect x="337.2" y="529.5" width="9.4" height="11.9" fill="#4f5f9e" fill-opacity="0.12" stroke="#4f5f9e" stroke-width="1.2"/>
<path d="M337.2 534.5H346.6" stroke="#4f5f9e" stroke-width="2.1"/>
<circle cx="372.6" cy="599.87" r="2.1" fill="#4f5f9e" fill-opacity="0.15" stroke="#4f5f9e" stroke-opacity="0.2" stroke-width="0.55"/>
<circle cx="375.84" cy="585.29" r="2.1" fill="#4f5f9e" fill-opacity="0.15" stroke="#4f5f9e" stroke-opacity="0.2" stroke-width="0.55"/>
<circle cx="375.55" cy="582.91" r="2.1" fill="#4f5f9e" fill-opacity="0.15" stroke="#4f5f9e" stroke-opacity="0.2" stroke-width="0.55"/>
<circle cx="373.68" cy="588.82" r="2.1" fill="#4f5f9e" fill-opacity="0.15" stroke="#4f5f9e" stroke-opacity="0.2" stroke-width="0.55"/>
<circle cx="378.49" cy="588.76" r="2.1" fill="#4f5f9e" fill-opacity="0.15" stroke="#4f5f9e" stroke-opacity="0.2" stroke-width="0.55"/>
<circle cx="378.55" cy="587.71" r="2.1" fill="#4f5f9e" fill-opacity="0.15" stroke="#4f5f9e" stroke-opacity="0.2" stroke-width="0.55"/>
<circle cx="380.13" cy="597.41" r="2.1" fill="#4f5f9e" fill-opacity="0.15" stroke="#4f5f9e" stroke-opacity="0.2" stroke-width="0.55"/>
<circle cx="379.14" cy="590.35" r="2.1" fill="#4f5f9e" fill-opacity="0.15" stroke="#4f5f9e" stroke-opacity="0.2" stroke-width="0.55"/>
<circle cx="373.35" cy="598.64" r="2.1" fill="#4f5f9e" fill-opacity="0.15" stroke="#4f5f9e" stroke-opacity="0.2" stroke-width="0.55"/>
<circle cx="373.99" cy="588.49" r="2.1" fill="#4f5f9e" fill-opacity="0.15" stroke="#4f5f9e" stroke-opacity="0.2" stroke-width="0.55"/>
<circle cx="379.21" cy="575.23" r="2.1" fill="#4f5f9e" fill-opacity="0.15" stroke="#4f5f9e" stroke-opacity="0.2" stroke-width="0.55"/>
<circle cx="374.01" cy="583.33" r="2.1" fill="#4f5f9e" fill-opacity="0.15" stroke="#4f5f9e" stroke-opacity="0.2" stroke-width="0.55"/>
<circle cx="375.84" cy="579.37" r="2.1" fill="#4f5f9e" fill-opacity="0.15" stroke="#4f5f9e" stroke-opacity="0.2" stroke-width="0.55"/>
<circle cx="380.64" cy="588.02" r="2.1" fill="#4f5f9e" fill-opacity="0.15" stroke="#4f5f9e" stroke-opacity="0.2" stroke-width="0.55"/>
<circle cx="372.75" cy="582.69" r="2.1" fill="#4f5f9e" fill-opacity="0.15" stroke="#4f5f9e" stroke-opacity="0.2" stroke-width="0.55"/>
<circle cx="377.18" cy="602.98" r="2.1" fill="#4f5f9e" fill-opacity="0.15" stroke="#4f5f9e" stroke-opacity="0.2" stroke-width="0.55"/>
<circle cx="380.32" cy="579.17" r="2.1" fill="#4f5f9e" fill-opacity="0.15" stroke="#4f5f9e" stroke-opacity="0.2" stroke-width="0.55"/>
<circle cx="377.16" cy="589.63" r="2.1" fill="#4f5f9e" fill-opacity="0.15" stroke="#4f5f9e" stroke-opacity="0.2" stroke-width="0.55"/>
<circle cx="378.7" cy="590.45" r="2.1" fill="#4f5f9e" fill-opacity="0.15" stroke="#4f5f9e" stroke-opacity="0.2" stroke-width="0.55"/>
<circle cx="376.4" cy="590.2" r="2.1" fill="#4f5f9e" fill-opacity="0.15" stroke="#4f5f9e" stroke-opacity="0.2" stroke-width="0.55"/>
<circle cx="372.96" cy="580.04" r="2.1" fill="#4f5f9e" fill-opacity="0.15" stroke="#4f5f9e" stroke-opacity="0.2" stroke-width="0.55"/>
<circle cx="380.06" cy="577.75" r="2.1" fill="#4f5f9e" fill-opacity="0.15" stroke="#4f5f9e" stroke-opacity="0.2" stroke-width="0.55"/>
<circle cx="378.77" cy="591.43" r="2.1" fill="#4f5f9e" fill-opacity="0.15" stroke="#4f5f9e" stroke-opacity="0.2" stroke-width="0.55"/>
<circle cx="372.81" cy="582.12" r="2.1" fill="#4f5f9e" fill-opacity="0.15" stroke="#4f5f9e" stroke-opacity="0.2" stroke-width="0.55"/>
<circle cx="378.33" cy="579.84" r="2.1" fill="#4f5f9e" fill-opacity="0.15" stroke="#4f5f9e" stroke-opacity="0.2" stroke-width="0.55"/>
<circle cx="374.13" cy="583.89" r="2.1" fill="#4f5f9e" fill-opacity="0.15" stroke="#4f5f9e" stroke-opacity="0.2" stroke-width="0.55"/>
<circle cx="373.06" cy="576.08" r="2.1" fill="#4f5f9e" fill-opacity="0.15" stroke="#4f5f9e" stroke-opacity="0.2" stroke-width="0.55"/>
<circle cx="377.11" cy="587.9" r="2.1" fill="#4f5f9e" fill-opacity="0.15" stroke="#4f5f9e" stroke-opacity="0.2" stroke-width="0.55"/>
<circle cx="375.37" cy="590.96" r="2.1" fill="#4f5f9e" fill-opacity="0.15" stroke="#4f5f9e" stroke-opacity="0.2" stroke-width="0.55"/>
<circle cx="380.7" cy="593.29" r="2.1" fill="#4f5f9e" fill-opacity="0.15" stroke="#4f5f9e" stroke-opacity="0.2" stroke-width="0.55"/>
<circle cx="380.98" cy="582.99" r="2.1" fill="#4f5f9e" fill-opacity="0.15" stroke="#4f5f9e" stroke-opacity="0.2" stroke-width="0.55"/>
<circle cx="375.5" cy="594.37" r="2.1" fill="#4f5f9e" fill-opacity="0.15" stroke="#4f5f9e" stroke-opacity="0.2" stroke-width="0.55"/>
<circle cx="374.15" cy="591" r="2.1" fill="#4f5f9e" fill-opacity="0.15" stroke="#4f5f9e" stroke-opacity="0.2" stroke-width="0.55"/>
<circle cx="373.53" cy="584.31" r="2.1" fill="#4f5f9e" fill-opacity="0.15" stroke="#4f5f9e" stroke-opacity="0.2" stroke-width="0.55"/>
<circle cx="375.7" cy="603.94" r="2.1" fill="#4f5f9e" fill-opacity="0.15" stroke="#4f5f9e" stroke-opacity="0.2" stroke-width="0.55"/>
<circle cx="376.99" cy="598.34" r="2.1" fill="#4f5f9e" fill-opacity="0.15" stroke="#4f5f9e" stroke-opacity="0.2" stroke-width="0.55"/>
<circle cx="374.53" cy="589.55" r="2.1" fill="#4f5f9e" fill-opacity="0.15" stroke="#4f5f9e" stroke-opacity="0.2" stroke-width="0.55"/>
<circle cx="374.2" cy="588.38" r="2.1" fill="#4f5f9e" fill-opacity="0.15" stroke="#4f5f9e" stroke-opacity="0.2" stroke-width="0.55"/>
<circle cx="372.69" cy="592.64" r="2.1" fill="#4f5f9e" fill-opacity="0.15" stroke="#4f5f9e" stroke-opacity="0.2" stroke-width="0.55"/>
<circle cx="373" cy="591.2" r="2.1" fill="#4f5f9e" fill-opacity="0.15" stroke="#4f5f9e" stroke-opacity="0.2" stroke-width="0.55"/>
<circle cx="376.3" cy="551" r="2.1" fill="#4f5f9e" fill-opacity="0.15" stroke="#4f5f9e" stroke-opacity="0.2" stroke-width="0.55"/>
<circle cx="377.5" cy="564.2" r="2.1" fill="#4f5f9e" fill-opacity="0.15" stroke="#4f5f9e" stroke-opacity="0.2" stroke-width="0.55"/>
<circle cx="377.01" cy="623.6" r="2.1" fill="#4f5f9e" fill-opacity="0.15" stroke="#4f5f9e" stroke-opacity="0.2" stroke-width="0.55"/>
<path d="M376.8 574.5V583.2M376.8 593.2V604.2" stroke="#4f5f9e" stroke-width="1.15"/>
<rect x="372.1" y="583.2" width="9.4" height="10" fill="#4f5f9e" fill-opacity="0.12" stroke="#4f5f9e" stroke-width="1.2"/>
<path d="M372.1 587H381.5" stroke="#4f5f9e" stroke-width="2.1"/>
<circle cx="409.77" cy="534.64" r="2.1" fill="#4f5f9e" fill-opacity="0.15" stroke="#4f5f9e" stroke-opacity="0.2" stroke-width="0.55"/>
<circle cx="415.79" cy="550.37" r="2.1" fill="#4f5f9e" fill-opacity="0.15" stroke="#4f5f9e" stroke-opacity="0.2" stroke-width="0.55"/>
<circle cx="415.4" cy="580.75" r="2.1" fill="#4f5f9e" fill-opacity="0.15" stroke="#4f5f9e" stroke-opacity="0.2" stroke-width="0.55"/>
<circle cx="415.72" cy="581.28" r="2.1" fill="#4f5f9e" fill-opacity="0.15" stroke="#4f5f9e" stroke-opacity="0.2" stroke-width="0.55"/>
<circle cx="409.53" cy="540.13" r="2.1" fill="#4f5f9e" fill-opacity="0.15" stroke="#4f5f9e" stroke-opacity="0.2" stroke-width="0.55"/>
<circle cx="410.38" cy="516.93" r="2.1" fill="#4f5f9e" fill-opacity="0.15" stroke="#4f5f9e" stroke-opacity="0.2" stroke-width="0.55"/>
<circle cx="409.2" cy="566.17" r="2.1" fill="#4f5f9e" fill-opacity="0.15" stroke="#4f5f9e" stroke-opacity="0.2" stroke-width="0.55"/>
<circle cx="412.65" cy="543.19" r="2.1" fill="#4f5f9e" fill-opacity="0.15" stroke="#4f5f9e" stroke-opacity="0.2" stroke-width="0.55"/>
<circle cx="409" cy="515.25" r="2.1" fill="#4f5f9e" fill-opacity="0.15" stroke="#4f5f9e" stroke-opacity="0.2" stroke-width="0.55"/>
<circle cx="408.87" cy="540.29" r="2.1" fill="#4f5f9e" fill-opacity="0.15" stroke="#4f5f9e" stroke-opacity="0.2" stroke-width="0.55"/>
<circle cx="413.52" cy="507.11" r="2.1" fill="#4f5f9e" fill-opacity="0.15" stroke="#4f5f9e" stroke-opacity="0.2" stroke-width="0.55"/>
<circle cx="412.78" cy="505.46" r="2.1" fill="#4f5f9e" fill-opacity="0.15" stroke="#4f5f9e" stroke-opacity="0.2" stroke-width="0.55"/>
<circle cx="412.62" cy="542.88" r="2.1" fill="#4f5f9e" fill-opacity="0.15" stroke="#4f5f9e" stroke-opacity="0.2" stroke-width="0.55"/>
<circle cx="413.71" cy="580.22" r="2.1" fill="#4f5f9e" fill-opacity="0.15" stroke="#4f5f9e" stroke-opacity="0.2" stroke-width="0.55"/>
<circle cx="410.28" cy="544.89" r="2.1" fill="#4f5f9e" fill-opacity="0.15" stroke="#4f5f9e" stroke-opacity="0.2" stroke-width="0.55"/>
<circle cx="411.45" cy="545.11" r="2.1" fill="#4f5f9e" fill-opacity="0.15" stroke="#4f5f9e" stroke-opacity="0.2" stroke-width="0.55"/>
<circle cx="414.57" cy="563.99" r="2.1" fill="#4f5f9e" fill-opacity="0.15" stroke="#4f5f9e" stroke-opacity="0.2" stroke-width="0.55"/>
<circle cx="413.57" cy="504.21" r="2.1" fill="#4f5f9e" fill-opacity="0.15" stroke="#4f5f9e" stroke-opacity="0.2" stroke-width="0.55"/>
<circle cx="408.01" cy="544.71" r="2.1" fill="#4f5f9e" fill-opacity="0.15" stroke="#4f5f9e" stroke-opacity="0.2" stroke-width="0.55"/>
<circle cx="407.76" cy="552.92" r="2.1" fill="#4f5f9e" fill-opacity="0.15" stroke="#4f5f9e" stroke-opacity="0.2" stroke-width="0.55"/>
<circle cx="408.23" cy="536.86" r="2.1" fill="#4f5f9e" fill-opacity="0.15" stroke="#4f5f9e" stroke-opacity="0.2" stroke-width="0.55"/>
<circle cx="412.98" cy="583.46" r="2.1" fill="#4f5f9e" fill-opacity="0.15" stroke="#4f5f9e" stroke-opacity="0.2" stroke-width="0.55"/>
<circle cx="411.75" cy="552.23" r="2.1" fill="#4f5f9e" fill-opacity="0.15" stroke="#4f5f9e" stroke-opacity="0.2" stroke-width="0.55"/>
<circle cx="410.49" cy="548.03" r="2.1" fill="#4f5f9e" fill-opacity="0.15" stroke="#4f5f9e" stroke-opacity="0.2" stroke-width="0.55"/>
<circle cx="410.71" cy="540.19" r="2.1" fill="#4f5f9e" fill-opacity="0.15" stroke="#4f5f9e" stroke-opacity="0.2" stroke-width="0.55"/>
<circle cx="414.87" cy="546.39" r="2.1" fill="#4f5f9e" fill-opacity="0.15" stroke="#4f5f9e" stroke-opacity="0.2" stroke-width="0.55"/>
<circle cx="413.28" cy="501.31" r="2.1" fill="#4f5f9e" fill-opacity="0.15" stroke="#4f5f9e" stroke-opacity="0.2" stroke-width="0.55"/>
<circle cx="414.85" cy="543.55" r="2.1" fill="#4f5f9e" fill-opacity="0.15" stroke="#4f5f9e" stroke-opacity="0.2" stroke-width="0.55"/>
<circle cx="413.89" cy="530.43" r="2.1" fill="#4f5f9e" fill-opacity="0.15" stroke="#4f5f9e" stroke-opacity="0.2" stroke-width="0.55"/>
<circle cx="411.28" cy="536.45" r="2.1" fill="#4f5f9e" fill-opacity="0.15" stroke="#4f5f9e" stroke-opacity="0.2" stroke-width="0.55"/>
<circle cx="410.25" cy="508.52" r="2.1" fill="#4f5f9e" fill-opacity="0.15" stroke="#4f5f9e" stroke-opacity="0.2" stroke-width="0.55"/>
<circle cx="412.57" cy="564.68" r="2.1" fill="#4f5f9e" fill-opacity="0.15" stroke="#4f5f9e" stroke-opacity="0.2" stroke-width="0.55"/>
<circle cx="407.63" cy="531.1" r="2.1" fill="#4f5f9e" fill-opacity="0.15" stroke="#4f5f9e" stroke-opacity="0.2" stroke-width="0.55"/>
<circle cx="413.15" cy="549.91" r="2.1" fill="#4f5f9e" fill-opacity="0.15" stroke="#4f5f9e" stroke-opacity="0.2" stroke-width="0.55"/>
<circle cx="409.21" cy="536.25" r="2.1" fill="#4f5f9e" fill-opacity="0.15" stroke="#4f5f9e" stroke-opacity="0.2" stroke-width="0.55"/>
<circle cx="409.26" cy="530.24" r="2.1" fill="#4f5f9e" fill-opacity="0.15" stroke="#4f5f9e" stroke-opacity="0.2" stroke-width="0.55"/>
<circle cx="411.04" cy="547.94" r="2.1" fill="#4f5f9e" fill-opacity="0.15" stroke="#4f5f9e" stroke-opacity="0.2" stroke-width="0.55"/>
<circle cx="415.45" cy="583.57" r="2.1" fill="#4f5f9e" fill-opacity="0.15" stroke="#4f5f9e" stroke-opacity="0.2" stroke-width="0.55"/>
<circle cx="407.92" cy="517.08" r="2.1" fill="#4f5f9e" fill-opacity="0.15" stroke="#4f5f9e" stroke-opacity="0.2" stroke-width="0.55"/>
<circle cx="411.39" cy="566.16" r="2.1" fill="#4f5f9e" fill-opacity="0.15" stroke="#4f5f9e" stroke-opacity="0.2" stroke-width="0.55"/>
<circle cx="411.96" cy="588.6" r="2.1" fill="#4f5f9e" fill-opacity="0.15" stroke="#4f5f9e" stroke-opacity="0.2" stroke-width="0.55"/>
<path d="M411.7 501V533.4M411.7 554.6V583.6" stroke="#4f5f9e" stroke-width="1.15"/>
<rect x="407" y="533.4" width="9.4" height="21.2" fill="#4f5f9e" fill-opacity="0.12" stroke="#4f5f9e" stroke-width="1.2"/>
<path d="M407 539.8H416.4" stroke="#4f5f9e" stroke-width="2.1"/>
<circle cx="450.69" cy="563.9" r="2.1" fill="#4f5f9e" fill-opacity="0.15" stroke="#4f5f9e" stroke-opacity="0.2" stroke-width="0.55"/>
<circle cx="445.85" cy="555.09" r="2.1" fill="#4f5f9e" fill-opacity="0.15" stroke="#4f5f9e" stroke-opacity="0.2" stroke-width="0.55"/>
<circle cx="451.13" cy="567.85" r="2.1" fill="#4f5f9e" fill-opacity="0.15" stroke="#4f5f9e" stroke-opacity="0.2" stroke-width="0.55"/>
<circle cx="450.82" cy="547.5" r="2.1" fill="#4f5f9e" fill-opacity="0.15" stroke="#4f5f9e" stroke-opacity="0.2" stroke-width="0.55"/>
<circle cx="451.18" cy="534.73" r="2.1" fill="#4f5f9e" fill-opacity="0.15" stroke="#4f5f9e" stroke-opacity="0.2" stroke-width="0.55"/>
<circle cx="450.14" cy="541.42" r="2.1" fill="#4f5f9e" fill-opacity="0.15" stroke="#4f5f9e" stroke-opacity="0.2" stroke-width="0.55"/>
<circle cx="449.96" cy="526.23" r="2.1" fill="#4f5f9e" fill-opacity="0.15" stroke="#4f5f9e" stroke-opacity="0.2" stroke-width="0.55"/>
<circle cx="445.36" cy="542.36" r="2.1" fill="#4f5f9e" fill-opacity="0.15" stroke="#4f5f9e" stroke-opacity="0.2" stroke-width="0.55"/>
<circle cx="449.5" cy="545.89" r="2.1" fill="#4f5f9e" fill-opacity="0.15" stroke="#4f5f9e" stroke-opacity="0.2" stroke-width="0.55"/>
<circle cx="443.16" cy="540.06" r="2.1" fill="#4f5f9e" fill-opacity="0.15" stroke="#4f5f9e" stroke-opacity="0.2" stroke-width="0.55"/>
<circle cx="447.74" cy="542.54" r="2.1" fill="#4f5f9e" fill-opacity="0.15" stroke="#4f5f9e" stroke-opacity="0.2" stroke-width="0.55"/>
<circle cx="447.3" cy="549.24" r="2.1" fill="#4f5f9e" fill-opacity="0.15" stroke="#4f5f9e" stroke-opacity="0.2" stroke-width="0.55"/>
<circle cx="449.59" cy="537.89" r="2.1" fill="#4f5f9e" fill-opacity="0.15" stroke="#4f5f9e" stroke-opacity="0.2" stroke-width="0.55"/>
<circle cx="446.06" cy="556.34" r="2.1" fill="#4f5f9e" fill-opacity="0.15" stroke="#4f5f9e" stroke-opacity="0.2" stroke-width="0.55"/>
<circle cx="445.26" cy="560.92" r="2.1" fill="#4f5f9e" fill-opacity="0.15" stroke="#4f5f9e" stroke-opacity="0.2" stroke-width="0.55"/>
<circle cx="450.1" cy="525.87" r="2.1" fill="#4f5f9e" fill-opacity="0.15" stroke="#4f5f9e" stroke-opacity="0.2" stroke-width="0.55"/>
<circle cx="451.09" cy="524.31" r="2.1" fill="#4f5f9e" fill-opacity="0.15" stroke="#4f5f9e" stroke-opacity="0.2" stroke-width="0.55"/>
<circle cx="448.07" cy="527.19" r="2.1" fill="#4f5f9e" fill-opacity="0.15" stroke="#4f5f9e" stroke-opacity="0.2" stroke-width="0.55"/>
<circle cx="442.92" cy="559.99" r="2.1" fill="#4f5f9e" fill-opacity="0.15" stroke="#4f5f9e" stroke-opacity="0.2" stroke-width="0.55"/>
<circle cx="447.35" cy="541.45" r="2.1" fill="#4f5f9e" fill-opacity="0.15" stroke="#4f5f9e" stroke-opacity="0.2" stroke-width="0.55"/>
<circle cx="444.57" cy="551.6" r="2.1" fill="#4f5f9e" fill-opacity="0.15" stroke="#4f5f9e" stroke-opacity="0.2" stroke-width="0.55"/>
<circle cx="443.86" cy="546.65" r="2.1" fill="#4f5f9e" fill-opacity="0.15" stroke="#4f5f9e" stroke-opacity="0.2" stroke-width="0.55"/>
<circle cx="444.33" cy="543.59" r="2.1" fill="#4f5f9e" fill-opacity="0.15" stroke="#4f5f9e" stroke-opacity="0.2" stroke-width="0.55"/>
<circle cx="445.98" cy="539.55" r="2.1" fill="#4f5f9e" fill-opacity="0.15" stroke="#4f5f9e" stroke-opacity="0.2" stroke-width="0.55"/>
<circle cx="450.67" cy="528.45" r="2.1" fill="#4f5f9e" fill-opacity="0.15" stroke="#4f5f9e" stroke-opacity="0.2" stroke-width="0.55"/>
<circle cx="449.18" cy="523.13" r="2.1" fill="#4f5f9e" fill-opacity="0.15" stroke="#4f5f9e" stroke-opacity="0.2" stroke-width="0.55"/>
<circle cx="442.97" cy="541.3" r="2.1" fill="#4f5f9e" fill-opacity="0.15" stroke="#4f5f9e" stroke-opacity="0.2" stroke-width="0.55"/>
<circle cx="445.88" cy="566.77" r="2.1" fill="#4f5f9e" fill-opacity="0.15" stroke="#4f5f9e" stroke-opacity="0.2" stroke-width="0.55"/>
<circle cx="443.45" cy="535.37" r="2.1" fill="#4f5f9e" fill-opacity="0.15" stroke="#4f5f9e" stroke-opacity="0.2" stroke-width="0.55"/>
<circle cx="450.9" cy="535.43" r="2.1" fill="#4f5f9e" fill-opacity="0.15" stroke="#4f5f9e" stroke-opacity="0.2" stroke-width="0.55"/>
<circle cx="447.17" cy="548.03" r="2.1" fill="#4f5f9e" fill-opacity="0.15" stroke="#4f5f9e" stroke-opacity="0.2" stroke-width="0.55"/>
<circle cx="448.5" cy="560.31" r="2.1" fill="#4f5f9e" fill-opacity="0.15" stroke="#4f5f9e" stroke-opacity="0.2" stroke-width="0.55"/>
<circle cx="447.23" cy="560.02" r="2.1" fill="#4f5f9e" fill-opacity="0.15" stroke="#4f5f9e" stroke-opacity="0.2" stroke-width="0.55"/>
<circle cx="451.18" cy="554.14" r="2.1" fill="#4f5f9e" fill-opacity="0.15" stroke="#4f5f9e" stroke-opacity="0.2" stroke-width="0.55"/>
<circle cx="445.27" cy="546.55" r="2.1" fill="#4f5f9e" fill-opacity="0.15" stroke="#4f5f9e" stroke-opacity="0.2" stroke-width="0.55"/>
<circle cx="449.23" cy="563.46" r="2.1" fill="#4f5f9e" fill-opacity="0.15" stroke="#4f5f9e" stroke-opacity="0.2" stroke-width="0.55"/>
<circle cx="449.86" cy="551.97" r="2.1" fill="#4f5f9e" fill-opacity="0.15" stroke="#4f5f9e" stroke-opacity="0.2" stroke-width="0.55"/>
<circle cx="445.03" cy="526.63" r="2.1" fill="#4f5f9e" fill-opacity="0.15" stroke="#4f5f9e" stroke-opacity="0.2" stroke-width="0.55"/>
<circle cx="451" cy="523.78" r="2.1" fill="#4f5f9e" fill-opacity="0.15" stroke="#4f5f9e" stroke-opacity="0.2" stroke-width="0.55"/>
<circle cx="444.37" cy="552.9" r="2.1" fill="#4f5f9e" fill-opacity="0.15" stroke="#4f5f9e" stroke-opacity="0.2" stroke-width="0.55"/>
<circle cx="447.4" cy="574.5" r="2.1" fill="#4f5f9e" fill-opacity="0.15" stroke="#4f5f9e" stroke-opacity="0.2" stroke-width="0.55"/>
<path d="M447.1 522.6V540.7M447.1 553.5V572.2" stroke="#4f5f9e" stroke-width="1.15"/>
<rect x="442.4" y="540.7" width="9.4" height="12.8" fill="#4f5f9e" fill-opacity="0.12" stroke="#4f5f9e" stroke-width="1.2"/>
<path d="M442.4 548.9H451.8" stroke="#4f5f9e" stroke-width="2.1"/>
<circle cx="481.44" cy="569.59" r="2.1" fill="#4f5f9e" fill-opacity="0.15" stroke="#4f5f9e" stroke-opacity="0.2" stroke-width="0.55"/>
<circle cx="481.15" cy="550.18" r="2.1" fill="#4f5f9e" fill-opacity="0.15" stroke="#4f5f9e" stroke-opacity="0.2" stroke-width="0.55"/>
<circle cx="486.03" cy="575.62" r="2.1" fill="#4f5f9e" fill-opacity="0.15" stroke="#4f5f9e" stroke-opacity="0.2" stroke-width="0.55"/>
<circle cx="478.06" cy="560.89" r="2.1" fill="#4f5f9e" fill-opacity="0.15" stroke="#4f5f9e" stroke-opacity="0.2" stroke-width="0.55"/>
<circle cx="478.82" cy="544.41" r="2.1" fill="#4f5f9e" fill-opacity="0.15" stroke="#4f5f9e" stroke-opacity="0.2" stroke-width="0.55"/>
<circle cx="483.05" cy="529.2" r="2.1" fill="#4f5f9e" fill-opacity="0.15" stroke="#4f5f9e" stroke-opacity="0.2" stroke-width="0.55"/>
<circle cx="486.14" cy="548" r="2.1" fill="#4f5f9e" fill-opacity="0.15" stroke="#4f5f9e" stroke-opacity="0.2" stroke-width="0.55"/>
<circle cx="482.33" cy="556.21" r="2.1" fill="#4f5f9e" fill-opacity="0.15" stroke="#4f5f9e" stroke-opacity="0.2" stroke-width="0.55"/>
<circle cx="484.21" cy="528.12" r="2.1" fill="#4f5f9e" fill-opacity="0.15" stroke="#4f5f9e" stroke-opacity="0.2" stroke-width="0.55"/>
<circle cx="481.87" cy="561.43" r="2.1" fill="#4f5f9e" fill-opacity="0.15" stroke="#4f5f9e" stroke-opacity="0.2" stroke-width="0.55"/>
<circle cx="484.27" cy="534.37" r="2.1" fill="#4f5f9e" fill-opacity="0.15" stroke="#4f5f9e" stroke-opacity="0.2" stroke-width="0.55"/>
<circle cx="483.66" cy="531.33" r="2.1" fill="#4f5f9e" fill-opacity="0.15" stroke="#4f5f9e" stroke-opacity="0.2" stroke-width="0.55"/>
<circle cx="482.88" cy="566.28" r="2.1" fill="#4f5f9e" fill-opacity="0.15" stroke="#4f5f9e" stroke-opacity="0.2" stroke-width="0.55"/>
<circle cx="478.56" cy="534.41" r="2.1" fill="#4f5f9e" fill-opacity="0.15" stroke="#4f5f9e" stroke-opacity="0.2" stroke-width="0.55"/>
<circle cx="484.03" cy="554.8" r="2.1" fill="#4f5f9e" fill-opacity="0.15" stroke="#4f5f9e" stroke-opacity="0.2" stroke-width="0.55"/>
<circle cx="482.85" cy="550.75" r="2.1" fill="#4f5f9e" fill-opacity="0.15" stroke="#4f5f9e" stroke-opacity="0.2" stroke-width="0.55"/>
<circle cx="483.36" cy="528.23" r="2.1" fill="#4f5f9e" fill-opacity="0.15" stroke="#4f5f9e" stroke-opacity="0.2" stroke-width="0.55"/>
<circle cx="485.88" cy="535.52" r="2.1" fill="#4f5f9e" fill-opacity="0.15" stroke="#4f5f9e" stroke-opacity="0.2" stroke-width="0.55"/>
<circle cx="480.25" cy="525.63" r="2.1" fill="#4f5f9e" fill-opacity="0.15" stroke="#4f5f9e" stroke-opacity="0.2" stroke-width="0.55"/>
<circle cx="486.1" cy="526.91" r="2.1" fill="#4f5f9e" fill-opacity="0.15" stroke="#4f5f9e" stroke-opacity="0.2" stroke-width="0.55"/>
<circle cx="479.26" cy="539.86" r="2.1" fill="#4f5f9e" fill-opacity="0.15" stroke="#4f5f9e" stroke-opacity="0.2" stroke-width="0.55"/>
<circle cx="482.19" cy="556.09" r="2.1" fill="#4f5f9e" fill-opacity="0.15" stroke="#4f5f9e" stroke-opacity="0.2" stroke-width="0.55"/>
<circle cx="484.41" cy="551.3" r="2.1" fill="#4f5f9e" fill-opacity="0.15" stroke="#4f5f9e" stroke-opacity="0.2" stroke-width="0.55"/>
<circle cx="479.19" cy="554.73" r="2.1" fill="#4f5f9e" fill-opacity="0.15" stroke="#4f5f9e" stroke-opacity="0.2" stroke-width="0.55"/>
<circle cx="480.54" cy="570.53" r="2.1" fill="#4f5f9e" fill-opacity="0.15" stroke="#4f5f9e" stroke-opacity="0.2" stroke-width="0.55"/>
<circle cx="480.6" cy="542.06" r="2.1" fill="#4f5f9e" fill-opacity="0.15" stroke="#4f5f9e" stroke-opacity="0.2" stroke-width="0.55"/>
<circle cx="486.06" cy="542.58" r="2.1" fill="#4f5f9e" fill-opacity="0.15" stroke="#4f5f9e" stroke-opacity="0.2" stroke-width="0.55"/>
<circle cx="483.03" cy="555.03" r="2.1" fill="#4f5f9e" fill-opacity="0.15" stroke="#4f5f9e" stroke-opacity="0.2" stroke-width="0.55"/>
<circle cx="481.35" cy="559.07" r="2.1" fill="#4f5f9e" fill-opacity="0.15" stroke="#4f5f9e" stroke-opacity="0.2" stroke-width="0.55"/>
<circle cx="481.69" cy="540.79" r="2.1" fill="#4f5f9e" fill-opacity="0.15" stroke="#4f5f9e" stroke-opacity="0.2" stroke-width="0.55"/>
<circle cx="484.95" cy="547.12" r="2.1" fill="#4f5f9e" fill-opacity="0.15" stroke="#4f5f9e" stroke-opacity="0.2" stroke-width="0.55"/>
<circle cx="478.49" cy="568.3" r="2.1" fill="#4f5f9e" fill-opacity="0.15" stroke="#4f5f9e" stroke-opacity="0.2" stroke-width="0.55"/>
<circle cx="480.27" cy="573.65" r="2.1" fill="#4f5f9e" fill-opacity="0.15" stroke="#4f5f9e" stroke-opacity="0.2" stroke-width="0.55"/>
<circle cx="478.26" cy="530.89" r="2.1" fill="#4f5f9e" fill-opacity="0.15" stroke="#4f5f9e" stroke-opacity="0.2" stroke-width="0.55"/>
<circle cx="478.55" cy="560.71" r="2.1" fill="#4f5f9e" fill-opacity="0.15" stroke="#4f5f9e" stroke-opacity="0.2" stroke-width="0.55"/>
<circle cx="484.33" cy="559.56" r="2.1" fill="#4f5f9e" fill-opacity="0.15" stroke="#4f5f9e" stroke-opacity="0.2" stroke-width="0.55"/>
<circle cx="481" cy="562.39" r="2.1" fill="#4f5f9e" fill-opacity="0.15" stroke="#4f5f9e" stroke-opacity="0.2" stroke-width="0.55"/>
<circle cx="486.17" cy="553.86" r="2.1" fill="#4f5f9e" fill-opacity="0.15" stroke="#4f5f9e" stroke-opacity="0.2" stroke-width="0.55"/>
<circle cx="482.42" cy="566.82" r="2.1" fill="#4f5f9e" fill-opacity="0.15" stroke="#4f5f9e" stroke-opacity="0.2" stroke-width="0.55"/>
<circle cx="480.12" cy="553.94" r="2.1" fill="#4f5f9e" fill-opacity="0.15" stroke="#4f5f9e" stroke-opacity="0.2" stroke-width="0.55"/>
<path d="M482.1 525.4V544.3M482.1 557.8V576.1" stroke="#4f5f9e" stroke-width="1.15"/>
<rect x="477.4" y="544.3" width="9.4" height="13.5" fill="#4f5f9e" fill-opacity="0.12" stroke="#4f5f9e" stroke-width="1.2"/>
<path d="M477.4 545.9H486.8" stroke="#4f5f9e" stroke-width="2.1"/>
<circle cx="514.69" cy="574.28" r="2.1" fill="#4f5f9e" fill-opacity="0.15" stroke="#4f5f9e" stroke-opacity="0.2" stroke-width="0.55"/>
<circle cx="514.08" cy="586.51" r="2.1" fill="#4f5f9e" fill-opacity="0.15" stroke="#4f5f9e" stroke-opacity="0.2" stroke-width="0.55"/>
<circle cx="513.65" cy="573.34" r="2.1" fill="#4f5f9e" fill-opacity="0.15" stroke="#4f5f9e" stroke-opacity="0.2" stroke-width="0.55"/>
<circle cx="519.45" cy="562.6" r="2.1" fill="#4f5f9e" fill-opacity="0.15" stroke="#4f5f9e" stroke-opacity="0.2" stroke-width="0.55"/>
<circle cx="519.5" cy="572.84" r="2.1" fill="#4f5f9e" fill-opacity="0.15" stroke="#4f5f9e" stroke-opacity="0.2" stroke-width="0.55"/>
<circle cx="519.45" cy="570.83" r="2.1" fill="#4f5f9e" fill-opacity="0.15" stroke="#4f5f9e" stroke-opacity="0.2" stroke-width="0.55"/>
<circle cx="513.22" cy="576.53" r="2.1" fill="#4f5f9e" fill-opacity="0.15" stroke="#4f5f9e" stroke-opacity="0.2" stroke-width="0.55"/>
<circle cx="516.49" cy="571.09" r="2.1" fill="#4f5f9e" fill-opacity="0.15" stroke="#4f5f9e" stroke-opacity="0.2" stroke-width="0.55"/>
<circle cx="516.35" cy="569.72" r="2.1" fill="#4f5f9e" fill-opacity="0.15" stroke="#4f5f9e" stroke-opacity="0.2" stroke-width="0.55"/>
<circle cx="517.88" cy="589.2" r="2.1" fill="#4f5f9e" fill-opacity="0.15" stroke="#4f5f9e" stroke-opacity="0.2" stroke-width="0.55"/>
<circle cx="513.85" cy="573.19" r="2.1" fill="#4f5f9e" fill-opacity="0.15" stroke="#4f5f9e" stroke-opacity="0.2" stroke-width="0.55"/>
<circle cx="514.8" cy="575.23" r="2.1" fill="#4f5f9e" fill-opacity="0.15" stroke="#4f5f9e" stroke-opacity="0.2" stroke-width="0.55"/>
<circle cx="513.55" cy="575.47" r="2.1" fill="#4f5f9e" fill-opacity="0.15" stroke="#4f5f9e" stroke-opacity="0.2" stroke-width="0.55"/>
<circle cx="520.17" cy="569.06" r="2.1" fill="#4f5f9e" fill-opacity="0.15" stroke="#4f5f9e" stroke-opacity="0.2" stroke-width="0.55"/>
<circle cx="513.12" cy="557.36" r="2.1" fill="#4f5f9e" fill-opacity="0.15" stroke="#4f5f9e" stroke-opacity="0.2" stroke-width="0.55"/>
<circle cx="518.65" cy="578.84" r="2.1" fill="#4f5f9e" fill-opacity="0.15" stroke="#4f5f9e" stroke-opacity="0.2" stroke-width="0.55"/>
<circle cx="516.62" cy="562.45" r="2.1" fill="#4f5f9e" fill-opacity="0.15" stroke="#4f5f9e" stroke-opacity="0.2" stroke-width="0.55"/>
<circle cx="518.06" cy="570.3" r="2.1" fill="#4f5f9e" fill-opacity="0.15" stroke="#4f5f9e" stroke-opacity="0.2" stroke-width="0.55"/>
<circle cx="514.74" cy="572.18" r="2.1" fill="#4f5f9e" fill-opacity="0.15" stroke="#4f5f9e" stroke-opacity="0.2" stroke-width="0.55"/>
<circle cx="517.38" cy="576.15" r="2.1" fill="#4f5f9e" fill-opacity="0.15" stroke="#4f5f9e" stroke-opacity="0.2" stroke-width="0.55"/>
<circle cx="512.51" cy="563.19" r="2.1" fill="#4f5f9e" fill-opacity="0.15" stroke="#4f5f9e" stroke-opacity="0.2" stroke-width="0.55"/>
<circle cx="518.92" cy="588.4" r="2.1" fill="#4f5f9e" fill-opacity="0.15" stroke="#4f5f9e" stroke-opacity="0.2" stroke-width="0.55"/>
<circle cx="520.62" cy="565.67" r="2.1" fill="#4f5f9e" fill-opacity="0.15" stroke="#4f5f9e" stroke-opacity="0.2" stroke-width="0.55"/>
<circle cx="515.4" cy="569.18" r="2.1" fill="#4f5f9e" fill-opacity="0.15" stroke="#4f5f9e" stroke-opacity="0.2" stroke-width="0.55"/>
<circle cx="513.21" cy="569.86" r="2.1" fill="#4f5f9e" fill-opacity="0.15" stroke="#4f5f9e" stroke-opacity="0.2" stroke-width="0.55"/>
<circle cx="512.55" cy="571.44" r="2.1" fill="#4f5f9e" fill-opacity="0.15" stroke="#4f5f9e" stroke-opacity="0.2" stroke-width="0.55"/>
<circle cx="518.63" cy="565.73" r="2.1" fill="#4f5f9e" fill-opacity="0.15" stroke="#4f5f9e" stroke-opacity="0.2" stroke-width="0.55"/>
<circle cx="514.14" cy="574.59" r="2.1" fill="#4f5f9e" fill-opacity="0.15" stroke="#4f5f9e" stroke-opacity="0.2" stroke-width="0.55"/>
<circle cx="517.18" cy="585.44" r="2.1" fill="#4f5f9e" fill-opacity="0.15" stroke="#4f5f9e" stroke-opacity="0.2" stroke-width="0.55"/>
<circle cx="514.31" cy="577.01" r="2.1" fill="#4f5f9e" fill-opacity="0.15" stroke="#4f5f9e" stroke-opacity="0.2" stroke-width="0.55"/>
<circle cx="513.31" cy="579.82" r="2.1" fill="#4f5f9e" fill-opacity="0.15" stroke="#4f5f9e" stroke-opacity="0.2" stroke-width="0.55"/>
<circle cx="519.64" cy="567.96" r="2.1" fill="#4f5f9e" fill-opacity="0.15" stroke="#4f5f9e" stroke-opacity="0.2" stroke-width="0.55"/>
<circle cx="514.86" cy="573.1" r="2.1" fill="#4f5f9e" fill-opacity="0.15" stroke="#4f5f9e" stroke-opacity="0.2" stroke-width="0.55"/>
<circle cx="517.22" cy="575.14" r="2.1" fill="#4f5f9e" fill-opacity="0.15" stroke="#4f5f9e" stroke-opacity="0.2" stroke-width="0.55"/>
<circle cx="513.74" cy="574.75" r="2.1" fill="#4f5f9e" fill-opacity="0.15" stroke="#4f5f9e" stroke-opacity="0.2" stroke-width="0.55"/>
<circle cx="519.83" cy="574.27" r="2.1" fill="#4f5f9e" fill-opacity="0.15" stroke="#4f5f9e" stroke-opacity="0.2" stroke-width="0.55"/>
<circle cx="520.5" cy="586.12" r="2.1" fill="#4f5f9e" fill-opacity="0.15" stroke="#4f5f9e" stroke-opacity="0.2" stroke-width="0.55"/>
<circle cx="514.02" cy="584.46" r="2.1" fill="#4f5f9e" fill-opacity="0.15" stroke="#4f5f9e" stroke-opacity="0.2" stroke-width="0.55"/>
<circle cx="518.59" cy="560.44" r="2.1" fill="#4f5f9e" fill-opacity="0.15" stroke="#4f5f9e" stroke-opacity="0.2" stroke-width="0.55"/>
<circle cx="514.16" cy="568.3" r="2.1" fill="#4f5f9e" fill-opacity="0.15" stroke="#4f5f9e" stroke-opacity="0.2" stroke-width="0.55"/>
<circle cx="516.08" cy="595" r="2.1" fill="#4f5f9e" fill-opacity="0.15" stroke="#4f5f9e" stroke-opacity="0.2" stroke-width="0.55"/>
<path d="M516.8 555.1V567.6M516.8 577.2V590" stroke="#4f5f9e" stroke-width="1.15"/>
<rect x="512.1" y="567.6" width="9.4" height="9.6" fill="#4f5f9e" fill-opacity="0.12" stroke="#4f5f9e" stroke-width="1.2"/>
<path d="M512.1 571.5H521.5" stroke="#4f5f9e" stroke-width="2.1"/>
<circle cx="552.28" cy="598.73" r="2.1" fill="#4f5f9e" fill-opacity="0.15" stroke="#4f5f9e" stroke-opacity="0.2" stroke-width="0.55"/>
<circle cx="551.55" cy="586.64" r="2.1" fill="#4f5f9e" fill-opacity="0.15" stroke="#4f5f9e" stroke-opacity="0.2" stroke-width="0.55"/>
<circle cx="556.27" cy="567.21" r="2.1" fill="#4f5f9e" fill-opacity="0.15" stroke="#4f5f9e" stroke-opacity="0.2" stroke-width="0.55"/>
<circle cx="549.49" cy="584.12" r="2.1" fill="#4f5f9e" fill-opacity="0.15" stroke="#4f5f9e" stroke-opacity="0.2" stroke-width="0.55"/>
<circle cx="551.36" cy="584.11" r="2.1" fill="#4f5f9e" fill-opacity="0.15" stroke="#4f5f9e" stroke-opacity="0.2" stroke-width="0.55"/>
<circle cx="553.06" cy="593.89" r="2.1" fill="#4f5f9e" fill-opacity="0.15" stroke="#4f5f9e" stroke-opacity="0.2" stroke-width="0.55"/>
<circle cx="554.78" cy="566.27" r="2.1" fill="#4f5f9e" fill-opacity="0.15" stroke="#4f5f9e" stroke-opacity="0.2" stroke-width="0.55"/>
<circle cx="554.85" cy="582.02" r="2.1" fill="#4f5f9e" fill-opacity="0.15" stroke="#4f5f9e" stroke-opacity="0.2" stroke-width="0.55"/>
<circle cx="551.25" cy="582.2" r="2.1" fill="#4f5f9e" fill-opacity="0.15" stroke="#4f5f9e" stroke-opacity="0.2" stroke-width="0.55"/>
<circle cx="549.57" cy="602.57" r="2.1" fill="#4f5f9e" fill-opacity="0.15" stroke="#4f5f9e" stroke-opacity="0.2" stroke-width="0.55"/>
<circle cx="552.12" cy="576.89" r="2.1" fill="#4f5f9e" fill-opacity="0.15" stroke="#4f5f9e" stroke-opacity="0.2" stroke-width="0.55"/>
<circle cx="548.3" cy="580.99" r="2.1" fill="#4f5f9e" fill-opacity="0.15" stroke="#4f5f9e" stroke-opacity="0.2" stroke-width="0.55"/>
<circle cx="553.93" cy="579.97" r="2.1" fill="#4f5f9e" fill-opacity="0.15" stroke="#4f5f9e" stroke-opacity="0.2" stroke-width="0.55"/>
<circle cx="555.75" cy="565.23" r="2.1" fill="#4f5f9e" fill-opacity="0.15" stroke="#4f5f9e" stroke-opacity="0.2" stroke-width="0.55"/>
<circle cx="550.82" cy="594.98" r="2.1" fill="#4f5f9e" fill-opacity="0.15" stroke="#4f5f9e" stroke-opacity="0.2" stroke-width="0.55"/>
<circle cx="554.11" cy="598.42" r="2.1" fill="#4f5f9e" fill-opacity="0.15" stroke="#4f5f9e" stroke-opacity="0.2" stroke-width="0.55"/>
<circle cx="551.5" cy="586.64" r="2.1" fill="#4f5f9e" fill-opacity="0.15" stroke="#4f5f9e" stroke-opacity="0.2" stroke-width="0.55"/>
<circle cx="549.97" cy="579.97" r="2.1" fill="#4f5f9e" fill-opacity="0.15" stroke="#4f5f9e" stroke-opacity="0.2" stroke-width="0.55"/>
<circle cx="555.54" cy="582.13" r="2.1" fill="#4f5f9e" fill-opacity="0.15" stroke="#4f5f9e" stroke-opacity="0.2" stroke-width="0.55"/>
<circle cx="548.6" cy="581.54" r="2.1" fill="#4f5f9e" fill-opacity="0.15" stroke="#4f5f9e" stroke-opacity="0.2" stroke-width="0.55"/>
<circle cx="551.32" cy="583.48" r="2.1" fill="#4f5f9e" fill-opacity="0.15" stroke="#4f5f9e" stroke-opacity="0.2" stroke-width="0.55"/>
<circle cx="550.66" cy="584.56" r="2.1" fill="#4f5f9e" fill-opacity="0.15" stroke="#4f5f9e" stroke-opacity="0.2" stroke-width="0.55"/>
<circle cx="549.05" cy="584.14" r="2.1" fill="#4f5f9e" fill-opacity="0.15" stroke="#4f5f9e" stroke-opacity="0.2" stroke-width="0.55"/>
<circle cx="551.39" cy="586.87" r="2.1" fill="#4f5f9e" fill-opacity="0.15" stroke="#4f5f9e" stroke-opacity="0.2" stroke-width="0.55"/>
<circle cx="554.01" cy="584.94" r="2.1" fill="#4f5f9e" fill-opacity="0.15" stroke="#4f5f9e" stroke-opacity="0.2" stroke-width="0.55"/>
<circle cx="553.85" cy="578.73" r="2.1" fill="#4f5f9e" fill-opacity="0.15" stroke="#4f5f9e" stroke-opacity="0.2" stroke-width="0.55"/>
<circle cx="547.83" cy="588.84" r="2.1" fill="#4f5f9e" fill-opacity="0.15" stroke="#4f5f9e" stroke-opacity="0.2" stroke-width="0.55"/>
<circle cx="550.98" cy="580.69" r="2.1" fill="#4f5f9e" fill-opacity="0.15" stroke="#4f5f9e" stroke-opacity="0.2" stroke-width="0.55"/>
<circle cx="553.14" cy="583.31" r="2.1" fill="#4f5f9e" fill-opacity="0.15" stroke="#4f5f9e" stroke-opacity="0.2" stroke-width="0.55"/>
<circle cx="553.52" cy="584.23" r="2.1" fill="#4f5f9e" fill-opacity="0.15" stroke="#4f5f9e" stroke-opacity="0.2" stroke-width="0.55"/>
<circle cx="550.87" cy="602.41" r="2.1" fill="#4f5f9e" fill-opacity="0.15" stroke="#4f5f9e" stroke-opacity="0.2" stroke-width="0.55"/>
<circle cx="554.92" cy="589.21" r="2.1" fill="#4f5f9e" fill-opacity="0.15" stroke="#4f5f9e" stroke-opacity="0.2" stroke-width="0.55"/>
<circle cx="550.19" cy="590.87" r="2.1" fill="#4f5f9e" fill-opacity="0.15" stroke="#4f5f9e" stroke-opacity="0.2" stroke-width="0.55"/>
<circle cx="551.69" cy="582.53" r="2.1" fill="#4f5f9e" fill-opacity="0.15" stroke="#4f5f9e" stroke-opacity="0.2" stroke-width="0.55"/>
<circle cx="552.05" cy="594.61" r="2.1" fill="#4f5f9e" fill-opacity="0.15" stroke="#4f5f9e" stroke-opacity="0.2" stroke-width="0.55"/>
<circle cx="552.39" cy="585.27" r="2.1" fill="#4f5f9e" fill-opacity="0.15" stroke="#4f5f9e" stroke-opacity="0.2" stroke-width="0.55"/>
<circle cx="554.17" cy="580.08" r="2.1" fill="#4f5f9e" fill-opacity="0.15" stroke="#4f5f9e" stroke-opacity="0.2" stroke-width="0.55"/>
<circle cx="549.42" cy="593.94" r="2.1" fill="#4f5f9e" fill-opacity="0.15" stroke="#4f5f9e" stroke-opacity="0.2" stroke-width="0.55"/>
<circle cx="552.68" cy="585.61" r="2.1" fill="#4f5f9e" fill-opacity="0.15" stroke="#4f5f9e" stroke-opacity="0.2" stroke-width="0.55"/>
<circle cx="552.63" cy="598.59" r="2.1" fill="#4f5f9e" fill-opacity="0.15" stroke="#4f5f9e" stroke-opacity="0.2" stroke-width="0.55"/>
<path d="M552 564.2V579.5M552 589.3V603" stroke="#4f5f9e" stroke-width="1.15"/>
<rect x="547.3" y="579.5" width="9.4" height="9.8" fill="#4f5f9e" fill-opacity="0.12" stroke="#4f5f9e" stroke-width="1.2"/>
<path d="M547.3 582.5H556.7" stroke="#4f5f9e" stroke-width="2.1"/>
<circle cx="590.52" cy="578.75" r="2.1" fill="#4f5f9e" fill-opacity="0.15" stroke="#4f5f9e" stroke-opacity="0.2" stroke-width="0.55"/>
<circle cx="583.7" cy="581.87" r="2.1" fill="#4f5f9e" fill-opacity="0.15" stroke="#4f5f9e" stroke-opacity="0.2" stroke-width="0.55"/>
<circle cx="590.88" cy="591.86" r="2.1" fill="#4f5f9e" fill-opacity="0.15" stroke="#4f5f9e" stroke-opacity="0.2" stroke-width="0.55"/>
<circle cx="588.3" cy="576.36" r="2.1" fill="#4f5f9e" fill-opacity="0.15" stroke="#4f5f9e" stroke-opacity="0.2" stroke-width="0.55"/>
<circle cx="590.83" cy="570.48" r="2.1" fill="#4f5f9e" fill-opacity="0.15" stroke="#4f5f9e" stroke-opacity="0.2" stroke-width="0.55"/>
<circle cx="583.05" cy="581.57" r="2.1" fill="#4f5f9e" fill-opacity="0.15" stroke="#4f5f9e" stroke-opacity="0.2" stroke-width="0.55"/>
<circle cx="589.93" cy="607.24" r="2.1" fill="#4f5f9e" fill-opacity="0.15" stroke="#4f5f9e" stroke-opacity="0.2" stroke-width="0.55"/>
<circle cx="585.72" cy="597.77" r="2.1" fill="#4f5f9e" fill-opacity="0.15" stroke="#4f5f9e" stroke-opacity="0.2" stroke-width="0.55"/>
<circle cx="582.62" cy="592.05" r="2.1" fill="#4f5f9e" fill-opacity="0.15" stroke="#4f5f9e" stroke-opacity="0.2" stroke-width="0.55"/>
<circle cx="588.08" cy="589.15" r="2.1" fill="#4f5f9e" fill-opacity="0.15" stroke="#4f5f9e" stroke-opacity="0.2" stroke-width="0.55"/>
<circle cx="584.05" cy="581.74" r="2.1" fill="#4f5f9e" fill-opacity="0.15" stroke="#4f5f9e" stroke-opacity="0.2" stroke-width="0.55"/>
<circle cx="582.86" cy="587.21" r="2.1" fill="#4f5f9e" fill-opacity="0.15" stroke="#4f5f9e" stroke-opacity="0.2" stroke-width="0.55"/>
<circle cx="588.21" cy="601.86" r="2.1" fill="#4f5f9e" fill-opacity="0.15" stroke="#4f5f9e" stroke-opacity="0.2" stroke-width="0.55"/>
<circle cx="583.49" cy="591.82" r="2.1" fill="#4f5f9e" fill-opacity="0.15" stroke="#4f5f9e" stroke-opacity="0.2" stroke-width="0.55"/>
<circle cx="587.02" cy="598.12" r="2.1" fill="#4f5f9e" fill-opacity="0.15" stroke="#4f5f9e" stroke-opacity="0.2" stroke-width="0.55"/>
<circle cx="587.27" cy="574.96" r="2.1" fill="#4f5f9e" fill-opacity="0.15" stroke="#4f5f9e" stroke-opacity="0.2" stroke-width="0.55"/>
<circle cx="587.2" cy="565.02" r="2.1" fill="#4f5f9e" fill-opacity="0.15" stroke="#4f5f9e" stroke-opacity="0.2" stroke-width="0.55"/>
<circle cx="583.52" cy="574.11" r="2.1" fill="#4f5f9e" fill-opacity="0.15" stroke="#4f5f9e" stroke-opacity="0.2" stroke-width="0.55"/>
<circle cx="583" cy="565.51" r="2.1" fill="#4f5f9e" fill-opacity="0.15" stroke="#4f5f9e" stroke-opacity="0.2" stroke-width="0.55"/>
<circle cx="583.99" cy="593.61" r="2.1" fill="#4f5f9e" fill-opacity="0.15" stroke="#4f5f9e" stroke-opacity="0.2" stroke-width="0.55"/>
<circle cx="587.81" cy="565.1" r="2.1" fill="#4f5f9e" fill-opacity="0.15" stroke="#4f5f9e" stroke-opacity="0.2" stroke-width="0.55"/>
<circle cx="588.95" cy="588.41" r="2.1" fill="#4f5f9e" fill-opacity="0.15" stroke="#4f5f9e" stroke-opacity="0.2" stroke-width="0.55"/>
<circle cx="588.77" cy="572.85" r="2.1" fill="#4f5f9e" fill-opacity="0.15" stroke="#4f5f9e" stroke-opacity="0.2" stroke-width="0.55"/>
<circle cx="584.64" cy="580.95" r="2.1" fill="#4f5f9e" fill-opacity="0.15" stroke="#4f5f9e" stroke-opacity="0.2" stroke-width="0.55"/>
<circle cx="582.83" cy="576.42" r="2.1" fill="#4f5f9e" fill-opacity="0.15" stroke="#4f5f9e" stroke-opacity="0.2" stroke-width="0.55"/>
<circle cx="585.39" cy="587.39" r="2.1" fill="#4f5f9e" fill-opacity="0.15" stroke="#4f5f9e" stroke-opacity="0.2" stroke-width="0.55"/>
<circle cx="582.82" cy="584.08" r="2.1" fill="#4f5f9e" fill-opacity="0.15" stroke="#4f5f9e" stroke-opacity="0.2" stroke-width="0.55"/>
<circle cx="585.32" cy="591.71" r="2.1" fill="#4f5f9e" fill-opacity="0.15" stroke="#4f5f9e" stroke-opacity="0.2" stroke-width="0.55"/>
<circle cx="588.96" cy="568.14" r="2.1" fill="#4f5f9e" fill-opacity="0.15" stroke="#4f5f9e" stroke-opacity="0.2" stroke-width="0.55"/>
<circle cx="587.78" cy="594.2" r="2.1" fill="#4f5f9e" fill-opacity="0.15" stroke="#4f5f9e" stroke-opacity="0.2" stroke-width="0.55"/>
<circle cx="583.64" cy="607.05" r="2.1" fill="#4f5f9e" fill-opacity="0.15" stroke="#4f5f9e" stroke-opacity="0.2" stroke-width="0.55"/>
<circle cx="583.98" cy="606.81" r="2.1" fill="#4f5f9e" fill-opacity="0.15" stroke="#4f5f9e" stroke-opacity="0.2" stroke-width="0.55"/>
<circle cx="584.32" cy="574.18" r="2.1" fill="#4f5f9e" fill-opacity="0.15" stroke="#4f5f9e" stroke-opacity="0.2" stroke-width="0.55"/>
<circle cx="583.24" cy="608.55" r="2.1" fill="#4f5f9e" fill-opacity="0.15" stroke="#4f5f9e" stroke-opacity="0.2" stroke-width="0.55"/>
<circle cx="582.67" cy="573.61" r="2.1" fill="#4f5f9e" fill-opacity="0.15" stroke="#4f5f9e" stroke-opacity="0.2" stroke-width="0.55"/>
<circle cx="585.46" cy="579.21" r="2.1" fill="#4f5f9e" fill-opacity="0.15" stroke="#4f5f9e" stroke-opacity="0.2" stroke-width="0.55"/>
<circle cx="590.11" cy="579.2" r="2.1" fill="#4f5f9e" fill-opacity="0.15" stroke="#4f5f9e" stroke-opacity="0.2" stroke-width="0.55"/>
<circle cx="591.2" cy="595.45" r="2.1" fill="#4f5f9e" fill-opacity="0.15" stroke="#4f5f9e" stroke-opacity="0.2" stroke-width="0.55"/>
<circle cx="584.19" cy="585.13" r="2.1" fill="#4f5f9e" fill-opacity="0.15" stroke="#4f5f9e" stroke-opacity="0.2" stroke-width="0.55"/>
<circle cx="586.54" cy="603.97" r="2.1" fill="#4f5f9e" fill-opacity="0.15" stroke="#4f5f9e" stroke-opacity="0.2" stroke-width="0.55"/>
<circle cx="586.89" cy="615.6" r="2.1" fill="#4f5f9e" fill-opacity="0.15" stroke="#4f5f9e" stroke-opacity="0.2" stroke-width="0.55"/>
<circle cx="586.93" cy="628.8" r="2.1" fill="#4f5f9e" fill-opacity="0.15" stroke="#4f5f9e" stroke-opacity="0.2" stroke-width="0.55"/>
<path d="M586.9 564.2V580.2M586.9 593.9V611" stroke="#4f5f9e" stroke-width="1.15"/>
<rect x="582.2" y="580.2" width="9.4" height="13.7" fill="#4f5f9e" fill-opacity="0.12" stroke="#4f5f9e" stroke-width="1.2"/>
<path d="M582.2 588.6H591.6" stroke="#4f5f9e" stroke-width="2.1"/>
<circle cx="624.09" cy="559.58" r="2.1" fill="#4f5f9e" fill-opacity="0.15" stroke="#4f5f9e" stroke-opacity="0.2" stroke-width="0.55"/>
<circle cx="626.13" cy="576.08" r="2.1" fill="#4f5f9e" fill-opacity="0.15" stroke="#4f5f9e" stroke-opacity="0.2" stroke-width="0.55"/>
<circle cx="624.5" cy="590.37" r="2.1" fill="#4f5f9e" fill-opacity="0.15" stroke="#4f5f9e" stroke-opacity="0.2" stroke-width="0.55"/>
<circle cx="619.98" cy="586.85" r="2.1" fill="#4f5f9e" fill-opacity="0.15" stroke="#4f5f9e" stroke-opacity="0.2" stroke-width="0.55"/>
<circle cx="624.35" cy="591.87" r="2.1" fill="#4f5f9e" fill-opacity="0.15" stroke="#4f5f9e" stroke-opacity="0.2" stroke-width="0.55"/>
<circle cx="618.2" cy="602.88" r="2.1" fill="#4f5f9e" fill-opacity="0.15" stroke="#4f5f9e" stroke-opacity="0.2" stroke-width="0.55"/>
<circle cx="620.63" cy="612.61" r="2.1" fill="#4f5f9e" fill-opacity="0.15" stroke="#4f5f9e" stroke-opacity="0.2" stroke-width="0.55"/>
<circle cx="626.17" cy="559.5" r="2.1" fill="#4f5f9e" fill-opacity="0.15" stroke="#4f5f9e" stroke-opacity="0.2" stroke-width="0.55"/>
<circle cx="623.93" cy="557.9" r="2.1" fill="#4f5f9e" fill-opacity="0.15" stroke="#4f5f9e" stroke-opacity="0.2" stroke-width="0.55"/>
<circle cx="622.93" cy="564.98" r="2.1" fill="#4f5f9e" fill-opacity="0.15" stroke="#4f5f9e" stroke-opacity="0.2" stroke-width="0.55"/>
<circle cx="621.97" cy="607.23" r="2.1" fill="#4f5f9e" fill-opacity="0.15" stroke="#4f5f9e" stroke-opacity="0.2" stroke-width="0.55"/>
<circle cx="624.57" cy="606.38" r="2.1" fill="#4f5f9e" fill-opacity="0.15" stroke="#4f5f9e" stroke-opacity="0.2" stroke-width="0.55"/>
<circle cx="624.55" cy="571.08" r="2.1" fill="#4f5f9e" fill-opacity="0.15" stroke="#4f5f9e" stroke-opacity="0.2" stroke-width="0.55"/>
<circle cx="619.6" cy="565.53" r="2.1" fill="#4f5f9e" fill-opacity="0.15" stroke="#4f5f9e" stroke-opacity="0.2" stroke-width="0.55"/>
<circle cx="621.43" cy="570.52" r="2.1" fill="#4f5f9e" fill-opacity="0.15" stroke="#4f5f9e" stroke-opacity="0.2" stroke-width="0.55"/>
<circle cx="623.47" cy="588.61" r="2.1" fill="#4f5f9e" fill-opacity="0.15" stroke="#4f5f9e" stroke-opacity="0.2" stroke-width="0.55"/>
<circle cx="625.52" cy="559.6" r="2.1" fill="#4f5f9e" fill-opacity="0.15" stroke="#4f5f9e" stroke-opacity="0.2" stroke-width="0.55"/>
<circle cx="619.17" cy="571.91" r="2.1" fill="#4f5f9e" fill-opacity="0.15" stroke="#4f5f9e" stroke-opacity="0.2" stroke-width="0.55"/>
<circle cx="617.95" cy="585.46" r="2.1" fill="#4f5f9e" fill-opacity="0.15" stroke="#4f5f9e" stroke-opacity="0.2" stroke-width="0.55"/>
<circle cx="619.2" cy="597.38" r="2.1" fill="#4f5f9e" fill-opacity="0.15" stroke="#4f5f9e" stroke-opacity="0.2" stroke-width="0.55"/>
<circle cx="622.84" cy="598.58" r="2.1" fill="#4f5f9e" fill-opacity="0.15" stroke="#4f5f9e" stroke-opacity="0.2" stroke-width="0.55"/>
<circle cx="618.33" cy="560.56" r="2.1" fill="#4f5f9e" fill-opacity="0.15" stroke="#4f5f9e" stroke-opacity="0.2" stroke-width="0.55"/>
<circle cx="624.85" cy="573.33" r="2.1" fill="#4f5f9e" fill-opacity="0.15" stroke="#4f5f9e" stroke-opacity="0.2" stroke-width="0.55"/>
<circle cx="621.79" cy="581.82" r="2.1" fill="#4f5f9e" fill-opacity="0.15" stroke="#4f5f9e" stroke-opacity="0.2" stroke-width="0.55"/>
<circle cx="625.02" cy="591.88" r="2.1" fill="#4f5f9e" fill-opacity="0.15" stroke="#4f5f9e" stroke-opacity="0.2" stroke-width="0.55"/>
<circle cx="625.1" cy="611.75" r="2.1" fill="#4f5f9e" fill-opacity="0.15" stroke="#4f5f9e" stroke-opacity="0.2" stroke-width="0.55"/>
<circle cx="625.41" cy="587.63" r="2.1" fill="#4f5f9e" fill-opacity="0.15" stroke="#4f5f9e" stroke-opacity="0.2" stroke-width="0.55"/>
<circle cx="626.39" cy="577.04" r="2.1" fill="#4f5f9e" fill-opacity="0.15" stroke="#4f5f9e" stroke-opacity="0.2" stroke-width="0.55"/>
<circle cx="621.17" cy="592.32" r="2.1" fill="#4f5f9e" fill-opacity="0.15" stroke="#4f5f9e" stroke-opacity="0.2" stroke-width="0.55"/>
<circle cx="625.49" cy="582.58" r="2.1" fill="#4f5f9e" fill-opacity="0.15" stroke="#4f5f9e" stroke-opacity="0.2" stroke-width="0.55"/>
<circle cx="624.96" cy="559.06" r="2.1" fill="#4f5f9e" fill-opacity="0.15" stroke="#4f5f9e" stroke-opacity="0.2" stroke-width="0.55"/>
<circle cx="622.22" cy="590.81" r="2.1" fill="#4f5f9e" fill-opacity="0.15" stroke="#4f5f9e" stroke-opacity="0.2" stroke-width="0.55"/>
<circle cx="620.94" cy="604.65" r="2.1" fill="#4f5f9e" fill-opacity="0.15" stroke="#4f5f9e" stroke-opacity="0.2" stroke-width="0.55"/>
<circle cx="622.6" cy="613.03" r="2.1" fill="#4f5f9e" fill-opacity="0.15" stroke="#4f5f9e" stroke-opacity="0.2" stroke-width="0.55"/>
<circle cx="623.71" cy="568.16" r="2.1" fill="#4f5f9e" fill-opacity="0.15" stroke="#4f5f9e" stroke-opacity="0.2" stroke-width="0.55"/>
<circle cx="621.52" cy="592.73" r="2.1" fill="#4f5f9e" fill-opacity="0.15" stroke="#4f5f9e" stroke-opacity="0.2" stroke-width="0.55"/>
<circle cx="625.79" cy="605.13" r="2.1" fill="#4f5f9e" fill-opacity="0.15" stroke="#4f5f9e" stroke-opacity="0.2" stroke-width="0.55"/>
<circle cx="618.2" cy="599.34" r="2.1" fill="#4f5f9e" fill-opacity="0.15" stroke="#4f5f9e" stroke-opacity="0.2" stroke-width="0.55"/>
<circle cx="620.8" cy="567.61" r="2.1" fill="#4f5f9e" fill-opacity="0.15" stroke="#4f5f9e" stroke-opacity="0.2" stroke-width="0.55"/>
<circle cx="618.7" cy="580.71" r="2.1" fill="#4f5f9e" fill-opacity="0.15" stroke="#4f5f9e" stroke-opacity="0.2" stroke-width="0.55"/>
<circle cx="622.12" cy="628.3" r="2.1" fill="#4f5f9e" fill-opacity="0.15" stroke="#4f5f9e" stroke-opacity="0.2" stroke-width="0.55"/>
<path d="M622.2 556.7V575.7M622.2 594V613.4" stroke="#4f5f9e" stroke-width="1.15"/>
<rect x="617.5" y="575.7" width="9.4" height="18.3" fill="#4f5f9e" fill-opacity="0.12" stroke="#4f5f9e" stroke-width="1.2"/>
<path d="M617.5 587.8H626.9" stroke="#4f5f9e" stroke-width="2.1"/>
<circle cx="659.67" cy="552.19" r="2.1" fill="#4f5f9e" fill-opacity="0.15" stroke="#4f5f9e" stroke-opacity="0.2" stroke-width="0.55"/>
<circle cx="658.89" cy="572.22" r="2.1" fill="#4f5f9e" fill-opacity="0.15" stroke="#4f5f9e" stroke-opacity="0.2" stroke-width="0.55"/>
<circle cx="654.41" cy="552.72" r="2.1" fill="#4f5f9e" fill-opacity="0.15" stroke="#4f5f9e" stroke-opacity="0.2" stroke-width="0.55"/>
<circle cx="660.75" cy="560.52" r="2.1" fill="#4f5f9e" fill-opacity="0.15" stroke="#4f5f9e" stroke-opacity="0.2" stroke-width="0.55"/>
<circle cx="657.42" cy="591.18" r="2.1" fill="#4f5f9e" fill-opacity="0.15" stroke="#4f5f9e" stroke-opacity="0.2" stroke-width="0.55"/>
<circle cx="658.18" cy="562.75" r="2.1" fill="#4f5f9e" fill-opacity="0.15" stroke="#4f5f9e" stroke-opacity="0.2" stroke-width="0.55"/>
<circle cx="657.52" cy="573.43" r="2.1" fill="#4f5f9e" fill-opacity="0.15" stroke="#4f5f9e" stroke-opacity="0.2" stroke-width="0.55"/>
<circle cx="657.83" cy="581.9" r="2.1" fill="#4f5f9e" fill-opacity="0.15" stroke="#4f5f9e" stroke-opacity="0.2" stroke-width="0.55"/>
<circle cx="659.98" cy="555.62" r="2.1" fill="#4f5f9e" fill-opacity="0.15" stroke="#4f5f9e" stroke-opacity="0.2" stroke-width="0.55"/>
<circle cx="660.48" cy="571.25" r="2.1" fill="#4f5f9e" fill-opacity="0.15" stroke="#4f5f9e" stroke-opacity="0.2" stroke-width="0.55"/>
<circle cx="658.34" cy="573.46" r="2.1" fill="#4f5f9e" fill-opacity="0.15" stroke="#4f5f9e" stroke-opacity="0.2" stroke-width="0.55"/>
<circle cx="656.65" cy="563.56" r="2.1" fill="#4f5f9e" fill-opacity="0.15" stroke="#4f5f9e" stroke-opacity="0.2" stroke-width="0.55"/>
<circle cx="656.74" cy="565.46" r="2.1" fill="#4f5f9e" fill-opacity="0.15" stroke="#4f5f9e" stroke-opacity="0.2" stroke-width="0.55"/>
<circle cx="657.82" cy="561.78" r="2.1" fill="#4f5f9e" fill-opacity="0.15" stroke="#4f5f9e" stroke-opacity="0.2" stroke-width="0.55"/>
<circle cx="652.62" cy="584.21" r="2.1" fill="#4f5f9e" fill-opacity="0.15" stroke="#4f5f9e" stroke-opacity="0.2" stroke-width="0.55"/>
<circle cx="657.61" cy="564.53" r="2.1" fill="#4f5f9e" fill-opacity="0.15" stroke="#4f5f9e" stroke-opacity="0.2" stroke-width="0.55"/>
<circle cx="655.3" cy="570.49" r="2.1" fill="#4f5f9e" fill-opacity="0.15" stroke="#4f5f9e" stroke-opacity="0.2" stroke-width="0.55"/>
<circle cx="660.42" cy="565.85" r="2.1" fill="#4f5f9e" fill-opacity="0.15" stroke="#4f5f9e" stroke-opacity="0.2" stroke-width="0.55"/>
<circle cx="657.04" cy="571.12" r="2.1" fill="#4f5f9e" fill-opacity="0.15" stroke="#4f5f9e" stroke-opacity="0.2" stroke-width="0.55"/>
<circle cx="660.19" cy="556.95" r="2.1" fill="#4f5f9e" fill-opacity="0.15" stroke="#4f5f9e" stroke-opacity="0.2" stroke-width="0.55"/>
<circle cx="655.4" cy="559" r="2.1" fill="#4f5f9e" fill-opacity="0.15" stroke="#4f5f9e" stroke-opacity="0.2" stroke-width="0.55"/>
<circle cx="656.99" cy="563.23" r="2.1" fill="#4f5f9e" fill-opacity="0.15" stroke="#4f5f9e" stroke-opacity="0.2" stroke-width="0.55"/>
<circle cx="656.38" cy="566.35" r="2.1" fill="#4f5f9e" fill-opacity="0.15" stroke="#4f5f9e" stroke-opacity="0.2" stroke-width="0.55"/>
<circle cx="656.01" cy="565.62" r="2.1" fill="#4f5f9e" fill-opacity="0.15" stroke="#4f5f9e" stroke-opacity="0.2" stroke-width="0.55"/>
<circle cx="658.1" cy="584.47" r="2.1" fill="#4f5f9e" fill-opacity="0.15" stroke="#4f5f9e" stroke-opacity="0.2" stroke-width="0.55"/>
<circle cx="660.58" cy="585.77" r="2.1" fill="#4f5f9e" fill-opacity="0.15" stroke="#4f5f9e" stroke-opacity="0.2" stroke-width="0.55"/>
<circle cx="657.63" cy="559.4" r="2.1" fill="#4f5f9e" fill-opacity="0.15" stroke="#4f5f9e" stroke-opacity="0.2" stroke-width="0.55"/>
<circle cx="655.3" cy="584.27" r="2.1" fill="#4f5f9e" fill-opacity="0.15" stroke="#4f5f9e" stroke-opacity="0.2" stroke-width="0.55"/>
<circle cx="656.05" cy="545.51" r="2.1" fill="#4f5f9e" fill-opacity="0.15" stroke="#4f5f9e" stroke-opacity="0.2" stroke-width="0.55"/>
<circle cx="655.91" cy="577.6" r="2.1" fill="#4f5f9e" fill-opacity="0.15" stroke="#4f5f9e" stroke-opacity="0.2" stroke-width="0.55"/>
<circle cx="659.75" cy="570.58" r="2.1" fill="#4f5f9e" fill-opacity="0.15" stroke="#4f5f9e" stroke-opacity="0.2" stroke-width="0.55"/>
<circle cx="652.67" cy="569.98" r="2.1" fill="#4f5f9e" fill-opacity="0.15" stroke="#4f5f9e" stroke-opacity="0.2" stroke-width="0.55"/>
<circle cx="657.9" cy="568.18" r="2.1" fill="#4f5f9e" fill-opacity="0.15" stroke="#4f5f9e" stroke-opacity="0.2" stroke-width="0.55"/>
<circle cx="656.78" cy="589.84" r="2.1" fill="#4f5f9e" fill-opacity="0.15" stroke="#4f5f9e" stroke-opacity="0.2" stroke-width="0.55"/>
<circle cx="659.68" cy="573.05" r="2.1" fill="#4f5f9e" fill-opacity="0.15" stroke="#4f5f9e" stroke-opacity="0.2" stroke-width="0.55"/>
<circle cx="657.82" cy="586.21" r="2.1" fill="#4f5f9e" fill-opacity="0.15" stroke="#4f5f9e" stroke-opacity="0.2" stroke-width="0.55"/>
<circle cx="655.56" cy="570.01" r="2.1" fill="#4f5f9e" fill-opacity="0.15" stroke="#4f5f9e" stroke-opacity="0.2" stroke-width="0.55"/>
<circle cx="655" cy="560.74" r="2.1" fill="#4f5f9e" fill-opacity="0.15" stroke="#4f5f9e" stroke-opacity="0.2" stroke-width="0.55"/>
<circle cx="653.16" cy="576.88" r="2.1" fill="#4f5f9e" fill-opacity="0.15" stroke="#4f5f9e" stroke-opacity="0.2" stroke-width="0.55"/>
<circle cx="656.13" cy="566.61" r="2.1" fill="#4f5f9e" fill-opacity="0.15" stroke="#4f5f9e" stroke-opacity="0.2" stroke-width="0.55"/>
<circle cx="656.48" cy="602.7" r="2.1" fill="#4f5f9e" fill-opacity="0.15" stroke="#4f5f9e" stroke-opacity="0.2" stroke-width="0.55"/>
<path d="M656.7 543.7V563.1M656.7 575.2V591.7" stroke="#4f5f9e" stroke-width="1.15"/>
<rect x="652" y="563.1" width="9.4" height="12.1" fill="#4f5f9e" fill-opacity="0.12" stroke="#4f5f9e" stroke-width="1.2"/>
<path d="M652 571.1H661.4" stroke="#4f5f9e" stroke-width="2.1"/>
<circle cx="358.95" cy="588.39" r="2.1" fill="#ed6b78" fill-opacity="0.15" stroke="#ed6b78" stroke-opacity="0.2" stroke-width="0.55"/>
<circle cx="355.52" cy="563.89" r="2.1" fill="#ed6b78" fill-opacity="0.15" stroke="#ed6b78" stroke-opacity="0.2" stroke-width="0.55"/>
<circle cx="351.78" cy="572.37" r="2.1" fill="#ed6b78" fill-opacity="0.15" stroke="#ed6b78" stroke-opacity="0.2" stroke-width="0.55"/>
<circle cx="352.9" cy="538.69" r="2.1" fill="#ed6b78" fill-opacity="0.15" stroke="#ed6b78" stroke-opacity="0.2" stroke-width="0.55"/>
<circle cx="357.77" cy="570.53" r="2.1" fill="#ed6b78" fill-opacity="0.15" stroke="#ed6b78" stroke-opacity="0.2" stroke-width="0.55"/>
<circle cx="355.04" cy="555.35" r="2.1" fill="#ed6b78" fill-opacity="0.15" stroke="#ed6b78" stroke-opacity="0.2" stroke-width="0.55"/>
<circle cx="358.49" cy="576.96" r="2.1" fill="#ed6b78" fill-opacity="0.15" stroke="#ed6b78" stroke-opacity="0.2" stroke-width="0.55"/>
<circle cx="359.77" cy="631.39" r="2.1" fill="#ed6b78" fill-opacity="0.15" stroke="#ed6b78" stroke-opacity="0.2" stroke-width="0.55"/>
<circle cx="352.62" cy="572.25" r="2.1" fill="#ed6b78" fill-opacity="0.15" stroke="#ed6b78" stroke-opacity="0.2" stroke-width="0.55"/>
<circle cx="356.94" cy="549.48" r="2.1" fill="#ed6b78" fill-opacity="0.15" stroke="#ed6b78" stroke-opacity="0.2" stroke-width="0.55"/>
<circle cx="355.15" cy="603.22" r="2.1" fill="#ed6b78" fill-opacity="0.15" stroke="#ed6b78" stroke-opacity="0.2" stroke-width="0.55"/>
<circle cx="353.1" cy="622.72" r="2.1" fill="#ed6b78" fill-opacity="0.15" stroke="#ed6b78" stroke-opacity="0.2" stroke-width="0.55"/>
<circle cx="352.01" cy="578.8" r="2.1" fill="#ed6b78" fill-opacity="0.15" stroke="#ed6b78" stroke-opacity="0.2" stroke-width="0.55"/>
<circle cx="357.07" cy="627.14" r="2.1" fill="#ed6b78" fill-opacity="0.15" stroke="#ed6b78" stroke-opacity="0.2" stroke-width="0.55"/>
<circle cx="352.82" cy="571.79" r="2.1" fill="#ed6b78" fill-opacity="0.15" stroke="#ed6b78" stroke-opacity="0.2" stroke-width="0.55"/>
<circle cx="351.94" cy="597.42" r="2.1" fill="#ed6b78" fill-opacity="0.15" stroke="#ed6b78" stroke-opacity="0.2" stroke-width="0.55"/>
<circle cx="358.92" cy="541.89" r="2.1" fill="#ed6b78" fill-opacity="0.15" stroke="#ed6b78" stroke-opacity="0.2" stroke-width="0.55"/>
<circle cx="354.71" cy="558.17" r="2.1" fill="#ed6b78" fill-opacity="0.15" stroke="#ed6b78" stroke-opacity="0.2" stroke-width="0.55"/>
<circle cx="359.77" cy="571.41" r="2.1" fill="#ed6b78" fill-opacity="0.15" stroke="#ed6b78" stroke-opacity="0.2" stroke-width="0.55"/>
<circle cx="352.63" cy="581.96" r="2.1" fill="#ed6b78" fill-opacity="0.15" stroke="#ed6b78" stroke-opacity="0.2" stroke-width="0.55"/>
<circle cx="358.69" cy="552.6" r="2.1" fill="#ed6b78" fill-opacity="0.15" stroke="#ed6b78" stroke-opacity="0.2" stroke-width="0.55"/>
<circle cx="360.09" cy="539.44" r="2.1" fill="#ed6b78" fill-opacity="0.15" stroke="#ed6b78" stroke-opacity="0.2" stroke-width="0.55"/>
<circle cx="352.35" cy="575.33" r="2.1" fill="#ed6b78" fill-opacity="0.15" stroke="#ed6b78" stroke-opacity="0.2" stroke-width="0.55"/>
<circle cx="358.3" cy="567.45" r="2.1" fill="#ed6b78" fill-opacity="0.15" stroke="#ed6b78" stroke-opacity="0.2" stroke-width="0.55"/>
<circle cx="353.7" cy="603.71" r="2.1" fill="#ed6b78" fill-opacity="0.15" stroke="#ed6b78" stroke-opacity="0.2" stroke-width="0.55"/>
<circle cx="353.64" cy="545.28" r="2.1" fill="#ed6b78" fill-opacity="0.15" stroke="#ed6b78" stroke-opacity="0.2" stroke-width="0.55"/>
<circle cx="352.26" cy="556.14" r="2.1" fill="#ed6b78" fill-opacity="0.15" stroke="#ed6b78" stroke-opacity="0.2" stroke-width="0.55"/>
<circle cx="358.4" cy="629.94" r="2.1" fill="#ed6b78" fill-opacity="0.15" stroke="#ed6b78" stroke-opacity="0.2" stroke-width="0.55"/>
<circle cx="353.87" cy="545.33" r="2.1" fill="#ed6b78" fill-opacity="0.15" stroke="#ed6b78" stroke-opacity="0.2" stroke-width="0.55"/>
<circle cx="358.64" cy="544.59" r="2.1" fill="#ed6b78" fill-opacity="0.15" stroke="#ed6b78" stroke-opacity="0.2" stroke-width="0.55"/>
<circle cx="353.87" cy="604.47" r="2.1" fill="#ed6b78" fill-opacity="0.15" stroke="#ed6b78" stroke-opacity="0.2" stroke-width="0.55"/>
<circle cx="359.84" cy="553.12" r="2.1" fill="#ed6b78" fill-opacity="0.15" stroke="#ed6b78" stroke-opacity="0.2" stroke-width="0.55"/>
<circle cx="358.63" cy="622.52" r="2.1" fill="#ed6b78" fill-opacity="0.15" stroke="#ed6b78" stroke-opacity="0.2" stroke-width="0.55"/>
<circle cx="353.34" cy="549.38" r="2.1" fill="#ed6b78" fill-opacity="0.15" stroke="#ed6b78" stroke-opacity="0.2" stroke-width="0.55"/>
<circle cx="358.09" cy="596.74" r="2.1" fill="#ed6b78" fill-opacity="0.15" stroke="#ed6b78" stroke-opacity="0.2" stroke-width="0.55"/>
<circle cx="354.68" cy="626.38" r="2.1" fill="#ed6b78" fill-opacity="0.15" stroke="#ed6b78" stroke-opacity="0.2" stroke-width="0.55"/>
<circle cx="359.04" cy="538.27" r="2.1" fill="#ed6b78" fill-opacity="0.15" stroke="#ed6b78" stroke-opacity="0.2" stroke-width="0.55"/>
<circle cx="354.43" cy="540.32" r="2.1" fill="#ed6b78" fill-opacity="0.15" stroke="#ed6b78" stroke-opacity="0.2" stroke-width="0.55"/>
<circle cx="354.12" cy="569.37" r="2.1" fill="#ed6b78" fill-opacity="0.15" stroke="#ed6b78" stroke-opacity="0.2" stroke-width="0.55"/>
<circle cx="357.99" cy="570.86" r="2.1" fill="#ed6b78" fill-opacity="0.15" stroke="#ed6b78" stroke-opacity="0.2" stroke-width="0.55"/>
<circle cx="354.79" cy="545.31" r="2.1" fill="#ed6b78" fill-opacity="0.15" stroke="#ed6b78" stroke-opacity="0.2" stroke-width="0.55"/>
<circle cx="357.44" cy="620.97" r="2.1" fill="#ed6b78" fill-opacity="0.15" stroke="#ed6b78" stroke-opacity="0.2" stroke-width="0.55"/>
<circle cx="355.23" cy="578.4" r="2.1" fill="#ed6b78" fill-opacity="0.15" stroke="#ed6b78" stroke-opacity="0.2" stroke-width="0.55"/>
<circle cx="352.2" cy="545.7" r="2.1" fill="#ed6b78" fill-opacity="0.15" stroke="#ed6b78" stroke-opacity="0.2" stroke-width="0.55"/>
<circle cx="352.96" cy="549.92" r="2.1" fill="#ed6b78" fill-opacity="0.15" stroke="#ed6b78" stroke-opacity="0.2" stroke-width="0.55"/>
<circle cx="351.6" cy="542.42" r="2.1" fill="#ed6b78" fill-opacity="0.15" stroke="#ed6b78" stroke-opacity="0.2" stroke-width="0.55"/>
<circle cx="353.63" cy="566.69" r="2.1" fill="#ed6b78" fill-opacity="0.15" stroke="#ed6b78" stroke-opacity="0.2" stroke-width="0.55"/>
<circle cx="358.25" cy="564.77" r="2.1" fill="#ed6b78" fill-opacity="0.15" stroke="#ed6b78" stroke-opacity="0.2" stroke-width="0.55"/>
<circle cx="359.27" cy="547.4" r="2.1" fill="#ed6b78" fill-opacity="0.15" stroke="#ed6b78" stroke-opacity="0.2" stroke-width="0.55"/>
<circle cx="357.33" cy="582.55" r="2.1" fill="#ed6b78" fill-opacity="0.15" stroke="#ed6b78" stroke-opacity="0.2" stroke-width="0.55"/>
<circle cx="356.24" cy="643.4" r="2.1" fill="#ed6b78" fill-opacity="0.15" stroke="#ed6b78" stroke-opacity="0.2" stroke-width="0.55"/>
<path d="M355.8 538V554.4M355.8 585.9V632" stroke="#ed6b78" stroke-width="1.15"/>
<rect x="351.1" y="554.4" width="9.4" height="31.5" fill="#ed6b78" fill-opacity="0.12" stroke="#ed6b78" stroke-width="1.2"/>
<path d="M351.1 567.6H360.5" stroke="#ed6b78" stroke-width="2.1"/>
<circle cx="390.15" cy="582.76" r="2.1" fill="#ed6b78" fill-opacity="0.15" stroke="#ed6b78" stroke-opacity="0.2" stroke-width="0.55"/>
<circle cx="395.18" cy="540.6" r="2.1" fill="#ed6b78" fill-opacity="0.15" stroke="#ed6b78" stroke-opacity="0.2" stroke-width="0.55"/>
<circle cx="393.38" cy="561.68" r="2.1" fill="#ed6b78" fill-opacity="0.15" stroke="#ed6b78" stroke-opacity="0.2" stroke-width="0.55"/>
<circle cx="387.16" cy="584.26" r="2.1" fill="#ed6b78" fill-opacity="0.15" stroke="#ed6b78" stroke-opacity="0.2" stroke-width="0.55"/>
<circle cx="394.08" cy="541.52" r="2.1" fill="#ed6b78" fill-opacity="0.15" stroke="#ed6b78" stroke-opacity="0.2" stroke-width="0.55"/>
<circle cx="393.41" cy="540.99" r="2.1" fill="#ed6b78" fill-opacity="0.15" stroke="#ed6b78" stroke-opacity="0.2" stroke-width="0.55"/>
<circle cx="386.85" cy="543.42" r="2.1" fill="#ed6b78" fill-opacity="0.15" stroke="#ed6b78" stroke-opacity="0.2" stroke-width="0.55"/>
<circle cx="391.36" cy="537.92" r="2.1" fill="#ed6b78" fill-opacity="0.15" stroke="#ed6b78" stroke-opacity="0.2" stroke-width="0.55"/>
<circle cx="388.1" cy="547.97" r="2.1" fill="#ed6b78" fill-opacity="0.15" stroke="#ed6b78" stroke-opacity="0.2" stroke-width="0.55"/>
<circle cx="393.76" cy="582.6" r="2.1" fill="#ed6b78" fill-opacity="0.15" stroke="#ed6b78" stroke-opacity="0.2" stroke-width="0.55"/>
<circle cx="391.44" cy="581.63" r="2.1" fill="#ed6b78" fill-opacity="0.15" stroke="#ed6b78" stroke-opacity="0.2" stroke-width="0.55"/>
<circle cx="388.02" cy="584.21" r="2.1" fill="#ed6b78" fill-opacity="0.15" stroke="#ed6b78" stroke-opacity="0.2" stroke-width="0.55"/>
<circle cx="395.25" cy="583.33" r="2.1" fill="#ed6b78" fill-opacity="0.15" stroke="#ed6b78" stroke-opacity="0.2" stroke-width="0.55"/>
<circle cx="391.48" cy="579.8" r="2.1" fill="#ed6b78" fill-opacity="0.15" stroke="#ed6b78" stroke-opacity="0.2" stroke-width="0.55"/>
<circle cx="391.95" cy="560.65" r="2.1" fill="#ed6b78" fill-opacity="0.15" stroke="#ed6b78" stroke-opacity="0.2" stroke-width="0.55"/>
<circle cx="389.87" cy="560.55" r="2.1" fill="#ed6b78" fill-opacity="0.15" stroke="#ed6b78" stroke-opacity="0.2" stroke-width="0.55"/>
<circle cx="391.16" cy="579.78" r="2.1" fill="#ed6b78" fill-opacity="0.15" stroke="#ed6b78" stroke-opacity="0.2" stroke-width="0.55"/>
<circle cx="387.65" cy="564.2" r="2.1" fill="#ed6b78" fill-opacity="0.15" stroke="#ed6b78" stroke-opacity="0.2" stroke-width="0.55"/>
<circle cx="393.12" cy="544.63" r="2.1" fill="#ed6b78" fill-opacity="0.15" stroke="#ed6b78" stroke-opacity="0.2" stroke-width="0.55"/>
<circle cx="389.91" cy="589.25" r="2.1" fill="#ed6b78" fill-opacity="0.15" stroke="#ed6b78" stroke-opacity="0.2" stroke-width="0.55"/>
<circle cx="392.67" cy="556.86" r="2.1" fill="#ed6b78" fill-opacity="0.15" stroke="#ed6b78" stroke-opacity="0.2" stroke-width="0.55"/>
<circle cx="392.89" cy="528.26" r="2.1" fill="#ed6b78" fill-opacity="0.15" stroke="#ed6b78" stroke-opacity="0.2" stroke-width="0.55"/>
<circle cx="392.1" cy="581.57" r="2.1" fill="#ed6b78" fill-opacity="0.15" stroke="#ed6b78" stroke-opacity="0.2" stroke-width="0.55"/>
<circle cx="389.05" cy="588.1" r="2.1" fill="#ed6b78" fill-opacity="0.15" stroke="#ed6b78" stroke-opacity="0.2" stroke-width="0.55"/>
<circle cx="388.6" cy="556.68" r="2.1" fill="#ed6b78" fill-opacity="0.15" stroke="#ed6b78" stroke-opacity="0.2" stroke-width="0.55"/>
<circle cx="389.63" cy="551.3" r="2.1" fill="#ed6b78" fill-opacity="0.15" stroke="#ed6b78" stroke-opacity="0.2" stroke-width="0.55"/>
<circle cx="392.84" cy="552.54" r="2.1" fill="#ed6b78" fill-opacity="0.15" stroke="#ed6b78" stroke-opacity="0.2" stroke-width="0.55"/>
<circle cx="394.73" cy="563.33" r="2.1" fill="#ed6b78" fill-opacity="0.15" stroke="#ed6b78" stroke-opacity="0.2" stroke-width="0.55"/>
<circle cx="389.84" cy="567.65" r="2.1" fill="#ed6b78" fill-opacity="0.15" stroke="#ed6b78" stroke-opacity="0.2" stroke-width="0.55"/>
<circle cx="389.4" cy="569.5" r="2.1" fill="#ed6b78" fill-opacity="0.15" stroke="#ed6b78" stroke-opacity="0.2" stroke-width="0.55"/>
<circle cx="392.74" cy="576.62" r="2.1" fill="#ed6b78" fill-opacity="0.15" stroke="#ed6b78" stroke-opacity="0.2" stroke-width="0.55"/>
<circle cx="393.63" cy="581.34" r="2.1" fill="#ed6b78" fill-opacity="0.15" stroke="#ed6b78" stroke-opacity="0.2" stroke-width="0.55"/>
<circle cx="394.61" cy="539.79" r="2.1" fill="#ed6b78" fill-opacity="0.15" stroke="#ed6b78" stroke-opacity="0.2" stroke-width="0.55"/>
<circle cx="393.52" cy="551.43" r="2.1" fill="#ed6b78" fill-opacity="0.15" stroke="#ed6b78" stroke-opacity="0.2" stroke-width="0.55"/>
<circle cx="389.36" cy="577.75" r="2.1" fill="#ed6b78" fill-opacity="0.15" stroke="#ed6b78" stroke-opacity="0.2" stroke-width="0.55"/>
<circle cx="392.11" cy="539.97" r="2.1" fill="#ed6b78" fill-opacity="0.15" stroke="#ed6b78" stroke-opacity="0.2" stroke-width="0.55"/>
<circle cx="392.43" cy="568.47" r="2.1" fill="#ed6b78" fill-opacity="0.15" stroke="#ed6b78" stroke-opacity="0.2" stroke-width="0.55"/>
<circle cx="391.12" cy="575.61" r="2.1" fill="#ed6b78" fill-opacity="0.15" stroke="#ed6b78" stroke-opacity="0.2" stroke-width="0.55"/>
<circle cx="388.11" cy="530.52" r="2.1" fill="#ed6b78" fill-opacity="0.15" stroke="#ed6b78" stroke-opacity="0.2" stroke-width="0.55"/>
<circle cx="394.72" cy="567.3" r="2.1" fill="#ed6b78" fill-opacity="0.15" stroke="#ed6b78" stroke-opacity="0.2" stroke-width="0.55"/>
<circle cx="388.74" cy="529.76" r="2.1" fill="#ed6b78" fill-opacity="0.15" stroke="#ed6b78" stroke-opacity="0.2" stroke-width="0.55"/>
<circle cx="394.71" cy="581.59" r="2.1" fill="#ed6b78" fill-opacity="0.15" stroke="#ed6b78" stroke-opacity="0.2" stroke-width="0.55"/>
<circle cx="388.31" cy="589.23" r="2.1" fill="#ed6b78" fill-opacity="0.15" stroke="#ed6b78" stroke-opacity="0.2" stroke-width="0.55"/>
<circle cx="390.47" cy="585.78" r="2.1" fill="#ed6b78" fill-opacity="0.15" stroke="#ed6b78" stroke-opacity="0.2" stroke-width="0.55"/>
<circle cx="392.61" cy="563.53" r="2.1" fill="#ed6b78" fill-opacity="0.15" stroke="#ed6b78" stroke-opacity="0.2" stroke-width="0.55"/>
<circle cx="393.42" cy="580.42" r="2.1" fill="#ed6b78" fill-opacity="0.15" stroke="#ed6b78" stroke-opacity="0.2" stroke-width="0.55"/>
<circle cx="392.99" cy="587.49" r="2.1" fill="#ed6b78" fill-opacity="0.15" stroke="#ed6b78" stroke-opacity="0.2" stroke-width="0.55"/>
<circle cx="387.53" cy="558.05" r="2.1" fill="#ed6b78" fill-opacity="0.15" stroke="#ed6b78" stroke-opacity="0.2" stroke-width="0.55"/>
<circle cx="389.83" cy="551.61" r="2.1" fill="#ed6b78" fill-opacity="0.15" stroke="#ed6b78" stroke-opacity="0.2" stroke-width="0.55"/>
<circle cx="392.32" cy="532.8" r="2.1" fill="#ed6b78" fill-opacity="0.15" stroke="#ed6b78" stroke-opacity="0.2" stroke-width="0.55"/>
<path d="M391 525V554.4M391 581.3V590.5" stroke="#ed6b78" stroke-width="1.15"/>
<rect x="386.3" y="554.4" width="9.4" height="26.9" fill="#ed6b78" fill-opacity="0.12" stroke="#ed6b78" stroke-width="1.2"/>
<path d="M386.3 568.8H395.7" stroke="#ed6b78" stroke-width="2.1"/>
<circle cx="425.74" cy="587.5" r="2.1" fill="#ed6b78" fill-opacity="0.15" stroke="#ed6b78" stroke-opacity="0.2" stroke-width="0.55"/>
<circle cx="429.77" cy="581.83" r="2.1" fill="#ed6b78" fill-opacity="0.15" stroke="#ed6b78" stroke-opacity="0.2" stroke-width="0.55"/>
<circle cx="427.35" cy="587.65" r="2.1" fill="#ed6b78" fill-opacity="0.15" stroke="#ed6b78" stroke-opacity="0.2" stroke-width="0.55"/>
<circle cx="424.5" cy="563.26" r="2.1" fill="#ed6b78" fill-opacity="0.15" stroke="#ed6b78" stroke-opacity="0.2" stroke-width="0.55"/>
<circle cx="423.43" cy="555.07" r="2.1" fill="#ed6b78" fill-opacity="0.15" stroke="#ed6b78" stroke-opacity="0.2" stroke-width="0.55"/>
<circle cx="424.17" cy="544.45" r="2.1" fill="#ed6b78" fill-opacity="0.15" stroke="#ed6b78" stroke-opacity="0.2" stroke-width="0.55"/>
<circle cx="425.5" cy="570.52" r="2.1" fill="#ed6b78" fill-opacity="0.15" stroke="#ed6b78" stroke-opacity="0.2" stroke-width="0.55"/>
<circle cx="428.04" cy="576.13" r="2.1" fill="#ed6b78" fill-opacity="0.15" stroke="#ed6b78" stroke-opacity="0.2" stroke-width="0.55"/>
<circle cx="425.21" cy="556.32" r="2.1" fill="#ed6b78" fill-opacity="0.15" stroke="#ed6b78" stroke-opacity="0.2" stroke-width="0.55"/>
<circle cx="428.41" cy="558.46" r="2.1" fill="#ed6b78" fill-opacity="0.15" stroke="#ed6b78" stroke-opacity="0.2" stroke-width="0.55"/>
<circle cx="426" cy="572.95" r="2.1" fill="#ed6b78" fill-opacity="0.15" stroke="#ed6b78" stroke-opacity="0.2" stroke-width="0.55"/>
<circle cx="422.59" cy="545.58" r="2.1" fill="#ed6b78" fill-opacity="0.15" stroke="#ed6b78" stroke-opacity="0.2" stroke-width="0.55"/>
<circle cx="425.74" cy="566.36" r="2.1" fill="#ed6b78" fill-opacity="0.15" stroke="#ed6b78" stroke-opacity="0.2" stroke-width="0.55"/>
<circle cx="425.61" cy="539.13" r="2.1" fill="#ed6b78" fill-opacity="0.15" stroke="#ed6b78" stroke-opacity="0.2" stroke-width="0.55"/>
<circle cx="428.6" cy="571.11" r="2.1" fill="#ed6b78" fill-opacity="0.15" stroke="#ed6b78" stroke-opacity="0.2" stroke-width="0.55"/>
<circle cx="427.9" cy="582.06" r="2.1" fill="#ed6b78" fill-opacity="0.15" stroke="#ed6b78" stroke-opacity="0.2" stroke-width="0.55"/>
<circle cx="424.88" cy="555.34" r="2.1" fill="#ed6b78" fill-opacity="0.15" stroke="#ed6b78" stroke-opacity="0.2" stroke-width="0.55"/>
<circle cx="425.2" cy="548.04" r="2.1" fill="#ed6b78" fill-opacity="0.15" stroke="#ed6b78" stroke-opacity="0.2" stroke-width="0.55"/>
<circle cx="424.34" cy="558.64" r="2.1" fill="#ed6b78" fill-opacity="0.15" stroke="#ed6b78" stroke-opacity="0.2" stroke-width="0.55"/>
<circle cx="423.11" cy="556.46" r="2.1" fill="#ed6b78" fill-opacity="0.15" stroke="#ed6b78" stroke-opacity="0.2" stroke-width="0.55"/>
<circle cx="427.99" cy="588.99" r="2.1" fill="#ed6b78" fill-opacity="0.15" stroke="#ed6b78" stroke-opacity="0.2" stroke-width="0.55"/>
<circle cx="426.65" cy="547.89" r="2.1" fill="#ed6b78" fill-opacity="0.15" stroke="#ed6b78" stroke-opacity="0.2" stroke-width="0.55"/>
<circle cx="421.69" cy="591.09" r="2.1" fill="#ed6b78" fill-opacity="0.15" stroke="#ed6b78" stroke-opacity="0.2" stroke-width="0.55"/>
<circle cx="429.15" cy="589.33" r="2.1" fill="#ed6b78" fill-opacity="0.15" stroke="#ed6b78" stroke-opacity="0.2" stroke-width="0.55"/>
<circle cx="428.89" cy="562.12" r="2.1" fill="#ed6b78" fill-opacity="0.15" stroke="#ed6b78" stroke-opacity="0.2" stroke-width="0.55"/>
<circle cx="425.23" cy="581.19" r="2.1" fill="#ed6b78" fill-opacity="0.15" stroke="#ed6b78" stroke-opacity="0.2" stroke-width="0.55"/>
<circle cx="423.04" cy="559.78" r="2.1" fill="#ed6b78" fill-opacity="0.15" stroke="#ed6b78" stroke-opacity="0.2" stroke-width="0.55"/>
<circle cx="426.75" cy="560.27" r="2.1" fill="#ed6b78" fill-opacity="0.15" stroke="#ed6b78" stroke-opacity="0.2" stroke-width="0.55"/>
<circle cx="424.07" cy="583.63" r="2.1" fill="#ed6b78" fill-opacity="0.15" stroke="#ed6b78" stroke-opacity="0.2" stroke-width="0.55"/>
<circle cx="423.03" cy="564.39" r="2.1" fill="#ed6b78" fill-opacity="0.15" stroke="#ed6b78" stroke-opacity="0.2" stroke-width="0.55"/>
<circle cx="427.71" cy="559.81" r="2.1" fill="#ed6b78" fill-opacity="0.15" stroke="#ed6b78" stroke-opacity="0.2" stroke-width="0.55"/>
<circle cx="422.97" cy="574.6" r="2.1" fill="#ed6b78" fill-opacity="0.15" stroke="#ed6b78" stroke-opacity="0.2" stroke-width="0.55"/>
<circle cx="429.38" cy="560.57" r="2.1" fill="#ed6b78" fill-opacity="0.15" stroke="#ed6b78" stroke-opacity="0.2" stroke-width="0.55"/>
<circle cx="424.63" cy="539.49" r="2.1" fill="#ed6b78" fill-opacity="0.15" stroke="#ed6b78" stroke-opacity="0.2" stroke-width="0.55"/>
<circle cx="424.55" cy="555.79" r="2.1" fill="#ed6b78" fill-opacity="0.15" stroke="#ed6b78" stroke-opacity="0.2" stroke-width="0.55"/>
<circle cx="423.72" cy="576.29" r="2.1" fill="#ed6b78" fill-opacity="0.15" stroke="#ed6b78" stroke-opacity="0.2" stroke-width="0.55"/>
<circle cx="424.96" cy="550.02" r="2.1" fill="#ed6b78" fill-opacity="0.15" stroke="#ed6b78" stroke-opacity="0.2" stroke-width="0.55"/>
<circle cx="423.59" cy="565.42" r="2.1" fill="#ed6b78" fill-opacity="0.15" stroke="#ed6b78" stroke-opacity="0.2" stroke-width="0.55"/>
<circle cx="427.27" cy="592.79" r="2.1" fill="#ed6b78" fill-opacity="0.15" stroke="#ed6b78" stroke-opacity="0.2" stroke-width="0.55"/>
<circle cx="422.38" cy="541.03" r="2.1" fill="#ed6b78" fill-opacity="0.15" stroke="#ed6b78" stroke-opacity="0.2" stroke-width="0.55"/>
<circle cx="427.59" cy="563.17" r="2.1" fill="#ed6b78" fill-opacity="0.15" stroke="#ed6b78" stroke-opacity="0.2" stroke-width="0.55"/>
<circle cx="427.72" cy="582.25" r="2.1" fill="#ed6b78" fill-opacity="0.15" stroke="#ed6b78" stroke-opacity="0.2" stroke-width="0.55"/>
<circle cx="421.96" cy="577.16" r="2.1" fill="#ed6b78" fill-opacity="0.15" stroke="#ed6b78" stroke-opacity="0.2" stroke-width="0.55"/>
<circle cx="426.41" cy="569.12" r="2.1" fill="#ed6b78" fill-opacity="0.15" stroke="#ed6b78" stroke-opacity="0.2" stroke-width="0.55"/>
<circle cx="422.69" cy="556.9" r="2.1" fill="#ed6b78" fill-opacity="0.15" stroke="#ed6b78" stroke-opacity="0.2" stroke-width="0.55"/>
<circle cx="425.6" cy="548.22" r="2.1" fill="#ed6b78" fill-opacity="0.15" stroke="#ed6b78" stroke-opacity="0.2" stroke-width="0.55"/>
<circle cx="428.29" cy="549.15" r="2.1" fill="#ed6b78" fill-opacity="0.15" stroke="#ed6b78" stroke-opacity="0.2" stroke-width="0.55"/>
<circle cx="424.62" cy="554.11" r="2.1" fill="#ed6b78" fill-opacity="0.15" stroke="#ed6b78" stroke-opacity="0.2" stroke-width="0.55"/>
<circle cx="427.55" cy="584.63" r="2.1" fill="#ed6b78" fill-opacity="0.15" stroke="#ed6b78" stroke-opacity="0.2" stroke-width="0.55"/>
<circle cx="425.49" cy="551.84" r="2.1" fill="#ed6b78" fill-opacity="0.15" stroke="#ed6b78" stroke-opacity="0.2" stroke-width="0.55"/>
<circle cx="426.3" cy="609.4" r="2.1" fill="#ed6b78" fill-opacity="0.15" stroke="#ed6b78" stroke-opacity="0.2" stroke-width="0.55"/>
<circle cx="426.55" cy="633.8" r="2.1" fill="#ed6b78" fill-opacity="0.15" stroke="#ed6b78" stroke-opacity="0.2" stroke-width="0.55"/>
<path d="M425.9 539.1V557.4M425.9 572.6V593.4" stroke="#ed6b78" stroke-width="1.15"/>
<rect x="421.2" y="557.4" width="9.4" height="15.2" fill="#ed6b78" fill-opacity="0.12" stroke="#ed6b78" stroke-width="1.2"/>
<path d="M421.2 564.7H430.6" stroke="#ed6b78" stroke-width="2.1"/>
<circle cx="459.27" cy="568.78" r="2.1" fill="#ed6b78" fill-opacity="0.15" stroke="#ed6b78" stroke-opacity="0.2" stroke-width="0.55"/>
<circle cx="462.87" cy="561.78" r="2.1" fill="#ed6b78" fill-opacity="0.15" stroke="#ed6b78" stroke-opacity="0.2" stroke-width="0.55"/>
<circle cx="457" cy="572.08" r="2.1" fill="#ed6b78" fill-opacity="0.15" stroke="#ed6b78" stroke-opacity="0.2" stroke-width="0.55"/>
<circle cx="462.71" cy="568.44" r="2.1" fill="#ed6b78" fill-opacity="0.15" stroke="#ed6b78" stroke-opacity="0.2" stroke-width="0.55"/>
<circle cx="460.87" cy="549.66" r="2.1" fill="#ed6b78" fill-opacity="0.15" stroke="#ed6b78" stroke-opacity="0.2" stroke-width="0.55"/>
<circle cx="460.07" cy="542.35" r="2.1" fill="#ed6b78" fill-opacity="0.15" stroke="#ed6b78" stroke-opacity="0.2" stroke-width="0.55"/>
<circle cx="460.95" cy="541.62" r="2.1" fill="#ed6b78" fill-opacity="0.15" stroke="#ed6b78" stroke-opacity="0.2" stroke-width="0.55"/>
<circle cx="457.58" cy="555.07" r="2.1" fill="#ed6b78" fill-opacity="0.15" stroke="#ed6b78" stroke-opacity="0.2" stroke-width="0.55"/>
<circle cx="459.45" cy="587.89" r="2.1" fill="#ed6b78" fill-opacity="0.15" stroke="#ed6b78" stroke-opacity="0.2" stroke-width="0.55"/>
<circle cx="462.06" cy="575.02" r="2.1" fill="#ed6b78" fill-opacity="0.15" stroke="#ed6b78" stroke-opacity="0.2" stroke-width="0.55"/>
<circle cx="458.68" cy="593.02" r="2.1" fill="#ed6b78" fill-opacity="0.15" stroke="#ed6b78" stroke-opacity="0.2" stroke-width="0.55"/>
<circle cx="463.23" cy="550.9" r="2.1" fill="#ed6b78" fill-opacity="0.15" stroke="#ed6b78" stroke-opacity="0.2" stroke-width="0.55"/>
<circle cx="456.96" cy="570.35" r="2.1" fill="#ed6b78" fill-opacity="0.15" stroke="#ed6b78" stroke-opacity="0.2" stroke-width="0.55"/>
<circle cx="460.57" cy="578.73" r="2.1" fill="#ed6b78" fill-opacity="0.15" stroke="#ed6b78" stroke-opacity="0.2" stroke-width="0.55"/>
<circle cx="458.94" cy="581.27" r="2.1" fill="#ed6b78" fill-opacity="0.15" stroke="#ed6b78" stroke-opacity="0.2" stroke-width="0.55"/>
<circle cx="460.81" cy="543.08" r="2.1" fill="#ed6b78" fill-opacity="0.15" stroke="#ed6b78" stroke-opacity="0.2" stroke-width="0.55"/>
<circle cx="462.75" cy="582.08" r="2.1" fill="#ed6b78" fill-opacity="0.15" stroke="#ed6b78" stroke-opacity="0.2" stroke-width="0.55"/>
<circle cx="460.75" cy="549.5" r="2.1" fill="#ed6b78" fill-opacity="0.15" stroke="#ed6b78" stroke-opacity="0.2" stroke-width="0.55"/>
<circle cx="461.47" cy="579.95" r="2.1" fill="#ed6b78" fill-opacity="0.15" stroke="#ed6b78" stroke-opacity="0.2" stroke-width="0.55"/>
<circle cx="459.22" cy="563.12" r="2.1" fill="#ed6b78" fill-opacity="0.15" stroke="#ed6b78" stroke-opacity="0.2" stroke-width="0.55"/>
<circle cx="460.35" cy="585.06" r="2.1" fill="#ed6b78" fill-opacity="0.15" stroke="#ed6b78" stroke-opacity="0.2" stroke-width="0.55"/>
<circle cx="461.49" cy="578.47" r="2.1" fill="#ed6b78" fill-opacity="0.15" stroke="#ed6b78" stroke-opacity="0.2" stroke-width="0.55"/>
<circle cx="459.21" cy="593.33" r="2.1" fill="#ed6b78" fill-opacity="0.15" stroke="#ed6b78" stroke-opacity="0.2" stroke-width="0.55"/>
<circle cx="460.49" cy="573.3" r="2.1" fill="#ed6b78" fill-opacity="0.15" stroke="#ed6b78" stroke-opacity="0.2" stroke-width="0.55"/>
<circle cx="463.97" cy="563.21" r="2.1" fill="#ed6b78" fill-opacity="0.15" stroke="#ed6b78" stroke-opacity="0.2" stroke-width="0.55"/>
<circle cx="463.4" cy="558.32" r="2.1" fill="#ed6b78" fill-opacity="0.15" stroke="#ed6b78" stroke-opacity="0.2" stroke-width="0.55"/>
<circle cx="459.97" cy="567.8" r="2.1" fill="#ed6b78" fill-opacity="0.15" stroke="#ed6b78" stroke-opacity="0.2" stroke-width="0.55"/>
<circle cx="459.67" cy="546.41" r="2.1" fill="#ed6b78" fill-opacity="0.15" stroke="#ed6b78" stroke-opacity="0.2" stroke-width="0.55"/>
<circle cx="462.18" cy="566.81" r="2.1" fill="#ed6b78" fill-opacity="0.15" stroke="#ed6b78" stroke-opacity="0.2" stroke-width="0.55"/>
<circle cx="461.69" cy="542.5" r="2.1" fill="#ed6b78" fill-opacity="0.15" stroke="#ed6b78" stroke-opacity="0.2" stroke-width="0.55"/>
<circle cx="463.41" cy="592.56" r="2.1" fill="#ed6b78" fill-opacity="0.15" stroke="#ed6b78" stroke-opacity="0.2" stroke-width="0.55"/>
<circle cx="463.47" cy="580.71" r="2.1" fill="#ed6b78" fill-opacity="0.15" stroke="#ed6b78" stroke-opacity="0.2" stroke-width="0.55"/>
<circle cx="459.94" cy="566.03" r="2.1" fill="#ed6b78" fill-opacity="0.15" stroke="#ed6b78" stroke-opacity="0.2" stroke-width="0.55"/>
<circle cx="462.43" cy="588.9" r="2.1" fill="#ed6b78" fill-opacity="0.15" stroke="#ed6b78" stroke-opacity="0.2" stroke-width="0.55"/>
<circle cx="458.32" cy="572.99" r="2.1" fill="#ed6b78" fill-opacity="0.15" stroke="#ed6b78" stroke-opacity="0.2" stroke-width="0.55"/>
<circle cx="464.98" cy="574.62" r="2.1" fill="#ed6b78" fill-opacity="0.15" stroke="#ed6b78" stroke-opacity="0.2" stroke-width="0.55"/>
<circle cx="460.18" cy="552.14" r="2.1" fill="#ed6b78" fill-opacity="0.15" stroke="#ed6b78" stroke-opacity="0.2" stroke-width="0.55"/>
<circle cx="461.82" cy="571.56" r="2.1" fill="#ed6b78" fill-opacity="0.15" stroke="#ed6b78" stroke-opacity="0.2" stroke-width="0.55"/>
<circle cx="459.18" cy="566.67" r="2.1" fill="#ed6b78" fill-opacity="0.15" stroke="#ed6b78" stroke-opacity="0.2" stroke-width="0.55"/>
<circle cx="458.98" cy="590.24" r="2.1" fill="#ed6b78" fill-opacity="0.15" stroke="#ed6b78" stroke-opacity="0.2" stroke-width="0.55"/>
<circle cx="457.53" cy="566.79" r="2.1" fill="#ed6b78" fill-opacity="0.15" stroke="#ed6b78" stroke-opacity="0.2" stroke-width="0.55"/>
<circle cx="458.11" cy="565.36" r="2.1" fill="#ed6b78" fill-opacity="0.15" stroke="#ed6b78" stroke-opacity="0.2" stroke-width="0.55"/>
<circle cx="463.3" cy="542.52" r="2.1" fill="#ed6b78" fill-opacity="0.15" stroke="#ed6b78" stroke-opacity="0.2" stroke-width="0.55"/>
<circle cx="459.56" cy="581.72" r="2.1" fill="#ed6b78" fill-opacity="0.15" stroke="#ed6b78" stroke-opacity="0.2" stroke-width="0.55"/>
<circle cx="457.55" cy="559.98" r="2.1" fill="#ed6b78" fill-opacity="0.15" stroke="#ed6b78" stroke-opacity="0.2" stroke-width="0.55"/>
<circle cx="463.13" cy="582.33" r="2.1" fill="#ed6b78" fill-opacity="0.15" stroke="#ed6b78" stroke-opacity="0.2" stroke-width="0.55"/>
<circle cx="458.01" cy="548.48" r="2.1" fill="#ed6b78" fill-opacity="0.15" stroke="#ed6b78" stroke-opacity="0.2" stroke-width="0.55"/>
<circle cx="461.92" cy="572.38" r="2.1" fill="#ed6b78" fill-opacity="0.15" stroke="#ed6b78" stroke-opacity="0.2" stroke-width="0.55"/>
<circle cx="459.8" cy="565.14" r="2.1" fill="#ed6b78" fill-opacity="0.15" stroke="#ed6b78" stroke-opacity="0.2" stroke-width="0.55"/>
<circle cx="463.99" cy="570.55" r="2.1" fill="#ed6b78" fill-opacity="0.15" stroke="#ed6b78" stroke-opacity="0.2" stroke-width="0.55"/>
<circle cx="459.97" cy="613.3" r="2.1" fill="#ed6b78" fill-opacity="0.15" stroke="#ed6b78" stroke-opacity="0.2" stroke-width="0.55"/>
<circle cx="459.93" cy="617.9" r="2.1" fill="#ed6b78" fill-opacity="0.15" stroke="#ed6b78" stroke-opacity="0.2" stroke-width="0.55"/>
<path d="M460.8 541.4V560.8M460.8 577.9V593.4" stroke="#ed6b78" stroke-width="1.15"/>
<rect x="456.1" y="560.8" width="9.4" height="17.1" fill="#ed6b78" fill-opacity="0.12" stroke="#ed6b78" stroke-width="1.2"/>
<path d="M456.1 567.6H465.5" stroke="#ed6b78" stroke-width="2.1"/>
<circle cx="498.91" cy="542.76" r="2.1" fill="#ed6b78" fill-opacity="0.15" stroke="#ed6b78" stroke-opacity="0.2" stroke-width="0.55"/>
<circle cx="498.79" cy="512.76" r="2.1" fill="#ed6b78" fill-opacity="0.15" stroke="#ed6b78" stroke-opacity="0.2" stroke-width="0.55"/>
<circle cx="491.92" cy="520.53" r="2.1" fill="#ed6b78" fill-opacity="0.15" stroke="#ed6b78" stroke-opacity="0.2" stroke-width="0.55"/>
<circle cx="496.31" cy="507.85" r="2.1" fill="#ed6b78" fill-opacity="0.15" stroke="#ed6b78" stroke-opacity="0.2" stroke-width="0.55"/>
<circle cx="499.19" cy="512.08" r="2.1" fill="#ed6b78" fill-opacity="0.15" stroke="#ed6b78" stroke-opacity="0.2" stroke-width="0.55"/>
<circle cx="492.49" cy="513.99" r="2.1" fill="#ed6b78" fill-opacity="0.15" stroke="#ed6b78" stroke-opacity="0.2" stroke-width="0.55"/>
<circle cx="499.82" cy="536.7" r="2.1" fill="#ed6b78" fill-opacity="0.15" stroke="#ed6b78" stroke-opacity="0.2" stroke-width="0.55"/>
<circle cx="495.66" cy="498.48" r="2.1" fill="#ed6b78" fill-opacity="0.15" stroke="#ed6b78" stroke-opacity="0.2" stroke-width="0.55"/>
<circle cx="494.54" cy="519.91" r="2.1" fill="#ed6b78" fill-opacity="0.15" stroke="#ed6b78" stroke-opacity="0.2" stroke-width="0.55"/>
<circle cx="491.95" cy="513.5" r="2.1" fill="#ed6b78" fill-opacity="0.15" stroke="#ed6b78" stroke-opacity="0.2" stroke-width="0.55"/>
<circle cx="495.95" cy="538.68" r="2.1" fill="#ed6b78" fill-opacity="0.15" stroke="#ed6b78" stroke-opacity="0.2" stroke-width="0.55"/>
<circle cx="498.19" cy="522.98" r="2.1" fill="#ed6b78" fill-opacity="0.15" stroke="#ed6b78" stroke-opacity="0.2" stroke-width="0.55"/>
<circle cx="499.91" cy="536.67" r="2.1" fill="#ed6b78" fill-opacity="0.15" stroke="#ed6b78" stroke-opacity="0.2" stroke-width="0.55"/>
<circle cx="492.58" cy="537.37" r="2.1" fill="#ed6b78" fill-opacity="0.15" stroke="#ed6b78" stroke-opacity="0.2" stroke-width="0.55"/>
<circle cx="492.64" cy="517.65" r="2.1" fill="#ed6b78" fill-opacity="0.15" stroke="#ed6b78" stroke-opacity="0.2" stroke-width="0.55"/>
<circle cx="495.71" cy="511.48" r="2.1" fill="#ed6b78" fill-opacity="0.15" stroke="#ed6b78" stroke-opacity="0.2" stroke-width="0.55"/>
<circle cx="499.99" cy="544.94" r="2.1" fill="#ed6b78" fill-opacity="0.15" stroke="#ed6b78" stroke-opacity="0.2" stroke-width="0.55"/>
<circle cx="497.34" cy="507.79" r="2.1" fill="#ed6b78" fill-opacity="0.15" stroke="#ed6b78" stroke-opacity="0.2" stroke-width="0.55"/>
<circle cx="497.92" cy="541.98" r="2.1" fill="#ed6b78" fill-opacity="0.15" stroke="#ed6b78" stroke-opacity="0.2" stroke-width="0.55"/>
<circle cx="498.62" cy="510.32" r="2.1" fill="#ed6b78" fill-opacity="0.15" stroke="#ed6b78" stroke-opacity="0.2" stroke-width="0.55"/>
<circle cx="494.91" cy="531.96" r="2.1" fill="#ed6b78" fill-opacity="0.15" stroke="#ed6b78" stroke-opacity="0.2" stroke-width="0.55"/>
<circle cx="492.05" cy="510.43" r="2.1" fill="#ed6b78" fill-opacity="0.15" stroke="#ed6b78" stroke-opacity="0.2" stroke-width="0.55"/>
<circle cx="496.36" cy="508.31" r="2.1" fill="#ed6b78" fill-opacity="0.15" stroke="#ed6b78" stroke-opacity="0.2" stroke-width="0.55"/>
<circle cx="495.24" cy="508.55" r="2.1" fill="#ed6b78" fill-opacity="0.15" stroke="#ed6b78" stroke-opacity="0.2" stroke-width="0.55"/>
<circle cx="498.17" cy="510.96" r="2.1" fill="#ed6b78" fill-opacity="0.15" stroke="#ed6b78" stroke-opacity="0.2" stroke-width="0.55"/>
<circle cx="497.22" cy="512.67" r="2.1" fill="#ed6b78" fill-opacity="0.15" stroke="#ed6b78" stroke-opacity="0.2" stroke-width="0.55"/>
<circle cx="496.49" cy="541.3" r="2.1" fill="#ed6b78" fill-opacity="0.15" stroke="#ed6b78" stroke-opacity="0.2" stroke-width="0.55"/>
<circle cx="495.88" cy="544.72" r="2.1" fill="#ed6b78" fill-opacity="0.15" stroke="#ed6b78" stroke-opacity="0.2" stroke-width="0.55"/>
<circle cx="494.27" cy="521.24" r="2.1" fill="#ed6b78" fill-opacity="0.15" stroke="#ed6b78" stroke-opacity="0.2" stroke-width="0.55"/>
<circle cx="497.4" cy="543.21" r="2.1" fill="#ed6b78" fill-opacity="0.15" stroke="#ed6b78" stroke-opacity="0.2" stroke-width="0.55"/>
<circle cx="495.62" cy="540.42" r="2.1" fill="#ed6b78" fill-opacity="0.15" stroke="#ed6b78" stroke-opacity="0.2" stroke-width="0.55"/>
<circle cx="498.17" cy="521.55" r="2.1" fill="#ed6b78" fill-opacity="0.15" stroke="#ed6b78" stroke-opacity="0.2" stroke-width="0.55"/>
<circle cx="493.96" cy="523.69" r="2.1" fill="#ed6b78" fill-opacity="0.15" stroke="#ed6b78" stroke-opacity="0.2" stroke-width="0.55"/>
<circle cx="493.62" cy="518.34" r="2.1" fill="#ed6b78" fill-opacity="0.15" stroke="#ed6b78" stroke-opacity="0.2" stroke-width="0.55"/>
<circle cx="499.38" cy="502.11" r="2.1" fill="#ed6b78" fill-opacity="0.15" stroke="#ed6b78" stroke-opacity="0.2" stroke-width="0.55"/>
<circle cx="498.6" cy="532.99" r="2.1" fill="#ed6b78" fill-opacity="0.15" stroke="#ed6b78" stroke-opacity="0.2" stroke-width="0.55"/>
<circle cx="491.5" cy="536.89" r="2.1" fill="#ed6b78" fill-opacity="0.15" stroke="#ed6b78" stroke-opacity="0.2" stroke-width="0.55"/>
<circle cx="492.96" cy="540.43" r="2.1" fill="#ed6b78" fill-opacity="0.15" stroke="#ed6b78" stroke-opacity="0.2" stroke-width="0.55"/>
<circle cx="492.9" cy="537.41" r="2.1" fill="#ed6b78" fill-opacity="0.15" stroke="#ed6b78" stroke-opacity="0.2" stroke-width="0.55"/>
<circle cx="492.9" cy="542.92" r="2.1" fill="#ed6b78" fill-opacity="0.15" stroke="#ed6b78" stroke-opacity="0.2" stroke-width="0.55"/>
<circle cx="497.08" cy="525.24" r="2.1" fill="#ed6b78" fill-opacity="0.15" stroke="#ed6b78" stroke-opacity="0.2" stroke-width="0.55"/>
<circle cx="499.59" cy="535.78" r="2.1" fill="#ed6b78" fill-opacity="0.15" stroke="#ed6b78" stroke-opacity="0.2" stroke-width="0.55"/>
<circle cx="497.55" cy="516.58" r="2.1" fill="#ed6b78" fill-opacity="0.15" stroke="#ed6b78" stroke-opacity="0.2" stroke-width="0.55"/>
<circle cx="496.24" cy="506.34" r="2.1" fill="#ed6b78" fill-opacity="0.15" stroke="#ed6b78" stroke-opacity="0.2" stroke-width="0.55"/>
<circle cx="494.88" cy="507.17" r="2.1" fill="#ed6b78" fill-opacity="0.15" stroke="#ed6b78" stroke-opacity="0.2" stroke-width="0.55"/>
<circle cx="492.37" cy="516.29" r="2.1" fill="#ed6b78" fill-opacity="0.15" stroke="#ed6b78" stroke-opacity="0.2" stroke-width="0.55"/>
<circle cx="498.45" cy="515.14" r="2.1" fill="#ed6b78" fill-opacity="0.15" stroke="#ed6b78" stroke-opacity="0.2" stroke-width="0.55"/>
<circle cx="495.89" cy="525.63" r="2.1" fill="#ed6b78" fill-opacity="0.15" stroke="#ed6b78" stroke-opacity="0.2" stroke-width="0.55"/>
<circle cx="495.2" cy="542.22" r="2.1" fill="#ed6b78" fill-opacity="0.15" stroke="#ed6b78" stroke-opacity="0.2" stroke-width="0.55"/>
<circle cx="492.52" cy="525.76" r="2.1" fill="#ed6b78" fill-opacity="0.15" stroke="#ed6b78" stroke-opacity="0.2" stroke-width="0.55"/>
<circle cx="495.27" cy="567.2" r="2.1" fill="#ed6b78" fill-opacity="0.15" stroke="#ed6b78" stroke-opacity="0.2" stroke-width="0.55"/>
<circle cx="496.56" cy="591.1" r="2.1" fill="#ed6b78" fill-opacity="0.15" stroke="#ed6b78" stroke-opacity="0.2" stroke-width="0.55"/>
<path d="M495.8 498.4V513.3M495.8 533.4V546.6" stroke="#ed6b78" stroke-width="1.15"/>
<rect x="491.1" y="513.3" width="9.4" height="20.1" fill="#ed6b78" fill-opacity="0.12" stroke="#ed6b78" stroke-width="1.2"/>
<path d="M491.1 523.8H500.5" stroke="#ed6b78" stroke-width="2.1"/>
<circle cx="534.36" cy="581.74" r="2.1" fill="#ed6b78" fill-opacity="0.15" stroke="#ed6b78" stroke-opacity="0.2" stroke-width="0.55"/>
<circle cx="532.58" cy="536.4" r="2.1" fill="#ed6b78" fill-opacity="0.15" stroke="#ed6b78" stroke-opacity="0.2" stroke-width="0.55"/>
<circle cx="530.08" cy="570.31" r="2.1" fill="#ed6b78" fill-opacity="0.15" stroke="#ed6b78" stroke-opacity="0.2" stroke-width="0.55"/>
<circle cx="528.88" cy="572.25" r="2.1" fill="#ed6b78" fill-opacity="0.15" stroke="#ed6b78" stroke-opacity="0.2" stroke-width="0.55"/>
<circle cx="526.71" cy="566.58" r="2.1" fill="#ed6b78" fill-opacity="0.15" stroke="#ed6b78" stroke-opacity="0.2" stroke-width="0.55"/>
<circle cx="530.38" cy="554.62" r="2.1" fill="#ed6b78" fill-opacity="0.15" stroke="#ed6b78" stroke-opacity="0.2" stroke-width="0.55"/>
<circle cx="526.75" cy="547.51" r="2.1" fill="#ed6b78" fill-opacity="0.15" stroke="#ed6b78" stroke-opacity="0.2" stroke-width="0.55"/>
<circle cx="526.98" cy="559.11" r="2.1" fill="#ed6b78" fill-opacity="0.15" stroke="#ed6b78" stroke-opacity="0.2" stroke-width="0.55"/>
<circle cx="534.82" cy="568.63" r="2.1" fill="#ed6b78" fill-opacity="0.15" stroke="#ed6b78" stroke-opacity="0.2" stroke-width="0.55"/>
<circle cx="528.62" cy="547.72" r="2.1" fill="#ed6b78" fill-opacity="0.15" stroke="#ed6b78" stroke-opacity="0.2" stroke-width="0.55"/>
<circle cx="534.54" cy="579.24" r="2.1" fill="#ed6b78" fill-opacity="0.15" stroke="#ed6b78" stroke-opacity="0.2" stroke-width="0.55"/>
<circle cx="534.58" cy="560.17" r="2.1" fill="#ed6b78" fill-opacity="0.15" stroke="#ed6b78" stroke-opacity="0.2" stroke-width="0.55"/>
<circle cx="530.2" cy="577.18" r="2.1" fill="#ed6b78" fill-opacity="0.15" stroke="#ed6b78" stroke-opacity="0.2" stroke-width="0.55"/>
<circle cx="527.83" cy="580.82" r="2.1" fill="#ed6b78" fill-opacity="0.15" stroke="#ed6b78" stroke-opacity="0.2" stroke-width="0.55"/>
<circle cx="533.41" cy="573.38" r="2.1" fill="#ed6b78" fill-opacity="0.15" stroke="#ed6b78" stroke-opacity="0.2" stroke-width="0.55"/>
<circle cx="534.69" cy="560.86" r="2.1" fill="#ed6b78" fill-opacity="0.15" stroke="#ed6b78" stroke-opacity="0.2" stroke-width="0.55"/>
<circle cx="527.86" cy="559.38" r="2.1" fill="#ed6b78" fill-opacity="0.15" stroke="#ed6b78" stroke-opacity="0.2" stroke-width="0.55"/>
<circle cx="528.9" cy="548.32" r="2.1" fill="#ed6b78" fill-opacity="0.15" stroke="#ed6b78" stroke-opacity="0.2" stroke-width="0.55"/>
<circle cx="527.29" cy="564.63" r="2.1" fill="#ed6b78" fill-opacity="0.15" stroke="#ed6b78" stroke-opacity="0.2" stroke-width="0.55"/>
<circle cx="526.77" cy="548.76" r="2.1" fill="#ed6b78" fill-opacity="0.15" stroke="#ed6b78" stroke-opacity="0.2" stroke-width="0.55"/>
<circle cx="531.68" cy="545.08" r="2.1" fill="#ed6b78" fill-opacity="0.15" stroke="#ed6b78" stroke-opacity="0.2" stroke-width="0.55"/>
<circle cx="530.01" cy="535.21" r="2.1" fill="#ed6b78" fill-opacity="0.15" stroke="#ed6b78" stroke-opacity="0.2" stroke-width="0.55"/>
<circle cx="532.36" cy="563.57" r="2.1" fill="#ed6b78" fill-opacity="0.15" stroke="#ed6b78" stroke-opacity="0.2" stroke-width="0.55"/>
<circle cx="526.59" cy="556.33" r="2.1" fill="#ed6b78" fill-opacity="0.15" stroke="#ed6b78" stroke-opacity="0.2" stroke-width="0.55"/>
<circle cx="534.27" cy="535.68" r="2.1" fill="#ed6b78" fill-opacity="0.15" stroke="#ed6b78" stroke-opacity="0.2" stroke-width="0.55"/>
<circle cx="531.48" cy="564.51" r="2.1" fill="#ed6b78" fill-opacity="0.15" stroke="#ed6b78" stroke-opacity="0.2" stroke-width="0.55"/>
<circle cx="530.18" cy="538.06" r="2.1" fill="#ed6b78" fill-opacity="0.15" stroke="#ed6b78" stroke-opacity="0.2" stroke-width="0.55"/>
<circle cx="532.38" cy="554.87" r="2.1" fill="#ed6b78" fill-opacity="0.15" stroke="#ed6b78" stroke-opacity="0.2" stroke-width="0.55"/>
<circle cx="531.84" cy="551.38" r="2.1" fill="#ed6b78" fill-opacity="0.15" stroke="#ed6b78" stroke-opacity="0.2" stroke-width="0.55"/>
<circle cx="531.39" cy="567.95" r="2.1" fill="#ed6b78" fill-opacity="0.15" stroke="#ed6b78" stroke-opacity="0.2" stroke-width="0.55"/>
<circle cx="531.12" cy="567.21" r="2.1" fill="#ed6b78" fill-opacity="0.15" stroke="#ed6b78" stroke-opacity="0.2" stroke-width="0.55"/>
<circle cx="533.53" cy="558.62" r="2.1" fill="#ed6b78" fill-opacity="0.15" stroke="#ed6b78" stroke-opacity="0.2" stroke-width="0.55"/>
<circle cx="529.04" cy="561.46" r="2.1" fill="#ed6b78" fill-opacity="0.15" stroke="#ed6b78" stroke-opacity="0.2" stroke-width="0.55"/>
<circle cx="529.76" cy="557.98" r="2.1" fill="#ed6b78" fill-opacity="0.15" stroke="#ed6b78" stroke-opacity="0.2" stroke-width="0.55"/>
<circle cx="534.19" cy="566.68" r="2.1" fill="#ed6b78" fill-opacity="0.15" stroke="#ed6b78" stroke-opacity="0.2" stroke-width="0.55"/>
<circle cx="533.49" cy="544.6" r="2.1" fill="#ed6b78" fill-opacity="0.15" stroke="#ed6b78" stroke-opacity="0.2" stroke-width="0.55"/>
<circle cx="527.15" cy="563.94" r="2.1" fill="#ed6b78" fill-opacity="0.15" stroke="#ed6b78" stroke-opacity="0.2" stroke-width="0.55"/>
<circle cx="531.54" cy="554.17" r="2.1" fill="#ed6b78" fill-opacity="0.15" stroke="#ed6b78" stroke-opacity="0.2" stroke-width="0.55"/>
<circle cx="531.28" cy="568.45" r="2.1" fill="#ed6b78" fill-opacity="0.15" stroke="#ed6b78" stroke-opacity="0.2" stroke-width="0.55"/>
<circle cx="533.97" cy="574.33" r="2.1" fill="#ed6b78" fill-opacity="0.15" stroke="#ed6b78" stroke-opacity="0.2" stroke-width="0.55"/>
<circle cx="530.09" cy="544.94" r="2.1" fill="#ed6b78" fill-opacity="0.15" stroke="#ed6b78" stroke-opacity="0.2" stroke-width="0.55"/>
<circle cx="527.65" cy="564" r="2.1" fill="#ed6b78" fill-opacity="0.15" stroke="#ed6b78" stroke-opacity="0.2" stroke-width="0.55"/>
<circle cx="530.57" cy="556.77" r="2.1" fill="#ed6b78" fill-opacity="0.15" stroke="#ed6b78" stroke-opacity="0.2" stroke-width="0.55"/>
<circle cx="528.61" cy="554.23" r="2.1" fill="#ed6b78" fill-opacity="0.15" stroke="#ed6b78" stroke-opacity="0.2" stroke-width="0.55"/>
<circle cx="533.72" cy="579.94" r="2.1" fill="#ed6b78" fill-opacity="0.15" stroke="#ed6b78" stroke-opacity="0.2" stroke-width="0.55"/>
<circle cx="534.27" cy="581.59" r="2.1" fill="#ed6b78" fill-opacity="0.15" stroke="#ed6b78" stroke-opacity="0.2" stroke-width="0.55"/>
<circle cx="529.13" cy="537.29" r="2.1" fill="#ed6b78" fill-opacity="0.15" stroke="#ed6b78" stroke-opacity="0.2" stroke-width="0.55"/>
<circle cx="526.61" cy="554.58" r="2.1" fill="#ed6b78" fill-opacity="0.15" stroke="#ed6b78" stroke-opacity="0.2" stroke-width="0.55"/>
<circle cx="527.01" cy="569.01" r="2.1" fill="#ed6b78" fill-opacity="0.15" stroke="#ed6b78" stroke-opacity="0.2" stroke-width="0.55"/>
<circle cx="528.87" cy="551.86" r="2.1" fill="#ed6b78" fill-opacity="0.15" stroke="#ed6b78" stroke-opacity="0.2" stroke-width="0.55"/>
<path d="M530.7 535.2V548.2M530.7 569.2V582.5" stroke="#ed6b78" stroke-width="1.15"/>
<rect x="526" y="548.2" width="9.4" height="21" fill="#ed6b78" fill-opacity="0.12" stroke="#ed6b78" stroke-width="1.2"/>
<path d="M526 555.1H535.4" stroke="#ed6b78" stroke-width="2.1"/>
<circle cx="567.68" cy="583.48" r="2.1" fill="#ed6b78" fill-opacity="0.15" stroke="#ed6b78" stroke-opacity="0.2" stroke-width="0.55"/>
<circle cx="566.01" cy="565.39" r="2.1" fill="#ed6b78" fill-opacity="0.15" stroke="#ed6b78" stroke-opacity="0.2" stroke-width="0.55"/>
<circle cx="565.21" cy="564.05" r="2.1" fill="#ed6b78" fill-opacity="0.15" stroke="#ed6b78" stroke-opacity="0.2" stroke-width="0.55"/>
<circle cx="567.55" cy="590.13" r="2.1" fill="#ed6b78" fill-opacity="0.15" stroke="#ed6b78" stroke-opacity="0.2" stroke-width="0.55"/>
<circle cx="564.05" cy="583.06" r="2.1" fill="#ed6b78" fill-opacity="0.15" stroke="#ed6b78" stroke-opacity="0.2" stroke-width="0.55"/>
<circle cx="568.73" cy="560.66" r="2.1" fill="#ed6b78" fill-opacity="0.15" stroke="#ed6b78" stroke-opacity="0.2" stroke-width="0.55"/>
<circle cx="561.6" cy="586.69" r="2.1" fill="#ed6b78" fill-opacity="0.15" stroke="#ed6b78" stroke-opacity="0.2" stroke-width="0.55"/>
<circle cx="563.05" cy="537.82" r="2.1" fill="#ed6b78" fill-opacity="0.15" stroke="#ed6b78" stroke-opacity="0.2" stroke-width="0.55"/>
<circle cx="568.67" cy="548.06" r="2.1" fill="#ed6b78" fill-opacity="0.15" stroke="#ed6b78" stroke-opacity="0.2" stroke-width="0.55"/>
<circle cx="568.93" cy="555.03" r="2.1" fill="#ed6b78" fill-opacity="0.15" stroke="#ed6b78" stroke-opacity="0.2" stroke-width="0.55"/>
<circle cx="565.76" cy="576.62" r="2.1" fill="#ed6b78" fill-opacity="0.15" stroke="#ed6b78" stroke-opacity="0.2" stroke-width="0.55"/>
<circle cx="568.15" cy="563.02" r="2.1" fill="#ed6b78" fill-opacity="0.15" stroke="#ed6b78" stroke-opacity="0.2" stroke-width="0.55"/>
<circle cx="567.94" cy="573.23" r="2.1" fill="#ed6b78" fill-opacity="0.15" stroke="#ed6b78" stroke-opacity="0.2" stroke-width="0.55"/>
<circle cx="564.29" cy="541.86" r="2.1" fill="#ed6b78" fill-opacity="0.15" stroke="#ed6b78" stroke-opacity="0.2" stroke-width="0.55"/>
<circle cx="565.72" cy="586.67" r="2.1" fill="#ed6b78" fill-opacity="0.15" stroke="#ed6b78" stroke-opacity="0.2" stroke-width="0.55"/>
<circle cx="564.56" cy="565.72" r="2.1" fill="#ed6b78" fill-opacity="0.15" stroke="#ed6b78" stroke-opacity="0.2" stroke-width="0.55"/>
<circle cx="569.72" cy="564.04" r="2.1" fill="#ed6b78" fill-opacity="0.15" stroke="#ed6b78" stroke-opacity="0.2" stroke-width="0.55"/>
<circle cx="567.41" cy="581.87" r="2.1" fill="#ed6b78" fill-opacity="0.15" stroke="#ed6b78" stroke-opacity="0.2" stroke-width="0.55"/>
<circle cx="569.25" cy="538.9" r="2.1" fill="#ed6b78" fill-opacity="0.15" stroke="#ed6b78" stroke-opacity="0.2" stroke-width="0.55"/>
<circle cx="566.17" cy="535.92" r="2.1" fill="#ed6b78" fill-opacity="0.15" stroke="#ed6b78" stroke-opacity="0.2" stroke-width="0.55"/>
<circle cx="570" cy="568.71" r="2.1" fill="#ed6b78" fill-opacity="0.15" stroke="#ed6b78" stroke-opacity="0.2" stroke-width="0.55"/>
<circle cx="568.43" cy="569.76" r="2.1" fill="#ed6b78" fill-opacity="0.15" stroke="#ed6b78" stroke-opacity="0.2" stroke-width="0.55"/>
<circle cx="568.43" cy="545.92" r="2.1" fill="#ed6b78" fill-opacity="0.15" stroke="#ed6b78" stroke-opacity="0.2" stroke-width="0.55"/>
<circle cx="566.62" cy="546.08" r="2.1" fill="#ed6b78" fill-opacity="0.15" stroke="#ed6b78" stroke-opacity="0.2" stroke-width="0.55"/>
<circle cx="569.38" cy="572.34" r="2.1" fill="#ed6b78" fill-opacity="0.15" stroke="#ed6b78" stroke-opacity="0.2" stroke-width="0.55"/>
<circle cx="563" cy="566.02" r="2.1" fill="#ed6b78" fill-opacity="0.15" stroke="#ed6b78" stroke-opacity="0.2" stroke-width="0.55"/>
<circle cx="562.87" cy="539.01" r="2.1" fill="#ed6b78" fill-opacity="0.15" stroke="#ed6b78" stroke-opacity="0.2" stroke-width="0.55"/>
<circle cx="567.47" cy="574.06" r="2.1" fill="#ed6b78" fill-opacity="0.15" stroke="#ed6b78" stroke-opacity="0.2" stroke-width="0.55"/>
<circle cx="567.13" cy="567.1" r="2.1" fill="#ed6b78" fill-opacity="0.15" stroke="#ed6b78" stroke-opacity="0.2" stroke-width="0.55"/>
<circle cx="569.56" cy="574.37" r="2.1" fill="#ed6b78" fill-opacity="0.15" stroke="#ed6b78" stroke-opacity="0.2" stroke-width="0.55"/>
<circle cx="569.68" cy="569.03" r="2.1" fill="#ed6b78" fill-opacity="0.15" stroke="#ed6b78" stroke-opacity="0.2" stroke-width="0.55"/>
<circle cx="564.36" cy="588.55" r="2.1" fill="#ed6b78" fill-opacity="0.15" stroke="#ed6b78" stroke-opacity="0.2" stroke-width="0.55"/>
<circle cx="563.8" cy="585.7" r="2.1" fill="#ed6b78" fill-opacity="0.15" stroke="#ed6b78" stroke-opacity="0.2" stroke-width="0.55"/>
<circle cx="566.78" cy="545.5" r="2.1" fill="#ed6b78" fill-opacity="0.15" stroke="#ed6b78" stroke-opacity="0.2" stroke-width="0.55"/>
<circle cx="567.76" cy="576.17" r="2.1" fill="#ed6b78" fill-opacity="0.15" stroke="#ed6b78" stroke-opacity="0.2" stroke-width="0.55"/>
<circle cx="568.02" cy="576.84" r="2.1" fill="#ed6b78" fill-opacity="0.15" stroke="#ed6b78" stroke-opacity="0.2" stroke-width="0.55"/>
<circle cx="565.41" cy="549.26" r="2.1" fill="#ed6b78" fill-opacity="0.15" stroke="#ed6b78" stroke-opacity="0.2" stroke-width="0.55"/>
<circle cx="561.7" cy="541.6" r="2.1" fill="#ed6b78" fill-opacity="0.15" stroke="#ed6b78" stroke-opacity="0.2" stroke-width="0.55"/>
<circle cx="562.25" cy="557.96" r="2.1" fill="#ed6b78" fill-opacity="0.15" stroke="#ed6b78" stroke-opacity="0.2" stroke-width="0.55"/>
<circle cx="566.4" cy="558.42" r="2.1" fill="#ed6b78" fill-opacity="0.15" stroke="#ed6b78" stroke-opacity="0.2" stroke-width="0.55"/>
<circle cx="567.26" cy="578.17" r="2.1" fill="#ed6b78" fill-opacity="0.15" stroke="#ed6b78" stroke-opacity="0.2" stroke-width="0.55"/>
<circle cx="563.04" cy="537.16" r="2.1" fill="#ed6b78" fill-opacity="0.15" stroke="#ed6b78" stroke-opacity="0.2" stroke-width="0.55"/>
<circle cx="569.41" cy="551.73" r="2.1" fill="#ed6b78" fill-opacity="0.15" stroke="#ed6b78" stroke-opacity="0.2" stroke-width="0.55"/>
<circle cx="567.99" cy="565.16" r="2.1" fill="#ed6b78" fill-opacity="0.15" stroke="#ed6b78" stroke-opacity="0.2" stroke-width="0.55"/>
<circle cx="562.84" cy="542.6" r="2.1" fill="#ed6b78" fill-opacity="0.15" stroke="#ed6b78" stroke-opacity="0.2" stroke-width="0.55"/>
<circle cx="562.34" cy="569.09" r="2.1" fill="#ed6b78" fill-opacity="0.15" stroke="#ed6b78" stroke-opacity="0.2" stroke-width="0.55"/>
<circle cx="567.77" cy="560.86" r="2.1" fill="#ed6b78" fill-opacity="0.15" stroke="#ed6b78" stroke-opacity="0.2" stroke-width="0.55"/>
<circle cx="566.58" cy="572.69" r="2.1" fill="#ed6b78" fill-opacity="0.15" stroke="#ed6b78" stroke-opacity="0.2" stroke-width="0.55"/>
<circle cx="565.6" cy="583.71" r="2.1" fill="#ed6b78" fill-opacity="0.15" stroke="#ed6b78" stroke-opacity="0.2" stroke-width="0.55"/>
<circle cx="562.9" cy="553.61" r="2.1" fill="#ed6b78" fill-opacity="0.15" stroke="#ed6b78" stroke-opacity="0.2" stroke-width="0.55"/>
<circle cx="564.83" cy="531.1" r="2.1" fill="#ed6b78" fill-opacity="0.15" stroke="#ed6b78" stroke-opacity="0.2" stroke-width="0.55"/>
<circle cx="565.44" cy="603.5" r="2.1" fill="#ed6b78" fill-opacity="0.15" stroke="#ed6b78" stroke-opacity="0.2" stroke-width="0.55"/>
<path d="M565.7 535.7V557.4M565.7 574.9V590.5" stroke="#ed6b78" stroke-width="1.15"/>
<rect x="561" y="557.4" width="9.4" height="17.5" fill="#ed6b78" fill-opacity="0.12" stroke="#ed6b78" stroke-width="1.2"/>
<path d="M561 565.3H570.4" stroke="#ed6b78" stroke-width="2.1"/>
<circle cx="604.77" cy="573.14" r="2.1" fill="#ed6b78" fill-opacity="0.15" stroke="#ed6b78" stroke-opacity="0.2" stroke-width="0.55"/>
<circle cx="597.38" cy="547.12" r="2.1" fill="#ed6b78" fill-opacity="0.15" stroke="#ed6b78" stroke-opacity="0.2" stroke-width="0.55"/>
<circle cx="599.93" cy="561.73" r="2.1" fill="#ed6b78" fill-opacity="0.15" stroke="#ed6b78" stroke-opacity="0.2" stroke-width="0.55"/>
<circle cx="599.84" cy="580.75" r="2.1" fill="#ed6b78" fill-opacity="0.15" stroke="#ed6b78" stroke-opacity="0.2" stroke-width="0.55"/>
<circle cx="601.12" cy="569.75" r="2.1" fill="#ed6b78" fill-opacity="0.15" stroke="#ed6b78" stroke-opacity="0.2" stroke-width="0.55"/>
<circle cx="599.65" cy="537.82" r="2.1" fill="#ed6b78" fill-opacity="0.15" stroke="#ed6b78" stroke-opacity="0.2" stroke-width="0.55"/>
<circle cx="596.87" cy="549.13" r="2.1" fill="#ed6b78" fill-opacity="0.15" stroke="#ed6b78" stroke-opacity="0.2" stroke-width="0.55"/>
<circle cx="598.93" cy="546.42" r="2.1" fill="#ed6b78" fill-opacity="0.15" stroke="#ed6b78" stroke-opacity="0.2" stroke-width="0.55"/>
<circle cx="597.15" cy="572.79" r="2.1" fill="#ed6b78" fill-opacity="0.15" stroke="#ed6b78" stroke-opacity="0.2" stroke-width="0.55"/>
<circle cx="600.32" cy="589.29" r="2.1" fill="#ed6b78" fill-opacity="0.15" stroke="#ed6b78" stroke-opacity="0.2" stroke-width="0.55"/>
<circle cx="604.55" cy="562.36" r="2.1" fill="#ed6b78" fill-opacity="0.15" stroke="#ed6b78" stroke-opacity="0.2" stroke-width="0.55"/>
<circle cx="602.14" cy="575.87" r="2.1" fill="#ed6b78" fill-opacity="0.15" stroke="#ed6b78" stroke-opacity="0.2" stroke-width="0.55"/>
<circle cx="604.62" cy="576.19" r="2.1" fill="#ed6b78" fill-opacity="0.15" stroke="#ed6b78" stroke-opacity="0.2" stroke-width="0.55"/>
<circle cx="598.8" cy="536.96" r="2.1" fill="#ed6b78" fill-opacity="0.15" stroke="#ed6b78" stroke-opacity="0.2" stroke-width="0.55"/>
<circle cx="598.56" cy="536.42" r="2.1" fill="#ed6b78" fill-opacity="0.15" stroke="#ed6b78" stroke-opacity="0.2" stroke-width="0.55"/>
<circle cx="602.95" cy="578.03" r="2.1" fill="#ed6b78" fill-opacity="0.15" stroke="#ed6b78" stroke-opacity="0.2" stroke-width="0.55"/>
<circle cx="596.85" cy="593.66" r="2.1" fill="#ed6b78" fill-opacity="0.15" stroke="#ed6b78" stroke-opacity="0.2" stroke-width="0.55"/>
<circle cx="600.18" cy="563.09" r="2.1" fill="#ed6b78" fill-opacity="0.15" stroke="#ed6b78" stroke-opacity="0.2" stroke-width="0.55"/>
<circle cx="597.48" cy="565.72" r="2.1" fill="#ed6b78" fill-opacity="0.15" stroke="#ed6b78" stroke-opacity="0.2" stroke-width="0.55"/>
<circle cx="598.98" cy="587.9" r="2.1" fill="#ed6b78" fill-opacity="0.15" stroke="#ed6b78" stroke-opacity="0.2" stroke-width="0.55"/>
<circle cx="604.07" cy="537.89" r="2.1" fill="#ed6b78" fill-opacity="0.15" stroke="#ed6b78" stroke-opacity="0.2" stroke-width="0.55"/>
<circle cx="600.69" cy="543.84" r="2.1" fill="#ed6b78" fill-opacity="0.15" stroke="#ed6b78" stroke-opacity="0.2" stroke-width="0.55"/>
<circle cx="604.42" cy="561.58" r="2.1" fill="#ed6b78" fill-opacity="0.15" stroke="#ed6b78" stroke-opacity="0.2" stroke-width="0.55"/>
<circle cx="596.58" cy="586" r="2.1" fill="#ed6b78" fill-opacity="0.15" stroke="#ed6b78" stroke-opacity="0.2" stroke-width="0.55"/>
<circle cx="596.53" cy="554.47" r="2.1" fill="#ed6b78" fill-opacity="0.15" stroke="#ed6b78" stroke-opacity="0.2" stroke-width="0.55"/>
<circle cx="604.3" cy="572.89" r="2.1" fill="#ed6b78" fill-opacity="0.15" stroke="#ed6b78" stroke-opacity="0.2" stroke-width="0.55"/>
<circle cx="598.9" cy="557.66" r="2.1" fill="#ed6b78" fill-opacity="0.15" stroke="#ed6b78" stroke-opacity="0.2" stroke-width="0.55"/>
<circle cx="600.78" cy="560.16" r="2.1" fill="#ed6b78" fill-opacity="0.15" stroke="#ed6b78" stroke-opacity="0.2" stroke-width="0.55"/>
<circle cx="602.8" cy="552.07" r="2.1" fill="#ed6b78" fill-opacity="0.15" stroke="#ed6b78" stroke-opacity="0.2" stroke-width="0.55"/>
<circle cx="599.42" cy="535.81" r="2.1" fill="#ed6b78" fill-opacity="0.15" stroke="#ed6b78" stroke-opacity="0.2" stroke-width="0.55"/>
<circle cx="596.36" cy="567.95" r="2.1" fill="#ed6b78" fill-opacity="0.15" stroke="#ed6b78" stroke-opacity="0.2" stroke-width="0.55"/>
<circle cx="601.42" cy="548.16" r="2.1" fill="#ed6b78" fill-opacity="0.15" stroke="#ed6b78" stroke-opacity="0.2" stroke-width="0.55"/>
<circle cx="596.6" cy="590.63" r="2.1" fill="#ed6b78" fill-opacity="0.15" stroke="#ed6b78" stroke-opacity="0.2" stroke-width="0.55"/>
<circle cx="598.64" cy="579.2" r="2.1" fill="#ed6b78" fill-opacity="0.15" stroke="#ed6b78" stroke-opacity="0.2" stroke-width="0.55"/>
<circle cx="598.88" cy="555" r="2.1" fill="#ed6b78" fill-opacity="0.15" stroke="#ed6b78" stroke-opacity="0.2" stroke-width="0.55"/>
<circle cx="596.37" cy="562.26" r="2.1" fill="#ed6b78" fill-opacity="0.15" stroke="#ed6b78" stroke-opacity="0.2" stroke-width="0.55"/>
<circle cx="603.7" cy="562.71" r="2.1" fill="#ed6b78" fill-opacity="0.15" stroke="#ed6b78" stroke-opacity="0.2" stroke-width="0.55"/>
<circle cx="600.79" cy="575.19" r="2.1" fill="#ed6b78" fill-opacity="0.15" stroke="#ed6b78" stroke-opacity="0.2" stroke-width="0.55"/>
<circle cx="597.66" cy="574.34" r="2.1" fill="#ed6b78" fill-opacity="0.15" stroke="#ed6b78" stroke-opacity="0.2" stroke-width="0.55"/>
<circle cx="603.73" cy="541.82" r="2.1" fill="#ed6b78" fill-opacity="0.15" stroke="#ed6b78" stroke-opacity="0.2" stroke-width="0.55"/>
<circle cx="600.84" cy="554.89" r="2.1" fill="#ed6b78" fill-opacity="0.15" stroke="#ed6b78" stroke-opacity="0.2" stroke-width="0.55"/>
<circle cx="601.24" cy="533.85" r="2.1" fill="#ed6b78" fill-opacity="0.15" stroke="#ed6b78" stroke-opacity="0.2" stroke-width="0.55"/>
<circle cx="599.1" cy="563.98" r="2.1" fill="#ed6b78" fill-opacity="0.15" stroke="#ed6b78" stroke-opacity="0.2" stroke-width="0.55"/>
<circle cx="599.91" cy="580.57" r="2.1" fill="#ed6b78" fill-opacity="0.15" stroke="#ed6b78" stroke-opacity="0.2" stroke-width="0.55"/>
<circle cx="599.42" cy="584.62" r="2.1" fill="#ed6b78" fill-opacity="0.15" stroke="#ed6b78" stroke-opacity="0.2" stroke-width="0.55"/>
<circle cx="601.25" cy="533.99" r="2.1" fill="#ed6b78" fill-opacity="0.15" stroke="#ed6b78" stroke-opacity="0.2" stroke-width="0.55"/>
<circle cx="598.14" cy="568.55" r="2.1" fill="#ed6b78" fill-opacity="0.15" stroke="#ed6b78" stroke-opacity="0.2" stroke-width="0.55"/>
<circle cx="601.79" cy="566.05" r="2.1" fill="#ed6b78" fill-opacity="0.15" stroke="#ed6b78" stroke-opacity="0.2" stroke-width="0.55"/>
<circle cx="597.36" cy="591.09" r="2.1" fill="#ed6b78" fill-opacity="0.15" stroke="#ed6b78" stroke-opacity="0.2" stroke-width="0.55"/>
<circle cx="604.16" cy="565.84" r="2.1" fill="#ed6b78" fill-opacity="0.15" stroke="#ed6b78" stroke-opacity="0.2" stroke-width="0.55"/>
<path d="M600.6 533.4V557.4M600.6 573.3V595.5" stroke="#ed6b78" stroke-width="1.15"/>
<rect x="595.9" y="557.4" width="9.4" height="15.9" fill="#ed6b78" fill-opacity="0.12" stroke="#ed6b78" stroke-width="1.2"/>
<path d="M595.9 564.7H605.3" stroke="#ed6b78" stroke-width="2.1"/>
<circle cx="634.52" cy="553.87" r="2.1" fill="#ed6b78" fill-opacity="0.15" stroke="#ed6b78" stroke-opacity="0.2" stroke-width="0.55"/>
<circle cx="634.27" cy="522.43" r="2.1" fill="#ed6b78" fill-opacity="0.15" stroke="#ed6b78" stroke-opacity="0.2" stroke-width="0.55"/>
<circle cx="635.45" cy="537.42" r="2.1" fill="#ed6b78" fill-opacity="0.15" stroke="#ed6b78" stroke-opacity="0.2" stroke-width="0.55"/>
<circle cx="640.09" cy="552.4" r="2.1" fill="#ed6b78" fill-opacity="0.15" stroke="#ed6b78" stroke-opacity="0.2" stroke-width="0.55"/>
<circle cx="638.75" cy="534.44" r="2.1" fill="#ed6b78" fill-opacity="0.15" stroke="#ed6b78" stroke-opacity="0.2" stroke-width="0.55"/>
<circle cx="637.19" cy="583.7" r="2.1" fill="#ed6b78" fill-opacity="0.15" stroke="#ed6b78" stroke-opacity="0.2" stroke-width="0.55"/>
<circle cx="637.97" cy="540.24" r="2.1" fill="#ed6b78" fill-opacity="0.15" stroke="#ed6b78" stroke-opacity="0.2" stroke-width="0.55"/>
<circle cx="632.94" cy="525.17" r="2.1" fill="#ed6b78" fill-opacity="0.15" stroke="#ed6b78" stroke-opacity="0.2" stroke-width="0.55"/>
<circle cx="639" cy="559.57" r="2.1" fill="#ed6b78" fill-opacity="0.15" stroke="#ed6b78" stroke-opacity="0.2" stroke-width="0.55"/>
<circle cx="634.31" cy="534.44" r="2.1" fill="#ed6b78" fill-opacity="0.15" stroke="#ed6b78" stroke-opacity="0.2" stroke-width="0.55"/>
<circle cx="637.15" cy="543.96" r="2.1" fill="#ed6b78" fill-opacity="0.15" stroke="#ed6b78" stroke-opacity="0.2" stroke-width="0.55"/>
<circle cx="636.98" cy="543.35" r="2.1" fill="#ed6b78" fill-opacity="0.15" stroke="#ed6b78" stroke-opacity="0.2" stroke-width="0.55"/>
<circle cx="638.64" cy="556.15" r="2.1" fill="#ed6b78" fill-opacity="0.15" stroke="#ed6b78" stroke-opacity="0.2" stroke-width="0.55"/>
<circle cx="635.84" cy="542.84" r="2.1" fill="#ed6b78" fill-opacity="0.15" stroke="#ed6b78" stroke-opacity="0.2" stroke-width="0.55"/>
<circle cx="639.11" cy="550.42" r="2.1" fill="#ed6b78" fill-opacity="0.15" stroke="#ed6b78" stroke-opacity="0.2" stroke-width="0.55"/>
<circle cx="637.57" cy="545.12" r="2.1" fill="#ed6b78" fill-opacity="0.15" stroke="#ed6b78" stroke-opacity="0.2" stroke-width="0.55"/>
<circle cx="638.66" cy="559.26" r="2.1" fill="#ed6b78" fill-opacity="0.15" stroke="#ed6b78" stroke-opacity="0.2" stroke-width="0.55"/>
<circle cx="634.06" cy="575.24" r="2.1" fill="#ed6b78" fill-opacity="0.15" stroke="#ed6b78" stroke-opacity="0.2" stroke-width="0.55"/>
<circle cx="637.04" cy="563.29" r="2.1" fill="#ed6b78" fill-opacity="0.15" stroke="#ed6b78" stroke-opacity="0.2" stroke-width="0.55"/>
<circle cx="639.77" cy="542.94" r="2.1" fill="#ed6b78" fill-opacity="0.15" stroke="#ed6b78" stroke-opacity="0.2" stroke-width="0.55"/>
<circle cx="634.85" cy="587.9" r="2.1" fill="#ed6b78" fill-opacity="0.15" stroke="#ed6b78" stroke-opacity="0.2" stroke-width="0.55"/>
<circle cx="634.28" cy="554.87" r="2.1" fill="#ed6b78" fill-opacity="0.15" stroke="#ed6b78" stroke-opacity="0.2" stroke-width="0.55"/>
<circle cx="633.06" cy="585.86" r="2.1" fill="#ed6b78" fill-opacity="0.15" stroke="#ed6b78" stroke-opacity="0.2" stroke-width="0.55"/>
<circle cx="634.83" cy="547.9" r="2.1" fill="#ed6b78" fill-opacity="0.15" stroke="#ed6b78" stroke-opacity="0.2" stroke-width="0.55"/>
<circle cx="634.9" cy="573.46" r="2.1" fill="#ed6b78" fill-opacity="0.15" stroke="#ed6b78" stroke-opacity="0.2" stroke-width="0.55"/>
<circle cx="632.22" cy="559.82" r="2.1" fill="#ed6b78" fill-opacity="0.15" stroke="#ed6b78" stroke-opacity="0.2" stroke-width="0.55"/>
<circle cx="639.19" cy="542.62" r="2.1" fill="#ed6b78" fill-opacity="0.15" stroke="#ed6b78" stroke-opacity="0.2" stroke-width="0.55"/>
<circle cx="633.4" cy="541.47" r="2.1" fill="#ed6b78" fill-opacity="0.15" stroke="#ed6b78" stroke-opacity="0.2" stroke-width="0.55"/>
<circle cx="635.95" cy="564.06" r="2.1" fill="#ed6b78" fill-opacity="0.15" stroke="#ed6b78" stroke-opacity="0.2" stroke-width="0.55"/>
<circle cx="631.98" cy="573.89" r="2.1" fill="#ed6b78" fill-opacity="0.15" stroke="#ed6b78" stroke-opacity="0.2" stroke-width="0.55"/>
<circle cx="635.97" cy="530.28" r="2.1" fill="#ed6b78" fill-opacity="0.15" stroke="#ed6b78" stroke-opacity="0.2" stroke-width="0.55"/>
<circle cx="637.73" cy="547.27" r="2.1" fill="#ed6b78" fill-opacity="0.15" stroke="#ed6b78" stroke-opacity="0.2" stroke-width="0.55"/>
<circle cx="639.88" cy="543.56" r="2.1" fill="#ed6b78" fill-opacity="0.15" stroke="#ed6b78" stroke-opacity="0.2" stroke-width="0.55"/>
<circle cx="634.75" cy="547.74" r="2.1" fill="#ed6b78" fill-opacity="0.15" stroke="#ed6b78" stroke-opacity="0.2" stroke-width="0.55"/>
<circle cx="636.51" cy="522.64" r="2.1" fill="#ed6b78" fill-opacity="0.15" stroke="#ed6b78" stroke-opacity="0.2" stroke-width="0.55"/>
<circle cx="639.63" cy="573.64" r="2.1" fill="#ed6b78" fill-opacity="0.15" stroke="#ed6b78" stroke-opacity="0.2" stroke-width="0.55"/>
<circle cx="634.53" cy="571.47" r="2.1" fill="#ed6b78" fill-opacity="0.15" stroke="#ed6b78" stroke-opacity="0.2" stroke-width="0.55"/>
<circle cx="639.07" cy="551.29" r="2.1" fill="#ed6b78" fill-opacity="0.15" stroke="#ed6b78" stroke-opacity="0.2" stroke-width="0.55"/>
<circle cx="632.17" cy="577.9" r="2.1" fill="#ed6b78" fill-opacity="0.15" stroke="#ed6b78" stroke-opacity="0.2" stroke-width="0.55"/>
<circle cx="635.06" cy="523.86" r="2.1" fill="#ed6b78" fill-opacity="0.15" stroke="#ed6b78" stroke-opacity="0.2" stroke-width="0.55"/>
<circle cx="637.22" cy="534.56" r="2.1" fill="#ed6b78" fill-opacity="0.15" stroke="#ed6b78" stroke-opacity="0.2" stroke-width="0.55"/>
<circle cx="638.03" cy="552.02" r="2.1" fill="#ed6b78" fill-opacity="0.15" stroke="#ed6b78" stroke-opacity="0.2" stroke-width="0.55"/>
<circle cx="634.67" cy="564.51" r="2.1" fill="#ed6b78" fill-opacity="0.15" stroke="#ed6b78" stroke-opacity="0.2" stroke-width="0.55"/>
<circle cx="634.78" cy="522.33" r="2.1" fill="#ed6b78" fill-opacity="0.15" stroke="#ed6b78" stroke-opacity="0.2" stroke-width="0.55"/>
<circle cx="634.46" cy="558.48" r="2.1" fill="#ed6b78" fill-opacity="0.15" stroke="#ed6b78" stroke-opacity="0.2" stroke-width="0.55"/>
<circle cx="632.79" cy="539.3" r="2.1" fill="#ed6b78" fill-opacity="0.15" stroke="#ed6b78" stroke-opacity="0.2" stroke-width="0.55"/>
<circle cx="632.58" cy="522.6" r="2.1" fill="#ed6b78" fill-opacity="0.15" stroke="#ed6b78" stroke-opacity="0.2" stroke-width="0.55"/>
<circle cx="632.04" cy="563.46" r="2.1" fill="#ed6b78" fill-opacity="0.15" stroke="#ed6b78" stroke-opacity="0.2" stroke-width="0.55"/>
<circle cx="632.57" cy="557.94" r="2.1" fill="#ed6b78" fill-opacity="0.15" stroke="#ed6b78" stroke-opacity="0.2" stroke-width="0.55"/>
<circle cx="633.29" cy="568.51" r="2.1" fill="#ed6b78" fill-opacity="0.15" stroke="#ed6b78" stroke-opacity="0.2" stroke-width="0.55"/>
<path d="M635.9 522V542.6M635.9 559.7V588.3" stroke="#ed6b78" stroke-width="1.15"/>
<rect x="631.2" y="542.6" width="9.4" height="17.1" fill="#ed6b78" fill-opacity="0.12" stroke="#ed6b78" stroke-width="1.2"/>
<path d="M631.2 551.7H640.6" stroke="#ed6b78" stroke-width="2.1"/>
<circle cx="671.75" cy="552.8" r="2.1" fill="#ed6b78" fill-opacity="0.15" stroke="#ed6b78" stroke-opacity="0.2" stroke-width="0.55"/>
<circle cx="666.54" cy="544.96" r="2.1" fill="#ed6b78" fill-opacity="0.15" stroke="#ed6b78" stroke-opacity="0.2" stroke-width="0.55"/>
<circle cx="667.43" cy="540.31" r="2.1" fill="#ed6b78" fill-opacity="0.15" stroke="#ed6b78" stroke-opacity="0.2" stroke-width="0.55"/>
<circle cx="672.08" cy="548.66" r="2.1" fill="#ed6b78" fill-opacity="0.15" stroke="#ed6b78" stroke-opacity="0.2" stroke-width="0.55"/>
<circle cx="672.73" cy="544.2" r="2.1" fill="#ed6b78" fill-opacity="0.15" stroke="#ed6b78" stroke-opacity="0.2" stroke-width="0.55"/>
<circle cx="668.24" cy="542.51" r="2.1" fill="#ed6b78" fill-opacity="0.15" stroke="#ed6b78" stroke-opacity="0.2" stroke-width="0.55"/>
<circle cx="672.53" cy="547.58" r="2.1" fill="#ed6b78" fill-opacity="0.15" stroke="#ed6b78" stroke-opacity="0.2" stroke-width="0.55"/>
<circle cx="668.3" cy="550.95" r="2.1" fill="#ed6b78" fill-opacity="0.15" stroke="#ed6b78" stroke-opacity="0.2" stroke-width="0.55"/>
<circle cx="672.88" cy="547.74" r="2.1" fill="#ed6b78" fill-opacity="0.15" stroke="#ed6b78" stroke-opacity="0.2" stroke-width="0.55"/>
<circle cx="668.85" cy="566.25" r="2.1" fill="#ed6b78" fill-opacity="0.15" stroke="#ed6b78" stroke-opacity="0.2" stroke-width="0.55"/>
<circle cx="673.75" cy="547.99" r="2.1" fill="#ed6b78" fill-opacity="0.15" stroke="#ed6b78" stroke-opacity="0.2" stroke-width="0.55"/>
<circle cx="673.27" cy="571.59" r="2.1" fill="#ed6b78" fill-opacity="0.15" stroke="#ed6b78" stroke-opacity="0.2" stroke-width="0.55"/>
<circle cx="670.65" cy="542.91" r="2.1" fill="#ed6b78" fill-opacity="0.15" stroke="#ed6b78" stroke-opacity="0.2" stroke-width="0.55"/>
<circle cx="673.24" cy="530.92" r="2.1" fill="#ed6b78" fill-opacity="0.15" stroke="#ed6b78" stroke-opacity="0.2" stroke-width="0.55"/>
<circle cx="672.65" cy="531.08" r="2.1" fill="#ed6b78" fill-opacity="0.15" stroke="#ed6b78" stroke-opacity="0.2" stroke-width="0.55"/>
<circle cx="668.48" cy="539.45" r="2.1" fill="#ed6b78" fill-opacity="0.15" stroke="#ed6b78" stroke-opacity="0.2" stroke-width="0.55"/>
<circle cx="668.79" cy="569.13" r="2.1" fill="#ed6b78" fill-opacity="0.15" stroke="#ed6b78" stroke-opacity="0.2" stroke-width="0.55"/>
<circle cx="670.28" cy="531.61" r="2.1" fill="#ed6b78" fill-opacity="0.15" stroke="#ed6b78" stroke-opacity="0.2" stroke-width="0.55"/>
<circle cx="672.14" cy="540.3" r="2.1" fill="#ed6b78" fill-opacity="0.15" stroke="#ed6b78" stroke-opacity="0.2" stroke-width="0.55"/>
<circle cx="671.96" cy="545.16" r="2.1" fill="#ed6b78" fill-opacity="0.15" stroke="#ed6b78" stroke-opacity="0.2" stroke-width="0.55"/>
<circle cx="673.3" cy="538.76" r="2.1" fill="#ed6b78" fill-opacity="0.15" stroke="#ed6b78" stroke-opacity="0.2" stroke-width="0.55"/>
<circle cx="671.55" cy="541.58" r="2.1" fill="#ed6b78" fill-opacity="0.15" stroke="#ed6b78" stroke-opacity="0.2" stroke-width="0.55"/>
<circle cx="667.83" cy="547.01" r="2.1" fill="#ed6b78" fill-opacity="0.15" stroke="#ed6b78" stroke-opacity="0.2" stroke-width="0.55"/>
<circle cx="666.6" cy="568.2" r="2.1" fill="#ed6b78" fill-opacity="0.15" stroke="#ed6b78" stroke-opacity="0.2" stroke-width="0.55"/>
<circle cx="668.96" cy="536.64" r="2.1" fill="#ed6b78" fill-opacity="0.15" stroke="#ed6b78" stroke-opacity="0.2" stroke-width="0.55"/>
<circle cx="672.94" cy="560.5" r="2.1" fill="#ed6b78" fill-opacity="0.15" stroke="#ed6b78" stroke-opacity="0.2" stroke-width="0.55"/>
<circle cx="669.78" cy="551.07" r="2.1" fill="#ed6b78" fill-opacity="0.15" stroke="#ed6b78" stroke-opacity="0.2" stroke-width="0.55"/>
<circle cx="670.51" cy="552.9" r="2.1" fill="#ed6b78" fill-opacity="0.15" stroke="#ed6b78" stroke-opacity="0.2" stroke-width="0.55"/>
<circle cx="670.98" cy="558.54" r="2.1" fill="#ed6b78" fill-opacity="0.15" stroke="#ed6b78" stroke-opacity="0.2" stroke-width="0.55"/>
<circle cx="672.93" cy="554.38" r="2.1" fill="#ed6b78" fill-opacity="0.15" stroke="#ed6b78" stroke-opacity="0.2" stroke-width="0.55"/>
<circle cx="668.14" cy="546.04" r="2.1" fill="#ed6b78" fill-opacity="0.15" stroke="#ed6b78" stroke-opacity="0.2" stroke-width="0.55"/>
<circle cx="674.69" cy="550.78" r="2.1" fill="#ed6b78" fill-opacity="0.15" stroke="#ed6b78" stroke-opacity="0.2" stroke-width="0.55"/>
<circle cx="669.11" cy="549.98" r="2.1" fill="#ed6b78" fill-opacity="0.15" stroke="#ed6b78" stroke-opacity="0.2" stroke-width="0.55"/>
<circle cx="674.06" cy="538.78" r="2.1" fill="#ed6b78" fill-opacity="0.15" stroke="#ed6b78" stroke-opacity="0.2" stroke-width="0.55"/>
<circle cx="666.56" cy="541.56" r="2.1" fill="#ed6b78" fill-opacity="0.15" stroke="#ed6b78" stroke-opacity="0.2" stroke-width="0.55"/>
<circle cx="670.5" cy="557.65" r="2.1" fill="#ed6b78" fill-opacity="0.15" stroke="#ed6b78" stroke-opacity="0.2" stroke-width="0.55"/>
<circle cx="669.21" cy="551.83" r="2.1" fill="#ed6b78" fill-opacity="0.15" stroke="#ed6b78" stroke-opacity="0.2" stroke-width="0.55"/>
<circle cx="670.25" cy="555.38" r="2.1" fill="#ed6b78" fill-opacity="0.15" stroke="#ed6b78" stroke-opacity="0.2" stroke-width="0.55"/>
<circle cx="667.02" cy="546.42" r="2.1" fill="#ed6b78" fill-opacity="0.15" stroke="#ed6b78" stroke-opacity="0.2" stroke-width="0.55"/>
<circle cx="670.76" cy="552.51" r="2.1" fill="#ed6b78" fill-opacity="0.15" stroke="#ed6b78" stroke-opacity="0.2" stroke-width="0.55"/>
<circle cx="667.86" cy="554.62" r="2.1" fill="#ed6b78" fill-opacity="0.15" stroke="#ed6b78" stroke-opacity="0.2" stroke-width="0.55"/>
<circle cx="673.81" cy="548.77" r="2.1" fill="#ed6b78" fill-opacity="0.15" stroke="#ed6b78" stroke-opacity="0.2" stroke-width="0.55"/>
<circle cx="669.02" cy="531.67" r="2.1" fill="#ed6b78" fill-opacity="0.15" stroke="#ed6b78" stroke-opacity="0.2" stroke-width="0.55"/>
<circle cx="673.15" cy="545.28" r="2.1" fill="#ed6b78" fill-opacity="0.15" stroke="#ed6b78" stroke-opacity="0.2" stroke-width="0.55"/>
<circle cx="666.97" cy="549.3" r="2.1" fill="#ed6b78" fill-opacity="0.15" stroke="#ed6b78" stroke-opacity="0.2" stroke-width="0.55"/>
<circle cx="672.69" cy="546.26" r="2.1" fill="#ed6b78" fill-opacity="0.15" stroke="#ed6b78" stroke-opacity="0.2" stroke-width="0.55"/>
<circle cx="671.24" cy="568.18" r="2.1" fill="#ed6b78" fill-opacity="0.15" stroke="#ed6b78" stroke-opacity="0.2" stroke-width="0.55"/>
<circle cx="666.8" cy="567.24" r="2.1" fill="#ed6b78" fill-opacity="0.15" stroke="#ed6b78" stroke-opacity="0.2" stroke-width="0.55"/>
<circle cx="668.02" cy="529.73" r="2.1" fill="#ed6b78" fill-opacity="0.15" stroke="#ed6b78" stroke-opacity="0.2" stroke-width="0.55"/>
<circle cx="666.57" cy="537.46" r="2.1" fill="#ed6b78" fill-opacity="0.15" stroke="#ed6b78" stroke-opacity="0.2" stroke-width="0.55"/>
<path d="M670.8 528.8V542.6M670.8 556.3V573.4" stroke="#ed6b78" stroke-width="1.15"/>
<rect x="666.1" y="542.6" width="9.4" height="13.7" fill="#ed6b78" fill-opacity="0.12" stroke="#ed6b78" stroke-width="1.2"/>
<path d="M666.1 549H675.5" stroke="#ed6b78" stroke-width="2.1"/>
<text transform="translate(352,660) rotate(-45)" font-size="7.5" fill="#2a2a2a" text-anchor="end">chr10_509</text>
<text transform="translate(387.05,660) rotate(-45)" font-size="7.5" fill="#2a2a2a" text-anchor="end">chr20_78</text>
<text transform="translate(422.1,660) rotate(-45)" font-size="7.5" fill="#2a2a2a" text-anchor="end">R chr21_4</text>
<text transform="translate(457.15,660) rotate(-45)" font-size="7.5" fill="#2a2a2a" text-anchor="end">chr3_411</text>
<text transform="translate(492.2,660) rotate(-45)" font-size="7.5" fill="#2a2a2a" text-anchor="end">chr3_467</text>
<text transform="translate(527.25,660) rotate(-45)" font-size="7.5" fill="#2a2a2a" text-anchor="end">chr4_715</text>
<text transform="translate(562.3,660) rotate(-45)" font-size="7.5" fill="#2a2a2a" text-anchor="end">chr5_204</text>
<text transform="translate(597.35,660) rotate(-45)" font-size="7.5" fill="#2a2a2a" text-anchor="end">chr8_441</text>
<text transform="translate(632.4,660) rotate(-45)" font-size="7.5" fill="#2a2a2a" text-anchor="end">chr9_245</text>
<text transform="translate(667.45,660) rotate(-45)" font-size="7.5" fill="#2a2a2a" text-anchor="end">chrX_492</text>
<path d="M348.9 651V654M383.95 651V654M419 651V654M454.05 651V654M489.1 651V654M524.15 651V654M559.2 651V654M594.25 651V654M629.3 651V654M664.35 651V654" stroke="#333" stroke-width="1"/>
<path d="M478.5 688V690M478.5 697.8V699.7" stroke="#4f5f9e" stroke-width="0.9"/>
<rect x="472.7" y="690" width="11.6" height="7.8" fill="#fff" stroke="#4f5f9e" stroke-width="0.9"/>
<path d="M472.7 693.9H484.3" stroke="#4f5f9e" stroke-width="0.9"/>
<text x="489.5" y="696.4" font-size="6">NAP</text>
<path d="M512.8 688V690M512.8 697.8V699.7" stroke="#ed6b78" stroke-width="0.9"/>
<rect x="507" y="690" width="11.6" height="7.8" fill="#fff" stroke="#ed6b78" stroke-width="0.9"/>
<path d="M507 693.9H518.6" stroke="#ed6b78" stroke-width="0.9"/>
<text x="523.3" y="696.4" font-size="6">Tumor</text>
</svg>
</body></html>
